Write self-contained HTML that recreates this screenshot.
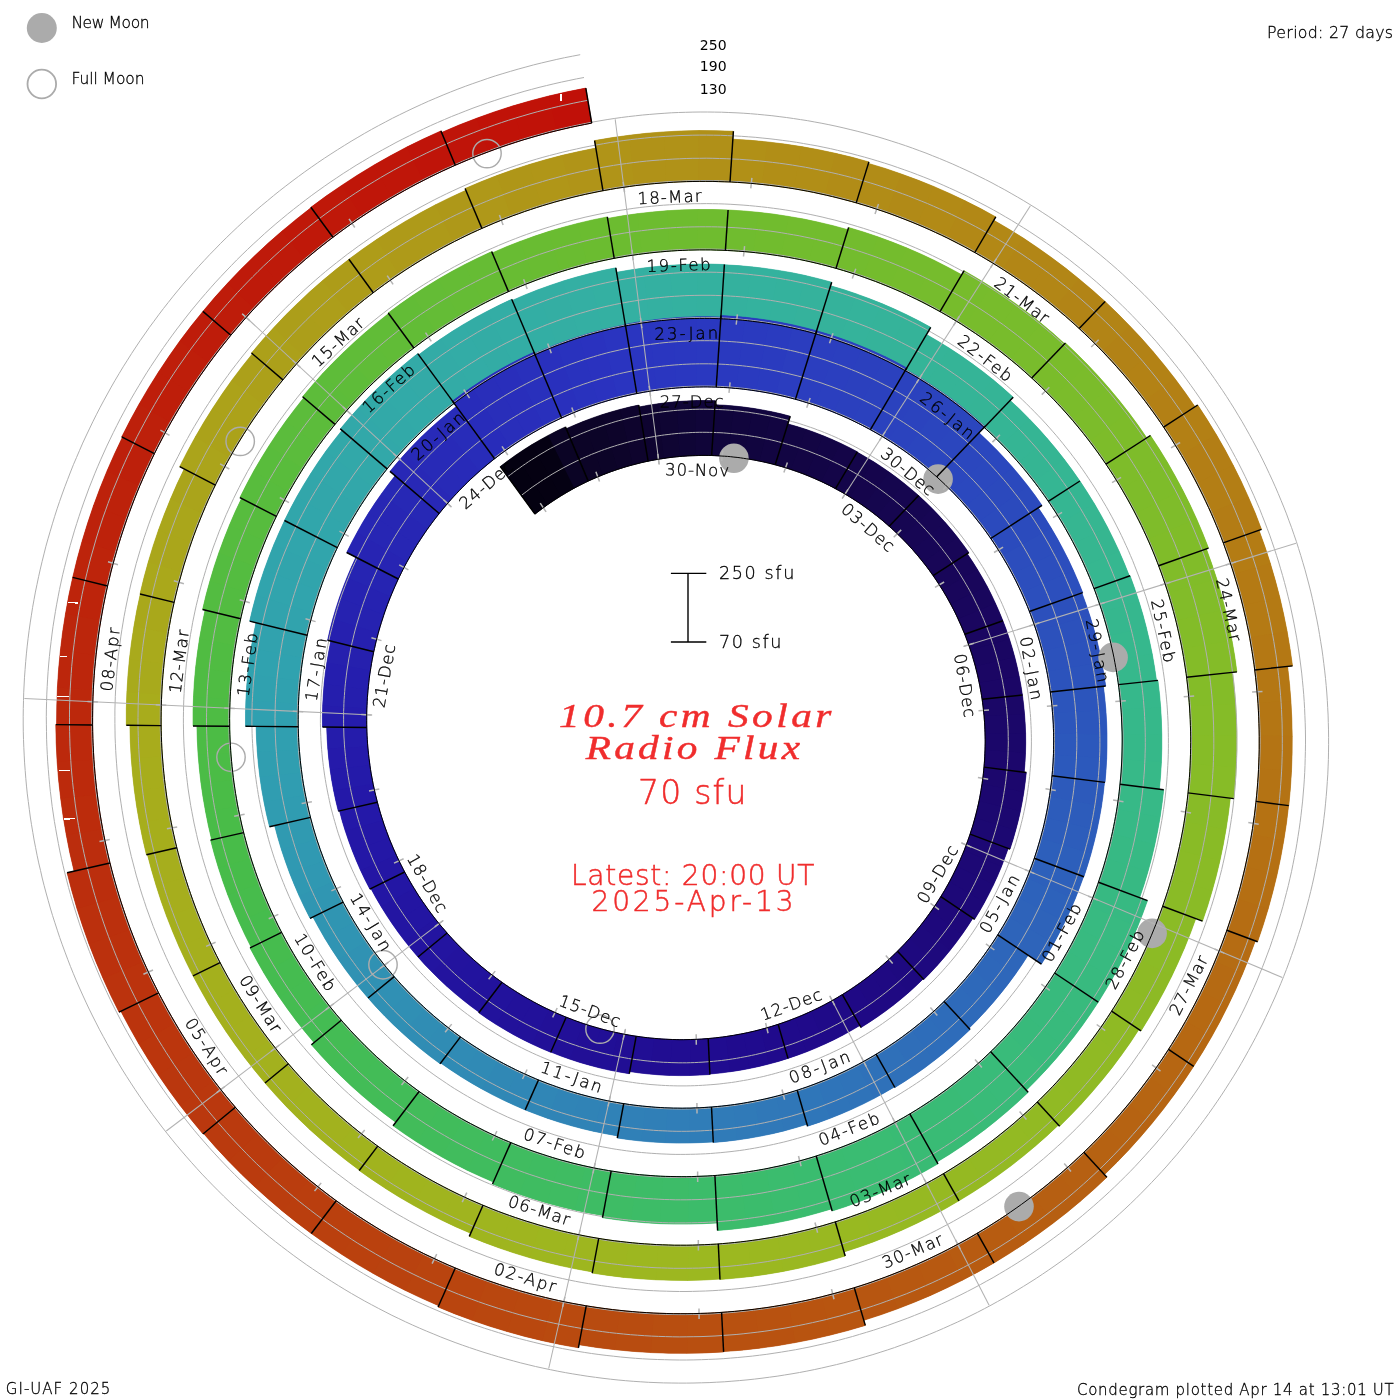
<!DOCTYPE html>
<html lang="en"><head><meta charset="utf-8"><title>10.7 cm Solar Radio Flux condegram</title>
<style>
html,body{margin:0;padding:0;background:#fff;}
body{width:1400px;height:1400px;overflow:hidden;}
svg{display:block;}
text{font-family:'DejaVu Sans Light','DejaVu Sans','Liberation Sans',sans-serif;font-weight:200;stroke:#000;stroke-width:0.3px;}
.k{font-weight:400;font-family:'DejaVu Sans','Liberation Sans',sans-serif;stroke:none;}
.r{fill:#f02d2d;stroke:#f02d2d;stroke-width:0.5px;}
.ti{font-family:'Liberation Serif','DejaVu Serif',serif;font-style:italic;font-weight:400;stroke-width:0.45px;}
</style></head><body>
<svg width="1400" height="1400" viewBox="0 0 1400 1400">
<rect width="1400" height="1400" fill="#fff"/>
<g stroke="none">
<path d="M455.3,165.2 L471.8,158.3 L488.4,151.8 L505.2,145.8 L522.2,140.2 L539.4,135.2 L556.7,130.7 L574.1,126.7 L591.7,123.1 L585.8,88.1 L567.2,91.8 L548.8,96.0 L530.5,100.8 L512.3,106.1 L494.3,111.9 L476.5,118.3 L458.9,125.1 L441.6,132.5Z" fill="#c01208" stroke="#c01208" stroke-width="0.6"/>
<path d="M455.3,165.2 L472.2,158.1 L489.2,151.5 L477.4,117.9 L459.4,124.9 L441.6,132.5Z" fill="#bf1409"/>
<path d="M488.4,151.8 L505.6,145.6 L523.0,140.0 L513.2,105.8 L494.8,111.8 L476.5,118.3Z" fill="#c01208"/>
<path d="M522.2,140.2 L539.8,135.1 L557.5,130.5 L549.7,95.8 L530.9,100.7 L512.3,106.1Z" fill="#c01208"/>
<path d="M556.7,130.7 L574.1,126.7 L591.7,123.1 L585.8,88.1 L567.2,91.8 L548.8,96.0Z" fill="#c01008"/>
<path d="M332.9,237.3 L347.2,226.8 L361.8,216.7 L376.8,207.0 L392.0,197.8 L407.4,188.9 L423.2,180.6 L439.1,172.7 L455.3,165.2 L440.9,130.9 L423.7,138.8 L406.7,147.1 L390.0,156.0 L373.6,165.3 L357.5,175.1 L341.7,185.4 L326.1,196.1 L310.9,207.3Z" fill="#bf1609" stroke="#bf1609" stroke-width="0.6"/>
<path d="M332.9,237.3 L347.6,226.6 L362.5,216.2 L342.4,184.9 L326.5,195.8 L310.9,207.3Z" fill="#bf1809"/>
<path d="M361.8,216.7 L377.1,206.8 L392.7,197.3 L374.4,164.9 L357.9,174.9 L341.7,185.4Z" fill="#bf1609"/>
<path d="M392.0,197.8 L407.8,188.7 L423.9,180.2 L407.6,146.7 L390.4,155.8 L373.6,165.3Z" fill="#bf1609"/>
<path d="M423.2,180.6 L439.1,172.7 L455.3,165.2 L440.9,130.9 L423.7,138.8 L406.7,147.1Z" fill="#bf1409"/>
<path d="M230.8,335.3 L242.3,321.8 L254.1,308.7 L266.3,295.9 L279.0,283.4 L291.9,271.3 L305.2,259.6 L318.9,248.3 L332.9,237.3 L311.2,207.6 L296.4,219.2 L281.9,231.2 L267.7,243.6 L254.0,256.4 L240.6,269.6 L227.6,283.2 L215.0,297.1 L202.9,311.4Z" fill="#be1a0a" stroke="#be1a0a" stroke-width="0.6"/>
<path d="M230.8,335.3 L242.6,321.5 L254.7,308.1 L228.2,282.5 L215.3,296.8 L202.9,311.4Z" fill="#be1c0a"/>
<path d="M254.1,308.7 L266.6,295.6 L279.6,282.8 L254.6,255.8 L240.9,269.3 L227.6,283.2Z" fill="#be1a0a"/>
<path d="M279.0,283.4 L292.2,271.0 L305.9,259.0 L282.5,230.6 L268.1,243.3 L254.0,256.4Z" fill="#be1a0a"/>
<path d="M305.2,259.6 L318.9,248.3 L332.9,237.3 L311.2,207.6 L296.4,219.2 L281.9,231.2Z" fill="#bf1809"/>
<path d="M154.4,453.7 L162.4,438.0 L170.9,422.6 L179.8,407.3 L189.1,392.4 L198.9,377.7 L209.1,363.3 L219.8,349.1 L230.8,335.3 L202.9,311.4 L191.1,326.1 L179.8,341.0 L169.0,356.3 L158.6,371.9 L148.7,387.7 L139.2,403.9 L130.2,420.3 L121.7,436.9Z" fill="#be1e0a" stroke="#be1e0a" stroke-width="0.6"/>
<path d="M154.4,453.7 L162.6,437.7 L171.3,421.8 L139.6,403.1 L130.4,419.9 L121.7,436.9Z" fill="#bd200b"/>
<path d="M170.9,422.6 L180.0,407.0 L189.6,391.7 L159.1,371.1 L148.9,387.4 L139.2,403.9Z" fill="#be1e0a"/>
<path d="M189.1,392.4 L199.2,377.3 L209.6,362.6 L180.4,340.3 L169.2,355.9 L158.6,371.9Z" fill="#be1e0a"/>
<path d="M209.1,363.3 L219.8,349.1 L230.8,335.3 L202.9,311.4 L191.1,326.1 L179.8,341.0Z" fill="#be1c0a"/>
<path d="M107.6,586.0 L111.7,569.0 L116.4,552.0 L121.5,535.2 L127.1,518.6 L133.2,502.1 L139.8,485.8 L146.9,469.7 L154.4,453.7 L122.4,437.3 L114.4,454.2 L106.9,471.2 L99.9,488.5 L93.4,506.0 L87.5,523.6 L82.0,541.4 L77.1,559.3 L72.7,577.4Z" fill="#bd220b" stroke="#bd220b" stroke-width="0.6"/>
<path d="M107.6,586.0 L111.8,568.6 L116.6,551.2 L82.3,540.5 L77.2,558.9 L72.7,577.4Z" fill="#bd240b"/>
<path d="M116.4,552.0 L121.6,534.8 L127.4,517.8 L93.7,505.1 L87.6,523.2 L82.0,541.4Z" fill="#bd220b"/>
<path d="M127.1,518.6 L133.4,501.7 L140.2,485.0 L107.3,470.4 L100.1,488.1 L93.4,506.0Z" fill="#bd220b"/>
<path d="M139.8,485.8 L146.9,469.7 L154.4,453.7 L122.4,437.3 L114.4,454.2 L106.9,471.2Z" fill="#bd200b"/>
<path d="M92.6,724.9 L92.7,707.5 L93.3,690.0 L94.4,672.5 L96.1,655.1 L98.2,637.7 L100.8,620.4 L104.0,603.2 L107.6,586.0 L72.7,577.4 L68.8,595.6 L65.5,613.8 L62.6,632.2 L60.4,650.6 L58.6,669.1 L57.4,687.6 L56.8,706.1 L56.6,724.6Z" fill="#bc260c" stroke="#bc260c" stroke-width="0.6"/>
<path d="M92.6,724.9 L92.7,707.0 L93.4,689.2 L57.5,686.7 L56.8,705.6 L56.6,724.6Z" fill="#bc280c"/>
<path d="M93.3,690.0 L94.5,672.1 L96.1,654.3 L60.5,649.7 L58.7,668.6 L57.4,687.6Z" fill="#bc260c"/>
<path d="M96.1,655.1 L98.2,637.3 L101.0,619.6 L65.6,613.0 L62.7,631.8 L60.4,650.6Z" fill="#bc260c"/>
<path d="M100.8,620.4 L104.0,603.2 L107.6,586.0 L72.7,577.4 L68.8,595.6 L65.5,613.8Z" fill="#bd240b"/>
<path d="M110.0,863.0 L106.1,846.0 L102.7,829.0 L99.7,811.8 L97.3,794.5 L95.4,777.2 L94.0,759.8 L93.0,742.4 L92.6,724.9 L55.8,724.6 L56.2,743.1 L57.1,761.6 L58.6,780.1 L60.7,798.5 L63.2,816.8 L66.3,835.0 L69.9,853.2 L74.1,871.2Z" fill="#bc2b0c" stroke="#bc2b0c" stroke-width="0.6"/>
<path d="M110.0,863.0 L106.0,845.6 L102.5,828.2 L66.2,834.2 L69.8,852.7 L74.1,871.2Z" fill="#bb2d0d"/>
<path d="M102.7,829.0 L99.7,811.4 L97.2,793.7 L60.5,797.6 L63.2,816.4 L66.3,835.0Z" fill="#bc2c0c"/>
<path d="M97.3,794.5 L95.3,776.8 L93.9,759.0 L57.1,760.8 L58.6,779.7 L60.7,798.5Z" fill="#bc2a0c"/>
<path d="M94.0,759.8 L93.0,742.4 L92.6,724.9 L55.8,724.6 L56.2,743.1 L57.1,761.6Z" fill="#bc290c"/>
<path d="M158.6,992.8 L150.9,977.2 L143.6,961.5 L136.9,945.5 L130.5,929.4 L124.7,913.0 L119.3,896.5 L114.4,879.8 L110.0,863.0 L67.1,872.8 L71.8,890.8 L77.0,908.7 L82.8,926.5 L89.0,944.0 L95.8,961.4 L103.1,978.6 L110.8,995.5 L119.1,1012.2Z" fill="#bb310d" stroke="#bb310d" stroke-width="0.6"/>
<path d="M158.6,992.8 L150.7,976.9 L143.3,960.7 L102.7,977.7 L110.6,995.1 L119.1,1012.2Z" fill="#bb330d"/>
<path d="M143.6,961.5 L136.7,945.1 L130.3,928.6 L88.7,943.2 L95.6,961.0 L103.1,978.6Z" fill="#bb310d"/>
<path d="M130.5,929.4 L124.6,912.6 L119.1,895.7 L76.8,907.9 L82.6,926.1 L89.0,944.0Z" fill="#bb300d"/>
<path d="M119.3,896.5 L114.4,879.8 L110.0,863.0 L67.1,872.8 L71.8,890.8 L77.0,908.7Z" fill="#bb2e0d"/>
<path d="M235.4,1107.3 L224.4,1094.1 L213.8,1080.5 L203.6,1066.5 L193.7,1052.3 L184.3,1037.8 L175.3,1023.1 L166.7,1008.0 L158.6,992.8 L120.9,1011.3 L129.6,1027.6 L138.7,1043.7 L148.4,1059.6 L158.4,1075.1 L168.9,1090.3 L179.9,1105.2 L191.3,1119.8 L203.0,1134.0Z" fill="#bb360d" stroke="#bb360d" stroke-width="0.6"/>
<path d="M235.4,1107.3 L224.2,1093.7 L213.3,1079.8 L179.4,1104.5 L191.0,1119.4 L203.0,1134.0Z" fill="#ba380e"/>
<path d="M213.8,1080.5 L203.3,1066.2 L193.3,1051.7 L157.9,1074.4 L168.7,1090.0 L179.9,1105.2Z" fill="#ba370e"/>
<path d="M193.7,1052.3 L184.1,1037.5 L174.9,1022.4 L138.3,1043.0 L148.1,1059.2 L158.4,1075.1Z" fill="#bb360d"/>
<path d="M175.3,1023.1 L166.7,1008.0 L158.6,992.8 L120.9,1011.3 L129.6,1027.6 L138.7,1043.7Z" fill="#bb340d"/>
<path d="M336.2,1200.7 L322.5,1190.3 L309.1,1179.6 L296.0,1168.5 L283.2,1157.0 L270.7,1145.1 L258.6,1132.9 L246.8,1120.3 L235.4,1107.3 L203.6,1133.5 L215.8,1147.4 L228.4,1160.9 L241.3,1174.0 L254.6,1186.7 L268.3,1199.0 L282.3,1210.9 L296.7,1222.4 L311.3,1233.5Z" fill="#ba3c0e" stroke="#ba3c0e" stroke-width="0.6"/>
<path d="M336.2,1200.7 L322.2,1190.1 L308.4,1179.1 L281.6,1210.4 L296.3,1222.2 L311.3,1233.5Z" fill="#ba3e0e"/>
<path d="M309.1,1179.6 L295.7,1168.2 L282.6,1156.4 L254.0,1186.1 L268.0,1198.7 L282.3,1210.9Z" fill="#ba3d0e"/>
<path d="M283.2,1157.0 L270.4,1144.8 L258.0,1132.3 L227.8,1160.2 L241.0,1173.7 L254.6,1186.7Z" fill="#ba3b0e"/>
<path d="M258.6,1132.9 L246.8,1120.3 L235.4,1107.3 L203.6,1133.5 L215.8,1147.4 L228.4,1160.9Z" fill="#ba3a0e"/>
<path d="M455.3,1268.0 L439.7,1261.1 L424.2,1253.8 L408.9,1246.0 L393.9,1237.8 L379.1,1229.2 L364.5,1220.1 L350.2,1210.6 L336.2,1200.7 L311.3,1233.5 L326.3,1244.1 L341.6,1254.3 L357.1,1264.1 L373.0,1273.3 L389.0,1282.1 L405.4,1290.5 L421.9,1298.3 L438.7,1305.7Z" fill="#b9420f" stroke="#b9420f" stroke-width="0.6"/>
<path d="M455.3,1268.0 L439.3,1260.9 L423.4,1253.4 L404.6,1290.1 L421.5,1298.1 L438.7,1305.7Z" fill="#b9440f"/>
<path d="M424.2,1253.8 L408.6,1245.8 L393.2,1237.4 L372.2,1272.9 L388.6,1281.9 L405.4,1290.5Z" fill="#b9420f"/>
<path d="M393.9,1237.8 L378.7,1229.0 L363.8,1219.6 L340.8,1253.8 L356.8,1263.8 L373.0,1273.3Z" fill="#ba410e"/>
<path d="M364.5,1220.1 L350.2,1210.6 L336.2,1200.7 L311.3,1233.5 L326.3,1244.1 L341.6,1254.3Z" fill="#ba400e"/>
<path d="M586.2,1305.8 L569.4,1302.8 L552.7,1299.2 L536.2,1295.2 L519.7,1290.7 L503.4,1285.7 L487.2,1280.3 L471.2,1274.4 L455.3,1268.0 L438.1,1307.0 L455.0,1313.9 L472.2,1320.3 L489.6,1326.2 L507.1,1331.5 L524.7,1336.4 L542.5,1340.7 L560.4,1344.5 L578.4,1347.8Z" fill="#b9470f" stroke="#b9470f" stroke-width="0.6"/>
<path d="M586.2,1305.8 L569.0,1302.7 L551.9,1299.0 L541.7,1340.5 L560.0,1344.4 L578.4,1347.8Z" fill="#b94a0f"/>
<path d="M552.7,1299.2 L535.8,1295.1 L518.9,1290.5 L506.2,1331.3 L524.3,1336.3 L542.5,1340.7Z" fill="#b9480f"/>
<path d="M519.7,1290.7 L503.0,1285.6 L486.4,1280.0 L471.4,1320.0 L489.2,1326.0 L507.1,1331.5Z" fill="#b9470f"/>
<path d="M487.2,1280.3 L471.2,1274.4 L455.3,1268.0 L438.1,1307.0 L455.0,1313.9 L472.2,1320.3Z" fill="#b9450f"/>
<path d="M721.6,1312.4 L704.7,1313.3 L687.7,1313.7 L670.7,1313.6 L653.8,1313.0 L636.8,1312.0 L619.9,1310.4 L603.0,1308.3 L586.2,1305.8 L578.9,1344.7 L596.9,1347.5 L614.9,1349.7 L633.0,1351.4 L651.1,1352.6 L669.2,1353.2 L687.4,1353.3 L705.5,1352.9 L723.6,1351.9Z" fill="#b84d10" stroke="#b84d10" stroke-width="0.6"/>
<path d="M721.6,1312.4 L704.3,1313.3 L686.9,1313.7 L686.5,1353.3 L705.0,1352.9 L723.6,1351.9Z" fill="#b84f10"/>
<path d="M687.7,1313.7 L670.3,1313.6 L653.0,1313.0 L650.2,1352.5 L668.8,1353.2 L687.4,1353.3Z" fill="#b84e10"/>
<path d="M653.8,1313.0 L636.4,1311.9 L619.1,1310.3 L614.1,1349.6 L632.6,1351.3 L651.1,1352.6Z" fill="#b84c10"/>
<path d="M619.9,1310.4 L603.0,1308.3 L586.2,1305.8 L578.9,1344.7 L596.9,1347.5 L614.9,1349.7Z" fill="#b84b10"/>
<path d="M854.3,1287.7 L838.2,1292.4 L821.8,1296.7 L805.3,1300.6 L788.8,1303.9 L772.1,1306.7 L755.3,1309.1 L738.5,1311.0 L721.6,1312.4 L723.5,1351.6 L741.6,1350.2 L759.5,1348.2 L777.4,1345.7 L795.2,1342.6 L812.9,1339.1 L830.5,1335.0 L848.0,1330.5 L865.3,1325.4Z" fill="#b85310" stroke="#b85310" stroke-width="0.6"/>
<path d="M854.3,1287.7 L837.8,1292.6 L821.0,1296.9 L829.7,1335.3 L847.6,1330.6 L865.3,1325.4Z" fill="#b85510"/>
<path d="M821.8,1296.7 L805.0,1300.6 L788.0,1304.0 L794.4,1342.8 L812.5,1339.2 L830.5,1335.0Z" fill="#b85410"/>
<path d="M788.8,1303.9 L771.7,1306.8 L754.5,1309.2 L758.7,1348.3 L777.0,1345.7 L795.2,1342.6Z" fill="#b85210"/>
<path d="M755.3,1309.1 L738.5,1311.0 L721.6,1312.4 L723.5,1351.6 L741.6,1350.2 L759.5,1348.2Z" fill="#b85110"/>
<path d="M977.3,1233.2 L962.7,1241.6 L947.8,1249.5 L932.8,1257.0 L917.5,1264.0 L902.0,1270.6 L886.3,1276.8 L870.4,1282.5 L854.3,1287.7 L863.8,1320.3 L880.8,1314.8 L897.6,1308.8 L914.2,1302.3 L930.6,1295.4 L946.8,1287.9 L962.8,1280.0 L978.5,1271.7 L994.0,1262.9Z" fill="#b75911" stroke="#b75911" stroke-width="0.6"/>
<path d="M977.3,1233.2 L962.3,1241.8 L947.1,1249.9 L962.0,1280.4 L978.2,1271.9 L994.0,1262.9Z" fill="#b75b11"/>
<path d="M947.8,1249.5 L932.4,1257.1 L916.7,1264.3 L929.9,1295.7 L946.5,1288.1 L962.8,1280.0Z" fill="#b75911"/>
<path d="M917.5,1264.0 L901.6,1270.8 L885.5,1277.0 L896.8,1309.1 L913.8,1302.5 L930.6,1295.4Z" fill="#b75811"/>
<path d="M886.3,1276.8 L870.4,1282.5 L854.3,1287.7 L863.8,1320.3 L880.8,1314.8 L897.6,1308.8Z" fill="#b75611"/>
<path d="M1083.8,1152.3 L1071.6,1163.7 L1059.1,1174.8 L1046.2,1185.5 L1033.0,1195.8 L1019.5,1205.8 L1005.7,1215.3 L991.6,1224.5 L977.3,1233.2 L994.0,1262.9 L1009.2,1253.6 L1024.1,1243.9 L1038.7,1233.8 L1053.0,1223.3 L1067.0,1212.4 L1080.7,1201.0 L1094.0,1189.3 L1106.9,1177.2Z" fill="#b75e11" stroke="#b75e11" stroke-width="0.6"/>
<path d="M1083.8,1152.3 L1071.3,1164.0 L1058.4,1175.3 L1080.0,1201.6 L1093.7,1189.6 L1106.9,1177.2Z" fill="#b66012"/>
<path d="M1059.1,1174.8 L1045.9,1185.7 L1032.3,1196.3 L1052.3,1223.8 L1066.7,1212.6 L1080.7,1201.0Z" fill="#b65f12"/>
<path d="M1033.0,1195.8 L1019.1,1206.0 L1005.0,1215.8 L1023.4,1244.4 L1038.4,1234.1 L1053.0,1223.3Z" fill="#b75e11"/>
<path d="M1005.7,1215.3 L991.6,1224.5 L977.3,1233.2 L994.0,1262.9 L1009.2,1253.6 L1024.1,1243.9Z" fill="#b75c11"/>
<path d="M1168.5,1049.4 L1159.3,1063.3 L1149.6,1076.9 L1139.6,1090.2 L1129.2,1103.2 L1118.4,1116.0 L1107.2,1128.4 L1095.7,1140.5 L1083.8,1152.3 L1104.5,1174.6 L1117.0,1162.2 L1129.2,1149.5 L1140.9,1136.4 L1152.3,1123.0 L1163.3,1109.3 L1173.8,1095.2 L1184.0,1080.9 L1193.7,1066.3Z" fill="#b66412" stroke="#b66412" stroke-width="0.6"/>
<path d="M1168.5,1049.4 L1159.0,1063.6 L1149.2,1077.5 L1173.3,1095.9 L1183.8,1081.3 L1193.7,1066.3Z" fill="#b66612"/>
<path d="M1149.6,1076.9 L1139.4,1090.5 L1128.7,1103.9 L1151.8,1123.6 L1163.0,1109.6 L1173.8,1095.2Z" fill="#b66512"/>
<path d="M1129.2,1103.2 L1118.1,1116.3 L1106.7,1129.0 L1128.6,1150.1 L1140.6,1136.7 L1152.3,1123.0Z" fill="#b66312"/>
<path d="M1107.2,1128.4 L1095.7,1140.5 L1083.8,1152.3 L1104.5,1174.6 L1117.0,1162.2 L1129.2,1149.5Z" fill="#b66212"/>
<path d="M1226.8,930.2 L1221.1,945.8 L1214.9,961.2 L1208.3,976.4 L1201.2,991.4 L1193.6,1006.3 L1185.7,1020.9 L1177.3,1035.2 L1168.5,1049.4 L1193.7,1066.3 L1203.0,1051.4 L1211.9,1036.3 L1220.3,1020.9 L1228.2,1005.3 L1235.7,989.5 L1242.7,973.5 L1249.2,957.3 L1255.3,940.9Z" fill="#b56a13" stroke="#b56a13" stroke-width="0.6"/>
<path d="M1226.8,930.2 L1221.0,946.2 L1214.6,961.9 L1242.4,974.3 L1249.1,957.7 L1255.3,940.9Z" fill="#b56c13"/>
<path d="M1214.9,961.2 L1208.1,976.8 L1200.8,992.2 L1227.8,1006.1 L1235.5,989.9 L1242.7,973.5Z" fill="#b56a13"/>
<path d="M1201.2,991.4 L1193.5,1006.6 L1185.3,1021.6 L1211.4,1037.0 L1220.1,1021.3 L1228.2,1005.3Z" fill="#b66912"/>
<path d="M1185.7,1020.9 L1177.3,1035.2 L1168.5,1049.4 L1193.7,1066.3 L1203.0,1051.4 L1211.9,1036.3Z" fill="#b66812"/>
<path d="M1256.0,801.4 L1254.0,817.8 L1251.6,834.2 L1248.6,850.4 L1245.2,866.6 L1241.3,882.7 L1237.0,898.7 L1232.1,914.5 L1226.8,930.2 L1257.6,941.7 L1263.2,925.1 L1268.3,908.4 L1272.9,891.5 L1277.1,874.5 L1280.7,857.4 L1283.8,840.2 L1286.5,822.9 L1288.6,805.5Z" fill="#b56f13" stroke="#b56f13" stroke-width="0.6"/>
<path d="M1256.0,801.4 L1254.0,818.2 L1251.4,834.9 L1283.7,841.0 L1286.4,823.3 L1288.6,805.5Z" fill="#b57213"/>
<path d="M1251.6,834.2 L1248.5,850.8 L1245.0,867.4 L1276.9,875.3 L1280.6,857.8 L1283.8,840.2Z" fill="#b57013"/>
<path d="M1245.2,866.6 L1241.2,883.1 L1236.7,899.4 L1268.1,909.2 L1272.8,891.9 L1277.1,874.5Z" fill="#b56f13"/>
<path d="M1237.0,898.7 L1232.1,914.5 L1226.8,930.2 L1257.6,941.7 L1263.2,925.1 L1268.3,908.4Z" fill="#b56d13"/>
<path d="M1254.7,670.0 L1256.5,686.3 L1257.9,702.7 L1258.8,719.1 L1259.2,735.6 L1259.1,752.1 L1258.6,768.5 L1257.5,785.0 L1256.0,801.4 L1288.8,805.6 L1290.4,788.2 L1291.5,770.8 L1292.1,753.3 L1292.2,735.9 L1291.8,718.5 L1290.9,701.1 L1289.5,683.7 L1287.6,666.4Z" fill="#b47514" stroke="#b47514" stroke-width="0.6"/>
<path d="M1254.7,670.0 L1256.6,686.7 L1258.0,703.5 L1291.0,701.9 L1289.5,684.1 L1287.6,666.4Z" fill="#b47714"/>
<path d="M1257.9,702.7 L1258.8,719.5 L1259.2,736.4 L1292.2,736.7 L1291.8,718.9 L1290.9,701.1Z" fill="#b47614"/>
<path d="M1259.2,735.6 L1259.1,752.5 L1258.5,769.3 L1291.5,771.6 L1292.1,753.7 L1292.2,735.9Z" fill="#b47414"/>
<path d="M1258.6,768.5 L1257.5,785.0 L1256.0,801.4 L1288.8,805.6 L1290.4,788.2 L1291.5,770.8Z" fill="#b47314"/>
<path d="M1223.2,542.9 L1228.8,558.3 L1233.8,573.9 L1238.5,589.6 L1242.6,605.4 L1246.4,621.4 L1249.6,637.5 L1252.4,653.7 L1254.7,670.0 L1292.5,665.9 L1290.0,648.5 L1287.1,631.3 L1283.6,614.1 L1279.7,597.0 L1275.2,580.1 L1270.3,563.3 L1264.9,546.7 L1259.0,530.2Z" fill="#b47a14" stroke="#b47a14" stroke-width="0.6"/>
<path d="M1223.2,542.9 L1228.9,558.7 L1234.1,574.6 L1270.6,564.1 L1265.1,547.1 L1259.0,530.2Z" fill="#b47c14"/>
<path d="M1233.8,573.9 L1238.6,590.0 L1242.8,606.2 L1279.9,597.8 L1275.4,580.5 L1270.3,563.3Z" fill="#b47a14"/>
<path d="M1242.6,605.4 L1246.4,621.8 L1249.8,638.3 L1287.2,632.1 L1283.7,614.5 L1279.7,597.0Z" fill="#b47a14"/>
<path d="M1249.6,637.5 L1252.4,653.7 L1254.7,670.0 L1292.5,665.9 L1290.0,648.5 L1287.1,631.3Z" fill="#b47814"/>
<path d="M1163.6,427.1 L1172.5,440.7 L1181.0,454.6 L1189.0,468.8 L1196.7,483.2 L1204.0,497.8 L1210.8,512.6 L1217.3,527.7 L1223.2,542.9 L1261.5,529.4 L1255.2,513.0 L1248.3,496.9 L1241.0,481.0 L1233.2,465.3 L1225.0,449.8 L1216.3,434.6 L1207.2,419.7 L1197.7,405.0Z" fill="#b37e15" stroke="#b37e15" stroke-width="0.6"/>
<path d="M1163.6,427.1 L1172.7,441.0 L1181.4,455.3 L1216.8,435.4 L1207.5,420.1 L1197.7,405.0Z" fill="#b38015"/>
<path d="M1181.0,454.6 L1189.2,469.1 L1197.1,483.9 L1233.6,466.0 L1225.2,450.2 L1216.3,434.6Z" fill="#b37e15"/>
<path d="M1196.7,483.2 L1204.2,498.2 L1211.2,513.4 L1248.6,497.7 L1241.2,481.3 L1233.2,465.3Z" fill="#b37e15"/>
<path d="M1210.8,512.6 L1217.3,527.7 L1223.2,542.9 L1261.5,529.4 L1255.2,513.0 L1248.3,496.9Z" fill="#b37c15"/>
<path d="M1079.2,328.6 L1090.9,339.7 L1102.3,351.3 L1113.4,363.1 L1124.2,375.3 L1134.6,387.8 L1144.6,400.6 L1154.3,413.7 L1163.6,427.1 L1195.0,406.8 L1185.1,392.5 L1174.8,378.5 L1164.1,364.9 L1153.0,351.5 L1141.6,338.5 L1129.8,325.9 L1117.6,313.5 L1105.1,301.6Z" fill="#b38215" stroke="#b38215" stroke-width="0.6"/>
<path d="M1079.2,328.6 L1091.2,340.0 L1102.9,351.8 L1130.3,326.5 L1117.9,313.8 L1105.1,301.6Z" fill="#b28416"/>
<path d="M1102.3,351.3 L1113.7,363.4 L1124.7,375.9 L1153.6,352.2 L1141.9,338.8 L1129.8,325.9Z" fill="#b28216"/>
<path d="M1124.2,375.3 L1134.8,388.1 L1145.1,401.2 L1175.3,379.2 L1164.4,365.2 L1153.0,351.5Z" fill="#b38215"/>
<path d="M1144.6,400.6 L1154.3,413.7 L1163.6,427.1 L1195.0,406.8 L1185.1,392.5 L1174.8,378.5Z" fill="#b38015"/>
<path d="M974.8,252.5 L988.7,260.7 L1002.5,269.2 L1015.9,278.1 L1029.1,287.5 L1042.1,297.2 L1054.7,307.3 L1067.1,317.7 L1079.2,328.6 L1105.1,301.6 L1092.2,290.0 L1079.0,278.9 L1065.5,268.1 L1051.7,257.7 L1037.6,247.7 L1023.3,238.1 L1008.7,229.0 L993.8,220.3Z" fill="#b28616" stroke="#b28616" stroke-width="0.6"/>
<path d="M974.8,252.5 L989.1,260.9 L1003.1,269.6 L1024.0,238.6 L1009.0,229.2 L993.8,220.3Z" fill="#b28816"/>
<path d="M1002.5,269.2 L1016.2,278.4 L1029.8,287.9 L1052.4,258.2 L1038.0,247.9 L1023.3,238.1Z" fill="#b28616"/>
<path d="M1029.1,287.5 L1042.4,297.4 L1055.3,307.8 L1079.7,279.4 L1065.9,268.3 L1051.7,257.7Z" fill="#b28616"/>
<path d="M1054.7,307.3 L1067.1,317.7 L1079.2,328.6 L1105.1,301.6 L1092.2,290.0 L1079.0,278.9Z" fill="#b28416"/>
<path d="M856.2,202.9 L871.6,207.5 L886.9,212.7 L902.0,218.2 L916.9,224.2 L931.7,230.7 L946.2,237.5 L960.6,244.8 L974.8,252.5 L995.8,216.9 L980.6,208.6 L965.1,200.8 L949.5,193.4 L933.6,186.4 L917.6,180.0 L901.3,174.0 L885.0,168.4 L868.5,163.4Z" fill="#b18a17" stroke="#b18a17" stroke-width="0.6"/>
<path d="M856.2,202.9 L872.0,207.7 L887.6,212.9 L902.1,174.2 L885.4,168.6 L868.5,163.4Z" fill="#b18c17"/>
<path d="M886.9,212.7 L902.3,218.4 L917.6,224.5 L934.4,186.7 L918.0,180.1 L901.3,174.0Z" fill="#b18a17"/>
<path d="M916.9,224.2 L932.0,230.8 L946.9,237.9 L965.9,201.1 L949.8,193.5 L933.6,186.4Z" fill="#b28a16"/>
<path d="M946.2,237.5 L960.6,244.8 L974.8,252.5 L995.8,216.9 L980.6,208.6 L965.1,200.8Z" fill="#b28816"/>
<path d="M730.0,182.0 L746.0,183.0 L761.9,184.4 L777.8,186.4 L793.7,188.7 L809.4,191.6 L825.1,194.9 L840.7,198.7 L856.2,202.9 L868.9,161.9 L852.2,157.3 L835.4,153.3 L818.5,149.7 L801.5,146.6 L784.4,144.0 L767.3,141.9 L750.1,140.3 L732.9,139.2Z" fill="#b18e17" stroke="#b18e17" stroke-width="0.6"/>
<path d="M730.0,182.0 L746.4,183.0 L762.7,184.5 L768.1,142.0 L750.5,140.3 L732.9,139.2Z" fill="#b19017"/>
<path d="M761.9,184.4 L778.2,186.4 L794.4,188.9 L802.3,146.7 L784.8,144.1 L767.3,141.9Z" fill="#b18e17"/>
<path d="M793.7,188.7 L809.8,191.7 L825.9,195.1 L836.2,153.4 L818.9,149.8 L801.5,146.6Z" fill="#b18e17"/>
<path d="M825.1,194.9 L840.7,198.7 L856.2,202.9 L868.9,161.9 L852.2,157.3 L835.4,153.3Z" fill="#b18c17"/>
<path d="M603.0,190.8 L618.6,188.0 L634.4,185.8 L650.3,184.0 L666.1,182.7 L682.1,181.8 L698.0,181.4 L714.0,181.5 L730.0,182.0 L733.4,131.3 L716.0,130.7 L698.5,130.6 L681.1,131.0 L663.7,131.9 L646.3,133.3 L629.0,135.3 L611.7,137.7 L594.6,140.6Z" fill="#b09218" stroke="#b09218" stroke-width="0.6"/>
<path d="M603.0,190.8 L619.0,188.0 L635.2,185.7 L629.8,135.2 L612.1,137.6 L594.6,140.6Z" fill="#b09418"/>
<path d="M634.4,185.8 L650.6,184.0 L666.9,182.6 L664.5,131.9 L646.7,133.3 L629.0,135.3Z" fill="#b09218"/>
<path d="M666.1,182.7 L682.5,181.8 L698.8,181.4 L699.4,130.6 L681.5,131.0 L663.7,131.9Z" fill="#b09218"/>
<path d="M698.0,181.4 L714.0,181.5 L730.0,182.0 L733.4,131.3 L716.0,130.7 L698.5,130.6Z" fill="#b09018"/>
<path d="M481.9,228.4 L496.5,222.2 L511.2,216.4 L526.2,211.0 L541.3,206.1 L556.5,201.6 L571.9,197.5 L587.4,193.9 L603.0,190.8 L595.8,148.1 L579.0,151.5 L562.3,155.3 L545.7,159.7 L529.2,164.5 L512.9,169.8 L496.8,175.6 L480.9,181.8 L465.1,188.5Z" fill="#af9618" stroke="#af9618" stroke-width="0.6"/>
<path d="M481.9,228.4 L496.8,222.0 L512.0,216.1 L497.6,175.3 L481.3,181.7 L465.1,188.5Z" fill="#af9819"/>
<path d="M511.2,216.4 L526.5,210.9 L542.0,205.9 L530.0,164.3 L513.3,169.7 L496.8,175.6Z" fill="#af9618"/>
<path d="M541.3,206.1 L556.9,201.5 L572.6,197.3 L563.1,155.1 L546.1,159.6 L529.2,164.5Z" fill="#b09618"/>
<path d="M571.9,197.5 L587.4,193.9 L603.0,190.8 L595.8,148.1 L579.0,151.5 L562.3,155.3Z" fill="#b09418"/>
<path d="M373.3,292.7 L386.0,283.3 L399.0,274.3 L412.2,265.7 L425.7,257.4 L439.4,249.6 L453.4,242.1 L467.5,235.1 L481.9,228.4 L465.9,190.3 L450.4,197.4 L435.1,205.0 L420.1,213.0 L405.3,221.4 L390.8,230.3 L376.6,239.6 L362.6,249.2 L348.9,259.3Z" fill="#ae9a19" stroke="#ae9a19" stroke-width="0.6"/>
<path d="M373.3,292.7 L386.3,283.1 L399.6,273.9 L377.3,239.1 L362.9,249.0 L348.9,259.3Z" fill="#ae9c19"/>
<path d="M399.0,274.3 L412.5,265.5 L426.3,257.0 L406.0,221.0 L391.2,230.1 L376.6,239.6Z" fill="#ae9a19"/>
<path d="M425.7,257.4 L439.7,249.4 L454.0,241.8 L435.9,204.6 L420.5,212.8 L405.3,221.4Z" fill="#ae9a19"/>
<path d="M453.4,242.1 L467.5,235.1 L481.9,228.4 L465.9,190.3 L450.4,197.4 L435.1,205.0Z" fill="#ae9819"/>
<path d="M282.9,379.9 L293.1,367.9 L303.5,356.2 L314.4,344.8 L325.5,333.7 L337.0,322.9 L348.8,312.5 L360.9,302.4 L373.3,292.7 L349.0,259.3 L335.6,269.8 L322.6,280.6 L309.8,291.8 L297.5,303.4 L285.4,315.3 L273.8,327.6 L262.5,340.1 L251.5,353.0Z" fill="#ad9e1a" stroke="#ad9e1a" stroke-width="0.6"/>
<path d="M282.9,379.9 L293.3,367.6 L304.1,355.6 L274.3,327.0 L262.7,339.8 L251.5,353.0Z" fill="#aca01a"/>
<path d="M303.5,356.2 L314.6,344.5 L326.1,333.2 L298.1,302.8 L285.7,315.0 L273.8,327.6Z" fill="#ac9e1a"/>
<path d="M325.5,333.7 L337.3,322.7 L349.4,312.0 L323.2,280.1 L310.1,291.6 L297.5,303.4Z" fill="#ad9e1a"/>
<path d="M348.8,312.5 L360.9,302.4 L373.3,292.7 L349.0,259.3 L335.6,269.8 L322.6,280.6Z" fill="#ad9c19"/>
<path d="M215.4,485.1 L222.5,471.1 L229.9,457.4 L237.8,443.9 L246.1,430.6 L254.7,417.5 L263.7,404.7 L273.1,392.1 L282.9,379.9 L252.4,353.8 L241.9,366.9 L231.7,380.4 L222.0,394.2 L212.7,408.2 L203.8,422.4 L195.3,437.0 L187.3,451.7 L179.7,466.7Z" fill="#aba21a" stroke="#aba21a" stroke-width="0.6"/>
<path d="M215.4,485.1 L222.6,470.8 L230.3,456.7 L195.7,436.3 L187.5,451.4 L179.7,466.7Z" fill="#aba41b"/>
<path d="M229.9,457.4 L238.0,443.5 L246.5,429.9 L213.1,407.5 L204.0,422.1 L195.3,437.0Z" fill="#aba21a"/>
<path d="M246.1,430.6 L254.9,417.2 L264.2,404.1 L232.2,379.8 L222.2,393.8 L212.7,408.2Z" fill="#aca21a"/>
<path d="M263.7,404.7 L273.1,392.1 L282.9,379.9 L252.4,353.8 L241.9,366.9 L231.7,380.4Z" fill="#aca01a"/>
<path d="M174.1,602.4 L177.8,587.3 L181.9,572.3 L186.4,557.4 L191.3,542.6 L196.7,528.0 L202.5,513.5 L208.7,499.2 L215.4,485.1 L184.2,469.0 L177.0,484.1 L170.4,499.3 L164.2,514.7 L158.4,530.3 L153.1,546.0 L148.3,561.9 L143.9,577.9 L140.0,594.0Z" fill="#aaa61b" stroke="#aaa61b" stroke-width="0.6"/>
<path d="M174.1,602.4 L177.9,586.9 L182.1,571.6 L148.5,561.1 L144.0,577.5 L140.0,594.0Z" fill="#aaa81b"/>
<path d="M181.9,572.3 L186.5,557.0 L191.6,541.9 L158.7,529.5 L153.3,545.7 L148.3,561.9Z" fill="#aaa61b"/>
<path d="M191.3,542.6 L196.8,527.6 L202.8,512.8 L170.7,498.6 L164.3,514.3 L158.4,530.3Z" fill="#aaa61b"/>
<path d="M202.5,513.5 L208.7,499.2 L215.4,485.1 L184.2,469.0 L177.0,484.1 L170.4,499.3Z" fill="#aaa41b"/>
<path d="M161.2,725.6 L161.2,710.1 L161.7,694.6 L162.7,679.1 L164.1,663.7 L165.9,648.3 L168.2,632.9 L171.0,617.6 L174.1,602.4 L140.3,594.1 L136.8,610.3 L133.9,626.6 L131.4,642.9 L129.4,659.3 L127.9,675.8 L126.9,692.3 L126.3,708.8 L126.3,725.2Z" fill="#a9aa1c" stroke="#a9aa1c" stroke-width="0.6"/>
<path d="M161.2,725.6 L161.2,709.7 L161.7,693.9 L126.9,691.5 L126.3,708.4 L126.3,725.2Z" fill="#a8ac1c"/>
<path d="M161.7,694.6 L162.7,678.8 L164.1,663.0 L129.5,658.5 L128.0,675.4 L126.9,692.3Z" fill="#a8aa1c"/>
<path d="M164.1,663.7 L166.0,647.9 L168.3,632.2 L134.0,625.8 L131.5,642.5 L129.4,659.3Z" fill="#a9aa1c"/>
<path d="M168.2,632.9 L171.0,617.6 L174.1,602.4 L140.3,594.1 L136.8,610.3 L133.9,626.6Z" fill="#a9a81b"/>
<path d="M176.8,847.8 L173.3,832.8 L170.3,817.7 L167.6,802.5 L165.5,787.2 L163.7,771.9 L162.4,756.5 L161.6,741.0 L161.2,725.6 L129.9,725.3 L130.3,741.7 L131.2,758.0 L132.6,774.3 L134.4,790.6 L136.7,806.7 L139.5,822.8 L142.7,838.8 L146.4,854.7Z" fill="#a7ad1c" stroke="#a7ad1c" stroke-width="0.6"/>
<path d="M176.8,847.8 L173.3,832.4 L170.1,817.0 L139.3,822.1 L142.6,838.4 L146.4,854.7Z" fill="#a6ae1c"/>
<path d="M170.3,817.7 L167.6,802.1 L165.4,786.5 L134.3,789.8 L136.6,806.3 L139.5,822.8Z" fill="#a7ad1c"/>
<path d="M165.5,787.2 L163.7,771.5 L162.4,755.7 L131.2,757.2 L132.5,773.9 L134.4,790.6Z" fill="#a7ad1c"/>
<path d="M162.4,756.5 L161.6,741.0 L161.2,725.6 L129.9,725.3 L130.3,741.7 L131.2,758.0Z" fill="#a8ac1c"/>
<path d="M220.1,962.6 L213.3,948.8 L206.8,934.9 L200.8,920.8 L195.2,906.5 L189.9,892.0 L185.2,877.4 L180.8,862.7 L176.8,847.8 L147.4,854.5 L151.6,870.2 L156.2,885.8 L161.2,901.3 L166.7,916.6 L172.7,931.7 L179.0,946.6 L185.8,961.3 L193.0,975.8Z" fill="#a5af1d" stroke="#a5af1d" stroke-width="0.6"/>
<path d="M220.1,962.6 L213.1,948.5 L206.5,934.2 L178.7,945.9 L185.7,961.0 L193.0,975.8Z" fill="#a5af1d"/>
<path d="M206.8,934.9 L200.7,920.5 L194.9,905.8 L166.5,915.8 L172.5,931.3 L179.0,946.6Z" fill="#a5af1d"/>
<path d="M195.2,906.5 L189.8,891.7 L184.9,876.7 L156.0,885.1 L161.1,900.9 L166.7,916.6Z" fill="#a6ae1d"/>
<path d="M185.2,877.4 L180.8,862.7 L176.8,847.8 L147.4,854.5 L151.6,870.2 L156.2,885.8Z" fill="#a6ae1d"/>
<path d="M288.4,1063.7 L278.6,1052.0 L269.1,1040.0 L260.1,1027.7 L251.3,1015.2 L243.0,1002.4 L235.0,989.3 L227.3,976.1 L220.1,962.6 L193.0,975.8 L200.7,990.1 L208.7,1004.2 L217.2,1018.0 L226.0,1031.5 L235.2,1044.8 L244.8,1057.8 L254.8,1070.5 L265.1,1082.9Z" fill="#a4b01d" stroke="#a4b01d" stroke-width="0.6"/>
<path d="M288.4,1063.7 L278.3,1051.7 L268.7,1039.4 L244.3,1057.2 L254.5,1070.2 L265.1,1082.9Z" fill="#a3b11e"/>
<path d="M269.1,1040.0 L259.8,1027.5 L250.9,1014.6 L225.6,1030.9 L235.0,1044.5 L244.8,1057.8Z" fill="#a4b01e"/>
<path d="M251.3,1015.2 L242.8,1002.1 L234.6,988.7 L208.3,1003.5 L216.9,1017.7 L226.0,1031.5Z" fill="#a4b01d"/>
<path d="M235.0,989.3 L227.3,976.1 L220.1,962.6 L193.0,975.8 L200.7,990.1 L208.7,1004.2Z" fill="#a4b01d"/>
<path d="M377.7,1146.1 L365.5,1137.0 L353.6,1127.5 L342.0,1117.7 L330.7,1107.6 L319.6,1097.1 L308.9,1086.3 L298.5,1075.2 L288.4,1063.7 L265.0,1083.0 L275.7,1095.1 L286.7,1106.9 L298.0,1118.3 L309.7,1129.4 L321.7,1140.1 L334.0,1150.5 L346.5,1160.5 L359.4,1170.2Z" fill="#a2b21e" stroke="#a2b21e" stroke-width="0.6"/>
<path d="M377.7,1146.1 L365.2,1136.7 L353.1,1127.0 L333.4,1150.0 L346.2,1160.3 L359.4,1170.2Z" fill="#a1b31e"/>
<path d="M353.6,1127.5 L341.7,1117.5 L330.1,1107.1 L309.1,1128.9 L321.4,1139.9 L334.0,1150.5Z" fill="#a2b21e"/>
<path d="M330.7,1107.6 L319.4,1096.8 L308.4,1085.8 L286.1,1106.3 L297.8,1118.0 L309.7,1129.4Z" fill="#a2b21e"/>
<path d="M308.9,1086.3 L298.5,1075.2 L288.4,1063.7 L265.0,1083.0 L275.7,1095.1 L286.7,1106.9Z" fill="#a3b11e"/>
<path d="M483.0,1205.3 L469.2,1199.3 L455.5,1192.8 L442.0,1186.0 L428.7,1178.8 L415.6,1171.2 L402.7,1163.2 L390.1,1154.8 L377.7,1146.1 L359.2,1170.5 L372.3,1179.7 L385.7,1188.6 L399.3,1197.1 L413.1,1205.1 L427.2,1212.8 L441.5,1220.1 L456.0,1226.9 L470.7,1233.3Z" fill="#a0b41f" stroke="#a0b41f" stroke-width="0.6"/>
<path d="M483.0,1205.3 L468.9,1199.1 L454.9,1192.5 L440.8,1219.7 L455.6,1226.7 L470.7,1233.3Z" fill="#a0b41f"/>
<path d="M455.5,1192.8 L441.7,1185.8 L428.1,1178.4 L412.5,1204.8 L426.9,1212.6 L441.5,1220.1Z" fill="#a0b41f"/>
<path d="M428.7,1178.8 L415.3,1171.0 L402.1,1162.8 L385.0,1188.2 L399.0,1196.9 L413.1,1205.1Z" fill="#a0b41e"/>
<path d="M402.7,1163.2 L390.1,1154.8 L377.7,1146.1 L359.2,1170.5 L372.3,1179.7 L385.7,1188.6Z" fill="#a1b31e"/>
<path d="M598.7,1238.4 L583.9,1235.8 L569.2,1232.7 L554.5,1229.2 L540.0,1225.2 L525.5,1220.9 L511.2,1216.1 L497.1,1210.9 L483.0,1205.3 L469.3,1236.4 L484.2,1242.4 L499.3,1248.0 L514.5,1253.1 L529.9,1257.8 L545.4,1262.0 L561.0,1265.8 L576.7,1269.1 L592.5,1271.9Z" fill="#9fb51f" stroke="#9fb51f" stroke-width="0.6"/>
<path d="M598.7,1238.4 L583.5,1235.7 L568.4,1232.5 L560.2,1265.6 L576.3,1269.0 L592.5,1271.9Z" fill="#9eb61f"/>
<path d="M569.2,1232.7 L554.2,1229.1 L539.3,1225.0 L529.2,1257.6 L545.0,1261.9 L561.0,1265.8Z" fill="#9eb61f"/>
<path d="M540.0,1225.2 L525.2,1220.8 L510.6,1215.8 L498.6,1247.7 L514.2,1253.0 L529.9,1257.8Z" fill="#9fb51f"/>
<path d="M511.2,1216.1 L497.1,1210.9 L483.0,1205.3 L469.3,1236.4 L484.2,1242.4 L499.3,1248.0Z" fill="#9fb51f"/>
<path d="M718.3,1243.9 L703.3,1244.8 L688.3,1245.2 L673.4,1245.1 L658.4,1244.7 L643.4,1243.7 L628.5,1242.4 L613.5,1240.6 L598.7,1238.4 L592.2,1273.1 L608.1,1275.4 L624.0,1277.4 L640.0,1278.8 L656.0,1279.8 L672.0,1280.3 L688.0,1280.4 L704.0,1280.0 L720.0,1279.1Z" fill="#9db720" stroke="#9db720" stroke-width="0.6"/>
<path d="M718.3,1243.9 L703.0,1244.8 L687.6,1245.2 L687.3,1280.4 L703.6,1280.0 L720.0,1279.1Z" fill="#9cb820"/>
<path d="M688.3,1245.2 L673.0,1245.1 L657.7,1244.6 L655.2,1279.8 L671.6,1280.3 L688.0,1280.4Z" fill="#9db720"/>
<path d="M658.4,1244.7 L643.0,1243.7 L627.7,1242.3 L623.3,1277.3 L639.6,1278.8 L656.0,1279.8Z" fill="#9db720"/>
<path d="M628.5,1242.4 L613.5,1240.6 L598.7,1238.4 L592.2,1273.1 L608.1,1275.4 L624.0,1277.4Z" fill="#9eb620"/>
<path d="M835.3,1221.8 L821.0,1226.1 L806.6,1229.9 L792.1,1233.3 L777.5,1236.3 L762.8,1238.8 L748.0,1241.0 L733.2,1242.7 L718.3,1243.9 L720.0,1279.5 L735.9,1278.1 L751.8,1276.4 L767.6,1274.1 L783.3,1271.4 L799.0,1268.2 L814.5,1264.6 L829.9,1260.5 L845.2,1256.0Z" fill="#9ab821" stroke="#9ab821" stroke-width="0.6"/>
<path d="M835.3,1221.8 L820.7,1226.2 L805.9,1230.1 L813.8,1264.8 L829.5,1260.6 L845.2,1256.0Z" fill="#99b821"/>
<path d="M806.6,1229.9 L791.8,1233.4 L776.8,1236.4 L782.6,1271.5 L798.6,1268.3 L814.5,1264.6Z" fill="#9ab821"/>
<path d="M777.5,1236.3 L762.4,1238.9 L747.3,1241.1 L751.0,1276.5 L767.2,1274.2 L783.3,1271.4Z" fill="#9bb820"/>
<path d="M748.0,1241.0 L733.2,1242.7 L718.3,1243.9 L720.0,1279.5 L735.9,1278.1 L751.8,1276.4Z" fill="#9cb820"/>
<path d="M943.5,1173.6 L930.7,1181.0 L917.6,1188.0 L904.4,1194.6 L890.9,1200.8 L877.2,1206.7 L863.4,1212.1 L849.4,1217.2 L835.3,1221.8 L844.0,1251.9 L859.0,1247.0 L873.9,1241.7 L888.5,1235.9 L903.0,1229.7 L917.3,1223.1 L931.4,1216.1 L945.3,1208.7 L958.9,1200.8Z" fill="#97b922" stroke="#97b922" stroke-width="0.6"/>
<path d="M943.5,1173.6 L930.4,1181.1 L917.0,1188.3 L930.7,1216.4 L945.0,1208.8 L958.9,1200.8Z" fill="#96b922"/>
<path d="M917.6,1188.0 L904.0,1194.7 L890.2,1201.1 L902.3,1230.0 L917.0,1223.3 L931.4,1216.1Z" fill="#96b922"/>
<path d="M890.9,1200.8 L876.9,1206.8 L862.7,1212.4 L873.1,1241.9 L888.2,1236.0 L903.0,1229.7Z" fill="#97b922"/>
<path d="M863.4,1212.1 L849.4,1217.2 L835.3,1221.8 L844.0,1251.9 L859.0,1247.0 L873.9,1241.7Z" fill="#98b921"/>
<path d="M1037.3,1102.0 L1026.5,1112.1 L1015.5,1121.9 L1004.1,1131.3 L992.5,1140.5 L980.7,1149.3 L968.5,1157.7 L956.2,1165.8 L943.5,1173.6 L958.9,1200.8 L972.3,1192.6 L985.5,1184.0 L998.4,1175.1 L1011.0,1165.8 L1023.3,1156.1 L1035.4,1146.0 L1047.1,1135.7 L1058.5,1125.0Z" fill="#93b923" stroke="#93b923" stroke-width="0.6"/>
<path d="M1037.3,1102.0 L1026.3,1112.3 L1014.9,1122.3 L1034.8,1146.5 L1046.8,1135.9 L1058.5,1125.0Z" fill="#92ba23"/>
<path d="M1015.5,1121.9 L1003.9,1131.6 L992.0,1140.9 L1010.4,1166.2 L1023.0,1156.3 L1035.4,1146.0Z" fill="#93ba23"/>
<path d="M992.5,1140.5 L980.4,1149.5 L967.9,1158.1 L984.9,1184.5 L998.1,1175.3 L1011.0,1165.8Z" fill="#94b923"/>
<path d="M968.5,1157.7 L956.2,1165.8 L943.5,1173.6 L958.9,1200.8 L972.3,1192.6 L985.5,1184.0Z" fill="#95b922"/>
<path d="M1111.6,1011.2 L1103.5,1023.4 L1095.0,1035.4 L1086.2,1047.2 L1077.1,1058.7 L1067.6,1070.0 L1057.8,1080.9 L1047.7,1091.6 L1037.3,1102.0 L1059.6,1126.2 L1070.8,1115.1 L1081.6,1103.7 L1092.0,1092.1 L1102.1,1080.1 L1111.9,1067.9 L1121.3,1055.3 L1130.3,1042.6 L1138.9,1029.5Z" fill="#90ba24" stroke="#90ba24" stroke-width="0.6"/>
<path d="M1111.6,1011.2 L1103.3,1023.7 L1094.6,1036.0 L1120.8,1055.9 L1130.1,1042.9 L1138.9,1029.5Z" fill="#8fba24"/>
<path d="M1095.0,1035.4 L1086.0,1047.5 L1076.7,1059.3 L1101.7,1080.7 L1111.7,1068.2 L1121.3,1055.3Z" fill="#90ba24"/>
<path d="M1077.1,1058.7 L1067.4,1070.2 L1057.3,1081.4 L1081.1,1104.3 L1091.8,1092.3 L1102.1,1080.1Z" fill="#90ba24"/>
<path d="M1057.8,1080.9 L1047.7,1091.6 L1037.3,1102.0 L1059.6,1126.2 L1070.8,1115.1 L1081.6,1103.7Z" fill="#91ba24"/>
<path d="M1162.7,906.2 L1157.6,919.9 L1152.2,933.5 L1146.4,946.9 L1140.2,960.1 L1133.6,973.2 L1126.6,986.1 L1119.3,998.7 L1111.6,1011.2 L1141.0,1030.9 L1149.2,1017.6 L1157.1,1004.0 L1164.6,990.3 L1171.7,976.3 L1178.3,962.1 L1184.6,947.8 L1190.4,933.3 L1195.8,918.6Z" fill="#8dbb25" stroke="#8dbb25" stroke-width="0.6"/>
<path d="M1162.7,906.2 L1157.5,920.2 L1152.0,934.1 L1184.3,948.5 L1190.3,933.6 L1195.8,918.6Z" fill="#8bbb26"/>
<path d="M1152.2,933.5 L1146.3,947.2 L1139.9,960.8 L1171.4,977.0 L1178.2,962.5 L1184.6,947.8Z" fill="#8cbb25"/>
<path d="M1140.2,960.1 L1133.4,973.5 L1126.3,986.7 L1156.8,1004.7 L1164.4,990.6 L1171.7,976.3Z" fill="#8dba25"/>
<path d="M1126.6,986.1 L1119.3,998.7 L1111.6,1011.2 L1141.0,1030.9 L1149.2,1017.6 L1157.1,1004.0Z" fill="#8eba25"/>
<path d="M1188.0,792.9 L1186.3,807.3 L1184.2,821.6 L1181.6,836.0 L1178.7,850.2 L1175.3,864.4 L1171.5,878.4 L1167.3,892.4 L1162.7,906.2 L1202.5,921.1 L1207.6,906.1 L1212.1,891.0 L1216.3,875.8 L1220.0,860.4 L1223.2,844.9 L1226.0,829.4 L1228.4,813.8 L1230.3,798.2Z" fill="#89bb26" stroke="#89bb26" stroke-width="0.6"/>
<path d="M1188.0,792.9 L1186.3,807.6 L1184.1,822.3 L1225.9,830.2 L1228.3,814.2 L1230.3,798.2Z" fill="#88bb27"/>
<path d="M1184.2,821.6 L1181.6,836.3 L1178.5,850.9 L1219.8,861.1 L1223.2,845.3 L1226.0,829.4Z" fill="#89bb26"/>
<path d="M1178.7,850.2 L1175.2,864.7 L1171.3,879.1 L1211.9,891.7 L1216.2,876.1 L1220.0,860.4Z" fill="#8abb26"/>
<path d="M1171.5,878.4 L1167.3,892.4 L1162.7,906.2 L1202.5,921.1 L1207.6,906.1 L1212.1,891.0Z" fill="#8abb26"/>
<path d="M1186.6,677.3 L1188.2,691.6 L1189.4,706.1 L1190.3,720.5 L1190.7,735.0 L1190.6,749.4 L1190.2,763.9 L1189.3,778.4 L1188.0,792.9 L1233.8,798.6 L1235.3,782.8 L1236.2,767.0 L1236.7,751.2 L1236.8,735.4 L1236.4,719.6 L1235.5,703.8 L1234.2,688.0 L1232.4,672.4Z" fill="#86bc27" stroke="#86bc27" stroke-width="0.6"/>
<path d="M1186.6,677.3 L1188.2,692.0 L1189.5,706.7 L1235.6,704.5 L1234.3,688.4 L1232.4,672.4Z" fill="#84bc28"/>
<path d="M1189.4,706.1 L1190.3,720.8 L1190.7,735.7 L1236.8,736.1 L1236.4,719.9 L1235.5,703.8Z" fill="#85bc28"/>
<path d="M1190.7,735.0 L1190.6,749.8 L1190.2,764.6 L1236.2,767.8 L1236.7,751.6 L1236.8,735.4Z" fill="#86bc27"/>
<path d="M1190.2,763.9 L1189.3,778.4 L1188.0,792.9 L1233.8,798.6 L1235.3,782.8 L1236.2,767.0Z" fill="#87bc27"/>
<path d="M1158.6,565.8 L1163.5,579.3 L1168.0,592.9 L1172.1,606.7 L1175.8,620.6 L1179.1,634.7 L1182.0,648.8 L1184.5,663.0 L1186.6,677.3 L1236.9,671.9 L1234.7,656.1 L1232.0,640.5 L1228.8,624.9 L1225.2,609.4 L1221.2,594.1 L1216.7,578.8 L1211.7,563.8 L1206.4,548.9Z" fill="#82bc29" stroke="#82bc29" stroke-width="0.6"/>
<path d="M1158.6,565.8 L1163.6,579.6 L1168.2,593.6 L1216.9,579.6 L1211.9,564.1 L1206.4,548.9Z" fill="#81bc29"/>
<path d="M1168.0,592.9 L1172.2,607.1 L1176.0,621.3 L1225.4,610.1 L1221.3,594.4 L1216.7,578.8Z" fill="#82bc29"/>
<path d="M1175.8,620.6 L1179.2,635.0 L1182.1,649.5 L1232.1,641.2 L1228.9,625.3 L1225.2,609.4Z" fill="#83bc28"/>
<path d="M1182.0,648.8 L1184.5,663.0 L1186.6,677.3 L1236.9,671.9 L1234.7,656.1 L1232.0,640.5Z" fill="#84bc28"/>
<path d="M1106.0,464.2 L1113.8,476.2 L1121.3,488.4 L1128.4,500.8 L1135.2,513.4 L1141.6,526.2 L1147.7,539.2 L1153.3,552.4 L1158.6,565.8 L1208.5,548.1 L1202.7,533.3 L1196.5,518.7 L1189.8,504.3 L1182.7,490.1 L1175.2,476.1 L1167.4,462.3 L1159.1,448.8 L1150.4,435.5Z" fill="#7fbc2a" stroke="#7fbc2a" stroke-width="0.6"/>
<path d="M1106.0,464.2 L1114.0,476.5 L1121.6,488.9 L1167.8,463.0 L1159.3,449.1 L1150.4,435.5Z" fill="#7ebc2a"/>
<path d="M1121.3,488.4 L1128.6,501.1 L1135.5,514.0 L1183.1,490.7 L1175.4,476.4 L1167.4,462.3Z" fill="#7ebc2a"/>
<path d="M1135.2,513.4 L1141.8,526.5 L1147.9,539.8 L1196.8,519.4 L1190.0,504.6 L1182.7,490.1Z" fill="#7fbc2a"/>
<path d="M1147.7,539.2 L1153.3,552.4 L1158.6,565.8 L1208.5,548.1 L1202.7,533.3 L1196.5,518.7Z" fill="#80bc29"/>
<path d="M1031.7,378.0 L1042.0,387.8 L1052.1,397.8 L1061.8,408.2 L1071.3,418.9 L1080.4,429.8 L1089.3,441.0 L1097.8,452.5 L1106.0,464.2 L1146.8,437.9 L1137.9,425.0 L1128.5,412.3 L1118.8,400.0 L1108.8,388.0 L1098.4,376.2 L1087.7,364.8 L1076.7,353.7 L1065.4,342.9Z" fill="#7bbc2b" stroke="#7bbc2b" stroke-width="0.6"/>
<path d="M1031.7,378.0 L1042.2,388.0 L1052.5,398.3 L1088.2,365.3 L1077.0,354.0 L1065.4,342.9Z" fill="#7abc2b"/>
<path d="M1052.1,397.8 L1062.0,408.5 L1071.7,419.4 L1109.3,388.5 L1098.7,376.5 L1087.7,364.8Z" fill="#7bbc2b"/>
<path d="M1071.3,418.9 L1080.6,430.1 L1089.7,441.6 L1129.0,412.9 L1119.1,400.3 L1108.8,388.0Z" fill="#7cbc2b"/>
<path d="M1089.3,441.0 L1097.8,452.5 L1106.0,464.2 L1146.8,437.9 L1137.9,425.0 L1128.5,412.3Z" fill="#7dbc2a"/>
<path d="M940.0,311.6 L952.2,318.7 L964.3,326.1 L976.1,333.9 L987.7,342.1 L999.1,350.6 L1010.2,359.4 L1021.1,368.5 L1031.7,378.0 L1064.6,343.7 L1053.0,333.3 L1041.1,323.3 L1028.9,313.6 L1016.4,304.2 L1003.7,295.3 L990.7,286.7 L977.5,278.5 L964.1,270.7Z" fill="#78bc2c" stroke="#78bc2c" stroke-width="0.6"/>
<path d="M940.0,311.6 L952.5,318.8 L964.8,326.5 L991.4,287.1 L977.8,278.7 L964.1,270.7Z" fill="#77bc2c"/>
<path d="M964.3,326.1 L976.4,334.1 L988.3,342.5 L1017.0,304.7 L1004.0,295.5 L990.7,286.7Z" fill="#78bc2c"/>
<path d="M987.7,342.1 L999.3,350.8 L1010.7,359.8 L1041.6,323.7 L1029.2,313.8 L1016.4,304.2Z" fill="#78bc2c"/>
<path d="M1010.2,359.4 L1021.1,368.5 L1031.7,378.0 L1064.6,343.7 L1053.0,333.3 L1041.1,323.3Z" fill="#79bc2c"/>
<path d="M836.0,268.4 L849.5,272.4 L862.8,276.8 L876.1,281.7 L889.2,286.9 L902.1,292.5 L914.9,298.5 L927.5,304.9 L940.0,311.6 L961.7,274.7 L948.2,267.4 L934.5,260.4 L920.6,253.9 L906.5,247.8 L892.2,242.1 L877.8,236.8 L863.3,231.9 L848.6,227.5Z" fill="#75bc2d" stroke="#75bc2d" stroke-width="0.6"/>
<path d="M836.0,268.4 L849.8,272.5 L863.5,277.1 L878.5,237.0 L863.6,232.0 L848.6,227.5Z" fill="#73bc2e"/>
<path d="M862.8,276.8 L876.4,281.8 L889.8,287.2 L907.2,248.1 L892.6,242.2 L877.8,236.8Z" fill="#74bc2d"/>
<path d="M889.2,286.9 L902.4,292.7 L915.5,298.8 L935.1,260.8 L920.9,254.0 L906.5,247.8Z" fill="#75bc2d"/>
<path d="M914.9,298.5 L927.5,304.9 L940.0,311.6 L961.7,274.7 L948.2,267.4 L934.5,260.4Z" fill="#76bc2d"/>
<path d="M725.4,250.4 L739.4,251.2 L753.3,252.4 L767.3,254.1 L781.1,256.1 L795.0,258.6 L808.7,261.4 L822.4,264.7 L836.0,268.4 L847.9,229.7 L833.2,225.7 L818.4,222.2 L803.5,219.0 L788.5,216.4 L773.5,214.1 L758.4,212.3 L743.3,210.9 L728.1,210.0Z" fill="#71bc2e" stroke="#71bc2e" stroke-width="0.6"/>
<path d="M725.4,250.4 L739.7,251.2 L754.0,252.5 L759.1,212.4 L743.6,211.0 L728.1,210.0Z" fill="#70bc2f"/>
<path d="M753.3,252.4 L767.6,254.1 L781.8,256.2 L789.2,216.5 L773.8,214.2 L758.4,212.3Z" fill="#71bc2e"/>
<path d="M781.1,256.1 L795.3,258.6 L809.4,261.6 L819.1,222.3 L803.9,219.1 L788.5,216.4Z" fill="#72bc2e"/>
<path d="M808.7,261.4 L822.4,264.7 L836.0,268.4 L847.9,229.7 L833.2,225.7 L818.4,222.2Z" fill="#72bc2e"/>
<path d="M614.2,258.4 L628.0,255.9 L641.7,253.9 L655.6,252.3 L669.5,251.1 L683.5,250.3 L697.4,249.9 L711.4,250.0 L725.4,250.4 L728.1,210.0 L713.0,209.5 L697.8,209.5 L682.6,209.9 L667.5,210.7 L652.4,212.0 L637.4,213.7 L622.5,215.8 L607.6,218.4Z" fill="#6ebc2f" stroke="#6ebc2f" stroke-width="0.6"/>
<path d="M614.2,258.4 L628.3,255.9 L642.4,253.9 L638.1,213.6 L622.8,215.8 L607.6,218.4Z" fill="#6cbc30"/>
<path d="M641.7,253.9 L655.9,252.3 L670.2,251.1 L668.3,210.6 L652.8,211.9 L637.4,213.7Z" fill="#6dbc30"/>
<path d="M669.5,251.1 L683.8,250.3 L698.1,249.9 L698.5,209.4 L683.0,209.8 L667.5,210.7Z" fill="#6ebc2f"/>
<path d="M697.4,249.9 L711.4,250.0 L725.4,250.4 L728.1,210.0 L713.0,209.5 L697.8,209.5Z" fill="#6fbc2f"/>
<path d="M508.5,291.6 L521.2,286.1 L534.1,281.0 L547.1,276.3 L560.3,271.9 L573.6,267.9 L587.1,264.4 L600.6,261.2 L614.2,258.4 L607.3,216.9 L592.5,219.9 L577.7,223.4 L563.1,227.3 L548.6,231.5 L534.3,236.3 L520.1,241.4 L506.0,246.9 L492.2,252.9Z" fill="#69bc32" stroke="#69bc32" stroke-width="0.6"/>
<path d="M508.5,291.6 L521.5,286.0 L534.7,280.8 L520.8,241.1 L506.4,246.8 L492.2,252.9Z" fill="#68bc33"/>
<path d="M534.1,281.0 L547.5,276.2 L561.0,271.7 L549.3,231.3 L534.6,236.1 L520.1,241.4Z" fill="#69bc32"/>
<path d="M560.3,271.9 L574.0,267.9 L587.7,264.2 L578.4,223.2 L563.5,227.2 L548.6,231.5Z" fill="#6abc31"/>
<path d="M587.1,264.4 L600.6,261.2 L614.2,258.4 L607.3,216.9 L592.5,219.9 L577.7,223.4Z" fill="#6bbc30"/>
<path d="M413.8,348.0 L424.8,339.8 L436.1,331.9 L447.6,324.3 L459.4,317.1 L471.4,310.2 L483.6,303.6 L495.9,297.4 L508.5,291.6 L491.7,251.6 L478.0,258.0 L464.4,264.7 L451.1,271.8 L438.1,279.3 L425.2,287.2 L412.6,295.5 L400.3,304.1 L388.2,313.0Z" fill="#64bc35" stroke="#64bc35" stroke-width="0.6"/>
<path d="M413.8,348.0 L425.1,339.6 L436.7,331.5 L413.2,295.0 L400.6,303.8 L388.2,313.0Z" fill="#62bc36"/>
<path d="M436.1,331.9 L447.9,324.2 L460.0,316.8 L438.7,279.0 L425.5,287.0 L412.6,295.5Z" fill="#64bc36"/>
<path d="M459.4,317.1 L471.7,310.0 L484.1,303.3 L465.1,264.4 L451.5,271.7 L438.1,279.3Z" fill="#65bc35"/>
<path d="M483.6,303.6 L495.9,297.4 L508.5,291.6 L491.7,251.6 L478.0,258.0 L464.4,264.7Z" fill="#66bc34"/>
<path d="M335.0,424.4 L343.8,413.9 L353.0,403.7 L362.4,393.7 L372.1,384.0 L382.1,374.5 L392.4,365.4 L402.9,356.6 L413.8,348.0 L388.6,313.6 L376.8,322.9 L365.3,332.5 L354.1,342.5 L343.2,352.7 L332.5,363.3 L322.2,374.1 L312.3,385.3 L302.6,396.7Z" fill="#5fbc39" stroke="#5fbc39" stroke-width="0.6"/>
<path d="M335.0,424.4 L344.1,413.7 L353.4,403.2 L322.7,373.6 L312.5,385.0 L302.6,396.7Z" fill="#5dbc3a"/>
<path d="M353.0,403.7 L362.6,393.4 L372.6,383.5 L343.7,352.2 L332.8,363.0 L322.2,374.1Z" fill="#5ebc39"/>
<path d="M372.1,384.0 L382.4,374.3 L392.9,365.0 L365.9,332.1 L354.3,342.2 L343.2,352.7Z" fill="#60bc38"/>
<path d="M392.4,365.4 L402.9,356.6 L413.8,348.0 L388.6,313.6 L376.8,322.9 L365.3,332.5Z" fill="#61bc37"/>
<path d="M276.4,516.4 L282.5,504.2 L289.0,492.2 L295.8,480.4 L303.0,468.7 L310.5,457.3 L318.3,446.1 L326.5,435.1 L335.0,424.4 L303.8,397.7 L294.6,409.4 L285.7,421.3 L277.1,433.5 L268.9,445.9 L261.1,458.5 L253.6,471.3 L246.6,484.4 L239.9,497.6Z" fill="#5abc3c" stroke="#5abc3c" stroke-width="0.6"/>
<path d="M276.4,516.4 L282.6,503.9 L289.3,491.6 L254.0,470.7 L246.7,484.1 L239.9,497.6Z" fill="#58bc3d"/>
<path d="M289.0,492.2 L296.0,480.1 L303.3,468.2 L269.3,445.3 L261.3,458.2 L253.6,471.3Z" fill="#59bc3c"/>
<path d="M303.0,468.7 L310.7,457.0 L318.7,445.6 L286.1,420.7 L277.3,433.2 L268.9,445.9Z" fill="#5bbc3c"/>
<path d="M318.3,446.1 L326.5,435.1 L335.0,424.4 L303.8,397.7 L294.6,409.4 L285.7,421.3Z" fill="#5cbc3b"/>
<path d="M240.7,618.8 L243.8,605.6 L247.3,592.5 L251.2,579.5 L255.5,566.6 L260.2,553.9 L265.2,541.2 L270.6,528.7 L276.4,516.4 L241.5,498.5 L235.2,511.8 L229.3,525.4 L223.9,539.1 L218.8,552.9 L214.1,566.9 L209.9,581.0 L206.0,595.2 L202.6,609.5Z" fill="#55bc3f" stroke="#55bc3f" stroke-width="0.6"/>
<path d="M240.7,618.8 L243.9,605.3 L247.5,591.9 L210.1,580.3 L206.1,594.8 L202.6,609.5Z" fill="#53bc41"/>
<path d="M247.3,592.5 L251.3,579.2 L255.7,566.0 L219.0,552.2 L214.2,566.5 L209.9,581.0Z" fill="#54bc40"/>
<path d="M255.5,566.6 L260.3,553.6 L265.5,540.6 L229.6,524.7 L224.0,538.7 L218.8,552.9Z" fill="#56bc3f"/>
<path d="M265.2,541.2 L270.6,528.7 L276.4,516.4 L241.5,498.5 L235.2,511.8 L229.3,525.4Z" fill="#57bc3e"/>
<path d="M229.7,726.2 L229.7,712.7 L230.1,699.2 L230.9,685.7 L232.1,672.3 L233.6,658.8 L235.6,645.4 L237.9,632.1 L240.7,618.8 L205.1,610.1 L202.1,624.4 L199.5,638.7 L197.4,653.2 L195.6,667.7 L194.3,682.2 L193.5,696.7 L193.0,711.3 L193.0,725.9Z" fill="#50bc43" stroke="#50bc43" stroke-width="0.6"/>
<path d="M229.7,726.2 L229.7,712.4 L230.1,698.6 L193.5,696.0 L193.0,711.0 L193.0,725.9Z" fill="#4ebc44"/>
<path d="M230.1,699.2 L230.9,685.4 L232.1,671.6 L195.7,667.0 L194.4,681.9 L193.5,696.7Z" fill="#4fbc43"/>
<path d="M232.1,672.3 L233.7,658.5 L235.7,644.8 L199.6,638.1 L197.4,652.8 L195.6,667.7Z" fill="#50bc42"/>
<path d="M235.6,645.4 L237.9,632.1 L240.7,618.8 L205.1,610.1 L202.1,624.4 L199.5,638.7Z" fill="#52bc42"/>
<path d="M243.7,832.6 L240.6,819.5 L237.9,806.4 L235.5,793.2 L233.6,779.9 L232.0,766.5 L230.9,753.1 L230.1,739.7 L229.7,726.2 L196.9,725.9 L197.3,740.3 L198.1,754.7 L199.4,769.1 L201.0,783.4 L203.1,797.6 L205.6,811.8 L208.4,825.9 L211.7,839.9Z" fill="#4bbc46" stroke="#4bbc46" stroke-width="0.6"/>
<path d="M243.7,832.6 L240.5,819.2 L237.8,805.8 L205.4,811.1 L208.4,825.5 L211.7,839.9Z" fill="#49bc48"/>
<path d="M237.9,806.4 L235.5,792.9 L233.5,779.2 L200.9,782.7 L203.0,797.3 L205.6,811.8Z" fill="#4abc47"/>
<path d="M233.6,779.9 L232.0,766.2 L230.8,752.5 L198.1,754.0 L199.3,768.7 L201.0,783.4Z" fill="#4bbc46"/>
<path d="M230.9,753.1 L230.1,739.7 L229.7,726.2 L196.9,725.9 L197.3,740.3 L198.1,754.7Z" fill="#4cbc45"/>
<path d="M281.6,932.4 L275.7,920.4 L270.0,908.3 L264.7,896.1 L259.8,883.7 L255.2,871.1 L251.0,858.4 L247.2,845.5 L243.7,832.6 L210.6,840.1 L214.3,854.0 L218.4,867.8 L222.9,881.4 L227.8,895.0 L233.1,908.3 L238.8,921.5 L244.8,934.5 L251.2,947.3Z" fill="#47bc4b" stroke="#47bc4b" stroke-width="0.6"/>
<path d="M281.6,932.4 L275.5,920.1 L269.7,907.8 L238.5,920.8 L244.7,934.2 L251.2,947.3Z" fill="#46bc4d"/>
<path d="M270.0,908.3 L264.6,895.8 L259.6,883.1 L227.6,894.3 L233.0,908.0 L238.8,921.5Z" fill="#47bc4c"/>
<path d="M259.8,883.7 L255.1,870.8 L250.8,857.8 L218.2,867.1 L222.8,881.1 L227.8,895.0Z" fill="#47bc4a"/>
<path d="M251.0,858.4 L247.2,845.5 L243.7,832.6 L210.6,840.1 L214.3,854.0 L218.4,867.8Z" fill="#48bc49"/>
<path d="M341.3,1020.2 L332.7,1010.0 L324.5,999.6 L316.6,988.9 L308.9,978.1 L301.6,966.9 L294.6,955.6 L288.0,944.1 L281.6,932.4 L250.0,947.9 L256.8,960.5 L263.9,973.0 L271.4,985.2 L279.3,997.2 L287.5,1008.9 L296.0,1020.4 L304.9,1031.6 L314.0,1042.6Z" fill="#45bc51" stroke="#45bc51" stroke-width="0.6"/>
<path d="M341.3,1020.2 L332.5,1009.8 L324.1,999.1 L295.6,1019.9 L304.6,1031.4 L314.0,1042.6Z" fill="#44bc53"/>
<path d="M324.5,999.6 L316.4,988.7 L308.6,977.5 L278.9,996.6 L287.3,1008.6 L296.0,1020.4Z" fill="#45bc51"/>
<path d="M308.9,978.1 L301.4,966.7 L294.3,955.1 L263.6,972.4 L271.2,984.9 L279.3,997.2Z" fill="#45bc50"/>
<path d="M294.6,955.6 L288.0,944.1 L281.6,932.4 L250.0,947.9 L256.8,960.5 L263.9,973.0Z" fill="#46bc4e"/>
<path d="M419.1,1091.5 L408.5,1083.6 L398.2,1075.4 L388.0,1066.9 L378.2,1058.1 L368.5,1049.1 L359.2,1039.7 L350.1,1030.1 L341.3,1020.2 L311.4,1044.7 L321.0,1055.5 L330.8,1066.0 L341.0,1076.1 L351.4,1086.0 L362.1,1095.5 L373.1,1104.8 L384.3,1113.7 L395.7,1122.2Z" fill="#43bc56" stroke="#43bc56" stroke-width="0.6"/>
<path d="M419.1,1091.5 L408.3,1083.4 L397.7,1075.0 L372.5,1104.3 L384.0,1113.5 L395.7,1122.2Z" fill="#42bc58"/>
<path d="M398.2,1075.4 L387.8,1066.7 L377.7,1057.7 L350.9,1085.5 L361.8,1095.3 L373.1,1104.8Z" fill="#43bc57"/>
<path d="M378.2,1058.1 L368.3,1048.8 L358.7,1039.2 L330.3,1065.5 L340.7,1075.9 L351.4,1086.0Z" fill="#43bc56"/>
<path d="M359.2,1039.7 L350.1,1030.1 L341.3,1020.2 L311.4,1044.7 L321.0,1055.5 L330.8,1066.0Z" fill="#44bc54"/>
<path d="M510.8,1142.6 L498.7,1137.4 L486.8,1131.9 L475.1,1126.0 L463.5,1119.7 L452.1,1113.2 L440.9,1106.3 L429.9,1099.0 L419.1,1091.5 L393.1,1125.8 L404.9,1134.1 L416.9,1142.0 L429.2,1149.6 L441.6,1156.8 L454.3,1163.7 L467.1,1170.2 L480.2,1176.3 L493.4,1182.0Z" fill="#41bc5c" stroke="#41bc5c" stroke-width="0.6"/>
<path d="M510.8,1142.6 L498.4,1137.3 L486.3,1131.6 L466.5,1169.9 L479.9,1176.1 L493.4,1182.0Z" fill="#40bc5e"/>
<path d="M486.8,1131.9 L474.8,1125.8 L463.0,1119.4 L441.0,1156.5 L454.0,1163.5 L467.1,1170.2Z" fill="#41bc5d"/>
<path d="M463.5,1119.7 L451.8,1113.0 L440.4,1105.9 L416.3,1141.6 L428.9,1149.4 L441.6,1156.8Z" fill="#41bc5b"/>
<path d="M440.9,1106.3 L429.9,1099.0 L419.1,1091.5 L393.1,1125.8 L404.9,1134.1 L416.9,1142.0Z" fill="#42bc5a"/>
<path d="M611.2,1171.0 L598.4,1168.8 L585.6,1166.1 L572.9,1163.1 L560.2,1159.8 L547.7,1156.0 L535.3,1151.9 L523.0,1147.4 L510.8,1142.6 L492.5,1184.0 L505.9,1189.3 L519.4,1194.3 L533.1,1198.8 L546.9,1203.0 L560.8,1206.7 L574.7,1210.0 L588.8,1213.0 L602.9,1215.5Z" fill="#3fbc62" stroke="#3fbc62" stroke-width="0.6"/>
<path d="M611.2,1171.0 L598.0,1168.7 L585.0,1166.0 L574.1,1209.9 L588.5,1212.9 L602.9,1215.5Z" fill="#3ebc64"/>
<path d="M585.6,1166.1 L572.6,1163.0 L559.6,1159.6 L546.2,1202.8 L560.4,1206.6 L574.7,1210.0Z" fill="#3fbc62"/>
<path d="M560.2,1159.8 L547.4,1155.9 L534.7,1151.7 L518.8,1194.0 L532.7,1198.7 L546.9,1203.0Z" fill="#3fbc61"/>
<path d="M535.3,1151.9 L523.0,1147.4 L510.8,1142.6 L492.5,1184.0 L505.9,1189.3 L519.4,1194.3Z" fill="#40bc60"/>
<path d="M714.9,1175.5 L701.9,1176.2 L689.0,1176.6 L676.0,1176.6 L663.0,1176.3 L650.0,1175.5 L637.0,1174.4 L624.1,1172.9 L611.2,1171.0 L602.5,1217.7 L616.8,1219.8 L631.1,1221.5 L645.4,1222.8 L659.8,1223.7 L674.2,1224.1 L688.5,1224.1 L702.9,1223.7 L717.2,1222.9Z" fill="#3dbc67" stroke="#3dbc67" stroke-width="0.6"/>
<path d="M714.9,1175.5 L701.6,1176.3 L688.3,1176.6 L687.8,1224.1 L702.5,1223.7 L717.2,1222.9Z" fill="#3cbc6a"/>
<path d="M689.0,1176.6 L675.7,1176.6 L662.4,1176.2 L659.1,1223.6 L673.8,1224.1 L688.5,1224.1Z" fill="#3dbc68"/>
<path d="M663.0,1176.3 L649.7,1175.5 L636.4,1174.3 L630.4,1221.5 L645.1,1222.8 L659.8,1223.7Z" fill="#3dbc67"/>
<path d="M637.0,1174.4 L624.1,1172.9 L611.2,1171.0 L602.5,1217.7 L616.8,1219.8 L631.1,1221.5Z" fill="#3ebc65"/>
<path d="M816.2,1156.0 L803.9,1159.7 L791.4,1163.1 L778.9,1166.1 L766.2,1168.7 L753.5,1170.9 L740.7,1172.8 L727.8,1174.3 L714.9,1175.5 L717.6,1230.5 L732.1,1229.2 L746.6,1227.6 L760.9,1225.5 L775.3,1223.0 L789.5,1220.1 L803.6,1216.8 L817.6,1213.0 L831.5,1208.9Z" fill="#3bbc6d" stroke="#3bbc6d" stroke-width="0.6"/>
<path d="M816.2,1156.0 L803.6,1159.8 L790.8,1163.2 L803.0,1216.9 L817.3,1213.1 L831.5,1208.9Z" fill="#3abc6f"/>
<path d="M791.4,1163.1 L778.6,1166.1 L765.6,1168.8 L774.6,1223.1 L789.2,1220.2 L803.6,1216.8Z" fill="#3bbc6e"/>
<path d="M766.2,1168.7 L753.2,1171.0 L740.0,1172.9 L745.9,1227.7 L760.6,1225.5 L775.3,1223.0Z" fill="#3bbc6c"/>
<path d="M740.7,1172.8 L727.8,1174.3 L714.9,1175.5 L717.6,1230.5 L732.1,1229.2 L746.6,1227.6Z" fill="#3cbc6b"/>
<path d="M909.8,1113.9 L898.7,1120.3 L887.4,1126.4 L876.0,1132.2 L864.3,1137.7 L852.5,1142.8 L840.6,1147.5 L828.5,1151.9 L816.2,1156.0 L832.2,1211.0 L846.0,1206.5 L859.6,1201.5 L873.2,1196.2 L886.5,1190.4 L899.7,1184.3 L912.7,1177.8 L925.4,1171.0 L938.0,1163.8Z" fill="#3abc72" stroke="#3abc72" stroke-width="0.6"/>
<path d="M909.8,1113.9 L898.4,1120.5 L886.9,1126.7 L912.0,1178.2 L925.1,1171.1 L938.0,1163.8Z" fill="#39bb74"/>
<path d="M887.4,1126.4 L875.7,1132.3 L863.8,1137.9 L885.9,1190.7 L899.4,1184.5 L912.7,1177.8Z" fill="#3abc73"/>
<path d="M864.3,1137.7 L852.2,1142.9 L840.0,1147.7 L859.0,1201.8 L872.8,1196.3 L886.5,1190.4Z" fill="#3abc72"/>
<path d="M840.6,1147.5 L828.5,1151.9 L816.2,1156.0 L832.2,1211.0 L846.0,1206.5 L859.6,1201.5Z" fill="#3abc71"/>
<path d="M990.7,1051.7 L981.4,1060.5 L971.9,1069.0 L962.1,1077.2 L952.1,1085.1 L941.9,1092.8 L931.4,1100.1 L920.7,1107.2 L909.8,1113.9 L937.0,1162.0 L949.3,1154.5 L961.3,1146.6 L973.1,1138.3 L984.7,1129.7 L996.0,1120.8 L1007.0,1111.6 L1017.8,1102.1 L1028.2,1092.3Z" fill="#39bb77" stroke="#39bb77" stroke-width="0.6"/>
<path d="M990.7,1051.7 L981.2,1060.7 L971.4,1069.4 L1006.5,1112.1 L1017.5,1102.3 L1028.2,1092.3Z" fill="#39bb79"/>
<path d="M971.9,1069.0 L961.9,1077.4 L951.6,1085.5 L984.2,1130.2 L995.7,1121.1 L1007.0,1111.6Z" fill="#39bb78"/>
<path d="M952.1,1085.1 L941.6,1093.0 L930.9,1100.5 L960.8,1147.0 L972.9,1138.5 L984.7,1129.7Z" fill="#39bb76"/>
<path d="M931.4,1100.1 L920.7,1107.2 L909.8,1113.9 L937.0,1162.0 L949.3,1154.5 L961.3,1146.6Z" fill="#39bb75"/>
<path d="M1054.6,973.0 L1047.7,983.6 L1040.4,994.0 L1032.9,1004.2 L1025.0,1014.2 L1016.8,1023.9 L1008.4,1033.4 L999.7,1042.7 L990.7,1051.7 L1026.3,1090.2 L1036.4,1080.1 L1046.2,1069.7 L1055.7,1059.1 L1064.8,1048.2 L1073.7,1037.1 L1082.2,1025.7 L1090.3,1014.1 L1098.2,1002.2Z" fill="#38ba7c" stroke="#38ba7c" stroke-width="0.6"/>
<path d="M1054.6,973.0 L1047.5,983.9 L1040.1,994.5 L1081.8,1026.2 L1090.2,1014.3 L1098.2,1002.2Z" fill="#38ba7d"/>
<path d="M1040.4,994.0 L1032.7,1004.4 L1024.6,1014.6 L1064.4,1048.7 L1073.5,1037.3 L1082.2,1025.7Z" fill="#38ba7c"/>
<path d="M1025.0,1014.2 L1016.6,1024.2 L1008.0,1033.9 L1045.7,1070.2 L1055.4,1059.4 L1064.8,1048.2Z" fill="#38ba7b"/>
<path d="M1008.4,1033.4 L999.7,1042.7 L990.7,1051.7 L1026.3,1090.2 L1036.4,1080.1 L1046.2,1069.7Z" fill="#39bb7a"/>
<path d="M1098.5,882.2 L1094.2,894.0 L1089.5,905.8 L1084.6,917.4 L1079.2,928.8 L1073.6,940.1 L1067.6,951.3 L1061.3,962.2 L1054.6,973.0 L1098.2,1002.2 L1105.6,990.1 L1112.7,977.9 L1119.5,965.4 L1125.8,952.8 L1131.8,939.9 L1137.5,927.0 L1142.7,913.8 L1147.5,900.6Z" fill="#38ba80" stroke="#38ba80" stroke-width="0.6"/>
<path d="M1098.5,882.2 L1094.1,894.3 L1089.3,906.3 L1137.2,927.6 L1142.6,914.1 L1147.5,900.6Z" fill="#37b982"/>
<path d="M1089.5,905.8 L1084.4,917.6 L1079.0,929.4 L1125.5,953.4 L1131.7,940.2 L1137.5,927.0Z" fill="#38ba81"/>
<path d="M1079.2,928.8 L1073.4,940.4 L1067.3,951.8 L1112.4,978.5 L1119.3,965.7 L1125.8,952.8Z" fill="#38ba80"/>
<path d="M1067.6,951.3 L1061.3,962.2 L1054.6,973.0 L1098.2,1002.2 L1105.6,990.1 L1112.7,977.9Z" fill="#38ba7f"/>
<path d="M1120.0,784.3 L1118.6,796.7 L1116.8,809.1 L1114.6,821.5 L1112.1,833.8 L1109.2,846.0 L1106.0,858.2 L1102.4,870.2 L1098.5,882.2 L1139.7,897.6 L1144.1,884.5 L1148.1,871.2 L1151.7,857.8 L1154.9,844.3 L1157.7,830.8 L1160.1,817.2 L1162.1,803.5 L1163.7,789.8Z" fill="#37b985" stroke="#37b985" stroke-width="0.6"/>
<path d="M1120.0,784.3 L1118.5,797.0 L1116.7,809.7 L1160.0,817.8 L1162.0,803.8 L1163.7,789.8Z" fill="#37b987"/>
<path d="M1116.8,809.1 L1114.6,821.8 L1112.0,834.4 L1154.7,845.0 L1157.6,831.1 L1160.1,817.2Z" fill="#37b986"/>
<path d="M1112.1,833.8 L1109.2,846.3 L1105.8,858.8 L1147.9,871.8 L1151.6,858.1 L1154.9,844.3Z" fill="#37b984"/>
<path d="M1106.0,858.2 L1102.4,870.2 L1098.5,882.2 L1139.7,897.6 L1144.1,884.5 L1148.1,871.2Z" fill="#37b983"/>
<path d="M1118.4,684.6 L1119.9,697.0 L1121.0,709.4 L1121.7,721.9 L1122.1,734.3 L1122.1,746.8 L1121.8,759.3 L1121.1,771.8 L1120.0,784.3 L1159.4,789.3 L1160.6,775.6 L1161.4,762.0 L1161.8,748.3 L1161.8,734.7 L1161.4,721.1 L1160.7,707.5 L1159.5,693.9 L1157.9,680.4Z" fill="#36b88a" stroke="#36b88a" stroke-width="0.6"/>
<path d="M1118.4,684.6 L1119.9,697.3 L1121.0,710.0 L1160.7,708.1 L1159.5,694.2 L1157.9,680.4Z" fill="#36b88b"/>
<path d="M1121.0,709.4 L1121.7,722.2 L1122.1,734.9 L1161.8,735.4 L1161.5,721.4 L1160.7,707.5Z" fill="#36b88a"/>
<path d="M1122.1,734.3 L1122.1,747.1 L1121.8,759.9 L1161.4,762.6 L1161.8,748.7 L1161.8,734.7Z" fill="#36b889"/>
<path d="M1121.8,759.3 L1121.1,771.8 L1120.0,784.3 L1159.4,789.3 L1160.6,775.6 L1161.4,762.0Z" fill="#37b988"/>
<path d="M1094.0,588.6 L1098.2,600.2 L1102.2,612.0 L1105.7,623.9 L1109.0,635.8 L1111.9,647.9 L1114.4,660.1 L1116.6,672.3 L1118.4,684.6 L1156.5,680.5 L1154.5,667.1 L1152.2,653.8 L1149.4,640.5 L1146.3,627.4 L1142.8,614.3 L1138.9,601.3 L1134.7,588.5 L1130.1,575.8Z" fill="#36b78e" stroke="#36b78e" stroke-width="0.6"/>
<path d="M1094.0,588.6 L1098.3,600.5 L1102.3,612.6 L1139.1,602.0 L1134.8,588.8 L1130.1,575.8Z" fill="#36b78f"/>
<path d="M1102.2,612.0 L1105.8,624.1 L1109.1,636.4 L1146.5,628.0 L1142.9,614.6 L1138.9,601.3Z" fill="#36b78e"/>
<path d="M1109.0,635.8 L1111.9,648.2 L1114.5,660.7 L1152.3,654.4 L1149.5,640.8 L1146.3,627.4Z" fill="#36b88d"/>
<path d="M1114.4,660.1 L1116.6,672.3 L1118.4,684.6 L1156.5,680.5 L1154.5,667.1 L1152.2,653.8Z" fill="#36b88c"/>
<path d="M1048.3,501.3 L1055.1,511.6 L1061.6,522.1 L1067.8,532.7 L1073.7,543.6 L1079.2,554.6 L1084.5,565.8 L1089.4,577.1 L1094.0,588.6 L1129.4,576.1 L1124.4,563.6 L1119.1,551.2 L1113.4,539.1 L1107.4,527.1 L1101.0,515.2 L1094.3,503.6 L1087.2,492.2 L1079.9,481.0Z" fill="#36b691" stroke="#36b691" stroke-width="0.6"/>
<path d="M1048.3,501.3 L1055.3,511.9 L1061.9,522.6 L1094.6,504.2 L1087.4,492.5 L1079.9,481.0Z" fill="#35b692"/>
<path d="M1061.6,522.1 L1067.9,533.0 L1074.0,544.1 L1107.7,527.6 L1101.1,515.5 L1094.3,503.6Z" fill="#36b691"/>
<path d="M1073.7,543.6 L1079.4,554.9 L1084.7,566.3 L1119.3,551.8 L1113.5,539.4 L1107.4,527.1Z" fill="#36b690"/>
<path d="M1084.5,565.8 L1089.4,577.1 L1094.0,588.6 L1129.4,576.1 L1124.4,563.6 L1119.1,551.2Z" fill="#36b790"/>
<path d="M984.2,427.4 L993.1,435.8 L1001.8,444.4 L1010.2,453.3 L1018.4,462.5 L1026.3,471.8 L1033.9,481.5 L1041.3,491.3 L1048.3,501.3 L1079.9,481.0 L1072.2,470.1 L1064.2,459.3 L1055.9,448.8 L1047.3,438.6 L1038.5,428.6 L1029.3,418.9 L1019.9,409.5 L1010.2,400.4Z" fill="#35b594" stroke="#35b594" stroke-width="0.6"/>
<path d="M984.2,427.4 L993.3,436.0 L1002.2,444.8 L1029.7,419.4 L1020.1,409.7 L1010.2,400.4Z" fill="#35b595"/>
<path d="M1001.8,444.4 L1010.4,453.5 L1018.8,462.9 L1047.7,439.1 L1038.7,428.9 L1029.3,418.9Z" fill="#35b594"/>
<path d="M1018.4,462.5 L1026.5,472.1 L1034.3,481.9 L1064.6,459.8 L1056.1,449.1 L1047.3,438.6Z" fill="#35b593"/>
<path d="M1033.9,481.5 L1041.3,491.3 L1048.3,501.3 L1079.9,481.0 L1072.2,470.1 L1064.2,459.3Z" fill="#35b693"/>
<path d="M905.2,370.6 L915.7,376.7 L926.1,383.0 L936.3,389.7 L946.3,396.7 L956.1,403.9 L965.7,411.5 L975.0,419.3 L984.2,427.4 L1013.2,397.2 L1003.2,388.3 L992.9,379.6 L982.4,371.3 L971.6,363.3 L960.6,355.6 L949.4,348.2 L938.0,341.2 L926.5,334.5Z" fill="#35b497" stroke="#35b497" stroke-width="0.6"/>
<path d="M905.2,370.6 L916.0,376.8 L926.6,383.4 L950.0,348.6 L938.3,341.4 L926.5,334.5Z" fill="#35b498"/>
<path d="M926.1,383.0 L936.5,389.9 L946.7,397.0 L972.1,363.7 L960.9,355.8 L949.4,348.2Z" fill="#35b497"/>
<path d="M946.3,396.7 L956.3,404.1 L966.1,411.8 L993.4,380.0 L982.6,371.5 L971.6,363.3Z" fill="#35b497"/>
<path d="M965.7,411.5 L975.0,419.3 L984.2,427.4 L1013.2,397.2 L1003.2,388.3 L992.9,379.6Z" fill="#35b496"/>
<path d="M815.7,333.8 L827.3,337.3 L838.8,341.0 L850.2,345.1 L861.5,349.6 L872.6,354.4 L883.6,359.5 L894.5,364.9 L905.2,370.6 L930.7,327.3 L918.7,320.8 L906.6,314.7 L894.3,309.0 L881.8,303.6 L869.2,298.6 L856.4,293.9 L843.6,289.6 L830.6,285.8Z" fill="#35b39a" stroke="#35b39a" stroke-width="0.6"/>
<path d="M815.7,333.8 L827.6,337.4 L839.3,341.2 L857.1,294.1 L843.9,289.7 L830.6,285.8Z" fill="#35b29b"/>
<path d="M838.8,341.0 L850.5,345.3 L862.0,349.8 L882.4,303.8 L869.5,298.7 L856.4,293.9Z" fill="#35b39b"/>
<path d="M861.5,349.6 L872.9,354.5 L884.1,359.7 L907.2,315.0 L894.6,309.1 L881.8,303.6Z" fill="#35b39a"/>
<path d="M883.6,359.5 L894.5,364.9 L905.2,370.6 L930.7,327.3 L918.7,320.8 L906.6,314.7Z" fill="#35b399"/>
<path d="M720.8,318.8 L732.8,319.4 L744.8,320.4 L756.7,321.8 L768.6,323.5 L780.5,325.6 L792.3,328.0 L804.1,330.7 L815.7,333.8 L831.7,282.2 L818.5,278.7 L805.3,275.5 L791.9,272.7 L778.5,270.4 L765.0,268.4 L751.5,266.8 L738.0,265.6 L724.4,264.8Z" fill="#34b29d" stroke="#34b29d" stroke-width="0.6"/>
<path d="M720.8,318.8 L733.1,319.4 L745.3,320.5 L752.2,266.9 L738.3,265.6 L724.4,264.8Z" fill="#34b19e"/>
<path d="M744.8,320.4 L757.0,321.8 L769.2,323.6 L779.1,270.5 L765.4,268.4 L751.5,266.8Z" fill="#34b29e"/>
<path d="M768.6,323.5 L780.8,325.6 L792.9,328.1 L805.9,275.6 L792.2,272.8 L778.5,270.4Z" fill="#34b29d"/>
<path d="M792.3,328.0 L804.1,330.7 L815.7,333.8 L831.7,282.2 L818.5,278.7 L805.3,275.5Z" fill="#35b29c"/>
<path d="M625.5,326.0 L637.3,323.9 L649.1,322.1 L661.0,320.7 L672.9,319.6 L684.8,318.9 L696.8,318.5 L708.8,318.4 L720.8,318.8 L724.4,264.5 L710.9,264.1 L697.3,264.1 L683.7,264.5 L670.2,265.3 L656.7,266.5 L643.3,268.0 L629.9,270.0 L616.6,272.3Z" fill="#34b1a0" stroke="#34b1a0" stroke-width="0.6"/>
<path d="M625.5,326.0 L637.6,323.8 L649.7,322.0 L643.9,268.0 L630.2,269.9 L616.6,272.3Z" fill="#34b0a2"/>
<path d="M649.1,322.1 L661.2,320.6 L673.4,319.5 L670.9,265.2 L657.0,266.4 L643.3,268.0Z" fill="#34b0a1"/>
<path d="M672.9,319.6 L685.1,318.8 L697.4,318.5 L697.9,264.1 L684.1,264.5 L670.2,265.3Z" fill="#34b1a0"/>
<path d="M696.8,318.5 L708.8,318.4 L720.8,318.8 L724.4,264.5 L710.9,264.1 L697.3,264.1Z" fill="#34b19f"/>
<path d="M535.1,354.8 L545.9,350.0 L556.9,345.6 L568.1,341.5 L579.4,337.8 L590.8,334.3 L602.3,331.2 L613.8,328.4 L625.5,326.0 L615.8,267.8 L602.4,270.5 L589.2,273.7 L576.0,277.2 L563.0,281.1 L550.1,285.4 L537.3,290.0 L524.7,295.0 L512.2,300.4Z" fill="#34afa3" stroke="#34afa3" stroke-width="0.6"/>
<path d="M535.1,354.8 L546.2,349.9 L557.5,345.4 L537.9,289.8 L525.0,294.9 L512.2,300.4Z" fill="#33aea4"/>
<path d="M556.9,345.6 L568.4,341.4 L579.9,337.6 L563.6,280.9 L550.4,285.3 L537.3,290.0Z" fill="#34aea3"/>
<path d="M579.4,337.8 L591.0,334.2 L602.8,331.0 L589.8,273.5 L576.3,277.1 L563.0,281.1Z" fill="#34afa3"/>
<path d="M602.3,331.2 L613.8,328.4 L625.5,326.0 L615.8,267.8 L602.4,270.5 L589.2,273.7Z" fill="#34b0a2"/>
<path d="M454.2,403.4 L463.6,396.3 L473.3,389.5 L483.1,383.0 L493.1,376.8 L503.4,370.8 L513.8,365.2 L524.3,359.8 L535.1,354.8 L511.7,299.3 L499.4,305.1 L487.3,311.2 L475.3,317.6 L463.5,324.4 L452.0,331.5 L440.7,339.0 L429.6,346.7 L418.7,354.8Z" fill="#33aca6" stroke="#33aca6" stroke-width="0.6"/>
<path d="M454.2,403.4 L463.8,396.1 L473.7,389.2 L441.2,338.6 L429.8,346.5 L418.7,354.8Z" fill="#33aba6"/>
<path d="M473.3,389.5 L483.3,382.8 L493.6,376.5 L464.1,324.1 L452.3,331.3 L440.7,339.0Z" fill="#33aca6"/>
<path d="M493.1,376.8 L503.6,370.7 L514.3,364.9 L487.8,310.9 L475.6,317.5 L463.5,324.4Z" fill="#33aca5"/>
<path d="M513.8,365.2 L524.3,359.8 L535.1,354.8 L511.7,299.3 L499.4,305.1 L487.3,311.2Z" fill="#33ada5"/>
<path d="M387.1,468.9 L394.6,459.9 L402.4,451.1 L410.4,442.6 L418.7,434.3 L427.2,426.2 L436.0,418.3 L445.0,410.7 L454.2,403.4 L417.8,353.6 L407.2,362.0 L396.8,370.8 L386.7,379.8 L376.8,389.1 L367.2,398.6 L358.0,408.5 L349.0,418.6 L340.3,428.9Z" fill="#32a9a8" stroke="#32a9a8" stroke-width="0.6"/>
<path d="M387.1,468.9 L394.8,459.7 L402.8,450.7 L358.4,408.0 L349.2,418.3 L340.3,428.9Z" fill="#32a8a9"/>
<path d="M402.4,451.1 L410.6,442.4 L419.1,433.9 L377.3,388.6 L367.5,398.4 L358.0,408.5Z" fill="#32a9a8"/>
<path d="M418.7,434.3 L427.4,426.0 L436.4,417.9 L397.3,370.3 L386.9,379.5 L376.8,389.1Z" fill="#32aaa8"/>
<path d="M436.0,418.3 L445.0,410.7 L454.2,403.4 L417.8,353.6 L407.2,362.0 L396.8,370.8Z" fill="#33aaa7"/>
<path d="M337.3,547.7 L342.5,537.3 L348.0,527.0 L353.8,516.9 L359.9,506.9 L366.3,497.1 L372.9,487.5 L379.9,478.1 L387.1,468.9 L342.0,430.3 L333.6,440.9 L325.6,451.6 L317.9,462.6 L310.6,473.8 L303.5,485.2 L296.8,496.8 L290.5,508.6 L284.5,520.5Z" fill="#32a7aa" stroke="#32a7aa" stroke-width="0.6"/>
<path d="M337.3,547.7 L342.6,537.0 L348.3,526.5 L297.1,496.3 L290.6,508.3 L284.5,520.5Z" fill="#31a6ab"/>
<path d="M348.0,527.0 L353.9,516.6 L360.2,506.4 L310.9,473.3 L303.7,484.9 L296.8,496.8Z" fill="#32a6aa"/>
<path d="M359.9,506.9 L366.4,496.9 L373.3,487.1 L326.0,451.1 L318.1,462.4 L310.6,473.8Z" fill="#32a7aa"/>
<path d="M372.9,487.5 L379.9,478.1 L387.1,468.9 L342.0,430.3 L333.6,440.9 L325.6,451.6Z" fill="#32a8a9"/>
<path d="M307.2,635.3 L309.9,624.0 L312.8,612.8 L316.1,601.7 L319.7,590.7 L323.6,579.7 L327.9,568.9 L332.4,558.3 L337.3,547.7 L284.6,520.6 L279.0,532.7 L273.7,545.0 L268.8,557.4 L264.2,569.9 L260.0,582.5 L256.2,595.3 L252.8,608.1 L249.7,621.1Z" fill="#31a4ac" stroke="#31a4ac" stroke-width="0.6"/>
<path d="M307.2,635.3 L309.9,623.7 L313.0,612.3 L256.4,594.7 L252.8,607.8 L249.7,621.1Z" fill="#31a3ad"/>
<path d="M312.8,612.8 L316.2,601.4 L319.9,590.1 L264.4,569.3 L260.1,582.2 L256.2,595.3Z" fill="#31a4ad"/>
<path d="M319.7,590.7 L323.7,579.5 L328.1,568.4 L273.9,544.4 L268.9,557.1 L264.2,569.9Z" fill="#31a4ac"/>
<path d="M327.9,568.9 L332.4,558.3 L337.3,547.7 L284.6,520.6 L279.0,532.7 L273.7,545.0Z" fill="#31a5ac"/>
<path d="M298.2,726.8 L298.2,715.3 L298.5,703.8 L299.1,692.3 L300.1,680.8 L301.4,669.4 L303.0,658.0 L304.9,646.6 L307.2,635.3 L256.0,622.6 L253.4,635.4 L251.1,648.3 L249.2,661.3 L247.7,674.2 L246.6,687.3 L245.9,700.3 L245.5,713.3 L245.5,726.3Z" fill="#30a1af" stroke="#30a1af" stroke-width="0.6"/>
<path d="M298.2,726.8 L298.2,715.0 L298.5,703.3 L245.9,699.7 L245.5,713.0 L245.5,726.3Z" fill="#30a0b0"/>
<path d="M298.5,703.8 L299.1,692.1 L300.1,680.3 L247.8,673.6 L246.6,686.9 L245.9,700.3Z" fill="#30a1af"/>
<path d="M300.1,680.8 L301.4,669.1 L303.1,657.4 L251.2,647.7 L249.3,661.0 L247.7,674.2Z" fill="#30a2af"/>
<path d="M303.0,658.0 L304.9,646.6 L307.2,635.3 L256.0,622.6 L253.4,635.4 L251.1,648.3Z" fill="#31a2ae"/>
<path d="M310.5,817.4 L307.8,806.3 L305.5,795.1 L303.4,783.9 L301.7,772.5 L300.4,761.2 L299.3,749.7 L298.6,738.3 L298.2,726.8 L256.1,726.4 L256.5,739.1 L257.3,751.8 L258.4,764.5 L259.9,777.0 L261.7,789.6 L264.0,802.0 L266.5,814.4 L269.5,826.7Z" fill="#309db1" stroke="#309db1" stroke-width="0.6"/>
<path d="M310.5,817.4 L307.8,806.0 L305.4,794.6 L263.8,801.5 L266.5,814.1 L269.5,826.7Z" fill="#309cb1"/>
<path d="M305.5,795.1 L303.4,783.6 L301.7,772.0 L259.8,776.4 L261.7,789.3 L264.0,802.0Z" fill="#309db1"/>
<path d="M301.7,772.5 L300.3,760.9 L299.3,749.2 L257.2,751.2 L258.4,764.2 L259.9,777.0Z" fill="#309eb0"/>
<path d="M299.3,749.7 L298.6,738.3 L298.2,726.8 L256.1,726.4 L256.5,739.1 L257.3,751.8Z" fill="#309fb0"/>
<path d="M343.2,902.2 L338.0,892.0 L333.2,881.8 L328.6,871.4 L324.4,860.8 L320.5,850.1 L316.8,839.3 L313.5,828.4 L310.5,817.4 L274.6,825.6 L277.8,837.6 L281.4,849.6 L285.4,861.4 L289.6,873.1 L294.3,884.6 L299.2,896.1 L304.5,907.3 L310.1,918.4Z" fill="#3098b2" stroke="#3098b2" stroke-width="0.6"/>
<path d="M343.2,902.2 L337.9,891.8 L333.0,881.3 L299.0,895.5 L304.4,907.0 L310.1,918.4Z" fill="#3096b2"/>
<path d="M333.2,881.8 L328.5,871.1 L324.2,860.3 L289.4,872.5 L294.1,884.4 L299.2,896.1Z" fill="#3098b2"/>
<path d="M324.4,860.8 L320.4,849.9 L316.7,838.8 L281.2,849.0 L285.3,861.1 L289.6,873.1Z" fill="#3099b2"/>
<path d="M316.8,839.3 L313.5,828.4 L310.5,817.4 L274.6,825.6 L277.8,837.6 L281.4,849.6Z" fill="#309ab1"/>
<path d="M394.2,976.6 L386.9,968.0 L379.8,959.2 L373.1,950.2 L366.5,940.9 L360.3,931.5 L354.3,921.9 L348.6,912.1 L343.2,902.2 L312.9,917.0 L318.8,927.8 L324.9,938.5 L331.4,948.9 L338.2,959.2 L345.2,969.2 L352.6,979.1 L360.2,988.7 L368.1,998.0Z" fill="#3093b3" stroke="#3093b3" stroke-width="0.6"/>
<path d="M394.2,976.6 L386.7,967.8 L379.5,958.7 L352.2,978.6 L360.0,988.4 L368.1,998.0Z" fill="#3091b3"/>
<path d="M379.8,959.2 L372.9,949.9 L366.2,940.5 L337.8,958.7 L345.1,969.0 L352.6,979.1Z" fill="#3092b3"/>
<path d="M366.5,940.9 L360.1,931.3 L354.0,921.4 L324.6,938.0 L331.2,948.7 L338.2,959.2Z" fill="#3094b3"/>
<path d="M354.3,921.9 L348.6,912.1 L343.2,902.2 L312.9,917.0 L318.8,927.8 L324.9,938.5Z" fill="#3095b2"/>
<path d="M460.5,1036.9 L451.5,1030.2 L442.7,1023.3 L434.1,1016.1 L425.6,1008.7 L417.4,1001.0 L409.4,993.1 L401.7,985.0 L394.2,976.6 L368.1,998.0 L376.3,1007.2 L384.7,1016.1 L393.4,1024.7 L402.3,1033.0 L411.4,1041.1 L420.8,1049.0 L430.3,1056.5 L440.1,1063.7Z" fill="#308eb4" stroke="#308eb4" stroke-width="0.6"/>
<path d="M460.5,1036.9 L451.3,1030.1 L442.3,1023.0 L420.3,1048.6 L430.1,1056.3 L440.1,1063.7Z" fill="#308cb4"/>
<path d="M442.7,1023.3 L433.9,1016.0 L425.2,1008.4 L401.8,1032.6 L411.2,1040.9 L420.8,1049.0Z" fill="#308db4"/>
<path d="M425.6,1008.7 L417.2,1000.9 L409.1,992.7 L384.3,1015.6 L393.2,1024.5 L402.3,1033.0Z" fill="#308fb4"/>
<path d="M409.4,993.1 L401.7,985.0 L394.2,976.6 L368.1,998.0 L376.3,1007.2 L384.7,1016.1Z" fill="#3090b4"/>
<path d="M538.5,1079.9 L528.3,1075.5 L518.1,1070.9 L508.2,1065.9 L498.3,1060.7 L488.6,1055.2 L479.1,1049.3 L469.7,1043.2 L460.5,1036.9 L440.7,1063.0 L450.7,1069.9 L460.8,1076.6 L471.2,1082.9 L481.7,1088.9 L492.3,1094.6 L503.2,1100.0 L514.1,1105.1 L525.2,1109.9Z" fill="#3089b5" stroke="#3089b5" stroke-width="0.6"/>
<path d="M538.5,1079.9 L528.0,1075.4 L517.7,1070.7 L502.6,1099.8 L513.9,1105.0 L525.2,1109.9Z" fill="#3087b6"/>
<path d="M518.1,1070.9 L507.9,1065.8 L497.8,1060.4 L481.2,1088.6 L492.1,1094.5 L503.2,1100.0Z" fill="#3088b5"/>
<path d="M498.3,1060.7 L488.4,1055.0 L478.6,1049.1 L460.3,1076.2 L470.9,1082.7 L481.7,1088.9Z" fill="#308ab5"/>
<path d="M479.1,1049.3 L469.7,1043.2 L460.5,1036.9 L440.7,1063.0 L450.7,1069.9 L460.8,1076.6Z" fill="#308bb5"/>
<path d="M623.7,1103.6 L612.8,1101.8 L602.0,1099.6 L591.2,1097.1 L580.5,1094.3 L569.8,1091.1 L559.3,1087.7 L548.8,1084.0 L538.5,1079.9 L525.2,1109.9 L536.5,1114.3 L547.8,1118.4 L559.3,1122.2 L570.8,1125.6 L582.4,1128.7 L594.1,1131.4 L605.9,1133.8 L617.7,1135.9Z" fill="#3084b6" stroke="#3084b6" stroke-width="0.6"/>
<path d="M623.7,1103.6 L612.6,1101.7 L601.5,1099.5 L593.6,1131.3 L605.6,1133.7 L617.7,1135.9Z" fill="#3082b7"/>
<path d="M602.0,1099.6 L590.9,1097.0 L580.0,1094.1 L570.2,1125.4 L582.1,1128.6 L594.1,1131.4Z" fill="#3083b6"/>
<path d="M580.5,1094.3 L569.6,1091.1 L558.8,1087.5 L547.3,1118.2 L559.0,1122.1 L570.8,1125.6Z" fill="#3084b6"/>
<path d="M559.3,1087.7 L548.8,1084.0 L538.5,1079.9 L525.2,1109.9 L536.5,1114.3 L547.8,1118.4Z" fill="#3086b6"/>
<path d="M711.5,1107.0 L700.6,1107.7 L689.6,1108.1 L678.6,1108.2 L667.6,1107.9 L656.6,1107.3 L645.6,1106.4 L634.6,1105.2 L623.7,1103.6 L617.3,1138.0 L629.3,1139.7 L641.2,1141.1 L653.2,1142.1 L665.2,1142.7 L677.3,1143.1 L689.3,1143.0 L701.3,1142.6 L713.2,1141.9Z" fill="#307fb7" stroke="#307fb7" stroke-width="0.6"/>
<path d="M711.5,1107.0 L700.3,1107.7 L689.1,1108.1 L688.7,1143.0 L701.0,1142.7 L713.2,1141.9Z" fill="#307db8"/>
<path d="M689.6,1108.1 L678.3,1108.1 L667.1,1107.9 L664.7,1142.7 L677.0,1143.1 L689.3,1143.0Z" fill="#307eb8"/>
<path d="M667.6,1107.9 L656.3,1107.3 L645.1,1106.3 L640.7,1141.0 L652.9,1142.1 L665.2,1142.7Z" fill="#307fb7"/>
<path d="M645.6,1106.4 L634.6,1105.2 L623.7,1103.6 L617.3,1138.0 L629.3,1139.7 L641.2,1141.1Z" fill="#3080b7"/>
<path d="M797.2,1090.2 L786.7,1093.4 L776.2,1096.2 L765.6,1098.8 L754.9,1101.1 L744.2,1103.0 L733.3,1104.7 L722.4,1106.0 L711.5,1107.0 L713.3,1142.5 L725.2,1141.4 L737.1,1140.0 L749.0,1138.2 L760.8,1136.1 L772.5,1133.7 L784.1,1130.9 L795.6,1127.7 L807.0,1124.3Z" fill="#3079b8" stroke="#3079b8" stroke-width="0.6"/>
<path d="M797.2,1090.2 L786.5,1093.4 L775.7,1096.4 L783.5,1131.0 L795.3,1127.8 L807.0,1124.3Z" fill="#3077b8"/>
<path d="M776.2,1096.2 L765.4,1098.9 L754.4,1101.2 L760.2,1136.2 L772.2,1133.7 L784.1,1130.9Z" fill="#3078b8"/>
<path d="M754.9,1101.1 L743.9,1103.1 L732.8,1104.8 L736.6,1140.1 L748.7,1138.3 L760.8,1136.1Z" fill="#307ab8"/>
<path d="M733.3,1104.7 L722.4,1106.0 L711.5,1107.0 L713.3,1142.5 L725.2,1141.4 L737.1,1140.0Z" fill="#307bb8"/>
<path d="M876.1,1054.2 L866.7,1059.7 L857.2,1064.9 L847.6,1069.8 L837.7,1074.5 L827.8,1078.8 L817.7,1082.9 L807.5,1086.7 L797.2,1090.2 L807.6,1126.2 L819.0,1122.4 L830.2,1118.3 L841.3,1113.8 L852.3,1109.1 L863.1,1104.0 L873.8,1098.6 L884.2,1092.9 L894.5,1086.9Z" fill="#2f73b9" stroke="#2f73b9" stroke-width="0.6"/>
<path d="M876.1,1054.2 L866.5,1059.8 L856.8,1065.2 L873.2,1098.9 L884.0,1093.0 L894.5,1086.9Z" fill="#2f71b9"/>
<path d="M857.2,1064.9 L847.3,1069.9 L837.3,1074.7 L851.8,1109.3 L862.8,1104.1 L873.8,1098.6Z" fill="#2f73b9"/>
<path d="M837.7,1074.5 L827.5,1078.9 L817.2,1083.1 L829.7,1118.5 L841.1,1113.9 L852.3,1109.1Z" fill="#2f74b9"/>
<path d="M817.7,1082.9 L807.5,1086.7 L797.2,1090.2 L807.6,1126.2 L819.0,1122.4 L830.2,1118.3Z" fill="#2f76b9"/>
<path d="M944.1,1001.4 L936.3,1008.9 L928.3,1016.1 L920.1,1023.0 L911.7,1029.8 L903.1,1036.3 L894.3,1042.5 L885.3,1048.5 L876.1,1054.2 L894.9,1087.5 L905.0,1081.2 L915.0,1074.6 L924.7,1067.8 L934.2,1060.6 L943.5,1053.2 L952.6,1045.6 L961.5,1037.6 L970.1,1029.5Z" fill="#2f6eb9" stroke="#2f6eb9" stroke-width="0.6"/>
<path d="M944.1,1001.4 L936.1,1009.0 L927.9,1016.4 L952.2,1045.9 L961.3,1037.8 L970.1,1029.5Z" fill="#2e6cba"/>
<path d="M928.3,1016.1 L919.9,1023.2 L911.3,1030.1 L933.8,1061.0 L943.3,1053.4 L952.6,1045.6Z" fill="#2e6dba"/>
<path d="M911.7,1029.8 L902.9,1036.4 L893.8,1042.8 L914.5,1075.0 L924.5,1067.9 L934.2,1060.6Z" fill="#2f6eb9"/>
<path d="M894.3,1042.5 L885.3,1048.5 L876.1,1054.2 L894.9,1087.5 L905.0,1081.2 L915.0,1074.6Z" fill="#2f70b9"/>
<path d="M997.7,934.8 L991.9,943.8 L985.8,952.6 L979.5,961.2 L972.9,969.6 L966.1,977.9 L959.0,985.9 L951.7,993.8 L944.1,1001.4 L969.0,1028.3 L977.3,1019.9 L985.4,1011.3 L993.2,1002.5 L1000.7,993.4 L1008.0,984.2 L1015.0,974.7 L1021.7,965.1 L1028.1,955.2Z" fill="#2e68ba" stroke="#2e68ba" stroke-width="0.6"/>
<path d="M997.7,934.8 L991.8,944.0 L985.5,953.0 L1014.7,975.2 L1021.6,965.3 L1028.1,955.2Z" fill="#2e66ba"/>
<path d="M985.8,952.6 L979.3,961.4 L972.6,970.0 L1000.4,993.9 L1007.8,984.4 L1015.0,974.7Z" fill="#2e67ba"/>
<path d="M972.9,969.6 L965.9,978.1 L958.6,986.3 L985.0,1011.7 L993.0,1002.7 L1000.7,993.4Z" fill="#2e69ba"/>
<path d="M959.0,985.9 L951.7,993.8 L944.1,1001.4 L969.0,1028.3 L977.3,1019.9 L985.4,1011.3Z" fill="#2e6aba"/>
<path d="M1034.3,858.2 L1030.7,868.1 L1026.9,878.0 L1022.7,887.8 L1018.3,897.5 L1013.6,907.0 L1008.6,916.4 L1003.3,925.7 L997.7,934.8 L1041.4,964.1 L1047.8,953.7 L1053.9,943.2 L1059.6,932.4 L1065.1,921.5 L1070.2,910.5 L1075.0,899.3 L1079.4,888.0 L1083.6,876.6Z" fill="#2d62bb" stroke="#2d62bb" stroke-width="0.6"/>
<path d="M1034.3,858.2 L1030.6,868.4 L1026.7,878.5 L1074.8,899.9 L1079.3,888.3 L1083.6,876.6Z" fill="#2d60bb"/>
<path d="M1026.9,878.0 L1022.6,888.1 L1018.1,898.0 L1064.8,922.1 L1070.1,910.8 L1075.0,899.3Z" fill="#2d62bb"/>
<path d="M1018.3,897.5 L1013.4,907.3 L1008.3,916.9 L1053.6,943.7 L1059.5,932.7 L1065.1,921.5Z" fill="#2e63ba"/>
<path d="M1008.6,916.4 L1003.3,925.7 L997.7,934.8 L1041.4,964.1 L1047.8,953.7 L1053.9,943.2Z" fill="#2e64ba"/>
<path d="M1052.0,775.7 L1050.9,786.2 L1049.4,796.6 L1047.6,807.0 L1045.6,817.4 L1043.2,827.7 L1040.5,837.9 L1037.5,848.1 L1034.3,858.2 L1083.9,876.7 L1087.6,865.2 L1091.1,853.6 L1094.2,841.8 L1097.0,830.1 L1099.4,818.2 L1101.5,806.3 L1103.2,794.3 L1104.5,782.3Z" fill="#2d5dbb" stroke="#2d5dbb" stroke-width="0.6"/>
<path d="M1052.0,775.7 L1050.8,786.4 L1049.3,797.1 L1101.4,806.9 L1103.1,794.6 L1104.5,782.3Z" fill="#2d5abb"/>
<path d="M1049.4,796.6 L1047.6,807.3 L1045.5,817.9 L1096.8,830.6 L1099.3,818.5 L1101.5,806.3Z" fill="#2d5cbb"/>
<path d="M1045.6,817.4 L1043.1,827.9 L1040.4,838.4 L1090.9,854.1 L1094.1,842.1 L1097.0,830.1Z" fill="#2d5dbb"/>
<path d="M1040.5,837.9 L1037.5,848.1 L1034.3,858.2 L1083.9,876.7 L1087.6,865.2 L1091.1,853.6Z" fill="#2d5fbb"/>
<path d="M1050.3,692.0 L1051.5,702.3 L1052.5,712.8 L1053.2,723.2 L1053.6,733.7 L1053.6,744.2 L1053.4,754.7 L1052.9,765.2 L1052.0,775.7 L1105.0,782.4 L1106.0,770.4 L1106.7,758.3 L1107.0,746.2 L1107.0,734.2 L1106.6,722.2 L1105.9,710.2 L1104.8,698.2 L1103.4,686.3Z" fill="#2c57bc" stroke="#2c57bc" stroke-width="0.6"/>
<path d="M1050.3,692.0 L1051.6,702.6 L1052.6,713.3 L1105.9,710.7 L1104.8,698.5 L1103.4,686.3Z" fill="#2c55bc"/>
<path d="M1052.5,712.8 L1053.2,723.5 L1053.6,734.2 L1107.0,734.8 L1106.6,722.5 L1105.9,710.2Z" fill="#2c56bc"/>
<path d="M1053.6,733.7 L1053.6,744.5 L1053.4,755.2 L1106.7,758.9 L1107.0,746.5 L1107.0,734.2Z" fill="#2c58bc"/>
<path d="M1053.4,754.7 L1052.9,765.2 L1052.0,775.7 L1105.0,782.4 L1106.0,770.4 L1106.7,758.3Z" fill="#2c59bc"/>
<path d="M1029.4,611.5 L1033.0,621.2 L1036.3,631.0 L1039.4,641.0 L1042.1,651.0 L1044.6,661.2 L1046.8,671.4 L1048.7,681.6 L1050.3,692.0 L1105.7,686.0 L1103.9,674.1 L1101.7,662.2 L1099.3,650.4 L1096.5,638.7 L1093.3,627.1 L1089.8,615.6 L1086.0,604.2 L1081.9,592.9Z" fill="#2c52bc" stroke="#2c52bc" stroke-width="0.6"/>
<path d="M1029.4,611.5 L1033.1,621.4 L1036.5,631.5 L1090.0,616.1 L1086.1,604.4 L1081.9,592.9Z" fill="#2c50bc"/>
<path d="M1036.3,631.0 L1039.5,641.2 L1042.3,651.5 L1096.6,639.2 L1093.4,627.3 L1089.8,615.6Z" fill="#2c51bc"/>
<path d="M1042.1,651.0 L1044.7,661.4 L1046.9,671.9 L1101.9,662.8 L1099.3,650.7 L1096.5,638.7Z" fill="#2c52bc"/>
<path d="M1046.8,671.4 L1048.7,681.6 L1050.3,692.0 L1105.7,686.0 L1103.9,674.1 L1101.7,662.2Z" fill="#2c53bc"/>
<path d="M990.7,538.5 L996.5,547.1 L1002.0,555.8 L1007.2,564.7 L1012.1,573.8 L1016.9,583.0 L1021.3,592.4 L1025.5,601.9 L1029.4,611.5 L1082.7,592.6 L1078.2,581.4 L1073.4,570.4 L1068.3,559.6 L1062.9,548.9 L1057.2,538.3 L1051.2,528.0 L1044.9,517.8 L1038.3,507.8Z" fill="#2c4dbd" stroke="#2c4dbd" stroke-width="0.6"/>
<path d="M990.7,538.5 L996.6,547.3 L1002.2,556.2 L1051.5,528.5 L1045.0,518.1 L1038.3,507.8Z" fill="#2b4bbd"/>
<path d="M1002.0,555.8 L1007.3,564.9 L1012.4,574.2 L1063.2,549.4 L1057.3,538.6 L1051.2,528.0Z" fill="#2c4dbd"/>
<path d="M1012.1,573.8 L1017.0,583.2 L1021.5,592.8 L1073.7,571.0 L1068.5,559.8 L1062.9,548.9Z" fill="#2c4ebd"/>
<path d="M1021.3,592.4 L1025.5,601.9 L1029.4,611.5 L1082.7,592.6 L1078.2,581.4 L1073.4,570.4Z" fill="#2c4fbd"/>
<path d="M936.7,476.8 L944.2,483.8 L951.5,491.0 L958.6,498.4 L965.5,506.0 L972.1,513.9 L978.6,521.9 L984.8,530.1 L990.7,538.5 L1042.0,505.4 L1035.1,495.5 L1027.9,485.9 L1020.3,476.4 L1012.6,467.2 L1004.5,458.3 L996.3,449.5 L987.7,441.0 L979.0,432.8Z" fill="#2b49bd" stroke="#2b49bd" stroke-width="0.6"/>
<path d="M936.7,476.8 L944.4,484.0 L951.8,491.4 L996.7,449.9 L988.0,441.2 L979.0,432.8Z" fill="#2b47be"/>
<path d="M951.5,491.0 L958.8,498.6 L965.8,506.4 L1013.0,467.7 L1004.7,458.5 L996.3,449.5Z" fill="#2b48be"/>
<path d="M965.5,506.0 L972.3,514.0 L978.9,522.3 L1028.2,486.3 L1020.5,476.7 L1012.6,467.2Z" fill="#2b49bd"/>
<path d="M978.6,521.9 L984.8,530.1 L990.7,538.5 L1042.0,505.4 L1035.1,495.5 L1027.9,485.9Z" fill="#2b4abd"/>
<path d="M870.4,429.7 L879.2,434.7 L887.9,440.0 L896.4,445.5 L904.8,451.3 L913.1,457.3 L921.1,463.6 L929.0,470.1 L936.7,476.8 L985.0,426.5 L975.9,418.4 L966.5,410.5 L956.9,403.0 L947.0,395.7 L937.0,388.7 L926.8,382.0 L916.4,375.6 L905.8,369.6Z" fill="#2b44be" stroke="#2b44be" stroke-width="0.6"/>
<path d="M870.4,429.7 L879.4,434.8 L888.3,440.2 L927.3,382.3 L916.6,375.8 L905.8,369.6Z" fill="#2b42be"/>
<path d="M887.9,440.0 L896.7,445.6 L905.2,451.6 L947.5,396.0 L937.2,388.9 L926.8,382.0Z" fill="#2b43be"/>
<path d="M904.8,451.3 L913.3,457.5 L921.5,463.9 L966.9,410.9 L957.1,403.1 L947.0,395.7Z" fill="#2b45be"/>
<path d="M921.1,463.6 L929.0,470.1 L936.7,476.8 L985.0,426.5 L975.9,418.4 L966.5,410.5Z" fill="#2b46be"/>
<path d="M795.5,399.3 L805.2,402.1 L814.8,405.2 L824.3,408.6 L833.7,412.3 L843.1,416.2 L852.3,420.4 L861.4,424.9 L870.4,429.7 L906.8,367.9 L896.0,362.1 L885.0,356.6 L874.0,351.5 L862.7,346.7 L851.4,342.2 L839.9,338.1 L828.3,334.3 L816.7,330.8Z" fill="#2b3fbf" stroke="#2b3fbf" stroke-width="0.6"/>
<path d="M795.5,399.3 L805.4,402.2 L815.2,405.4 L840.5,338.3 L828.6,334.3 L816.7,330.8Z" fill="#2b3ebf"/>
<path d="M814.8,405.2 L824.5,408.7 L834.2,412.5 L863.3,346.9 L851.7,342.3 L839.9,338.1Z" fill="#2b3fbf"/>
<path d="M833.7,412.3 L843.3,416.3 L852.7,420.6 L885.6,356.9 L874.2,351.6 L862.7,346.7Z" fill="#2b40be"/>
<path d="M852.3,420.4 L861.4,424.9 L870.4,429.7 L906.8,367.9 L896.0,362.1 L885.0,356.6Z" fill="#2b41be"/>
<path d="M716.2,387.1 L726.2,387.6 L736.2,388.4 L746.2,389.5 L756.1,390.9 L766.0,392.6 L775.9,394.5 L785.7,396.8 L795.5,399.3 L816.7,330.8 L804.9,327.7 L793.1,324.9 L781.2,322.5 L769.2,320.4 L757.2,318.7 L745.2,317.3 L733.1,316.3 L721.0,315.6Z" fill="#2a3bbf" stroke="#2a3bbf" stroke-width="0.6"/>
<path d="M716.2,387.1 L726.4,387.7 L736.7,388.5 L745.7,317.3 L733.4,316.3 L721.0,315.6Z" fill="#2a39bf"/>
<path d="M736.2,388.4 L746.4,389.6 L756.6,391.0 L769.8,320.5 L757.5,318.7 L745.2,317.3Z" fill="#2a3abf"/>
<path d="M756.1,390.9 L766.3,392.6 L776.4,394.6 L793.6,325.0 L781.4,322.5 L769.2,320.4Z" fill="#2a3bbf"/>
<path d="M775.9,394.5 L785.7,396.8 L795.5,399.3 L816.7,330.8 L804.9,327.7 L793.1,324.9Z" fill="#2b3dbf"/>
<path d="M636.8,393.6 L646.6,391.8 L656.4,390.2 L666.3,389.0 L676.2,388.0 L686.2,387.4 L696.2,387.0 L706.2,386.9 L716.2,387.1 L720.9,317.1 L708.9,316.8 L696.8,316.8 L684.8,317.2 L672.8,318.0 L660.8,319.0 L648.9,320.5 L637.0,322.2 L625.3,324.4Z" fill="#2a36c0" stroke="#2a36c0" stroke-width="0.6"/>
<path d="M636.8,393.6 L646.8,391.7 L656.9,390.2 L649.5,320.4 L637.3,322.2 L625.3,324.4Z" fill="#2a35c0"/>
<path d="M656.4,390.2 L666.5,389.0 L676.7,388.0 L673.4,317.9 L661.1,319.0 L648.9,320.5Z" fill="#2a36c0"/>
<path d="M676.2,388.0 L686.4,387.4 L696.7,387.0 L697.4,316.8 L685.1,317.2 L672.8,318.0Z" fill="#2a37c0"/>
<path d="M696.2,387.0 L706.2,386.9 L716.2,387.1 L720.9,317.1 L708.9,316.8 L696.8,316.8Z" fill="#2a38c0"/>
<path d="M561.6,418.0 L570.7,414.0 L579.8,410.2 L589.1,406.8 L598.4,403.6 L607.9,400.7 L617.5,398.0 L627.1,395.7 L636.8,393.6 L625.3,324.7 L613.6,327.2 L602.0,330.0 L590.5,333.1 L579.0,336.6 L567.7,340.3 L556.5,344.4 L545.5,348.9 L534.6,353.6Z" fill="#2a32be" stroke="#2a32be" stroke-width="0.6"/>
<path d="M561.6,418.0 L570.9,413.9 L580.2,410.1 L557.1,344.2 L545.7,348.8 L534.6,353.6Z" fill="#2930bd"/>
<path d="M579.8,410.2 L589.3,406.7 L598.9,403.4 L579.6,336.4 L568.0,340.2 L556.5,344.4Z" fill="#2932be"/>
<path d="M598.4,403.6 L608.1,400.6 L617.9,397.9 L602.5,329.8 L590.7,333.0 L579.0,336.6Z" fill="#2a32bf"/>
<path d="M617.5,398.0 L627.1,395.7 L636.8,393.6 L625.3,324.7 L613.6,327.2 L602.0,330.0Z" fill="#2a34c0"/>
<path d="M494.6,458.7 L502.4,452.8 L510.4,447.1 L518.5,441.7 L526.9,436.4 L535.3,431.4 L544.0,426.7 L552.7,422.2 L561.6,418.0 L534.0,352.2 L523.2,357.3 L512.5,362.7 L502.1,368.3 L491.8,374.3 L481.7,380.6 L471.7,387.2 L462.0,394.0 L452.5,401.1Z" fill="#292ebb" stroke="#292ebb" stroke-width="0.6"/>
<path d="M494.6,458.7 L502.6,452.7 L510.8,446.9 L472.2,386.8 L462.3,393.8 L452.5,401.1Z" fill="#282cba"/>
<path d="M510.4,447.1 L518.7,441.5 L527.3,436.2 L492.3,374.0 L481.9,380.5 L471.7,387.2Z" fill="#292eba"/>
<path d="M526.9,436.4 L535.5,431.3 L544.4,426.5 L513.0,362.4 L502.3,368.2 L491.8,374.3Z" fill="#292ebb"/>
<path d="M544.0,426.7 L552.7,422.2 L561.6,418.0 L534.0,352.2 L523.2,357.3 L512.5,362.7Z" fill="#2930bc"/>
<path d="M439.2,513.5 L445.4,506.0 L451.8,498.6 L458.4,491.5 L465.3,484.5 L472.3,477.8 L479.5,471.2 L487.0,464.9 L494.6,458.7 L456.4,406.4 L447.3,413.7 L438.4,421.2 L429.7,429.0 L421.2,437.0 L413.1,445.3 L405.1,453.8 L397.4,462.5 L390.0,471.4Z" fill="#282ab7" stroke="#282ab7" stroke-width="0.6"/>
<path d="M439.2,513.5 L445.6,505.8 L452.1,498.3 L405.5,453.3 L397.6,462.3 L390.0,471.4Z" fill="#2828b6"/>
<path d="M451.8,498.6 L458.6,491.3 L465.6,484.2 L421.6,436.6 L413.2,445.1 L405.1,453.8Z" fill="#282ab7"/>
<path d="M465.3,484.5 L472.5,477.6 L479.9,470.9 L438.8,420.9 L429.9,428.8 L421.2,437.0Z" fill="#282ab8"/>
<path d="M479.5,471.2 L487.0,464.9 L494.6,458.7 L456.4,406.4 L447.3,413.7 L438.4,421.2Z" fill="#282cb9"/>
<path d="M398.3,579.0 L402.5,570.3 L407.0,561.8 L411.8,553.4 L416.8,545.1 L422.1,537.0 L427.5,529.0 L433.3,521.1 L439.2,513.5 L395.1,475.8 L388.1,484.8 L381.4,493.9 L374.9,503.3 L368.7,512.8 L362.7,522.5 L357.1,532.4 L351.8,542.4 L346.7,552.5Z" fill="#2726b4" stroke="#2726b4" stroke-width="0.6"/>
<path d="M398.3,579.0 L402.6,570.1 L407.3,561.4 L357.4,531.9 L351.9,542.1 L346.7,552.5Z" fill="#2724b3"/>
<path d="M407.0,561.8 L411.9,553.2 L417.1,544.7 L368.9,512.3 L362.9,522.3 L357.1,532.4Z" fill="#2726b4"/>
<path d="M416.8,545.1 L422.2,536.8 L427.8,528.6 L381.7,493.5 L375.0,503.0 L368.7,512.8Z" fill="#2726b4"/>
<path d="M427.5,529.0 L433.3,521.1 L439.2,513.5 L395.1,475.8 L388.1,484.8 L381.4,493.9Z" fill="#2728b5"/>
<path d="M373.8,651.7 L375.9,642.3 L378.3,633.1 L381.0,623.8 L383.9,614.7 L387.1,605.6 L390.6,596.7 L394.3,587.8 L398.3,579.0 L355.9,557.3 L351.3,567.3 L347.0,577.4 L343.0,587.7 L339.3,598.0 L335.9,608.4 L332.8,619.0 L330.0,629.6 L327.6,640.3Z" fill="#2622b1" stroke="#2622b1" stroke-width="0.6"/>
<path d="M373.8,651.7 L376.0,642.1 L378.4,632.6 L332.9,618.5 L330.1,629.3 L327.6,640.3Z" fill="#2620af"/>
<path d="M378.3,633.1 L381.0,623.6 L384.0,614.3 L339.5,597.5 L336.0,608.2 L332.8,619.0Z" fill="#2622b0"/>
<path d="M383.9,614.7 L387.2,605.4 L390.7,596.2 L347.2,576.9 L343.1,587.4 L339.3,598.0Z" fill="#2622b1"/>
<path d="M390.6,596.7 L394.3,587.8 L398.3,579.0 L355.9,557.3 L351.3,567.3 L347.0,577.4Z" fill="#2624b2"/>
<path d="M366.8,727.4 L366.7,717.9 L366.9,708.4 L367.3,698.9 L368.1,689.4 L369.1,679.9 L370.4,670.5 L371.9,661.1 L373.8,651.7 L330.8,641.1 L328.7,651.7 L326.9,662.4 L325.3,673.1 L324.1,683.9 L323.3,694.7 L322.7,705.5 L322.4,716.3 L322.5,727.0Z" fill="#251ead" stroke="#251ead" stroke-width="0.6"/>
<path d="M366.8,727.4 L366.7,717.7 L366.9,708.0 L322.7,704.9 L322.4,716.0 L322.5,727.0Z" fill="#251cac"/>
<path d="M366.9,708.4 L367.3,698.7 L368.1,689.0 L324.2,683.4 L323.3,694.4 L322.7,705.5Z" fill="#251ead"/>
<path d="M368.1,689.4 L369.1,679.7 L370.4,670.0 L326.9,661.9 L325.4,672.9 L324.1,683.9Z" fill="#251eae"/>
<path d="M370.4,670.5 L371.9,661.1 L373.8,651.7 L330.8,641.1 L328.7,651.7 L326.9,662.4Z" fill="#2620ae"/>
<path d="M377.4,802.2 L375.1,793.1 L373.1,783.8 L371.4,774.5 L369.9,765.2 L368.7,755.8 L367.8,746.4 L367.1,736.9 L366.8,727.4 L326.7,727.1 L327.1,737.7 L327.8,748.4 L328.8,758.9 L330.1,769.5 L331.7,780.0 L333.6,790.4 L335.8,800.8 L338.3,811.1Z" fill="#241aaa" stroke="#241aaa" stroke-width="0.6"/>
<path d="M377.4,802.2 L375.0,792.8 L373.0,783.4 L333.5,789.9 L335.7,800.5 L338.3,811.1Z" fill="#2418a8"/>
<path d="M373.1,783.8 L371.3,774.3 L369.8,764.8 L330.0,769.0 L331.6,779.7 L333.6,790.4Z" fill="#241aa9"/>
<path d="M369.9,765.2 L368.7,755.6 L367.7,745.9 L327.7,747.8 L328.7,758.7 L330.1,769.5Z" fill="#251aaa"/>
<path d="M367.8,746.4 L367.1,736.9 L366.8,727.4 L326.7,727.1 L327.1,737.7 L327.8,748.4Z" fill="#251cab"/>
<path d="M404.7,872.0 L400.4,863.6 L396.4,855.2 L392.6,846.6 L389.0,837.9 L385.7,829.2 L382.7,820.3 L379.9,811.3 L377.4,802.2 L339.5,810.8 L342.2,821.0 L345.3,831.1 L348.7,841.0 L352.4,850.9 L356.3,860.6 L360.5,870.3 L365.0,879.7 L369.8,889.1Z" fill="#2417a6" stroke="#2417a6" stroke-width="0.6"/>
<path d="M404.7,872.0 L400.3,863.4 L396.2,854.8 L360.3,869.8 L364.9,879.5 L369.8,889.1Z" fill="#2416a4"/>
<path d="M396.4,855.2 L392.5,846.4 L388.9,837.5 L352.2,850.4 L356.2,860.4 L360.5,870.3Z" fill="#2417a6"/>
<path d="M389.0,837.9 L385.6,828.9 L382.5,819.8 L345.2,830.6 L348.6,840.8 L352.4,850.9Z" fill="#2417a6"/>
<path d="M382.7,820.3 L379.9,811.3 L377.4,802.2 L339.5,810.8 L342.2,821.0 L345.3,831.1Z" fill="#2418a8"/>
<path d="M447.1,933.0 L441.0,926.0 L435.2,918.8 L429.6,911.4 L424.1,903.8 L418.9,896.1 L414.0,888.2 L409.2,880.1 L404.7,872.0 L370.9,888.6 L375.9,897.7 L381.2,906.7 L386.7,915.5 L392.5,924.2 L398.5,932.7 L404.8,941.0 L411.3,949.1 L418.0,957.0Z" fill="#2315a2" stroke="#2315a2" stroke-width="0.6"/>
<path d="M447.1,933.0 L440.9,925.8 L434.9,918.4 L404.5,940.6 L411.1,948.9 L418.0,957.0Z" fill="#2314a0"/>
<path d="M435.2,918.8 L429.4,911.2 L423.9,903.4 L392.2,923.8 L398.4,932.5 L404.8,941.0Z" fill="#2315a2"/>
<path d="M424.1,903.8 L418.8,895.9 L413.7,887.8 L380.9,906.3 L386.6,915.3 L392.5,924.2Z" fill="#2315a2"/>
<path d="M414.0,888.2 L409.2,880.1 L404.7,872.0 L370.9,888.6 L375.9,897.7 L381.2,906.7Z" fill="#2316a4"/>
<path d="M502.0,982.3 L494.5,976.8 L487.2,971.2 L480.1,965.4 L473.1,959.3 L466.3,953.0 L459.7,946.5 L453.3,939.9 L447.1,933.0 L418.0,957.0 L424.9,964.7 L432.1,972.1 L439.5,979.4 L447.0,986.5 L454.8,993.3 L462.7,999.8 L470.9,1006.2 L479.2,1012.3Z" fill="#23139e" stroke="#23139e" stroke-width="0.6"/>
<path d="M502.0,982.3 L494.3,976.7 L486.9,970.9 L462.4,999.5 L470.7,1006.0 L479.2,1012.3Z" fill="#22129c"/>
<path d="M487.2,971.2 L479.9,965.2 L472.8,959.0 L446.7,986.1 L454.6,993.1 L462.7,999.8Z" fill="#22139e"/>
<path d="M473.1,959.3 L466.2,952.9 L459.4,946.2 L431.7,971.8 L439.3,979.2 L447.0,986.5Z" fill="#23139e"/>
<path d="M459.7,946.5 L453.3,939.9 L447.1,933.0 L418.0,957.0 L424.9,964.7 L432.1,972.1Z" fill="#2314a0"/>
<path d="M566.2,1017.2 L557.8,1013.7 L549.5,1009.9 L541.2,1005.9 L533.1,1001.7 L525.1,997.2 L517.3,992.4 L509.5,987.5 L502.0,982.3 L478.8,1012.8 L487.3,1018.7 L495.9,1024.3 L504.7,1029.6 L513.6,1034.7 L522.7,1039.5 L531.9,1044.0 L541.3,1048.3 L550.7,1052.3Z" fill="#22119a" stroke="#22119a" stroke-width="0.6"/>
<path d="M566.2,1017.2 L557.6,1013.6 L549.1,1009.7 L531.5,1043.8 L541.0,1048.2 L550.7,1052.3Z" fill="#221098"/>
<path d="M549.5,1009.9 L541.0,1005.8 L532.7,1001.4 L513.2,1034.5 L522.5,1039.4 L531.9,1044.0Z" fill="#22119a"/>
<path d="M533.1,1001.7 L524.9,997.0 L516.9,992.2 L495.5,1024.0 L504.5,1029.5 L513.6,1034.7Z" fill="#22119a"/>
<path d="M517.3,992.4 L509.5,987.5 L502.0,982.3 L478.8,1012.8 L487.3,1018.7 L495.9,1024.3Z" fill="#22129c"/>
<path d="M636.2,1036.2 L627.3,1034.8 L618.4,1033.0 L609.5,1031.0 L600.7,1028.8 L592.0,1026.3 L583.3,1023.5 L574.7,1020.5 L566.2,1017.2 L550.8,1052.1 L560.3,1055.8 L570.0,1059.2 L579.7,1062.4 L589.5,1065.2 L599.3,1067.8 L609.3,1070.1 L619.2,1072.0 L629.3,1073.7Z" fill="#210f96" stroke="#210f96" stroke-width="0.6"/>
<path d="M636.2,1036.2 L627.1,1034.7 L618.0,1032.9 L608.8,1070.0 L619.0,1072.0 L629.3,1073.7Z" fill="#210e94"/>
<path d="M618.4,1033.0 L609.3,1031.0 L600.3,1028.7 L589.0,1065.1 L599.1,1067.7 L609.3,1070.1Z" fill="#210f96"/>
<path d="M600.7,1028.8 L591.8,1026.2 L582.9,1023.4 L569.5,1059.1 L579.4,1062.3 L589.5,1065.2Z" fill="#220f96"/>
<path d="M583.3,1023.5 L574.7,1020.5 L566.2,1017.2 L550.8,1052.1 L560.3,1055.8 L570.0,1059.2Z" fill="#221098"/>
<path d="M708.2,1038.6 L699.2,1039.2 L690.2,1039.6 L681.2,1039.7 L672.2,1039.5 L663.2,1039.1 L654.2,1038.4 L645.2,1037.5 L636.2,1036.2 L629.7,1071.6 L639.7,1073.0 L649.7,1074.1 L659.7,1074.9 L669.8,1075.4 L679.8,1075.6 L689.9,1075.5 L699.9,1075.1 L709.9,1074.5Z" fill="#210d92" stroke="#210d92" stroke-width="0.6"/>
<path d="M708.2,1038.6 L699.0,1039.2 L689.8,1039.6 L689.4,1075.5 L699.7,1075.1 L709.9,1074.5Z" fill="#210c90"/>
<path d="M690.2,1039.6 L681.0,1039.7 L671.8,1039.5 L669.3,1075.3 L679.6,1075.6 L689.9,1075.5Z" fill="#210d92"/>
<path d="M672.2,1039.5 L663.0,1039.1 L653.8,1038.4 L649.2,1074.0 L659.5,1074.8 L669.8,1075.4Z" fill="#210d92"/>
<path d="M654.2,1038.4 L645.2,1037.5 L636.2,1036.2 L629.7,1071.6 L639.7,1073.0 L649.7,1074.1Z" fill="#210e94"/>
<path d="M778.1,1024.3 L769.6,1027.0 L761.0,1029.4 L752.4,1031.6 L743.6,1033.5 L734.8,1035.1 L726.0,1036.5 L717.1,1037.7 L708.2,1038.6 L709.9,1074.0 L719.9,1073.1 L729.8,1071.8 L739.7,1070.3 L749.5,1068.5 L759.2,1066.4 L768.9,1064.0 L778.5,1061.4 L788.0,1058.4Z" fill="#200b8e" stroke="#200b8e" stroke-width="0.6"/>
<path d="M778.1,1024.3 L769.4,1027.0 L760.6,1029.5 L768.4,1064.1 L778.3,1061.4 L788.0,1058.4Z" fill="#200a8c"/>
<path d="M761.0,1029.4 L752.2,1031.6 L743.2,1033.6 L749.0,1068.6 L759.0,1066.5 L768.9,1064.0Z" fill="#200b8e"/>
<path d="M743.6,1033.5 L734.6,1035.2 L725.6,1036.6 L729.3,1071.9 L739.4,1070.4 L749.5,1068.5Z" fill="#200b8e"/>
<path d="M726.0,1036.5 L717.1,1037.7 L708.2,1038.6 L709.9,1074.0 L719.9,1073.1 L729.8,1071.8Z" fill="#200c90"/>
<path d="M842.4,994.6 L834.8,999.1 L827.0,1003.4 L819.2,1007.5 L811.2,1011.3 L803.1,1014.9 L794.9,1018.3 L786.5,1021.4 L778.1,1024.3 L788.0,1058.4 L797.4,1055.2 L806.7,1051.8 L815.9,1048.0 L824.9,1044.0 L833.9,1039.8 L842.7,1035.3 L851.3,1030.5 L859.8,1025.5Z" fill="#200a89" stroke="#200a89" stroke-width="0.6"/>
<path d="M842.4,994.6 L834.6,999.2 L826.6,1003.6 L842.3,1035.5 L851.1,1030.6 L859.8,1025.5Z" fill="#1f0a86"/>
<path d="M827.0,1003.4 L819.0,1007.5 L810.8,1011.5 L824.5,1044.2 L833.7,1039.9 L842.7,1035.3Z" fill="#1f0a88"/>
<path d="M811.2,1011.3 L802.9,1015.0 L794.5,1018.4 L806.2,1051.9 L815.7,1048.1 L824.9,1044.0Z" fill="#200a8a"/>
<path d="M794.9,1018.3 L786.5,1021.4 L778.1,1024.3 L788.0,1058.4 L797.4,1055.2 L806.7,1051.8Z" fill="#200a8b"/>
<path d="M897.5,951.2 L891.2,957.3 L884.7,963.2 L878.1,968.9 L871.3,974.4 L864.3,979.8 L857.1,984.9 L849.8,989.9 L842.4,994.6 L861.0,1027.5 L869.4,1022.2 L877.6,1016.7 L885.7,1011.0 L893.6,1005.0 L901.3,998.8 L908.8,992.4 L916.1,985.7 L923.2,978.9Z" fill="#1f0983" stroke="#1f0983" stroke-width="0.6"/>
<path d="M897.5,951.2 L891.1,957.4 L884.4,963.4 L908.4,992.7 L915.9,985.9 L923.2,978.9Z" fill="#1e0980"/>
<path d="M884.7,963.2 L877.9,969.0 L870.9,974.7 L893.2,1005.3 L901.1,998.9 L908.8,992.4Z" fill="#1f0982"/>
<path d="M871.3,974.4 L864.1,979.9 L856.8,985.2 L877.2,1017.0 L885.5,1011.1 L893.6,1005.0Z" fill="#1f0983"/>
<path d="M857.1,984.9 L849.8,989.9 L842.4,994.6 L861.0,1027.5 L869.4,1022.2 L877.6,1016.7Z" fill="#1f0985"/>
<path d="M940.8,896.6 L936.1,904.0 L931.2,911.1 L926.1,918.2 L920.8,925.1 L915.3,931.9 L909.6,938.5 L903.6,944.9 L897.5,951.2 L923.8,979.5 L930.7,972.5 L937.4,965.3 L943.9,957.8 L950.2,950.2 L956.2,942.5 L962.0,934.5 L967.6,926.4 L972.9,918.2Z" fill="#1e097c" stroke="#1e097c" stroke-width="0.6"/>
<path d="M940.8,896.6 L936.0,904.1 L931.0,911.5 L961.8,934.9 L967.5,926.6 L972.9,918.2Z" fill="#1e087a"/>
<path d="M931.2,911.1 L926.0,918.4 L920.5,925.4 L949.9,950.6 L956.1,942.6 L962.0,934.5Z" fill="#1e087c"/>
<path d="M920.8,925.1 L915.1,932.0 L909.3,938.8 L937.1,965.6 L943.8,958.0 L950.2,950.2Z" fill="#1e097d"/>
<path d="M909.6,938.5 L903.6,944.9 L897.5,951.2 L923.8,979.5 L930.7,972.5 L937.4,965.3Z" fill="#1e097f"/>
<path d="M970.1,834.1 L967.2,842.3 L964.2,850.3 L960.9,858.3 L957.3,866.2 L953.5,874.0 L949.5,881.6 L945.3,889.2 L940.8,896.6 L974.6,919.3 L979.7,910.9 L984.6,902.3 L989.1,893.6 L993.5,884.8 L997.6,875.8 L1001.4,866.8 L1004.9,857.6 L1008.2,848.4Z" fill="#1d0876" stroke="#1d0876" stroke-width="0.6"/>
<path d="M970.1,834.1 L967.2,842.5 L964.0,850.7 L1001.2,867.2 L1004.8,857.8 L1008.2,848.4Z" fill="#1d0874"/>
<path d="M964.2,850.3 L960.8,858.5 L957.1,866.5 L993.3,885.2 L997.5,876.0 L1001.4,866.8Z" fill="#1d0875"/>
<path d="M957.3,866.2 L953.4,874.1 L949.3,882.0 L984.3,902.7 L989.0,893.8 L993.5,884.8Z" fill="#1d0877"/>
<path d="M949.5,881.6 L945.3,889.2 L940.8,896.6 L974.6,919.3 L979.7,910.9 L984.6,902.3Z" fill="#1d0878"/>
<path d="M984.0,767.1 L983.1,775.6 L982.0,784.1 L980.6,792.5 L979.0,801.0 L977.2,809.3 L975.0,817.7 L972.7,825.9 L970.1,834.1 L1010.0,849.1 L1013.0,839.7 L1015.7,830.2 L1018.2,820.7 L1020.4,811.2 L1022.3,801.5 L1023.9,791.9 L1025.2,782.2 L1026.3,772.5Z" fill="#1c0770" stroke="#1c0770" stroke-width="0.6"/>
<path d="M984.0,767.1 L983.1,775.8 L982.0,784.5 L1023.8,792.3 L1025.2,782.4 L1026.3,772.5Z" fill="#1c076d"/>
<path d="M982.0,784.1 L980.6,792.7 L978.9,801.4 L1020.3,811.6 L1022.2,801.8 L1023.9,791.9Z" fill="#1c076f"/>
<path d="M979.0,801.0 L977.1,809.5 L974.9,818.1 L1015.6,830.7 L1018.2,821.0 L1020.4,811.2Z" fill="#1c0870"/>
<path d="M975.0,817.7 L972.7,825.9 L970.1,834.1 L1010.0,849.1 L1013.0,839.7 L1015.7,830.2Z" fill="#1c0872"/>
<path d="M982.1,699.3 L983.2,707.7 L984.1,716.1 L984.7,724.6 L985.0,733.1 L985.2,741.6 L985.0,750.1 L984.6,758.6 L984.0,767.1 L1024.2,772.2 L1025.0,762.5 L1025.5,752.8 L1025.7,743.1 L1025.6,733.5 L1025.2,723.8 L1024.5,714.1 L1023.6,704.5 L1022.4,695.0Z" fill="#1b0769" stroke="#1b0769" stroke-width="0.6"/>
<path d="M982.1,699.3 L983.2,707.9 L984.1,716.5 L1024.6,714.6 L1023.6,704.8 L1022.4,695.0Z" fill="#1b0767"/>
<path d="M984.1,716.1 L984.7,724.8 L985.1,733.5 L1025.6,733.9 L1025.2,724.0 L1024.5,714.1Z" fill="#1b0769"/>
<path d="M985.0,733.1 L985.2,741.8 L985.0,750.5 L1025.4,753.3 L1025.7,743.4 L1025.6,733.5Z" fill="#1b076a"/>
<path d="M985.0,750.1 L984.6,758.6 L984.0,767.1 L1024.2,772.2 L1025.0,762.5 L1025.5,752.8Z" fill="#1c076c"/>
<path d="M964.8,634.3 L967.7,642.2 L970.5,650.1 L973.0,658.1 L975.3,666.2 L977.4,674.4 L979.2,682.7 L980.8,691.0 L982.1,699.3 L1022.4,695.0 L1020.9,685.4 L1019.1,676.0 L1017.1,666.6 L1014.8,657.3 L1012.2,648.0 L1009.4,638.9 L1006.3,629.8 L1002.9,620.8Z" fill="#1a0663" stroke="#1a0663" stroke-width="0.6"/>
<path d="M964.8,634.3 L967.8,642.4 L970.6,650.5 L1009.5,639.3 L1006.4,630.0 L1002.9,620.8Z" fill="#1a0661"/>
<path d="M970.5,650.1 L973.1,658.3 L975.4,666.6 L1014.9,657.7 L1012.3,648.2 L1009.4,638.9Z" fill="#1a0662"/>
<path d="M975.3,666.2 L977.4,674.6 L979.3,683.0 L1019.2,676.4 L1017.1,666.8 L1014.8,657.3Z" fill="#1b0664"/>
<path d="M979.2,682.7 L980.8,691.0 L982.1,699.3 L1022.4,695.0 L1020.9,685.4 L1019.1,676.0Z" fill="#1b0666"/>
<path d="M933.1,575.6 L937.8,582.5 L942.3,589.5 L946.6,596.7 L950.6,604.0 L954.5,611.4 L958.1,618.9 L961.5,626.6 L964.8,634.3 L1002.9,620.8 L999.3,612.0 L995.4,603.2 L991.3,594.6 L987.0,586.1 L982.4,577.8 L977.5,569.6 L972.5,561.6 L967.2,553.7Z" fill="#19065c" stroke="#19065c" stroke-width="0.6"/>
<path d="M933.1,575.6 L937.9,582.7 L942.5,589.9 L977.8,570.0 L972.6,561.8 L967.2,553.7Z" fill="#180659"/>
<path d="M942.3,589.5 L946.7,596.9 L950.8,604.3 L987.2,586.6 L982.5,578.0 L977.5,569.6Z" fill="#19065b"/>
<path d="M950.6,604.0 L954.6,611.6 L958.3,619.3 L995.6,603.7 L991.4,594.8 L987.0,586.1Z" fill="#19065d"/>
<path d="M958.1,618.9 L961.5,626.6 L964.8,634.3 L1002.9,620.8 L999.3,612.0 L995.4,603.2Z" fill="#1a065f"/>
<path d="M889.2,526.3 L895.3,531.8 L901.2,537.6 L907.0,543.5 L912.6,549.6 L918.0,555.9 L923.2,562.3 L928.3,568.9 L933.1,575.6 L968.8,552.6 L963.3,544.9 L957.5,537.3 L951.5,529.8 L945.3,522.6 L938.9,515.6 L932.4,508.7 L925.6,502.1 L918.6,495.6Z" fill="#170655" stroke="#170655" stroke-width="0.6"/>
<path d="M889.2,526.3 L895.4,532.0 L901.5,537.9 L932.7,509.1 L925.7,502.2 L918.6,495.6Z" fill="#160652"/>
<path d="M901.2,537.6 L907.1,543.7 L912.8,549.9 L945.6,523.0 L939.1,515.7 L932.4,508.7Z" fill="#170654"/>
<path d="M912.6,549.6 L918.1,556.0 L923.5,562.6 L957.8,537.6 L951.7,530.0 L945.3,522.6Z" fill="#170656"/>
<path d="M923.2,562.3 L928.3,568.9 L933.1,575.6 L968.8,552.6 L963.3,544.9 L957.5,537.3Z" fill="#180657"/>
<path d="M835.5,488.7 L842.7,492.7 L849.7,496.9 L856.6,501.3 L863.4,505.9 L870.1,510.7 L876.6,515.7 L883.0,520.9 L889.2,526.3 L918.6,495.6 L911.5,489.4 L904.2,483.4 L896.7,477.6 L889.1,472.1 L881.3,466.7 L873.4,461.6 L865.3,456.8 L857.1,452.1Z" fill="#15064d" stroke="#15064d" stroke-width="0.6"/>
<path d="M835.5,488.7 L842.9,492.8 L850.0,497.1 L873.7,461.9 L865.5,456.9 L857.1,452.1Z" fill="#14054a"/>
<path d="M849.7,496.9 L856.8,501.4 L863.7,506.1 L889.4,472.3 L881.5,466.9 L873.4,461.6Z" fill="#15054c"/>
<path d="M863.4,505.9 L870.2,510.8 L876.9,515.9 L904.5,483.7 L896.9,477.8 L889.1,472.1Z" fill="#15064e"/>
<path d="M876.6,515.7 L883.0,520.9 L889.2,526.3 L918.6,495.6 L911.5,489.4 L904.2,483.4Z" fill="#160650"/>
<path d="M775.2,464.8 L783.0,467.0 L790.7,469.4 L798.4,472.1 L806.0,475.0 L813.5,478.1 L821.0,481.4 L828.3,484.9 L835.5,488.7 L857.3,451.8 L849.0,447.4 L840.5,443.3 L832.0,439.4 L823.3,435.8 L814.6,432.4 L805.8,429.3 L796.9,426.5 L787.9,423.9Z" fill="#130545" stroke="#130545" stroke-width="0.6"/>
<path d="M775.2,464.8 L783.2,467.0 L791.1,469.5 L806.2,429.4 L797.1,426.5 L787.9,423.9Z" fill="#120543"/>
<path d="M790.7,469.4 L798.6,472.1 L806.4,475.1 L823.8,436.0 L814.8,432.5 L805.8,429.3Z" fill="#130544"/>
<path d="M806.0,475.0 L813.7,478.1 L821.3,481.6 L840.9,443.5 L832.2,439.5 L823.3,435.8Z" fill="#130546"/>
<path d="M821.0,481.4 L828.3,484.9 L835.5,488.7 L857.3,451.8 L849.0,447.4 L840.5,443.3Z" fill="#140548"/>
<path d="M711.6,455.5 L719.6,455.9 L727.6,456.4 L735.6,457.2 L743.6,458.3 L751.5,459.6 L759.5,461.1 L767.4,462.8 L775.2,464.8 L790.2,416.2 L781.0,413.8 L771.7,411.7 L762.3,409.9 L752.9,408.3 L743.4,407.0 L734.0,406.0 L724.5,405.2 L715.0,404.8Z" fill="#11053e" stroke="#11053e" stroke-width="0.6"/>
<path d="M711.6,455.5 L719.8,455.9 L728.0,456.5 L734.4,406.0 L724.7,405.3 L715.0,404.8Z" fill="#10053b"/>
<path d="M727.6,456.4 L735.8,457.3 L744.0,458.3 L753.3,408.4 L743.7,407.0 L734.0,406.0Z" fill="#11053d"/>
<path d="M743.6,458.3 L751.7,459.6 L759.9,461.2 L772.1,411.8 L762.5,409.9 L752.9,408.3Z" fill="#11053f"/>
<path d="M759.5,461.1 L767.4,462.8 L775.2,464.8 L790.2,416.2 L781.0,413.8 L771.7,411.7Z" fill="#120541"/>
<path d="M648.1,461.2 L655.9,459.7 L663.8,458.4 L671.7,457.3 L679.6,456.5 L687.6,455.9 L695.5,455.6 L703.6,455.4 L711.6,455.5 L715.3,400.7 L705.7,400.5 L696.0,400.6 L686.5,401.0 L676.9,401.6 L667.4,402.6 L657.9,403.8 L648.4,405.2 L639.0,407.0Z" fill="#0f0534" stroke="#0f0534" stroke-width="0.6"/>
<path d="M648.1,461.2 L656.1,459.6 L664.1,458.3 L658.3,403.7 L648.7,405.2 L639.0,407.0Z" fill="#0e0430"/>
<path d="M663.8,458.4 L671.8,457.3 L680.0,456.5 L677.4,401.6 L667.6,402.5 L657.9,403.8Z" fill="#0f0533"/>
<path d="M679.6,456.5 L687.8,455.9 L695.9,455.5 L696.5,400.6 L686.7,401.0 L676.9,401.6Z" fill="#0f0536"/>
<path d="M695.5,455.6 L703.6,455.4 L711.6,455.5 L715.3,400.7 L705.7,400.5 L696.0,400.6Z" fill="#100539"/>
<path d="M588.2,481.1 L595.4,477.9 L602.7,474.9 L610.0,472.0 L617.5,469.4 L625.0,467.0 L632.7,464.9 L640.3,462.9 L648.1,461.2 L638.7,405.1 L629.4,407.1 L620.1,409.4 L610.8,412.0 L601.7,414.8 L592.6,417.9 L583.7,421.3 L574.9,424.9 L566.2,428.7Z" fill="#0d0429" stroke="#0d0429" stroke-width="0.6"/>
<path d="M588.2,481.1 L595.5,477.8 L603.0,474.7 L584.1,421.1 L575.1,424.8 L566.2,428.7Z" fill="#0c0427"/>
<path d="M602.7,474.9 L610.2,472.0 L617.9,469.3 L602.1,414.7 L592.9,417.9 L583.7,421.3Z" fill="#0c0428"/>
<path d="M617.5,469.4 L625.2,467.0 L633.0,464.8 L620.5,409.3 L611.0,411.9 L601.7,414.8Z" fill="#0d042a"/>
<path d="M632.7,464.9 L640.3,462.9 L648.1,461.2 L638.7,405.1 L629.4,407.1 L620.1,409.4Z" fill="#0e042d"/>
<path d="M535.0,514.1 L541.2,509.3 L547.5,504.7 L554.0,500.3 L560.6,496.1 L567.3,492.1 L574.2,488.2 L581.1,484.6 L588.2,481.1 L565.4,426.9 L556.7,431.0 L548.2,435.4 L539.8,440.0 L531.6,444.8 L523.5,449.9 L515.6,455.2 L507.9,460.8 L500.3,466.5Z" fill="#050112" stroke="#050112" stroke-width="0.6"/>
<path d="M535.0,514.1 L541.4,509.2 L547.8,504.5 L516.0,455.0 L508.1,460.6 L500.3,466.5Z" fill="#040111"/>
<path d="M547.5,504.7 L554.1,500.2 L560.9,495.9 L532.0,444.6 L523.7,449.8 L515.6,455.2Z" fill="#050112"/>
<path d="M560.6,496.1 L567.5,492.0 L574.5,488.0 L548.6,435.2 L540.0,439.9 L531.6,444.8Z" fill="#050113"/>
<path d="M574.2,488.2 L581.1,484.6 L588.2,481.1 L565.4,426.9 L556.7,431.0 L548.2,435.4Z" fill="#0b0425"/>
</g>
<circle cx="733.9" cy="458.2" r="14.8" fill="#ababab"/>
<circle cx="938.1" cy="479.1" r="14.8" fill="#ababab"/>
<circle cx="1113.1" cy="657.4" r="14.8" fill="#ababab"/>
<circle cx="1152.1" cy="933.4" r="14.8" fill="#ababab"/>
<circle cx="1019.0" cy="1206.6" r="14.8" fill="#ababab"/>
<circle cx="600.0" cy="1029.1" r="14.2" fill="none" stroke="#ababab" stroke-width="1.45"/>
<circle cx="383.0" cy="964.7" r="14.2" fill="none" stroke="#ababab" stroke-width="1.45"/>
<circle cx="231.0" cy="757.3" r="14.2" fill="none" stroke="#ababab" stroke-width="1.45"/>
<circle cx="240.2" cy="441.4" r="14.2" fill="none" stroke="#ababab" stroke-width="1.45"/>
<circle cx="487.0" cy="153.6" r="14.2" fill="none" stroke="#ababab" stroke-width="1.45"/>
<g fill="none" stroke="#b0b0b0" stroke-width="1">
<path d="M521.4,495.4 L524.1,493.3 L526.8,491.3 L529.5,489.2 L532.2,487.2 L535.0,485.3 L537.8,483.4 L540.6,481.5 L543.4,479.6 L546.3,477.8 L549.2,476.0 L552.1,474.2 L555.0,472.5 L558.0,470.8 L561.0,469.1 L563.9,467.5 L567.0,465.9 L570.0,464.3 L573.0,462.8 L576.1,461.3 L579.2,459.8 L582.3,458.4 L585.4,457.0 L588.6,455.7 L591.7,454.3 L594.9,453.1 L598.1,451.8 L601.3,450.6 L604.5,449.4 L607.8,448.3 L611.0,447.2 L614.3,446.2 L617.6,445.1 L620.9,444.2 L624.2,443.2 L627.5,442.3 L630.8,441.4 L634.2,440.6 L637.5,439.8 L640.9,439.1 L644.2,438.4 L647.6,437.7 L651.0,437.1 L654.4,436.5 L657.8,435.9 L661.2,435.4 L664.6,434.9 L668.1,434.5 L671.5,434.1 L674.9,433.7 L678.4,433.4 L681.8,433.1 L685.3,432.9 L688.8,432.7 L692.2,432.5 L695.7,432.4 L699.2,432.3 L702.6,432.3 L706.1,432.3 L709.6,432.4 L713.0,432.4 L716.5,432.6 L720.0,432.7 L723.5,432.9 L726.9,433.2 L730.4,433.5 L733.9,433.8 L737.3,434.2 L740.8,434.6 L744.3,435.0 L747.7,435.5 L751.2,436.1 L754.6,436.6 L758.1,437.2 L761.5,437.9 L764.9,438.6 L768.3,439.3 L771.8,440.1 L775.2,440.9 L778.6,441.8 L782.0,442.7 L785.3,443.6 L788.7,444.6 L792.1,445.6 L795.4,446.6 L798.7,447.7 L802.1,448.8 L805.4,450.0 L808.7,451.2 L812.0,452.5 L815.3,453.8 L818.5,455.1 L821.8,456.4 L825.0,457.9 L828.2,459.3 L831.4,460.8 L834.6,462.3 L837.8,463.8 L840.9,465.4 L844.1,467.1 L847.2,468.7 L850.3,470.4 L853.4,472.2 L856.4,473.9 L859.5,475.7 L862.5,477.6 L865.5,479.5 L868.5,481.4 L871.4,483.4 L874.4,485.3 L877.3,487.4 L880.2,489.4 L883.0,491.5 L885.9,493.6 L888.7,495.8 L891.5,498.0 L894.3,500.2 L897.0,502.5 L899.8,504.8 L902.4,507.1 L905.1,509.5 L907.8,511.9 L910.4,514.3 L913.0,516.7 L915.5,519.2 L918.1,521.7 L920.6,524.3 L923.1,526.9 L925.5,529.5 L927.9,532.1 L930.3,534.8 L932.7,537.5 L935.0,540.2 L937.3,542.9 L939.6,545.7 L941.8,548.5 L944.0,551.4 L946.2,554.2 L948.3,557.1 L950.4,560.0 L952.5,562.9 L954.5,565.9 L956.5,568.9 L958.5,571.9 L960.4,574.9 L962.3,578.0 L964.2,581.1 L966.0,584.2 L967.8,587.3 L969.6,590.4 L971.3,593.6 L973.0,596.8 L974.6,600.0 L976.2,603.3 L977.8,606.5 L979.4,609.8 L980.9,613.1 L982.3,616.4 L983.8,619.7 L985.1,623.0 L986.5,626.4 L987.8,629.8 L989.1,633.2 L990.3,636.6 L991.5,640.0 L992.6,643.5 L993.8,646.9 L994.8,650.4 L995.9,653.9 L996.9,657.4 L997.8,660.9 L998.7,664.4 L999.6,667.9 L1000.4,671.5 L1001.2,675.0 L1002.0,678.6 L1002.7,682.2 L1003.3,685.8 L1004.0,689.4 L1004.5,693.0 L1005.1,696.6 L1005.6,700.2 L1006.0,703.8 L1006.5,707.5 L1006.8,711.1 L1007.2,714.8 L1007.4,718.4 L1007.7,722.1 L1007.9,725.7 L1008.1,729.4 L1008.2,733.0 L1008.2,736.7 L1008.3,740.4 L1008.3,744.0 L1008.2,747.7 L1008.1,751.4 L1008.0,755.1 L1007.8,758.7 L1007.6,762.4 L1007.3,766.1 L1007.0,769.8 L1006.6,773.4 L1006.2,777.1 L1005.8,780.7 L1005.3,784.4 L1004.8,788.0 L1004.2,791.7 L1003.6,795.3 L1003.0,799.0 L1002.3,802.6 L1001.5,806.2 L1000.8,809.8 L999.9,813.4 L999.1,817.0 L998.2,820.6 L997.2,824.2 L996.2,827.8 L995.2,831.3 L994.1,834.9 L993.0,838.4 L991.8,842.0 L990.6,845.5 L989.4,849.0 L988.1,852.5 L986.8,855.9 L985.4,859.4 L984.0,862.8 L982.6,866.3 L981.1,869.7 L979.6,873.1 L978.0,876.5 L976.4,879.8 L974.8,883.2 L973.1,886.5 L971.4,889.8 L969.6,893.1 L967.8,896.4 L965.9,899.6 L964.1,902.9 L962.2,906.1 L960.2,909.2 L958.2,912.4 L956.2,915.6 L954.1,918.7 L952.0,921.8 L949.9,924.9 L947.7,927.9 L945.5,930.9 L943.2,933.9 L940.9,936.9 L938.6,939.9 L936.2,942.8 L933.9,945.7 L931.4,948.6 L929.0,951.4 L926.5,954.2 L923.9,957.0 L921.4,959.8 L918.8,962.5 L916.2,965.2 L913.5,967.9 L910.8,970.5 L908.1,973.1 L905.3,975.7 L902.5,978.3 L899.7,980.8 L896.9,983.3 L894.0,985.7 L891.1,988.1 L888.2,990.5 L885.2,992.9 L882.2,995.2 L879.2,997.5 L876.1,999.7 L873.1,1002.0 L870.0,1004.1 L866.8,1006.3 L863.7,1008.4 L860.5,1010.5 L857.3,1012.5 L854.1,1014.5 L850.8,1016.5 L847.5,1018.4 L844.2,1020.3 L840.9,1022.2 L837.6,1024.0 L834.2,1025.7 L830.8,1027.5 L827.4,1029.2 L824.0,1030.8 L820.5,1032.5 L817.0,1034.0 L813.5,1035.6 L810.0,1037.1 L806.5,1038.5 L802.9,1039.9 L799.4,1041.3 L795.8,1042.7 L792.2,1044.0 L788.6,1045.2 L784.9,1046.4 L781.3,1047.6 L777.6,1048.7 L774.0,1049.8 L770.3,1050.8 L766.6,1051.8 L762.9,1052.8 L759.1,1053.7 L755.4,1054.6 L751.6,1055.4 L747.9,1056.2 L744.1,1056.9 L740.3,1057.6 L736.5,1058.3 L732.7,1058.9 L728.9,1059.5 L725.1,1060.0 L721.3,1060.5 L717.4,1060.9 L713.6,1061.3 L709.8,1061.6 L705.9,1061.9 L702.0,1062.2 L698.2,1062.4 L694.3,1062.6 L690.5,1062.7 L686.6,1062.8 L682.7,1062.8 L678.9,1062.8 L675.0,1062.7 L671.1,1062.6 L667.2,1062.4 L663.4,1062.3 L659.5,1062.0 L655.6,1061.7 L651.8,1061.4 L647.9,1061.0 L644.0,1060.6 L640.2,1060.1 L636.3,1059.6 L632.5,1059.1 L628.6,1058.5 L624.8,1057.8 L621.0,1057.1 L617.2,1056.4 L613.3,1055.6 L609.5,1054.8 L605.7,1053.9 L601.9,1053.0 L598.2,1052.0 L594.4,1051.0 L590.6,1050.0 L586.9,1048.9 L583.1,1047.7 L579.4,1046.6 L575.7,1045.3 L572.0,1044.1 L568.3,1042.8 L564.6,1041.4 L561.0,1040.0 L557.3,1038.6 L553.7,1037.1 L550.1,1035.6 L546.5,1034.0 L542.9,1032.4 L539.4,1030.7 L535.8,1029.0 L532.3,1027.3 L528.8,1025.5 L525.3,1023.7 L521.8,1021.8 L518.4,1019.9 L515.0,1018.0 L511.6,1016.0 L508.2,1014.0 L504.8,1011.9 L501.5,1009.8 L498.2,1007.7 L494.9,1005.5 L491.7,1003.3 L488.4,1001.0 L485.2,998.7 L482.0,996.4 L478.9,994.0 L475.7,991.6 L472.6,989.1 L469.5,986.7 L466.5,984.1 L463.5,981.6 L460.5,979.0 L457.5,976.4 L454.6,973.7 L451.7,971.0 L448.8,968.2 L446.0,965.5 L443.2,962.7 L440.4,959.8 L437.6,957.0 L434.9,954.1 L432.2,951.1 L429.6,948.2 L427.0,945.2 L424.4,942.1 L421.9,939.1 L419.3,936.0 L416.9,932.9 L414.4,929.7 L412.0,926.5 L409.7,923.3 L407.3,920.1 L405.0,916.8 L402.8,913.5 L400.6,910.2 L398.4,906.8 L396.2,903.5 L394.1,900.1 L392.1,896.6 L390.1,893.2 L388.1,889.7 L386.1,886.2 L384.2,882.7 L382.4,879.1 L380.5,875.6 L378.7,872.0 L377.0,868.4 L375.3,864.7 L373.6,861.1 L372.0,857.4 L370.5,853.7 L368.9,850.0 L367.4,846.2 L366.0,842.5 L364.6,838.7 L363.2,834.9 L361.9,831.1 L360.6,827.3 L359.4,823.5 L358.2,819.6 L357.1,815.7 L356.0,811.9 L355.0,808.0 L354.0,804.0 L353.0,800.1 L352.1,796.2 L351.2,792.2 L350.4,788.3 L349.6,784.3 L348.9,780.3 L348.2,776.3 L347.6,772.3 L347.0,768.3 L346.4,764.3 L345.9,760.3 L345.5,756.3 L345.1,752.2 L344.7,748.2 L344.4,744.1 L344.2,740.1 L343.9,736.0 L343.8,732.0 L343.7,727.9 L343.6,723.8 L343.6,719.8 L343.6,715.7 L343.6,711.6 L343.8,707.6 L343.9,703.5 L344.1,699.4 L344.4,695.4 L344.7,691.3 L345.0,687.2 L345.4,683.2 L345.9,679.1 L346.4,675.1 L346.9,671.0 L347.5,667.0 L348.2,662.9 L348.8,658.9 L349.6,654.9 L350.3,650.8 L351.2,646.8 L352.0,642.8 L353.0,638.8 L353.9,634.9 L354.9,630.9 L356.0,626.9 L357.1,623.0 L358.3,619.0 L359.5,615.1 L360.7,611.2 L362.0,607.3 L363.3,603.4 L364.7,599.5 L366.1,595.7 L367.6,591.8 L369.1,588.0 L370.7,584.2 L372.3,580.4 L374.0,576.6 L375.7,572.9 L377.4,569.1 L379.2,565.4 L381.0,561.7 L382.9,558.0 L384.8,554.4 L386.8,550.7 L388.8,547.1 L390.8,543.5 L392.9,539.9 L395.0,536.4 L397.2,532.9 L399.4,529.4 L401.7,525.9 L404.0,522.4 L406.3,519.0 L408.7,515.6 L411.1,512.3 L413.5,508.9 L416.0,505.6 L418.6,502.3 L421.1,499.1 L423.8,495.8 L426.4,492.6 L429.1,489.5 L431.8,486.3 L434.6,483.2 L437.4,480.1 L440.2,477.1 L443.1,474.1 L446.0,471.1 L449.0,468.1 L452.0,465.2 L455.0,462.3 L458.0,459.5 L461.1,456.7 L464.2,453.9 L467.4,451.2 L470.6,448.5 L473.8,445.8 L477.0,443.2 L480.3,440.6 L483.6,438.0 L487.0,435.5 L490.3,433.0 L493.7,430.6 L497.2,428.2 L500.6,425.8 L504.1,423.5 L507.6,421.2 L511.2,418.9 L514.8,416.7 L518.4,414.6 L522.0,412.4 L525.6,410.4 L529.3,408.3 L533.0,406.3 L536.7,404.4 L540.5,402.5 L544.3,400.6 L548.1,398.8 L551.9,397.0 L555.7,395.3 L559.6,393.6 L563.5,391.9 L567.4,390.3 L571.3,388.7 L575.2,387.2 L579.2,385.8 L583.2,384.3 L587.2,383.0 L591.2,381.6 L595.2,380.4 L599.2,379.1 L603.3,377.9 L607.4,376.8 L611.5,375.7 L615.6,374.6 L619.7,373.6 L623.8,372.7 L628.0,371.8 L632.1,370.9 L636.3,370.1 L640.5,369.4 L644.6,368.6 L648.8,368.0 L653.0,367.4 L657.3,366.8 L661.5,366.3 L665.7,365.8 L669.9,365.4 L674.2,365.0 L678.4,364.7 L682.7,364.4 L686.9,364.2 L691.2,364.0 L695.5,363.9 L699.7,363.8 L704.0,363.8 L708.3,363.8 L712.5,363.9 L716.8,364.0 L721.1,364.2 L725.3,364.4 L729.6,364.7 L733.9,365.0 L738.1,365.4 L742.4,365.8 L746.6,366.3 L750.9,366.8 L755.1,367.4 L759.4,368.0 L763.6,368.7 L767.9,369.4 L772.1,370.2 L776.3,371.0 L780.5,371.9 L784.7,372.8 L788.9,373.8 L793.0,374.8 L797.2,375.8 L801.4,376.9 L805.5,378.1 L809.6,379.3 L813.8,380.6 L817.9,381.9 L822.0,383.2 L826.0,384.7 L830.1,386.1 L834.1,387.6 L838.2,389.2 L842.2,390.7 L846.2,392.4 L850.1,394.1 L854.1,395.8 L858.0,397.6 L861.9,399.4 L865.8,401.3 L869.7,403.2 L873.6,405.2 L877.4,407.2 L881.2,409.3 L885.0,411.4 L888.8,413.5 L892.5,415.7 L896.2,417.9 L899.9,420.2 L903.6,422.5 L907.2,424.9 L910.8,427.3 L914.4,429.8 L918.0,432.2 L921.5,434.8 L925.0,437.4 L928.5,440.0 L931.9,442.6 L935.3,445.3 L938.7,448.1 L942.1,450.9 L945.4,453.7 L948.7,456.6 L951.9,459.5 L955.2,462.4 L958.4,465.4 L961.5,468.4 L964.6,471.4 L967.7,474.5 L970.8,477.7 L973.8,480.8 L976.8,484.0 L979.7,487.2 L982.6,490.5 L985.5,493.8 L988.3,497.2 L991.1,500.5 L993.9,503.9 L996.6,507.4 L999.3,510.9 L1001.9,514.4 L1004.5,517.9 L1007.1,521.5 L1009.6,525.1 L1012.0,528.7 L1014.5,532.3 L1016.9,536.0 L1019.2,539.7 L1021.5,543.5 L1023.8,547.3 L1026.0,551.1 L1028.2,554.9 L1030.3,558.7 L1032.4,562.6 L1034.4,566.5 L1036.4,570.4 L1038.4,574.4 L1040.3,578.4 L1042.2,582.4 L1044.0,586.4 L1045.7,590.4 L1047.5,594.5 L1049.1,598.6 L1050.8,602.7 L1052.4,606.8 L1053.9,611.0 L1055.4,615.1 L1056.8,619.3 L1058.2,623.5 L1059.5,627.8 L1060.8,632.0 L1062.1,636.2 L1063.3,640.5 L1064.4,644.8 L1065.5,649.1 L1066.6,653.4 L1067.5,657.7 L1068.5,662.1 L1069.4,666.4 L1070.2,670.8 L1071.0,675.2 L1071.8,679.5 L1072.5,683.9 L1073.1,688.3 L1073.7,692.7 L1074.2,697.2 L1074.7,701.6 L1075.2,706.0 L1075.5,710.5 L1075.9,714.9 L1076.2,719.4 L1076.4,723.8 L1076.6,728.3 L1076.7,732.7 L1076.8,737.2 L1076.8,741.7 L1076.8,746.1 L1076.7,750.6 L1076.5,755.1 L1076.4,759.5 L1076.1,764.0 L1075.8,768.5 L1075.5,772.9 L1075.1,777.4 L1074.6,781.9 L1074.1,786.3 L1073.6,790.8 L1073.0,795.2 L1072.3,799.6 L1071.6,804.1 L1070.9,808.5 L1070.1,812.9 L1069.2,817.3 L1068.3,821.7 L1067.3,826.1 L1066.3,830.5 L1065.2,834.9 L1064.1,839.2 L1063.0,843.6 L1061.7,847.9 L1060.5,852.2 L1059.1,856.5 L1057.8,860.8 L1056.3,865.1 L1054.9,869.3 L1053.4,873.6 L1051.8,877.8 L1050.2,882.0 L1048.5,886.2 L1046.8,890.4 L1045.0,894.6 L1043.2,898.7 L1041.3,902.8 L1039.4,906.9 L1037.4,911.0 L1035.4,915.0 L1033.4,919.1 L1031.3,923.1 L1029.1,927.1 L1026.9,931.0 L1024.6,935.0 L1022.4,938.9 L1020.0,942.8 L1017.6,946.6 L1015.2,950.5 L1012.7,954.3 L1010.2,958.0 L1007.6,961.8 L1005.0,965.5 L1002.4,969.2 L999.7,972.9 L996.9,976.5 L994.1,980.1 L991.3,983.6 L988.4,987.2 L985.5,990.7 L982.6,994.2 L979.6,997.6 L976.5,1001.0 L973.5,1004.4 L970.4,1007.7 L967.2,1011.0 L964.0,1014.3 L960.8,1017.5 L957.5,1020.7 L954.2,1023.8 L950.8,1026.9 L947.5,1030.0 L944.0,1033.0 L940.6,1036.0 L937.1,1039.0 L933.6,1041.9 L930.0,1044.8 L926.4,1047.6 L922.8,1050.4 L919.1,1053.2 L915.4,1055.9 L911.7,1058.6 L907.9,1061.2 L904.1,1063.8 L900.3,1066.3 L896.4,1068.8 L892.6,1071.3 L888.6,1073.7 L884.7,1076.0 L880.7,1078.4 L876.7,1080.6 L872.7,1082.9 L868.6,1085.0 L864.6,1087.2 L860.5,1089.2 L856.3,1091.3 L852.2,1093.3 L848.0,1095.2 L843.8,1097.1 L839.5,1099.0 L835.3,1100.8 L831.0,1102.5 L826.7,1104.2 L822.4,1105.9 L818.1,1107.5 L813.7,1109.0 L809.4,1110.5 L805.0,1112.0 L800.5,1113.4 L796.1,1114.7 L791.7,1116.0 L787.2,1117.2 L782.7,1118.4 L778.2,1119.6 L773.7,1120.7 L769.2,1121.7 L764.7,1122.7 L760.1,1123.6 L755.6,1124.5 L751.0,1125.3 L746.4,1126.1 L741.8,1126.8 L737.2,1127.5 L732.6,1128.1 L728.0,1128.7 L723.4,1129.2 L718.8,1129.6 L714.1,1130.0 L709.5,1130.4 L704.8,1130.6 L700.2,1130.9 L695.5,1131.1 L690.9,1131.2 L686.2,1131.3 L681.5,1131.3 L676.9,1131.3 L672.2,1131.2 L667.5,1131.0 L662.9,1130.8 L658.2,1130.6 L653.5,1130.3 L648.9,1129.9 L644.2,1129.5 L639.5,1129.0 L634.9,1128.5 L630.3,1127.9 L625.6,1127.3 L621.0,1126.6 L616.4,1125.9 L611.7,1125.1 L607.1,1124.2 L602.5,1123.3 L597.9,1122.4 L593.3,1121.4 L588.8,1120.3 L584.2,1119.2 L579.7,1118.0 L575.1,1116.8 L570.6,1115.5 L566.1,1114.2 L561.6,1112.8 L557.1,1111.4 L552.6,1109.9 L548.2,1108.3 L543.8,1106.7 L539.3,1105.1 L534.9,1103.4 L530.6,1101.6 L526.2,1099.8 L521.9,1098.0 L517.6,1096.1 L513.3,1094.1 L509.0,1092.1 L504.7,1090.1 L500.5,1088.0 L496.3,1085.8 L492.1,1083.6 L487.9,1081.4 L483.8,1079.1 L479.7,1076.7 L475.6,1074.3 L471.6,1071.9 L467.5,1069.4 L463.5,1066.9 L459.6,1064.3 L455.6,1061.6 L451.7,1058.9 L447.8,1056.2 L444.0,1053.4 L440.2,1050.6 L436.4,1047.8 L432.6,1044.9 L428.9,1041.9 L425.2,1038.9 L421.6,1035.9 L417.9,1032.8 L414.4,1029.7 L410.8,1026.5 L407.3,1023.3 L403.8,1020.0 L400.4,1016.7 L397.0,1013.4 L393.6,1010.0 L390.3,1006.6 L387.0,1003.1 L383.8,999.6 L380.5,996.1 L377.4,992.5 L374.3,988.9 L371.2,985.3 L368.1,981.6 L365.1,977.9 L362.2,974.1 L359.3,970.3 L356.4,966.5 L353.6,962.6 L350.8,958.8 L348.0,954.8 L345.3,950.9 L342.7,946.9 L340.1,942.9 L337.5,938.8 L335.0,934.7 L332.6,930.6 L330.1,926.4 L327.8,922.3 L325.5,918.1 L323.2,913.8 L321.0,909.6 L318.8,905.3 L316.7,901.0 L314.6,896.6 L312.6,892.3 L310.6,887.9 L308.7,883.5 L306.8,879.0 L305.0,874.6 L303.2,870.1 L301.5,865.6 L299.8,861.1 L298.2,856.5 L296.6,852.0 L295.1,847.4 L293.7,842.8 L292.3,838.2 L290.9,833.5 L289.6,828.9 L288.4,824.2 L287.2,819.5 L286.1,814.8 L285.0,810.1 L284.0,805.4 L283.0,800.6 L282.1,795.9 L281.2,791.1 L280.4,786.3 L279.7,781.5 L279.0,776.8 L278.3,771.9 L277.8,767.1 L277.2,762.3 L276.8,757.5 L276.4,752.6 L276.0,747.8 L275.7,743.0 L275.5,738.1 L275.3,733.2 L275.1,728.4 L275.1,723.5 L275.0,718.7 L275.1,713.8 L275.2,708.9 L275.3,704.1 L275.5,699.2 L275.8,694.3 L276.1,689.5 L276.5,684.6 L276.9,679.7 L277.4,674.9 L278.0,670.0 L278.6,665.2 L279.2,660.4 L280.0,655.5 L280.7,650.7 L281.6,645.9 L282.4,641.1 L283.4,636.3 L284.4,631.5 L285.4,626.7 L286.6,622.0 L287.7,617.2 L288.9,612.5 L290.2,607.7 L291.6,603.0 L292.9,598.3 L294.4,593.6 L295.9,589.0 L297.4,584.3 L299.1,579.7 L300.7,575.0 L302.4,570.4 L304.2,565.9 L306.0,561.3 L307.9,556.8 L309.8,552.2 L311.8,547.7 L313.9,543.3 L315.9,538.8 L318.1,534.4 L320.3,530.0 L322.5,525.6 L324.8,521.2 L327.2,516.9 L329.6,512.6 L332.0,508.3 L334.5,504.1 L337.1,499.8 L339.7,495.6 L342.3,491.5 L345.0,487.3 L347.8,483.2 L350.6,479.2 L353.4,475.1 L356.3,471.1 L359.2,467.1 L362.2,463.2 L365.3,459.3 L368.3,455.4 L371.5,451.6 L374.6,447.7 L377.8,444.0 L381.1,440.2 L384.4,436.5 L387.8,432.9 L391.2,429.3 L394.6,425.7 L398.1,422.1 L401.6,418.6 L405.1,415.2 L408.7,411.8 L412.4,408.4 L416.1,405.0 L419.8,401.7 L423.6,398.5 L427.4,395.3 L431.2,392.1 L435.1,389.0 L439.0,385.9 L442.9,382.9 L446.9,379.9 L450.9,376.9 L455.0,374.0 L459.1,371.2 L463.2,368.4 L467.4,365.6 L471.6,362.9 L475.8,360.3 L480.0,357.6 L484.3,355.1 L488.7,352.6 L493.0,350.1 L497.4,347.7 L501.8,345.3 L506.2,343.0 L510.7,340.8 L515.2,338.5 L519.7,336.4 L524.3,334.3 L528.8,332.2 L533.4,330.2 L538.0,328.3 L542.7,326.4 L547.3,324.5 L552.0,322.8 L556.7,321.0 L561.5,319.3 L566.2,317.7 L571.0,316.2 L575.8,314.6 L580.6,313.2 L585.4,311.8 L590.3,310.4 L595.1,309.1 L600.0,307.9 L604.9,306.7 L609.8,305.6 L614.8,304.5 L619.7,303.5 L624.6,302.6 L629.6,301.7 L634.6,300.9 L639.6,300.1 L644.6,299.4 L649.6,298.7 L654.6,298.1 L659.6,297.6 L664.6,297.1 L669.7,296.6 L674.7,296.3 L679.7,296.0 L684.8,295.7 L689.9,295.5 L694.9,295.4 L700.0,295.3 L705.0,295.3 L710.1,295.3 L715.2,295.4 L720.2,295.6 L725.3,295.8 L730.4,296.1 L735.4,296.4 L740.5,296.8 L745.5,297.3 L750.6,297.8 L755.6,298.4 L760.7,299.0 L765.7,299.7 L770.7,300.4 L775.8,301.2 L780.8,302.1 L785.8,303.0 L790.8,304.0 L795.7,305.1 L800.7,306.2 L805.7,307.3 L810.6,308.5 L815.6,309.8 L820.5,311.1 L825.4,312.5 L830.3,314.0 L835.2,315.5 L840.0,317.1 L844.9,318.7 L849.7,320.3 L854.5,322.1 L859.3,323.9 L864.0,325.7 L868.8,327.6 L873.5,329.6 L878.2,331.6 L882.9,333.6 L887.6,335.8 L892.2,337.9 L896.8,340.2 L901.4,342.5 L905.9,344.8 L910.5,347.2 L915.0,349.6 L919.5,352.1 L923.9,354.7 L928.3,357.3 L932.7,359.9 L937.1,362.6 L941.4,365.4 L945.7,368.2 L950.0,371.1 L954.2,374.0 L958.4,376.9 L962.6,380.0 L966.7,383.0 L970.8,386.1 L974.9,389.3 L978.9,392.5 L982.9,395.7 L986.9,399.0 L990.8,402.4 L994.7,405.8 L998.5,409.2 L1002.3,412.7 L1006.1,416.2 L1009.8,419.8 L1013.5,423.4 L1017.2,427.1 L1020.8,430.8 L1024.3,434.5 L1027.8,438.3 L1031.3,442.2 L1034.7,446.0 L1038.1,449.9 L1041.4,453.9 L1044.7,457.9 L1048.0,461.9 L1051.2,466.0 L1054.3,470.1 L1057.5,474.2 L1060.5,478.4 L1063.5,482.6 L1066.5,486.9 L1069.4,491.2 L1072.3,495.5 L1075.1,499.9 L1077.8,504.3 L1080.6,508.7 L1083.2,513.2 L1085.8,517.7 L1088.4,522.2 L1090.9,526.7 L1093.4,531.3 L1095.8,535.9 L1098.1,540.6 L1100.4,545.3 L1102.6,550.0 L1104.8,554.7 L1107.0,559.4 L1109.0,564.2 L1111.1,569.0 L1113.0,573.8 L1115.0,578.7 L1116.8,583.6 L1118.6,588.5 L1120.4,593.4 L1122.0,598.3 L1123.7,603.3 L1125.2,608.3 L1126.8,613.3 L1128.2,618.3 L1129.6,623.3 L1130.9,628.4 L1132.2,633.5 L1133.4,638.6 L1134.6,643.7 L1135.7,648.8 L1136.8,653.9 L1137.7,659.1 L1138.7,664.2 L1139.5,669.4 L1140.3,674.6 L1141.1,679.8 L1141.8,685.0 L1142.4,690.2 L1143.0,695.4 L1143.5,700.6 L1143.9,705.9 L1144.3,711.1 L1144.6,716.3 L1144.9,721.6 L1145.1,726.8 L1145.2,732.1 L1145.3,737.4 L1145.3,742.6 L1145.3,747.9 L1145.1,753.2 L1145.0,758.4 L1144.7,763.7 L1144.5,769.0 L1144.1,774.2 L1143.7,779.5 L1143.2,784.7 L1142.7,790.0 L1142.1,795.2 L1141.4,800.5 L1140.7,805.7 L1139.9,810.9 L1139.1,816.1 L1138.2,821.3 L1137.2,826.5 L1136.2,831.7 L1135.1,836.9 L1134.0,842.1 L1132.8,847.2 L1131.5,852.4 L1130.2,857.5 L1128.8,862.6 L1127.3,867.7 L1125.8,872.8 L1124.3,877.8 L1122.6,882.9 L1121.0,887.9 L1119.2,892.9 L1117.4,897.9 L1115.6,902.9 L1113.6,907.8 L1111.7,912.8 L1109.6,917.7 L1107.5,922.6 L1105.4,927.4 L1103.2,932.3 L1100.9,937.1 L1098.6,941.9 L1096.2,946.6 L1093.8,951.4 L1091.3,956.1 L1088.8,960.8 L1086.2,965.4 L1083.5,970.0 L1080.8,974.6 L1078.0,979.2 L1075.2,983.7 L1072.4,988.2 L1069.4,992.7 L1066.5,997.1 L1063.4,1001.5 L1060.4,1005.9 L1057.2,1010.2 L1054.1,1014.5 L1050.8,1018.8 L1047.6,1023.0 L1044.2,1027.2 L1040.8,1031.3 L1037.4,1035.4 L1033.9,1039.5 L1030.4,1043.5 L1026.8,1047.5 L1023.2,1051.5 L1019.6,1055.4 L1015.8,1059.3 L1012.1,1063.1 L1008.3,1066.9 L1004.4,1070.6 L1000.5,1074.3 L996.6,1077.9 L992.6,1081.5 L988.6,1085.1 L984.5,1088.6 L980.4,1092.1 L976.3,1095.5 L972.1,1098.9 L967.9,1102.2 L963.6,1105.5 L959.3,1108.7 L954.9,1111.9 L950.6,1115.0 L946.1,1118.1 L941.7,1121.1 L937.2,1124.1 L932.7,1127.0 L928.1,1129.9 L923.5,1132.7 L918.9,1135.4 L914.2,1138.1 L909.5,1140.8 L904.8,1143.4 L900.0,1146.0 L895.2,1148.5 L890.4,1150.9 L885.5,1153.3 L880.7,1155.6 L875.7,1157.9 L870.8,1160.1 L865.8,1162.2 L860.9,1164.3 L855.8,1166.4 L850.8,1168.4 L845.7,1170.3 L840.7,1172.2 L835.6,1174.0 L830.4,1175.7 L825.3,1177.4 L820.1,1179.0 L814.9,1180.6 L809.7,1182.1 L804.5,1183.6 L799.2,1184.9 L793.9,1186.3 L788.7,1187.5 L783.4,1188.7 L778.0,1189.9 L772.7,1191.0 L767.4,1192.0 L762.0,1193.0 L756.7,1193.9 L751.3,1194.7 L745.9,1195.5 L740.5,1196.2 L735.1,1196.8 L729.7,1197.4 L724.2,1197.9 L718.8,1198.4 L713.4,1198.8 L707.9,1199.1 L702.5,1199.4 L697.0,1199.6 L691.6,1199.7 L686.1,1199.8 L680.6,1199.8 L675.2,1199.8 L669.7,1199.6 L664.2,1199.5 L658.8,1199.2 L653.3,1198.9 L647.9,1198.6 L642.4,1198.1 L637.0,1197.6 L631.5,1197.1 L626.1,1196.5 L620.6,1195.8 L615.2,1195.0 L609.8,1194.2 L604.4,1193.3 L599.0,1192.4 L593.6,1191.4 L588.2,1190.3 L582.8,1189.2 L577.5,1188.0 L572.1,1186.8 L566.8,1185.4 L561.5,1184.1 L556.2,1182.6 L550.9,1181.1 L545.6,1179.6 L540.3,1177.9 L535.1,1176.2 L529.9,1174.5 L524.7,1172.7 L519.5,1170.8 L514.3,1168.9 L509.2,1166.9 L504.1,1164.8 L499.0,1162.7 L493.9,1160.6 L488.9,1158.3 L483.9,1156.0 L478.9,1153.7 L473.9,1151.3 L469.0,1148.8 L464.1,1146.3 L459.2,1143.7 L454.3,1141.1 L449.5,1138.4 L444.7,1135.6 L439.9,1132.8 L435.2,1130.0 L430.5,1127.0 L425.8,1124.1 L421.2,1121.0 L416.6,1118.0 L412.0,1114.8 L407.5,1111.6 L403.0,1108.4 L398.6,1105.1 L394.1,1101.7 L389.8,1098.3 L385.4,1094.9 L381.1,1091.4 L376.9,1087.8 L372.6,1084.2 L368.5,1080.5 L364.3,1076.8 L360.2,1073.1 L356.2,1069.3 L352.2,1065.4 L348.2,1061.5 L344.3,1057.6 L340.4,1053.6 L336.6,1049.5 L332.8,1045.5 L329.1,1041.3 L325.4,1037.2 L321.7,1032.9 L318.1,1028.7 L314.6,1024.4 L311.1,1020.0 L307.7,1015.6 L304.3,1011.2 L300.9,1006.7 L297.6,1002.2 L294.4,997.7 L291.2,993.1 L288.1,988.5 L285.0,983.8 L282.0,979.1 L279.0,974.4 L276.1,969.6 L273.2,964.8 L270.4,960.0 L267.6,955.1 L264.9,950.2 L262.3,945.3 L259.7,940.3 L257.2,935.3 L254.7,930.3 L252.3,925.2 L250.0,920.1 L247.7,915.0 L245.4,909.9 L243.2,904.7 L241.1,899.5 L239.1,894.3 L237.1,889.0 L235.1,883.7 L233.3,878.4 L231.5,873.1 L229.7,867.8 L228.0,862.4 L226.4,857.0 L224.8,851.6 L223.3,846.2 L221.9,840.8 L220.5,835.3 L219.2,829.8 L218.0,824.3 L216.8,818.8 L215.7,813.3 L214.6,807.8 L213.6,802.2 L212.7,796.6 L211.8,791.1 L211.0,785.5 L210.3,779.9 L209.6,774.3 L209.0,768.7 L208.5,763.0 L208.0,757.4 L207.6,751.8 L207.2,746.1 L207.0,740.5 L206.8,734.8 L206.6,729.2 L206.5,723.5 L206.5,717.8 L206.6,712.2 L206.7,706.5 L206.9,700.9 L207.1,695.2 L207.4,689.5 L207.8,683.9 L208.3,678.2 L208.8,672.6 L209.4,666.9 L210.0,661.3 L210.7,655.7 L211.5,650.0 L212.3,644.4 L213.3,638.8 L214.2,633.2 L215.3,627.6 L216.4,622.0 L217.5,616.5 L218.8,610.9 L220.1,605.4 L221.4,599.8 L222.9,594.3 L224.4,588.8 L225.9,583.4 L227.5,577.9 L229.2,572.5 L231.0,567.0 L232.8,561.6 L234.7,556.2 L236.6,550.9 L238.6,545.5 L240.7,540.2 L242.8,534.9 L245.0,529.6 L247.2,524.4 L249.5,519.1 L251.9,513.9 L254.4,508.8 L256.8,503.6 L259.4,498.5 L262.0,493.4 L264.7,488.4 L267.4,483.3 L270.2,478.3 L273.1,473.4 L276.0,468.4 L279.0,463.5 L282.0,458.7 L285.1,453.8 L288.2,449.0 L291.4,444.3 L294.7,439.5 L298.0,434.8 L301.3,430.2 L304.7,425.6 L308.2,421.0 L311.7,416.5 L315.3,412.0 L319.0,407.5 L322.6,403.1 L326.4,398.7 L330.2,394.4 L334.0,390.1 L337.9,385.9 L341.8,381.7 L345.8,377.5 L349.9,373.4 L354.0,369.4 L358.1,365.4 L362.3,361.4 L366.5,357.5 L370.8,353.6 L375.1,349.8 L379.5,346.0 L383.9,342.3 L388.4,338.6 L392.9,335.0 L397.4,331.4 L402.0,327.9 L406.6,324.5 L411.3,321.1 L416.0,317.7 L420.7,314.4 L425.5,311.2 L430.4,308.0 L435.2,304.8 L440.1,301.7 L445.1,298.7 L450.0,295.8 L455.1,292.8 L460.1,290.0 L465.2,287.2 L470.3,284.5 L475.4,281.8 L480.6,279.2 L485.8,276.6 L491.1,274.1 L496.3,271.7 L501.6,269.3 L507.0,267.0 L512.3,264.8 L517.7,262.6 L523.1,260.4 L528.6,258.4 L534.0,256.4 L539.5,254.4 L545.0,252.6 L550.5,250.8 L556.1,249.0 L561.7,247.3 L567.3,245.7 L572.9,244.2 L578.5,242.7 L584.2,241.2 L589.8,239.9 L595.5,238.6 L601.2,237.4 L607.0,236.2 L612.7,235.1 L618.4,234.1 L624.2,233.1 L630.0,232.2 L635.8,231.4 L641.5,230.7 L647.4,230.0 L653.2,229.3 L659.0,228.8 L664.8,228.3 L670.7,227.9 L676.5,227.5 L682.3,227.2 L688.2,227.0 L694.1,226.9 L699.9,226.8 L705.8,226.8 L711.6,226.8 L717.5,226.9 L723.4,227.1 L729.2,227.4 L735.1,227.7 L740.9,228.1 L746.8,228.6 L752.6,229.1 L758.5,229.7 L764.3,230.4 L770.1,231.1 L776.0,231.9 L781.8,232.8 L787.6,233.8 L793.4,234.8 L799.2,235.8 L804.9,237.0 L810.7,238.2 L816.5,239.5 L822.2,240.8 L827.9,242.2 L833.6,243.7 L839.3,245.3 L845.0,246.9 L850.6,248.5 L856.3,250.3 L861.9,252.1 L867.5,254.0 L873.0,255.9 L878.6,257.9 L884.1,260.0 L889.6,262.1 L895.1,264.3 L900.6,266.6 L906.0,268.9 L911.4,271.3 L916.8,273.8 L922.2,276.3 L927.5,278.9 L932.8,281.5 L938.0,284.2 L943.3,287.0 L948.5,289.8 L953.6,292.7 L958.8,295.7 L963.9,298.7 L969.0,301.8 L974.0,304.9 L979.0,308.1 L984.0,311.4 L988.9,314.7 L993.8,318.0 L998.6,321.5 L1003.5,324.9 L1008.2,328.5 L1013.0,332.1 L1017.7,335.7 L1022.3,339.4 L1026.9,343.2 L1031.5,347.0 L1036.0,350.9 L1040.5,354.8 L1044.9,358.8 L1049.3,362.8 L1053.6,366.9 L1057.9,371.0 L1062.2,375.2 L1066.4,379.4 L1070.5,383.7 L1074.6,388.0 L1078.7,392.4 L1082.7,396.8 L1086.6,401.3 L1090.5,405.8 L1094.4,410.4 L1098.2,415.0 L1101.9,419.6 L1105.6,424.3 L1109.2,429.1 L1112.8,433.9 L1116.3,438.7 L1119.8,443.6 L1123.2,448.5 L1126.6,453.4 L1129.9,458.4 L1133.1,463.5 L1136.3,468.6 L1139.4,473.7 L1142.5,478.8 L1145.5,484.0 L1148.5,489.2 L1151.4,494.5 L1154.2,499.8 L1156.9,505.1 L1159.6,510.4 L1162.3,515.8 L1164.9,521.2 L1167.4,526.7 L1169.8,532.2 L1172.2,537.7 L1174.6,543.2 L1176.8,548.8 L1179.0,554.4 L1181.2,560.0 L1183.2,565.7 L1185.2,571.3 L1187.2,577.0 L1189.0,582.8 L1190.8,588.5 L1192.6,594.3 L1194.3,600.1 L1195.9,605.9 L1197.4,611.7 L1198.9,617.5 L1200.3,623.4 L1201.6,629.3 L1202.9,635.2 L1204.1,641.1 L1205.2,647.0 L1206.3,653.0 L1207.3,658.9 L1208.2,664.9 L1209.0,670.9 L1209.8,676.9 L1210.5,682.9 L1211.2,688.9 L1211.8,694.9 L1212.3,700.9 L1212.7,707.0 L1213.1,713.0 L1213.3,719.1 L1213.6,725.1 L1213.7,731.2 L1213.8,737.2 L1213.8,743.3 L1213.8,749.3 L1213.6,755.4 L1213.4,761.5 L1213.2,767.5 L1212.8,773.6 L1212.4,779.6 L1211.9,785.7 L1211.4,791.7 L1210.8,797.8 L1210.1,803.8 L1209.3,809.8 L1208.5,815.9 L1207.6,821.9 L1206.6,827.9 L1205.5,833.9 L1204.4,839.8 L1203.2,845.8 L1202.0,851.8 L1200.7,857.7 L1199.3,863.6 L1197.8,869.6 L1196.3,875.5 L1194.7,881.3 L1193.0,887.2 L1191.3,893.0 L1189.5,898.9 L1187.6,904.7 L1185.7,910.5 L1183.7,916.2 L1181.6,922.0 L1179.4,927.7 L1177.2,933.4 L1175.0,939.0 L1172.6,944.7 L1170.2,950.3 L1167.7,955.9 L1165.2,961.4 L1162.6,967.0 L1159.9,972.5 L1157.2,978.0 L1154.4,983.4 L1151.5,988.8 L1148.6,994.2 L1145.6,999.5 L1142.5,1004.8 L1139.4,1010.1 L1136.2,1015.4 L1133.0,1020.6 L1129.7,1025.7 L1126.4,1030.9 L1122.9,1036.0 L1119.5,1041.0 L1115.9,1046.0 L1112.3,1051.0 L1108.7,1055.9 L1104.9,1060.8 L1101.2,1065.7 L1097.3,1070.5 L1093.5,1075.2 L1089.5,1080.0 L1085.5,1084.6 L1081.5,1089.3 L1077.3,1093.8 L1073.2,1098.4 L1069.0,1102.9 L1064.7,1107.3 L1060.4,1111.7 L1056.0,1116.0 L1051.6,1120.3 L1047.1,1124.6 L1042.6,1128.7 L1038.0,1132.9 L1033.4,1137.0 L1028.7,1141.0 L1024.0,1145.0 L1019.2,1148.9 L1014.4,1152.8 L1009.6,1156.6 L1004.7,1160.3 L999.7,1164.0 L994.7,1167.7 L989.7,1171.2 L984.6,1174.8 L979.5,1178.2 L974.3,1181.6 L969.1,1185.0 L963.9,1188.3 L958.6,1191.5 L953.3,1194.7 L947.9,1197.8 L942.5,1200.8 L937.1,1203.8 L931.6,1206.7 L926.1,1209.6 L920.6,1212.4 L915.0,1215.1 L909.4,1217.8 L903.8,1220.4 L898.1,1222.9 L892.4,1225.4 L886.7,1227.8 L881.0,1230.1 L875.2,1232.4 L869.4,1234.6 L863.5,1236.7 L857.7,1238.8 L851.8,1240.8 L845.9,1242.8 L839.9,1244.6 L834.0,1246.4 L828.0,1248.1 L822.0,1249.8 L816.0,1251.4 L809.9,1252.9 L803.9,1254.4 L797.8,1255.7 L791.7,1257.0 L785.6,1258.3 L779.5,1259.4 L773.3,1260.5 L767.2,1261.6 L761.0,1262.5 L754.8,1263.4 L748.7,1264.2 L742.5,1264.9 L736.2,1265.6 L730.0,1266.2 L723.8,1266.7 L717.6,1267.2 L711.3,1267.5 L705.1,1267.8 L698.8,1268.1 L692.6,1268.2 L686.3,1268.3 L680.1,1268.3 L673.8,1268.3 L667.5,1268.1 L661.3,1267.9 L655.0,1267.7 L648.8,1267.3 L642.5,1266.9 L636.3,1266.4 L630.0,1265.8 L623.8,1265.2 L617.5,1264.4 L611.3,1263.7 L605.1,1262.8 L598.9,1261.9 L592.7,1260.9 L586.5,1259.8 L580.3,1258.6 L574.2,1257.4 L568.0,1256.1 L561.9,1254.7 L555.8,1253.3 L549.7,1251.8 L543.6,1250.2 L537.5,1248.6 L531.4,1246.8 L525.4,1245.0 L519.4,1243.2 L513.4,1241.2 L507.4,1239.2 L501.5,1237.2 L495.5,1235.0 L489.6,1232.8 L483.8,1230.5 L477.9,1228.2 L472.1,1225.8 L466.3,1223.3 L460.5,1220.7 L454.8,1218.1 L449.1,1215.4 L443.4,1212.6 L437.7,1209.8 L432.1,1206.9 L426.5,1204.0 L421.0,1200.9 L415.4,1197.9 L410.0,1194.7 L404.5,1191.5 L399.1,1188.2 L393.7,1184.9 L388.4,1181.5 L383.1,1178.0 L377.8,1174.5 L372.6,1170.9 L367.4,1167.2 L362.3,1163.5 L357.2,1159.7 L352.2,1155.9 L347.2,1152.0 L342.2,1148.0 L337.3,1144.0 L332.4,1139.9 L327.6,1135.8 L322.8,1131.6 L318.1,1127.4 L313.4,1123.1 L308.8,1118.7 L304.2,1114.3 L299.7,1109.9 L295.2,1105.4 L290.7,1100.8 L286.4,1096.2 L282.0,1091.5 L277.8,1086.8 L273.6,1082.0 L269.4,1077.2 L265.3,1072.3 L261.3,1067.4 L257.3,1062.4 L253.3,1057.4 L249.5,1052.3 L245.6,1047.2 L241.9,1042.1 L238.2,1036.9 L234.5,1031.6 L231.0,1026.4 L227.4,1021.0 L224.0,1015.7 L220.6,1010.3 L217.3,1004.8 L214.0,999.3 L210.8,993.8 L207.6,988.2 L204.6,982.6 L201.5,977.0 L198.6,971.3 L195.7,965.6 L192.9,959.8 L190.1,954.1 L187.5,948.2 L184.8,942.4 L182.3,936.5 L179.8,930.6 L177.4,924.7 L175.1,918.7 L172.8,912.7 L170.6,906.7 L168.4,900.6 L166.4,894.6 L164.4,888.5 L162.5,882.3 L160.6,876.2 L158.8,870.0 L157.1,863.8 L155.5,857.6 L153.9,851.4 L152.4,845.1 L151.0,838.9 L149.6,832.6 L148.4,826.3 L147.2,819.9 L146.0,813.6 L145.0,807.3 L144.0,800.9 L143.1,794.5 L142.3,788.1 L141.5,781.7 L140.8,775.3 L140.2,768.9 L139.7,762.5 L139.2,756.0 L138.8,749.6 L138.5,743.2 L138.3,736.7 L138.1,730.3 L138.0,723.8 L138.0,717.3 L138.1,710.9 L138.2,704.4 L138.4,698.0 L138.7,691.5 L139.1,685.1 L139.5,678.6 L140.0,672.2 L140.6,665.7 L141.3,659.3 L142.0,652.8 L142.8,646.4 L143.7,640.0 L144.7,633.6 L145.7,627.2 L146.8,620.8 L148.0,614.4 L149.3,608.1 L150.6,601.7 L152.0,595.4 L153.5,589.1 L155.1,582.8 L156.7,576.5 L158.4,570.3 L160.2,564.0 L162.0,557.8 L164.0,551.6 L166.0,545.4 L168.0,539.2 L170.2,533.1 L172.4,527.0 L174.7,520.9 L177.0,514.8 L179.4,508.8 L181.9,502.8 L184.5,496.8 L187.1,490.8 L189.8,484.9 L192.6,479.0 L195.5,473.2 L198.4,467.3 L201.4,461.5 L204.4,455.8 L207.5,450.0 L210.7,444.4 L214.0,438.7 L217.3,433.1 L220.7,427.5 L224.1,421.9 L227.6,416.4 L231.2,411.0 L234.9,405.6 L238.6,400.2 L242.3,394.8 L246.2,389.5 L250.1,384.3 L254.0,379.1 L258.0,373.9 L262.1,368.8 L266.3,363.7 L270.4,358.7 L274.7,353.7 L279.0,348.8 L283.4,343.9 L287.8,339.1 L292.3,334.3 L296.9,329.6 L301.5,324.9 L306.1,320.3 L310.8,315.7 L315.6,311.2 L320.4,306.8 L325.3,302.4 L330.2,298.0 L335.2,293.7 L340.2,289.5 L345.3,285.3 L350.4,281.2 L355.6,277.2 L360.8,273.2 L366.1,269.2 L371.4,265.4 L376.7,261.5 L382.1,257.8 L387.6,254.1 L393.1,250.5 L398.6,246.9 L404.2,243.4 L409.8,240.0 L415.5,236.6 L421.2,233.3 L426.9,230.0 L432.7,226.9 L438.5,223.8 L444.4,220.7 L450.3,217.7 L456.2,214.8 L462.2,212.0 L468.1,209.2 L474.2,206.5 L480.2,203.9 L486.3,201.4 L492.4,198.9 L498.6,196.5 L504.8,194.1 L511.0,191.8 L517.2,189.6 L523.5,187.5 L529.8,185.4 L536.1,183.5 L542.4,181.6 L548.8,179.7 L555.2,178.0 L561.6,176.3 L568.0,174.6 L574.5,173.1 L580.9,171.6 L587.4,170.3 L593.9,168.9 L600.4,167.7 L607.0,166.5 L613.5,165.4 L620.1,164.4 L626.6,163.5 L633.2,162.6 L639.8,161.8 L646.4,161.1 L653.0,160.5 L659.7,160.0 L666.3,159.5 L672.9,159.1 L679.6,158.8 L686.2,158.5 L692.9,158.3 L699.5,158.3 L706.2,158.2 L712.9,158.3 L719.5,158.5 L726.2,158.7 L732.8,159.0 L739.5,159.3 L746.1,159.8 L752.8,160.3 L759.4,160.9 L766.1,161.6 L772.7,162.4 L779.3,163.2 L785.9,164.1 L792.5,165.1 L799.1,166.2 L805.7,167.3 L812.3,168.6 L818.8,169.9 L825.4,171.3 L831.9,172.7 L838.4,174.2 L844.9,175.8 L851.4,177.5 L857.8,179.3 L864.2,181.1 L870.7,183.0 L877.1,185.0 L883.4,187.1 L889.8,189.2 L896.1,191.4 L902.4,193.7 L908.7,196.0 L914.9,198.5 L921.2,201.0 L927.4,203.5 L933.5,206.2 L939.7,208.9 L945.8,211.7 L951.8,214.5 L957.9,217.5 L963.9,220.5 L969.9,223.6 L975.8,226.7 L981.7,229.9 L987.6,233.2 L993.4,236.5 L999.2,240.0 L1004.9,243.5 L1010.6,247.0 L1016.3,250.6 L1022.0,254.3 L1027.5,258.1 L1033.1,261.9 L1038.6,265.8 L1044.0,269.7 L1049.5,273.7 L1054.8,277.8 L1060.1,282.0 L1065.4,286.2 L1070.6,290.4 L1075.8,294.7 L1080.9,299.1 L1086.0,303.6 L1091.0,308.1 L1096.0,312.7 L1100.9,317.3 L1105.8,322.0 L1110.6,326.7 L1115.4,331.5 L1120.1,336.4 L1124.7,341.3 L1129.3,346.2 L1133.9,351.2 L1138.3,356.3 L1142.8,361.4 L1147.1,366.6 L1151.4,371.8 L1155.7,377.1 L1159.8,382.5 L1164.0,387.8 L1168.0,393.3 L1172.0,398.7 L1175.9,404.3 L1179.8,409.8 L1183.6,415.4 L1187.3,421.1 L1191.0,426.8 L1194.6,432.6 L1198.2,438.3 L1201.6,444.2 L1205.0,450.0 L1208.4,456.0 L1211.7,461.9 L1214.9,467.9 L1218.0,473.9 L1221.0,480.0 L1224.0,486.1 L1227.0,492.3 L1229.8,498.4 L1232.6,504.6 L1235.3,510.9 L1237.9,517.2 L1240.5,523.5 L1243.0,529.8 L1245.4,536.2 L1247.7,542.6 L1250.0,549.0 L1252.2,555.4 L1254.3,561.9 L1256.4,568.4 L1258.3,575.0 L1260.2,581.5 L1262.0,588.1 L1263.8,594.7 L1265.4,601.3 L1267.0,607.9 L1268.5,614.6 L1270.0,621.3 L1271.3,628.0 L1272.6,634.7 L1273.8,641.4 L1274.9,648.2 L1276.0,654.9 L1276.9,661.7 L1277.8,668.5 L1278.6,675.3 L1279.4,682.1 L1280.0,688.9 L1280.6,695.7 L1281.1,702.5 L1281.5,709.4 L1281.8,716.2 L1282.1,723.1 L1282.2,729.9 L1282.3,736.8 L1282.3,743.6 L1282.3,750.5 L1282.1,757.3 L1281.9,764.2 L1281.6,771.1 L1281.2,777.9 L1280.7,784.8 L1280.2,791.6 L1279.6,798.4 L1278.9,805.3 L1278.1,812.1 L1277.2,818.9 L1276.3,825.7 L1275.3,832.5 L1274.2,839.3 L1273.0,846.1 L1271.7,852.9 L1270.4,859.6 L1269.0,866.3 L1267.5,873.1 L1265.9,879.8 L1264.2,886.5 L1262.5,893.1 L1260.7,899.8 L1258.8,906.4 L1256.8,913.0 L1254.8,919.6 L1252.7,926.2 L1250.5,932.7 L1248.2,939.2 L1245.9,945.7 L1243.4,952.2 L1240.9,958.6 L1238.4,965.0 L1235.7,971.4 L1233.0,977.7 L1230.2,984.0 L1227.3,990.3 L1224.4,996.6 L1221.4,1002.8 L1218.3,1009.0 L1215.1,1015.1 L1211.9,1021.3 L1208.6,1027.3 L1205.2,1033.4 L1201.7,1039.4 L1198.2,1045.3 L1194.6,1051.3 L1191.0,1057.1 L1187.2,1063.0 L1183.4,1068.8 L1179.6,1074.5 L1175.6,1080.2 L1171.6,1085.9 L1167.6,1091.5 L1163.4,1097.1 L1159.2,1102.6 L1155.0,1108.1 L1150.6,1113.5 L1146.3,1118.9 L1141.8,1124.2 L1137.3,1129.5 L1132.7,1134.7 L1128.1,1139.9 L1123.4,1145.0 L1118.6,1150.1 L1113.8,1155.1 L1108.9,1160.1 L1104.0,1165.0 L1099.0,1169.8 L1093.9,1174.6 L1088.8,1179.3 L1083.6,1184.0 L1078.4,1188.6 L1073.1,1193.2 L1067.8,1197.7 L1062.4,1202.1 L1057.0,1206.4 L1051.5,1210.7 L1046.0,1215.0 L1040.4,1219.2 L1034.8,1223.3 L1029.1,1227.3 L1023.3,1231.3 L1017.6,1235.2 L1011.7,1239.1 L1005.9,1242.8 L1000.0,1246.6 L994.0,1250.2 L988.0,1253.8 L981.9,1257.3 L975.9,1260.7 L969.7,1264.1 L963.6,1267.4 L957.3,1270.6 L951.1,1273.8 L944.8,1276.8 L938.5,1279.8 L932.1,1282.8 L925.7,1285.6 L919.3,1288.4 L912.9,1291.1 L906.4,1293.8 L899.8,1296.3 L893.3,1298.8 L886.7,1301.2 L880.1,1303.6 L873.5,1305.8 L866.8,1308.0 L860.1,1310.1 L853.4,1312.1 L846.6,1314.1 L839.9,1316.0 L833.1,1317.7 L826.3,1319.5 L819.4,1321.1 L812.6,1322.6 L805.7,1324.1 L798.8,1325.5 L791.9,1326.8 L785.0,1328.1 L778.0,1329.2 L771.1,1330.3 L764.1,1331.3 L757.1,1332.2 L750.1,1333.0 L743.1,1333.8 L736.1,1334.5 L729.1,1335.0 L722.1,1335.5 L715.0,1336.0 L708.0,1336.3 L701.0,1336.6 L693.9,1336.7 L686.9,1336.8 L679.8,1336.9 L672.7,1336.8 L665.7,1336.6 L658.6,1336.4 L651.6,1336.1 L644.5,1335.7 L637.5,1335.2 L630.4,1334.7 L623.4,1334.0 L616.4,1333.3 L609.3,1332.5 L602.3,1331.6 L595.3,1330.6 L588.3,1329.6 L581.3,1328.4 L574.4,1327.2 L567.4,1325.9 L560.5,1324.5 L553.5,1323.1 L546.6,1321.5 L539.7,1319.9 L532.8,1318.2 L526.0,1316.4 L519.1,1314.6 L512.3,1312.6 L505.5,1310.6 L498.7,1308.5 L492.0,1306.3 L485.3,1304.1 L478.5,1301.7 L471.9,1299.3 L465.2,1296.8 L458.6,1294.3 L452.0,1291.6 L445.4,1288.9 L438.9,1286.1 L432.4,1283.2 L425.9,1280.3 L419.5,1277.2 L413.1,1274.1 L406.7,1270.9 L400.4,1267.7 L394.1,1264.4 L387.9,1261.0 L381.7,1257.5 L375.5,1253.9 L369.4,1250.3 L363.3,1246.6 L357.2,1242.9 L351.2,1239.0 L345.2,1235.1 L339.3,1231.1 L333.4,1227.1 L327.6,1223.0 L321.8,1218.8 L316.1,1214.5 L310.4,1210.2 L304.8,1205.8 L299.2,1201.4 L293.7,1196.9 L288.2,1192.3 L282.8,1187.6 L277.4,1182.9 L272.1,1178.2 L266.8,1173.3 L261.6,1168.4 L256.4,1163.5 L251.3,1158.5 L246.3,1153.4 L241.3,1148.2 L236.4,1143.0 L231.5,1137.8 L226.7,1132.5 L222.0,1127.1 L217.3,1121.7 L212.7,1116.2 L208.1,1110.7 L203.6,1105.1 L199.2,1099.4 L194.8,1093.7 L190.5,1088.0 L186.3,1082.2 L182.1,1076.3 L178.1,1070.4 L174.0,1064.5 L170.1,1058.5 L166.2,1052.5 L162.4,1046.4 L158.6,1040.3 L154.9,1034.1 L151.3,1027.9 L147.8,1021.6 L144.3,1015.3 L140.9,1009.0 L137.6,1002.6 L134.4,996.2 L131.2,989.7 L128.1,983.2 L125.1,976.7 L122.2,970.1 L119.3,963.5 L116.5,956.8 L113.8,950.2 L111.2,943.4 L108.6,936.7 L106.1,929.9 L103.7,923.1 L101.4,916.3 L99.2,909.4 L97.0,902.6 L94.9,895.6 L92.9,888.7 L91.0,881.8 L89.1,874.8 L87.4,867.8 L85.7,860.7 L84.1,853.7 L82.6,846.6 L81.1,839.5 L79.8,832.4 L78.5,825.3 L77.3,818.2 L76.2,811.0 L75.2,803.9 L74.3,796.7 L73.4,789.5 L72.6,782.3 L71.9,775.1 L71.3,767.9 L70.8,760.6 L70.4,753.4 L70.0,746.2 L69.8,738.9 L69.6,731.7 L69.5,724.4 L69.5,717.2 L69.5,709.9 L69.7,702.6 L69.9,695.4 L70.3,688.1 L70.7,680.9 L71.2,673.6 L71.7,666.4 L72.4,659.2 L73.1,651.9 L74.0,644.7 L74.9,637.5 L75.9,630.3 L77.0,623.1 L78.1,615.9 L79.4,608.7 L80.7,601.6 L82.1,594.4 L83.6,587.3 L85.2,580.2 L86.9,573.1 L88.6,566.1 L90.4,559.0 L92.4,552.0 L94.4,545.0 L96.4,538.0 L98.6,531.0 L100.8,524.1 L103.1,517.1 L105.6,510.2 L108.0,503.4 L110.6,496.5 L113.2,489.7 L116.0,483.0 L118.8,476.2 L121.6,469.5 L124.6,462.8 L127.6,456.2 L130.8,449.6 L133.9,443.0 L137.2,436.4 L140.6,429.9 L144.0,423.5 L147.5,417.0 L151.1,410.6 L154.7,404.3 L158.4,398.0 L162.2,391.7 L166.1,385.5 L170.0,379.3 L174.0,373.2 L178.1,367.1 L182.3,361.1 L186.5,355.1 L190.8,349.1 L195.2,343.2 L199.6,337.4 L204.1,331.6 L208.7,325.9 L213.3,320.2 L218.0,314.5 L222.8,309.0 L227.7,303.4 L232.6,298.0 L237.5,292.5 L242.6,287.2 L247.7,281.9 L252.8,276.7 L258.0,271.5 L263.3,266.3 L268.7,261.3 L274.1,256.3 L279.5,251.4 L285.1,246.5 L290.6,241.7 L296.3,236.9 L301.9,232.2 L307.7,227.6 L313.5,223.1 L319.3,218.6 L325.2,214.2 L331.2,209.8 L337.2,205.6 L343.3,201.3 L349.4,197.2 L355.5,193.1 L361.7,189.1 L368.0,185.2 L374.3,181.4 L380.6,177.6 L387.0,173.9 L393.5,170.2 L399.9,166.7 L406.5,163.2 L413.0,159.8 L419.6,156.5 L426.3,153.2 L432.9,150.0 L439.7,146.9 L446.4,143.9 L453.2,140.9 L460.0,138.1 L466.9,135.3 L473.8,132.6 L480.7,129.9 L487.7,127.4 L494.7,124.9 L501.7,122.5 L508.7,120.2 L515.8,118.0 L522.9,115.9 L530.0,113.8 L537.2,111.8 L544.4,109.9 L551.6,108.1 L558.8,106.4 L566.0,104.8 L573.3,103.2 L580.6,101.7 L587.9,100.3"/>
<path d="M507.7,476.7 L510.6,474.5 L513.5,472.3 L516.5,470.1 L519.5,468.0 L522.5,465.8 L525.5,463.8 L528.5,461.7 L531.6,459.7 L534.7,457.8 L537.8,455.8 L541.0,453.9 L544.1,452.1 L547.3,450.2 L550.5,448.4 L553.8,446.7 L557.0,445.0 L560.3,443.3 L563.6,441.7 L566.9,440.1 L570.2,438.5 L573.6,437.0 L577.0,435.5 L580.4,434.0 L583.8,432.6 L587.2,431.3 L590.6,429.9 L594.1,428.6 L597.6,427.4 L601.1,426.2 L604.6,425.0 L608.1,423.9 L611.7,422.8 L615.2,421.7 L618.8,420.7 L622.3,419.8 L625.9,418.8 L629.5,417.9 L633.2,417.1 L636.8,416.3 L640.4,415.5 L644.1,414.8 L647.7,414.2 L651.4,413.5 L655.1,412.9 L658.7,412.4 L662.4,411.9 L666.1,411.4 L669.8,411.0 L673.5,410.6 L677.3,410.3 L681.0,410.0 L684.7,409.8 L688.4,409.6 L692.2,409.4 L695.9,409.3 L699.6,409.2 L703.4,409.2 L707.1,409.2 L710.9,409.3 L714.6,409.4 L718.3,409.5 L722.1,409.7 L725.8,409.9 L729.6,410.2 L733.3,410.5 L737.0,410.9 L740.8,411.3 L744.5,411.8 L748.2,412.2 L751.9,412.8 L755.7,413.4 L759.4,414.0 L763.1,414.7 L766.8,415.4 L770.5,416.1 L774.1,416.9 L777.8,417.8 L781.5,418.7 L785.1,419.6 L788.8,420.6 L792.4,421.6 L796.0,422.6 L799.7,423.7 L803.3,424.9 L806.9,426.1 L810.4,427.3 L814.0,428.5 L817.5,429.9 L821.1,431.2 L824.6,432.6 L828.1,434.0 L831.6,435.5 L835.1,437.0 L838.5,438.6 L842.0,440.2 L845.4,441.8 L848.8,443.5 L852.2,445.2 L855.6,447.0 L858.9,448.8 L862.3,450.6 L865.6,452.5 L868.9,454.4 L872.1,456.4 L875.4,458.4 L878.6,460.4 L881.8,462.5 L885.0,464.6 L888.1,466.7 L891.3,468.9 L894.4,471.2 L897.4,473.4 L900.5,475.7 L903.5,478.0 L906.5,480.4 L909.5,482.8 L912.5,485.3 L915.4,487.7 L918.3,490.2 L921.1,492.8 L924.0,495.4 L926.8,498.0 L929.6,500.6 L932.3,503.3 L935.0,506.0 L937.7,508.8 L940.4,511.5 L943.0,514.3 L945.6,517.2 L948.2,520.1 L950.7,523.0 L953.2,525.9 L955.6,528.9 L958.1,531.8 L960.5,534.9 L962.8,537.9 L965.1,541.0 L967.4,544.1 L969.7,547.2 L971.9,550.4 L974.1,553.6 L976.2,556.8 L978.3,560.0 L980.4,563.3 L982.5,566.6 L984.5,569.9 L986.4,573.3 L988.3,576.6 L990.2,580.0 L992.1,583.4 L993.9,586.8 L995.6,590.3 L997.3,593.8 L999.0,597.3 L1000.7,600.8 L1002.3,604.3 L1003.8,607.9 L1005.4,611.5 L1006.9,615.1 L1008.3,618.7 L1009.7,622.3 L1011.0,626.0 L1012.4,629.6 L1013.6,633.3 L1014.9,637.0 L1016.0,640.7 L1017.2,644.5 L1018.3,648.2 L1019.4,652.0 L1020.4,655.7 L1021.3,659.5 L1022.3,663.3 L1023.1,667.1 L1024.0,671.0 L1024.8,674.8 L1025.5,678.6 L1026.2,682.5 L1026.9,686.3 L1027.5,690.2 L1028.1,694.1 L1028.6,698.0 L1029.1,701.9 L1029.5,705.8 L1029.9,709.7 L1030.3,713.6 L1030.6,717.5 L1030.8,721.4 L1031.0,725.4 L1031.2,729.3 L1031.3,733.2 L1031.4,737.2 L1031.4,741.1 L1031.4,745.0 L1031.3,749.0 L1031.2,752.9 L1031.0,756.9 L1030.8,760.8 L1030.6,764.8 L1030.3,768.7 L1029.9,772.6 L1029.6,776.6 L1029.1,780.5 L1028.6,784.4 L1028.1,788.3 L1027.5,792.3 L1026.9,796.2 L1026.3,800.1 L1025.6,804.0 L1024.8,807.9 L1024.0,811.7 L1023.2,815.6 L1022.3,819.5 L1021.3,823.3 L1020.4,827.2 L1019.3,831.0 L1018.3,834.9 L1017.1,838.7 L1016.0,842.5 L1014.8,846.3 L1013.5,850.0 L1012.2,853.8 L1010.9,857.6 L1009.5,861.3 L1008.1,865.0 L1006.6,868.7 L1005.1,872.4 L1003.5,876.1 L1001.9,879.7 L1000.3,883.4 L998.6,887.0 L996.9,890.6 L995.1,894.2 L993.3,897.8 L991.4,901.3 L989.5,904.8 L987.6,908.3 L985.6,911.8 L983.6,915.3 L981.5,918.7 L979.4,922.1 L977.3,925.5 L975.1,928.9 L972.9,932.2 L970.6,935.5 L968.3,938.8 L966.0,942.1 L963.6,945.3 L961.2,948.5 L958.7,951.7 L956.2,954.9 L953.7,958.0 L951.1,961.1 L948.5,964.2 L945.8,967.2 L943.2,970.2 L940.5,973.2 L937.7,976.2 L934.9,979.1 L932.1,982.0 L929.2,984.8 L926.3,987.7 L923.4,990.4 L920.5,993.2 L917.5,995.9 L914.5,998.6 L911.4,1001.3 L908.3,1003.9 L905.2,1006.5 L902.0,1009.0 L898.9,1011.6 L895.7,1014.0 L892.4,1016.5 L889.1,1018.9 L885.9,1021.2 L882.5,1023.6 L879.2,1025.9 L875.8,1028.1 L872.4,1030.3 L868.9,1032.5 L865.5,1034.6 L862.0,1036.7 L858.5,1038.8 L854.9,1040.8 L851.4,1042.8 L847.8,1044.7 L844.2,1046.6 L840.5,1048.5 L836.9,1050.3 L833.2,1052.0 L829.5,1053.8 L825.8,1055.4 L822.0,1057.1 L818.3,1058.7 L814.5,1060.2 L810.7,1061.7 L806.9,1063.2 L803.0,1064.6 L799.2,1066.0 L795.3,1067.3 L791.4,1068.6 L787.5,1069.9 L783.6,1071.1 L779.6,1072.2 L775.7,1073.3 L771.7,1074.4 L767.7,1075.4 L763.8,1076.4 L759.7,1077.3 L755.7,1078.2 L751.7,1079.0 L747.7,1079.8 L743.6,1080.5 L739.6,1081.2 L735.5,1081.9 L731.4,1082.5 L727.3,1083.0 L723.2,1083.5 L719.1,1084.0 L715.0,1084.4 L710.9,1084.7 L706.8,1085.0 L702.7,1085.3 L698.6,1085.5 L694.4,1085.7 L690.3,1085.8 L686.2,1085.9 L682.0,1085.9 L677.9,1085.9 L673.7,1085.8 L669.6,1085.7 L665.5,1085.5 L661.3,1085.3 L657.2,1085.0 L653.0,1084.7 L648.9,1084.4 L644.8,1083.9 L640.6,1083.5 L636.5,1083.0 L632.4,1082.4 L628.3,1081.8 L624.2,1081.2 L620.1,1080.5 L616.0,1079.7 L611.9,1078.9 L607.8,1078.1 L603.8,1077.2 L599.7,1076.2 L595.6,1075.3 L591.6,1074.2 L587.6,1073.1 L583.6,1072.0 L579.6,1070.8 L575.6,1069.6 L571.6,1068.3 L567.6,1067.0 L563.7,1065.7 L559.7,1064.2 L555.8,1062.8 L551.9,1061.3 L548.0,1059.7 L544.1,1058.1 L540.3,1056.5 L536.4,1054.8 L532.6,1053.1 L528.8,1051.3 L525.0,1049.5 L521.3,1047.6 L517.5,1045.7 L513.8,1043.8 L510.1,1041.8 L506.5,1039.7 L502.8,1037.7 L499.2,1035.5 L495.6,1033.4 L492.0,1031.1 L488.4,1028.9 L484.9,1026.6 L481.4,1024.3 L477.9,1021.9 L474.5,1019.5 L471.0,1017.0 L467.6,1014.5 L464.3,1012.0 L460.9,1009.4 L457.6,1006.8 L454.3,1004.1 L451.1,1001.4 L447.9,998.7 L444.7,995.9 L441.5,993.1 L438.4,990.2 L435.3,987.3 L432.2,984.4 L429.2,981.4 L426.2,978.4 L423.3,975.4 L420.3,972.3 L417.4,969.2 L414.6,966.1 L411.8,962.9 L409.0,959.7 L406.2,956.5 L403.5,953.2 L400.8,949.9 L398.2,946.5 L395.6,943.2 L393.1,939.8 L390.5,936.3 L388.1,932.9 L385.6,929.4 L383.2,925.9 L380.9,922.3 L378.5,918.7 L376.3,915.1 L374.0,911.5 L371.8,907.8 L369.7,904.1 L367.6,900.4 L365.5,896.7 L363.5,892.9 L361.5,889.1 L359.5,885.3 L357.7,881.5 L355.8,877.6 L354.0,873.7 L352.2,869.8 L350.5,865.9 L348.8,862.0 L347.2,858.0 L345.6,854.0 L344.1,850.0 L342.6,846.0 L341.2,841.9 L339.8,837.9 L338.4,833.8 L337.1,829.7 L335.9,825.6 L334.7,821.4 L333.5,817.3 L332.4,813.1 L331.3,809.0 L330.3,804.8 L329.4,800.6 L328.5,796.4 L327.6,792.1 L326.8,787.9 L326.0,783.7 L325.3,779.4 L324.6,775.1 L324.0,770.9 L323.4,766.6 L322.9,762.3 L322.4,758.0 L322.0,753.7 L321.6,749.4 L321.3,745.1 L321.0,740.7 L320.8,736.4 L320.6,732.1 L320.5,727.7 L320.4,723.4 L320.4,719.1 L320.5,714.7 L320.5,710.4 L320.7,706.1 L320.9,701.7 L321.1,697.4 L321.4,693.0 L321.7,688.7 L322.1,684.4 L322.5,680.1 L323.0,675.7 L323.5,671.4 L324.1,667.1 L324.8,662.8 L325.5,658.5 L326.2,654.2 L327.0,649.9 L327.8,645.6 L328.7,641.3 L329.6,637.1 L330.6,632.8 L331.7,628.6 L332.8,624.3 L333.9,620.1 L335.1,615.9 L336.3,611.7 L337.6,607.5 L338.9,603.4 L340.3,599.2 L341.7,595.1 L343.2,591.0 L344.8,586.8 L346.3,582.8 L348.0,578.7 L349.6,574.6 L351.3,570.6 L353.1,566.6 L354.9,562.6 L356.8,558.6 L358.7,554.6 L360.7,550.7 L362.7,546.8 L364.7,542.9 L366.8,539.0 L368.9,535.2 L371.1,531.3 L373.4,527.5 L375.6,523.8 L378.0,520.0 L380.3,516.3 L382.7,512.6 L385.2,508.9 L387.7,505.3 L390.2,501.7 L392.8,498.1 L395.4,494.5 L398.1,491.0 L400.8,487.5 L403.5,484.1 L406.3,480.6 L409.1,477.2 L412.0,473.9 L414.9,470.5 L417.9,467.2 L420.9,463.9 L423.9,460.7 L427.0,457.5 L430.1,454.3 L433.2,451.2 L436.4,448.1 L439.6,445.0 L442.9,442.0 L446.2,439.0 L449.5,436.1 L452.8,433.2 L456.2,430.3 L459.7,427.5 L463.1,424.7 L466.6,421.9 L470.2,419.2 L473.7,416.5 L477.3,413.9 L480.9,411.3 L484.6,408.7 L488.3,406.2 L492.0,403.8 L495.7,401.3 L499.5,399.0 L503.3,396.6 L507.2,394.3 L511.0,392.1 L514.9,389.9 L518.8,387.7 L522.8,385.6 L526.7,383.5 L530.7,381.5 L534.7,379.5 L538.8,377.6 L542.9,375.7 L546.9,373.8 L551.1,372.1 L555.2,370.3 L559.3,368.6 L563.5,367.0 L567.7,365.4 L571.9,363.8 L576.2,362.3 L580.4,360.8 L584.7,359.4 L589.0,358.1 L593.3,356.8 L597.6,355.5 L601.9,354.3 L606.3,353.1 L610.6,352.0 L615.0,351.0 L619.4,350.0 L623.8,349.0 L628.3,348.1 L632.7,347.3 L637.1,346.5 L641.6,345.7 L646.0,345.0 L650.5,344.4 L655.0,343.8 L659.5,343.2 L664.0,342.7 L668.5,342.3 L673.0,341.9 L677.5,341.6 L682.0,341.3 L686.6,341.1 L691.1,340.9 L695.6,340.8 L700.1,340.7 L704.7,340.7 L709.2,340.7 L713.8,340.8 L718.3,340.9 L722.8,341.1 L727.4,341.4 L731.9,341.7 L736.4,342.0 L741.0,342.4 L745.5,342.9 L750.0,343.4 L754.5,344.0 L759.0,344.6 L763.6,345.3 L768.1,346.0 L772.5,346.8 L777.0,347.6 L781.5,348.5 L786.0,349.4 L790.4,350.4 L794.9,351.4 L799.3,352.5 L803.7,353.6 L808.1,354.8 L812.5,356.1 L816.9,357.4 L821.3,358.7 L825.7,360.1 L830.0,361.6 L834.3,363.1 L838.6,364.6 L842.9,366.2 L847.2,367.9 L851.5,369.6 L855.7,371.3 L859.9,373.1 L864.1,375.0 L868.3,376.9 L872.5,378.8 L876.6,380.8 L880.7,382.9 L884.8,385.0 L888.9,387.1 L892.9,389.3 L896.9,391.5 L900.9,393.8 L904.9,396.2 L908.8,398.5 L912.8,401.0 L916.6,403.4 L920.5,406.0 L924.3,408.5 L928.1,411.1 L931.9,413.8 L935.7,416.5 L939.4,419.2 L943.1,422.0 L946.7,424.8 L950.3,427.7 L953.9,430.6 L957.5,433.6 L961.0,436.6 L964.5,439.6 L967.9,442.7 L971.3,445.9 L974.7,449.0 L978.1,452.2 L981.4,455.5 L984.6,458.8 L987.9,462.1 L991.1,465.4 L994.2,468.8 L997.4,472.3 L1000.4,475.8 L1003.5,479.3 L1006.5,482.8 L1009.4,486.4 L1012.3,490.0 L1015.2,493.7 L1018.1,497.4 L1020.9,501.1 L1023.6,504.9 L1026.3,508.6 L1029.0,512.5 L1031.6,516.3 L1034.2,520.2 L1036.7,524.1 L1039.2,528.1 L1041.6,532.0 L1044.0,536.0 L1046.4,540.1 L1048.7,544.1 L1050.9,548.2 L1053.1,552.4 L1055.3,556.5 L1057.4,560.7 L1059.5,564.9 L1061.5,569.1 L1063.5,573.3 L1065.4,577.6 L1067.2,581.9 L1069.1,586.2 L1070.8,590.6 L1072.6,594.9 L1074.2,599.3 L1075.9,603.7 L1077.4,608.1 L1078.9,612.6 L1080.4,617.0 L1081.8,621.5 L1083.2,626.0 L1084.5,630.5 L1085.8,635.1 L1087.0,639.6 L1088.1,644.2 L1089.2,648.7 L1090.3,653.3 L1091.3,657.9 L1092.2,662.5 L1093.1,667.2 L1093.9,671.8 L1094.7,676.5 L1095.4,681.1 L1096.1,685.8 L1096.7,690.5 L1097.3,695.2 L1097.8,699.8 L1098.2,704.5 L1098.6,709.3 L1099.0,714.0 L1099.3,718.7 L1099.5,723.4 L1099.7,728.1 L1099.8,732.9 L1099.9,737.6 L1099.9,742.3 L1099.9,747.1 L1099.8,751.8 L1099.6,756.6 L1099.4,761.3 L1099.2,766.0 L1098.8,770.8 L1098.5,775.5 L1098.0,780.2 L1097.6,784.9 L1097.0,789.7 L1096.4,794.4 L1095.8,799.1 L1095.1,803.8 L1094.3,808.5 L1093.5,813.2 L1092.7,817.8 L1091.7,822.5 L1090.8,827.2 L1089.7,831.8 L1088.7,836.5 L1087.5,841.1 L1086.3,845.7 L1085.1,850.3 L1083.8,854.9 L1082.4,859.5 L1081.0,864.0 L1079.6,868.6 L1078.0,873.1 L1076.5,877.6 L1074.9,882.1 L1073.2,886.6 L1071.5,891.1 L1069.7,895.5 L1067.8,899.9 L1066.0,904.3 L1064.0,908.7 L1062.0,913.1 L1060.0,917.4 L1057.9,921.7 L1055.8,926.0 L1053.6,930.3 L1051.4,934.5 L1049.1,938.7 L1046.7,942.9 L1044.3,947.1 L1041.9,951.2 L1039.4,955.4 L1036.9,959.4 L1034.3,963.5 L1031.7,967.5 L1029.0,971.5 L1026.3,975.5 L1023.5,979.4 L1020.7,983.3 L1017.8,987.2 L1014.9,991.0 L1011.9,994.8 L1008.9,998.6 L1005.9,1002.4 L1002.8,1006.1 L999.7,1009.7 L996.5,1013.4 L993.3,1017.0 L990.0,1020.5 L986.7,1024.1 L983.4,1027.5 L980.0,1031.0 L976.6,1034.4 L973.1,1037.8 L969.6,1041.1 L966.0,1044.4 L962.4,1047.6 L958.8,1050.8 L955.1,1054.0 L951.4,1057.1 L947.7,1060.2 L943.9,1063.3 L940.1,1066.3 L936.3,1069.2 L932.4,1072.1 L928.5,1075.0 L924.5,1077.8 L920.5,1080.6 L916.5,1083.3 L912.4,1086.0 L908.4,1088.6 L904.2,1091.2 L900.1,1093.8 L895.9,1096.3 L891.7,1098.7 L887.5,1101.1 L883.2,1103.5 L878.9,1105.8 L874.6,1108.0 L870.2,1110.2 L865.9,1112.4 L861.5,1114.5 L857.0,1116.5 L852.6,1118.5 L848.1,1120.5 L843.6,1122.4 L839.1,1124.2 L834.5,1126.0 L830.0,1127.7 L825.4,1129.4 L820.8,1131.0 L816.1,1132.6 L811.5,1134.2 L806.8,1135.6 L802.1,1137.0 L797.4,1138.4 L792.7,1139.7 L787.9,1141.0 L783.2,1142.2 L778.4,1143.3 L773.6,1144.4 L768.8,1145.4 L764.0,1146.4 L759.2,1147.3 L754.4,1148.2 L749.5,1149.0 L744.7,1149.8 L739.8,1150.5 L734.9,1151.1 L730.0,1151.7 L725.1,1152.2 L720.2,1152.7 L715.3,1153.1 L710.4,1153.5 L705.5,1153.8 L700.6,1154.0 L695.7,1154.2 L690.7,1154.3 L685.8,1154.4 L680.9,1154.4 L675.9,1154.4 L671.0,1154.3 L666.1,1154.1 L661.1,1153.9 L656.2,1153.6 L651.3,1153.3 L646.3,1152.9 L641.4,1152.5 L636.5,1152.0 L631.6,1151.4 L626.6,1150.8 L621.7,1150.1 L616.8,1149.4 L611.9,1148.6 L607.1,1147.7 L602.2,1146.8 L597.3,1145.9 L592.5,1144.8 L587.6,1143.8 L582.8,1142.6 L578.0,1141.5 L573.2,1140.2 L568.4,1138.9 L563.6,1137.5 L558.8,1136.1 L554.1,1134.7 L549.3,1133.1 L544.6,1131.6 L539.9,1129.9 L535.2,1128.2 L530.6,1126.5 L525.9,1124.7 L521.3,1122.8 L516.7,1120.9 L512.1,1119.0 L507.5,1117.0 L503.0,1114.9 L498.5,1112.8 L494.0,1110.6 L489.5,1108.4 L485.1,1106.1 L480.7,1103.7 L476.3,1101.4 L471.9,1098.9 L467.6,1096.4 L463.3,1093.9 L459.0,1091.3 L454.7,1088.7 L450.5,1086.0 L446.3,1083.2 L442.2,1080.4 L438.0,1077.6 L433.9,1074.7 L429.9,1071.8 L425.8,1068.8 L421.8,1065.8 L417.9,1062.7 L413.9,1059.5 L410.1,1056.4 L406.2,1053.2 L402.4,1049.9 L398.6,1046.6 L394.8,1043.2 L391.1,1039.8 L387.5,1036.4 L383.8,1032.9 L380.3,1029.4 L376.7,1025.8 L373.2,1022.2 L369.7,1018.5 L366.3,1014.8 L362.9,1011.1 L359.6,1007.3 L356.3,1003.5 L353.0,999.6 L349.8,995.7 L346.7,991.8 L343.5,987.8 L340.5,983.8 L337.4,979.8 L334.5,975.7 L331.5,971.6 L328.6,967.4 L325.8,963.3 L323.0,959.0 L320.3,954.8 L317.6,950.5 L314.9,946.2 L312.3,941.8 L309.8,937.4 L307.3,933.0 L304.9,928.6 L302.5,924.1 L300.1,919.6 L297.8,915.1 L295.6,910.5 L293.4,905.9 L291.3,901.3 L289.2,896.7 L287.2,892.0 L285.2,887.3 L283.3,882.6 L281.4,877.9 L279.6,873.1 L277.9,868.4 L276.2,863.6 L274.5,858.8 L272.9,853.9 L271.4,849.1 L269.9,844.2 L268.5,839.3 L267.2,834.4 L265.9,829.4 L264.6,824.5 L263.4,819.5 L262.3,814.5 L261.2,809.5 L260.2,804.5 L259.2,799.5 L258.3,794.5 L257.5,789.4 L256.7,784.4 L256.0,779.3 L255.3,774.3 L254.7,769.2 L254.2,764.1 L253.7,759.0 L253.3,753.9 L252.9,748.8 L252.6,743.6 L252.3,738.5 L252.1,733.4 L252.0,728.3 L251.9,723.1 L251.9,718.0 L252.0,712.9 L252.1,707.7 L252.2,702.6 L252.5,697.5 L252.8,692.3 L253.1,687.2 L253.5,682.1 L254.0,676.9 L254.5,671.8 L255.1,666.7 L255.7,661.6 L256.4,656.5 L257.2,651.4 L258.0,646.3 L258.9,641.2 L259.8,636.2 L260.8,631.1 L261.9,626.1 L263.0,621.0 L264.2,616.0 L265.4,611.0 L266.7,606.0 L268.1,601.0 L269.5,596.0 L271.0,591.1 L272.5,586.1 L274.1,581.2 L275.7,576.3 L277.4,571.4 L279.2,566.5 L281.0,561.7 L282.9,556.8 L284.8,552.0 L286.8,547.3 L288.9,542.5 L291.0,537.7 L293.1,533.0 L295.3,528.3 L297.6,523.7 L299.9,519.0 L302.3,514.4 L304.7,509.8 L307.2,505.2 L309.7,500.7 L312.3,496.2 L315.0,491.7 L317.7,487.3 L320.4,482.8 L323.2,478.4 L326.1,474.1 L329.0,469.8 L331.9,465.5 L334.9,461.2 L338.0,457.0 L341.1,452.8 L344.2,448.6 L347.4,444.5 L350.7,440.4 L354.0,436.4 L357.3,432.4 L360.7,428.4 L364.2,424.5 L367.7,420.6 L371.2,416.7 L374.8,412.9 L378.4,409.2 L382.1,405.4 L385.8,401.7 L389.5,398.1 L393.3,394.5 L397.2,390.9 L401.1,387.4 L405.0,384.0 L409.0,380.5 L413.0,377.1 L417.0,373.8 L421.1,370.5 L425.2,367.3 L429.4,364.1 L433.6,360.9 L437.9,357.9 L442.1,354.8 L446.5,351.8 L450.8,348.9 L455.2,346.0 L459.6,343.1 L464.1,340.3 L468.6,337.6 L473.1,334.9 L477.6,332.2 L482.2,329.6 L486.9,327.1 L491.5,324.6 L496.2,322.2 L500.9,319.8 L505.6,317.5 L510.4,315.2 L515.2,313.0 L520.0,310.8 L524.8,308.7 L529.7,306.7 L534.6,304.7 L539.5,302.8 L544.5,300.9 L549.4,299.1 L554.4,297.3 L559.4,295.6 L564.5,294.0 L569.5,292.4 L574.6,290.8 L579.7,289.4 L584.8,288.0 L589.9,286.6 L595.1,285.3 L600.2,284.1 L605.4,282.9 L610.6,281.8 L615.8,280.7 L621.0,279.7 L626.2,278.8 L631.5,277.9 L636.7,277.1 L642.0,276.4 L647.2,275.7 L652.5,275.1 L657.8,274.5 L663.1,274.0 L668.4,273.5 L673.7,273.2 L679.0,272.8 L684.4,272.6 L689.7,272.4 L695.0,272.2 L700.3,272.2 L705.7,272.2 L711.0,272.2 L716.3,272.3 L721.7,272.5 L727.0,272.7 L732.3,273.0 L737.7,273.4 L743.0,273.8 L748.3,274.3 L753.6,274.9 L759.0,275.5 L764.3,276.1 L769.6,276.9 L774.9,277.7 L780.1,278.5 L785.4,279.5 L790.7,280.4 L795.9,281.5 L801.2,282.6 L806.4,283.7 L811.6,285.0 L816.8,286.3 L822.0,287.6 L827.2,289.0 L832.4,290.5 L837.5,292.0 L842.7,293.6 L847.8,295.3 L852.9,297.0 L857.9,298.7 L863.0,300.6 L868.0,302.5 L873.0,304.4 L878.0,306.4 L883.0,308.5 L888.0,310.6 L892.9,312.8 L897.8,315.0 L902.7,317.3 L907.5,319.7 L912.3,322.1 L917.1,324.5 L921.9,327.1 L926.6,329.6 L931.3,332.3 L936.0,335.0 L940.7,337.7 L945.3,340.5 L949.9,343.4 L954.4,346.3 L959.0,349.2 L963.5,352.3 L967.9,355.3 L972.3,358.4 L976.7,361.6 L981.1,364.8 L985.4,368.1 L989.6,371.4 L993.9,374.8 L998.1,378.2 L1002.2,381.7 L1006.4,385.3 L1010.4,388.8 L1014.5,392.4 L1018.5,396.1 L1022.4,399.8 L1026.3,403.6 L1030.2,407.4 L1034.0,411.3 L1037.8,415.2 L1041.6,419.1 L1045.3,423.1 L1048.9,427.1 L1052.5,431.2 L1056.1,435.3 L1059.6,439.5 L1063.0,443.7 L1066.4,448.0 L1069.8,452.2 L1073.1,456.6 L1076.4,460.9 L1079.6,465.3 L1082.8,469.8 L1085.9,474.3 L1088.9,478.8 L1091.9,483.3 L1094.9,487.9 L1097.8,492.6 L1100.6,497.2 L1103.4,501.9 L1106.2,506.6 L1108.9,511.4 L1111.5,516.2 L1114.1,521.0 L1116.6,525.9 L1119.1,530.8 L1121.5,535.7 L1123.8,540.6 L1126.1,545.6 L1128.4,550.6 L1130.5,555.6 L1132.7,560.7 L1134.7,565.8 L1136.7,570.9 L1138.7,576.0 L1140.6,581.2 L1142.4,586.3 L1144.1,591.5 L1145.9,596.7 L1147.5,602.0 L1149.1,607.3 L1150.6,612.5 L1152.1,617.8 L1153.5,623.1 L1154.8,628.5 L1156.1,633.8 L1157.3,639.2 L1158.5,644.6 L1159.6,650.0 L1160.6,655.4 L1161.6,660.8 L1162.5,666.3 L1163.3,671.7 L1164.1,677.2 L1164.8,682.6 L1165.4,688.1 L1166.0,693.6 L1166.5,699.1 L1167.0,704.6 L1167.4,710.1 L1167.7,715.6 L1168.0,721.1 L1168.2,726.7 L1168.3,732.2 L1168.4,737.7 L1168.4,743.3 L1168.4,748.8 L1168.3,754.3 L1168.1,759.9 L1167.8,765.4 L1167.5,770.9 L1167.1,776.4 L1166.7,782.0 L1166.2,787.5 L1165.6,793.0 L1165.0,798.5 L1164.3,804.0 L1163.5,809.5 L1162.7,815.0 L1161.8,820.5 L1160.8,826.0 L1159.8,831.4 L1158.7,836.9 L1157.6,842.3 L1156.4,847.7 L1155.1,853.2 L1153.8,858.6 L1152.4,863.9 L1150.9,869.3 L1149.4,874.7 L1147.8,880.0 L1146.1,885.3 L1144.4,890.6 L1142.7,895.9 L1140.8,901.2 L1138.9,906.4 L1137.0,911.6 L1134.9,916.8 L1132.9,922.0 L1130.7,927.2 L1128.5,932.3 L1126.3,937.4 L1123.9,942.5 L1121.6,947.5 L1119.1,952.6 L1116.6,957.6 L1114.0,962.5 L1111.4,967.5 L1108.8,972.4 L1106.0,977.3 L1103.2,982.1 L1100.4,987.0 L1097.5,991.7 L1094.5,996.5 L1091.5,1001.2 L1088.4,1005.9 L1085.3,1010.6 L1082.1,1015.2 L1078.9,1019.8 L1075.6,1024.3 L1072.2,1028.8 L1068.8,1033.3 L1065.4,1037.7 L1061.9,1042.1 L1058.3,1046.5 L1054.7,1050.8 L1051.1,1055.1 L1047.4,1059.3 L1043.6,1063.5 L1039.8,1067.6 L1036.0,1071.7 L1032.0,1075.8 L1028.1,1079.8 L1024.1,1083.7 L1020.0,1087.7 L1016.0,1091.5 L1011.8,1095.4 L1007.6,1099.1 L1003.4,1102.9 L999.1,1106.6 L994.8,1110.2 L990.5,1113.8 L986.1,1117.3 L981.6,1120.8 L977.1,1124.2 L972.6,1127.6 L968.0,1130.9 L963.4,1134.2 L958.8,1137.4 L954.1,1140.6 L949.4,1143.7 L944.6,1146.8 L939.8,1149.8 L935.0,1152.7 L930.1,1155.6 L925.2,1158.5 L920.3,1161.3 L915.3,1164.0 L910.3,1166.7 L905.3,1169.3 L900.2,1171.8 L895.1,1174.3 L890.0,1176.8 L884.8,1179.1 L879.7,1181.5 L874.4,1183.7 L869.2,1185.9 L863.9,1188.0 L858.6,1190.1 L853.3,1192.1 L848.0,1194.1 L842.6,1196.0 L837.2,1197.8 L831.8,1199.6 L826.4,1201.3 L820.9,1202.9 L815.5,1204.5 L810.0,1206.0 L804.5,1207.5 L798.9,1208.9 L793.4,1210.2 L787.8,1211.4 L782.3,1212.6 L776.7,1213.8 L771.1,1214.8 L765.4,1215.8 L759.8,1216.8 L754.2,1217.6 L748.5,1218.4 L742.8,1219.2 L737.2,1219.9 L731.5,1220.5 L725.8,1221.0 L720.1,1221.5 L714.4,1221.9 L708.7,1222.2 L702.9,1222.5 L697.2,1222.7 L691.5,1222.8 L685.8,1222.9 L680.0,1222.9 L674.3,1222.9 L668.6,1222.8 L662.8,1222.6 L657.1,1222.3 L651.4,1222.0 L645.6,1221.6 L639.9,1221.1 L634.2,1220.6 L628.5,1220.0 L622.8,1219.4 L617.1,1218.6 L611.4,1217.8 L605.7,1217.0 L600.0,1216.1 L594.3,1215.1 L588.7,1214.0 L583.0,1212.9 L577.4,1211.7 L571.8,1210.4 L566.2,1209.1 L560.6,1207.7 L555.0,1206.3 L549.4,1204.8 L543.9,1203.2 L538.4,1201.5 L532.9,1199.8 L527.4,1198.1 L521.9,1196.2 L516.5,1194.3 L511.0,1192.3 L505.6,1190.3 L500.2,1188.2 L494.9,1186.1 L489.5,1183.8 L484.2,1181.6 L478.9,1179.2 L473.7,1176.8 L468.4,1174.3 L463.2,1171.8 L458.0,1169.2 L452.9,1166.6 L447.8,1163.9 L442.7,1161.1 L437.6,1158.3 L432.6,1155.4 L427.6,1152.4 L422.7,1149.4 L417.7,1146.3 L412.8,1143.2 L408.0,1140.0 L403.2,1136.8 L398.4,1133.5 L393.6,1130.1 L388.9,1126.7 L384.3,1123.3 L379.6,1119.7 L375.1,1116.2 L370.5,1112.5 L366.0,1108.9 L361.5,1105.1 L357.1,1101.3 L352.7,1097.5 L348.4,1093.6 L344.1,1089.7 L339.9,1085.7 L335.7,1081.6 L331.5,1077.5 L327.4,1073.4 L323.4,1069.2 L319.3,1065.0 L315.4,1060.7 L311.5,1056.4 L307.6,1052.0 L303.8,1047.5 L300.0,1043.1 L296.3,1038.6 L292.7,1034.0 L289.1,1029.4 L285.5,1024.8 L282.0,1020.1 L278.6,1015.3 L275.2,1010.6 L271.8,1005.8 L268.6,1000.9 L265.3,996.0 L262.2,991.1 L259.0,986.1 L256.0,981.1 L253.0,976.1 L250.1,971.0 L247.2,965.9 L244.4,960.8 L241.6,955.6 L238.9,950.4 L236.2,945.1 L233.7,939.9 L231.1,934.6 L228.7,929.2 L226.3,923.9 L224.0,918.5 L221.7,913.0 L219.5,907.6 L217.3,902.1 L215.2,896.6 L213.2,891.1 L211.3,885.5 L209.4,879.9 L207.5,874.3 L205.8,868.7 L204.1,863.1 L202.4,857.4 L200.9,851.7 L199.4,846.0 L197.9,840.3 L196.6,834.6 L195.3,828.8 L194.0,823.0 L192.9,817.2 L191.8,811.4 L190.7,805.6 L189.8,799.8 L188.9,794.0 L188.0,788.1 L187.3,782.2 L186.6,776.4 L185.9,770.5 L185.4,764.6 L184.9,758.7 L184.5,752.8 L184.1,746.9 L183.8,740.9 L183.6,735.0 L183.5,729.1 L183.4,723.2 L183.4,717.2 L183.5,711.3 L183.6,705.4 L183.8,699.4 L184.1,693.5 L184.4,687.6 L184.8,681.7 L185.3,675.7 L185.8,669.8 L186.4,663.9 L187.1,658.0 L187.9,652.1 L188.7,646.2 L189.6,640.3 L190.5,634.5 L191.6,628.6 L192.6,622.7 L193.8,616.9 L195.0,611.1 L196.3,605.3 L197.7,599.5 L199.1,593.7 L200.6,587.9 L202.2,582.1 L203.9,576.4 L205.6,570.7 L207.3,565.0 L209.2,559.3 L211.1,553.7 L213.0,548.0 L215.1,542.4 L217.2,536.8 L219.3,531.2 L221.6,525.7 L223.9,520.2 L226.2,514.7 L228.7,509.2 L231.1,503.8 L233.7,498.3 L236.3,493.0 L239.0,487.6 L241.7,482.3 L244.6,477.0 L247.4,471.7 L250.4,466.5 L253.3,461.3 L256.4,456.1 L259.5,451.0 L262.7,445.9 L265.9,440.8 L269.2,435.8 L272.6,430.8 L276.0,425.9 L279.4,421.0 L283.0,416.1 L286.5,411.3 L290.2,406.5 L293.9,401.8 L297.6,397.1 L301.4,392.4 L305.3,387.8 L309.2,383.2 L313.2,378.7 L317.2,374.2 L321.3,369.8 L325.4,365.4 L329.6,361.0 L333.8,356.7 L338.1,352.5 L342.5,348.3 L346.8,344.2 L351.3,340.1 L355.8,336.0 L360.3,332.0 L364.9,328.1 L369.5,324.2 L374.2,320.4 L378.9,316.6 L383.6,312.9 L388.4,309.2 L393.3,305.6 L398.2,302.0 L403.1,298.5 L408.1,295.0 L413.1,291.6 L418.1,288.3 L423.2,285.0 L428.4,281.8 L433.5,278.7 L438.8,275.6 L444.0,272.5 L449.3,269.6 L454.6,266.6 L460.0,263.8 L465.3,261.0 L470.8,258.3 L476.2,255.6 L481.7,253.0 L487.2,250.4 L492.8,248.0 L498.4,245.5 L504.0,243.2 L509.6,240.9 L515.3,238.7 L520.9,236.5 L526.7,234.4 L532.4,232.4 L538.2,230.5 L544.0,228.6 L549.8,226.8 L555.6,225.0 L561.5,223.3 L567.3,221.7 L573.2,220.1 L579.1,218.7 L585.1,217.2 L591.0,215.9 L597.0,214.6 L603.0,213.4 L609.0,212.3 L615.0,211.2 L621.0,210.2 L627.1,209.3 L633.1,208.4 L639.2,207.6 L645.3,206.9 L651.3,206.3 L657.4,205.7 L663.5,205.2 L669.6,204.8 L675.7,204.4 L681.9,204.1 L688.0,203.9 L694.1,203.7 L700.2,203.7 L706.4,203.6 L712.5,203.7 L718.6,203.8 L724.8,204.0 L730.9,204.3 L737.0,204.7 L743.1,205.1 L749.3,205.6 L755.4,206.2 L761.5,206.8 L767.6,207.5 L773.7,208.3 L779.8,209.1 L785.8,210.0 L791.9,211.0 L798.0,212.1 L804.0,213.2 L810.1,214.4 L816.1,215.7 L822.1,217.0 L828.1,218.5 L834.1,219.9 L840.0,221.5 L846.0,223.1 L851.9,224.8 L857.8,226.6 L863.7,228.4 L869.6,230.3 L875.4,232.3 L881.2,234.3 L887.1,236.4 L892.8,238.6 L898.6,240.8 L904.3,243.1 L910.0,245.5 L915.7,247.9 L921.4,250.4 L927.0,253.0 L932.6,255.7 L938.1,258.4 L943.7,261.1 L949.2,264.0 L954.6,266.9 L960.1,269.8 L965.5,272.9 L970.9,276.0 L976.2,279.1 L981.5,282.3 L986.7,285.6 L992.0,288.9 L997.2,292.3 L1002.3,295.8 L1007.4,299.3 L1012.5,302.9 L1017.5,306.6 L1022.5,310.3 L1027.4,314.0 L1032.3,317.8 L1037.2,321.7 L1042.0,325.7 L1046.8,329.7 L1051.5,333.7 L1056.2,337.8 L1060.8,342.0 L1065.4,346.2 L1069.9,350.4 L1074.4,354.8 L1078.8,359.1 L1083.2,363.6 L1087.6,368.0 L1091.8,372.6 L1096.1,377.1 L1100.3,381.8 L1104.4,386.5 L1108.5,391.2 L1112.5,396.0 L1116.4,400.8 L1120.3,405.6 L1124.2,410.6 L1128.0,415.5 L1131.7,420.5 L1135.4,425.6 L1139.0,430.7 L1142.6,435.8 L1146.1,441.0 L1149.5,446.2 L1152.9,451.5 L1156.2,456.8 L1159.5,462.1 L1162.7,467.5 L1165.8,472.9 L1168.9,478.4 L1171.9,483.9 L1174.9,489.4 L1177.8,495.0 L1180.6,500.6 L1183.3,506.2 L1186.0,511.9 L1188.6,517.6 L1191.2,523.3 L1193.7,529.1 L1196.1,534.9 L1198.5,540.7 L1200.8,546.5 L1203.0,552.4 L1205.2,558.3 L1207.2,564.2 L1209.3,570.2 L1211.2,576.2 L1213.1,582.2 L1214.9,588.2 L1216.6,594.2 L1218.3,600.3 L1219.9,606.4 L1221.5,612.5 L1222.9,618.6 L1224.3,624.8 L1225.6,630.9 L1226.9,637.1 L1228.0,643.3 L1229.1,649.5 L1230.2,655.7 L1231.1,662.0 L1232.0,668.2 L1232.8,674.5 L1233.6,680.8 L1234.2,687.0 L1234.8,693.3 L1235.4,699.6 L1235.8,705.9 L1236.2,712.2 L1236.5,718.6 L1236.7,724.9 L1236.9,731.2 L1236.9,737.5 L1236.9,743.9 L1236.9,750.2 L1236.7,756.5 L1236.5,762.8 L1236.2,769.2 L1235.9,775.5 L1235.4,781.8 L1234.9,788.1 L1234.4,794.5 L1233.7,800.8 L1233.0,807.1 L1232.2,813.4 L1231.3,819.6 L1230.3,825.9 L1229.3,832.2 L1228.2,838.4 L1227.1,844.7 L1225.8,850.9 L1224.5,857.1 L1223.1,863.3 L1221.7,869.5 L1220.1,875.7 L1218.5,881.9 L1216.8,888.0 L1215.1,894.1 L1213.3,900.2 L1211.4,906.3 L1209.4,912.4 L1207.4,918.4 L1205.3,924.4 L1203.1,930.4 L1200.9,936.4 L1198.6,942.3 L1196.2,948.2 L1193.7,954.1 L1191.2,960.0 L1188.6,965.8 L1186.0,971.6 L1183.2,977.4 L1180.4,983.1 L1177.6,988.8 L1174.7,994.5 L1171.7,1000.2 L1168.6,1005.8 L1165.5,1011.4 L1162.3,1016.9 L1159.0,1022.4 L1155.7,1027.9 L1152.3,1033.3 L1148.9,1038.7 L1145.4,1044.0 L1141.8,1049.4 L1138.1,1054.6 L1134.4,1059.9 L1130.7,1065.1 L1126.9,1070.2 L1123.0,1075.3 L1119.0,1080.4 L1115.0,1085.4 L1111.0,1090.3 L1106.9,1095.3 L1102.7,1100.1 L1098.4,1105.0 L1094.2,1109.7 L1089.8,1114.5 L1085.4,1119.1 L1080.9,1123.8 L1076.4,1128.3 L1071.9,1132.9 L1067.2,1137.3 L1062.6,1141.8 L1057.8,1146.1 L1053.1,1150.4 L1048.2,1154.7 L1043.4,1158.9 L1038.4,1163.0 L1033.5,1167.1 L1028.4,1171.2 L1023.4,1175.1 L1018.2,1179.0 L1013.1,1182.9 L1007.9,1186.7 L1002.6,1190.4 L997.3,1194.1 L992.0,1197.7 L986.6,1201.3 L981.1,1204.8 L975.7,1208.2 L970.1,1211.6 L964.6,1214.9 L959.0,1218.1 L953.4,1221.3 L947.7,1224.4 L942.0,1227.4 L936.3,1230.4 L930.5,1233.3 L924.7,1236.2 L918.8,1238.9 L912.9,1241.6 L907.0,1244.3 L901.1,1246.8 L895.1,1249.4 L889.1,1251.8 L883.1,1254.2 L877.0,1256.4 L870.9,1258.7 L864.8,1260.8 L858.7,1262.9 L852.5,1264.9 L846.3,1266.9 L840.1,1268.7 L833.8,1270.5 L827.6,1272.2 L821.3,1273.9 L815.0,1275.5 L808.7,1277.0 L802.3,1278.4 L796.0,1279.8 L789.6,1281.1 L783.2,1282.3 L776.8,1283.4 L770.4,1284.5 L764.0,1285.5 L757.5,1286.4 L751.1,1287.2 L744.6,1288.0 L738.1,1288.7 L731.6,1289.3 L725.1,1289.8 L718.6,1290.3 L712.1,1290.7 L705.6,1291.0 L699.1,1291.2 L692.6,1291.4 L686.0,1291.5 L679.5,1291.5 L673.0,1291.4 L666.4,1291.2 L659.9,1291.0 L653.4,1290.7 L646.9,1290.4 L640.3,1289.9 L633.8,1289.4 L627.3,1288.8 L620.8,1288.1 L614.3,1287.4 L607.8,1286.5 L601.3,1285.6 L594.9,1284.6 L588.4,1283.6 L581.9,1282.5 L575.5,1281.3 L569.1,1280.0 L562.7,1278.6 L556.3,1277.2 L549.9,1275.7 L543.5,1274.1 L537.2,1272.4 L530.8,1270.7 L524.5,1268.9 L518.2,1267.0 L512.0,1265.1 L505.7,1263.1 L499.5,1261.0 L493.3,1258.8 L487.1,1256.6 L481.0,1254.2 L474.8,1251.9 L468.7,1249.4 L462.7,1246.9 L456.6,1244.3 L450.6,1241.6 L444.6,1238.9 L438.7,1236.1 L432.7,1233.2 L426.8,1230.2 L421.0,1227.2 L415.2,1224.1 L409.4,1221.0 L403.6,1217.7 L397.9,1214.5 L392.2,1211.1 L386.6,1207.7 L381.0,1204.2 L375.4,1200.6 L369.9,1197.0 L364.4,1193.3 L359.0,1189.6 L353.6,1185.8 L348.3,1181.9 L343.0,1177.9 L337.7,1173.9 L332.5,1169.9 L327.3,1165.7 L322.2,1161.6 L317.1,1157.3 L312.1,1153.0 L307.1,1148.6 L302.2,1144.2 L297.3,1139.7 L292.5,1135.2 L287.7,1130.6 L283.0,1125.9 L278.3,1121.2 L273.7,1116.5 L269.2,1111.6 L264.7,1106.8 L260.2,1101.8 L255.8,1096.9 L251.5,1091.8 L247.2,1086.8 L243.0,1081.6 L238.9,1076.4 L234.8,1071.2 L230.7,1065.9 L226.8,1060.6 L222.8,1055.2 L219.0,1049.8 L215.2,1044.3 L211.5,1038.8 L207.8,1033.3 L204.2,1027.7 L200.7,1022.0 L197.2,1016.4 L193.8,1010.6 L190.5,1004.9 L187.2,999.1 L184.0,993.2 L180.9,987.3 L177.8,981.4 L174.8,975.5 L171.9,969.5 L169.0,963.5 L166.2,957.4 L163.5,951.3 L160.8,945.2 L158.3,939.0 L155.8,932.8 L153.3,926.6 L151.0,920.4 L148.7,914.1 L146.4,907.8 L144.3,901.4 L142.2,895.1 L140.2,888.7 L138.3,882.3 L136.4,875.9 L134.7,869.4 L133.0,862.9 L131.3,856.4 L129.8,849.9 L128.3,843.4 L126.9,836.8 L125.6,830.3 L124.3,823.7 L123.2,817.1 L122.1,810.5 L121.1,803.8 L120.1,797.2 L119.2,790.5 L118.5,783.9 L117.8,777.2 L117.1,770.5 L116.6,763.8 L116.1,757.1 L115.7,750.4 L115.4,743.7 L115.1,737.0 L115.0,730.2 L114.9,723.5 L114.9,716.8 L114.9,710.1 L115.1,703.3 L115.3,696.6 L115.6,689.9 L116.0,683.2 L116.5,676.4 L117.0,669.7 L117.6,663.0 L118.3,656.3 L119.1,649.6 L120.0,642.9 L120.9,636.2 L121.9,629.6 L123.0,622.9 L124.1,616.3 L125.4,609.6 L126.7,603.0 L128.1,596.4 L129.6,589.8 L131.1,583.2 L132.8,576.7 L134.5,570.1 L136.2,563.6 L138.1,557.1 L140.0,550.6 L142.0,544.2 L144.1,537.7 L146.3,531.3 L148.5,524.9 L150.8,518.6 L153.2,512.2 L155.7,505.9 L158.2,499.6 L160.8,493.4 L163.5,487.1 L166.2,480.9 L169.1,474.8 L171.9,468.6 L174.9,462.5 L178.0,456.5 L181.1,450.4 L184.2,444.4 L187.5,438.5 L190.8,432.5 L194.2,426.7 L197.7,420.8 L201.2,415.0 L204.8,409.2 L208.5,403.5 L212.2,397.8 L216.0,392.2 L219.8,386.6 L223.8,381.0 L227.8,375.5 L231.8,370.0 L236.0,364.6 L240.1,359.3 L244.4,353.9 L248.7,348.7 L253.1,343.4 L257.5,338.3 L262.0,333.1 L266.6,328.1 L271.2,323.0 L275.9,318.1 L280.6,313.1 L285.4,308.3 L290.2,303.5 L295.2,298.7 L300.1,294.0 L305.1,289.4 L310.2,284.8 L315.3,280.3 L320.5,275.8 L325.7,271.4 L331.0,267.1 L336.4,262.8 L341.8,258.6 L347.2,254.4 L352.7,250.4 L358.2,246.3 L363.8,242.4 L369.4,238.5 L375.1,234.6 L380.8,230.8 L386.6,227.1 L392.4,223.5 L398.2,219.9 L404.1,216.4 L410.1,213.0 L416.1,209.6 L422.1,206.3 L428.1,203.1 L434.2,199.9 L440.4,196.8 L446.5,193.8 L452.7,190.9 L459.0,188.0 L465.3,185.2 L471.6,182.5 L477.9,179.8 L484.3,177.2 L490.7,174.7 L497.1,172.3 L503.6,169.9 L510.1,167.6 L516.6,165.4 L523.1,163.3 L529.7,161.2 L536.3,159.2 L542.9,157.3 L549.6,155.5 L556.2,153.8 L562.9,152.1 L569.6,150.5 L576.4,149.0 L583.1,147.5 L589.9,146.2 L596.7,144.9 L603.5,143.7 L610.3,142.5 L617.1,141.5 L623.9,140.5 L630.8,139.6 L637.7,138.8 L644.5,138.1 L651.4,137.4 L658.3,136.9 L665.2,136.4 L672.1,136.0 L679.0,135.6 L686.0,135.4 L692.9,135.2 L699.8,135.1 L706.7,135.1 L713.7,135.2 L720.6,135.3 L727.5,135.6 L734.4,135.9 L741.4,136.3 L748.3,136.8 L755.2,137.3 L762.1,138.0 L769.0,138.7 L775.9,139.5 L782.8,140.4 L789.7,141.3 L796.5,142.3 L803.4,143.5 L810.2,144.7 L817.1,145.9 L823.9,147.3 L830.7,148.7 L837.5,150.3 L844.2,151.9 L851.0,153.5 L857.7,155.3 L864.4,157.1 L871.1,159.0 L877.8,161.0 L884.5,163.1 L891.1,165.2 L897.7,167.5 L904.3,169.8 L910.8,172.1 L917.3,174.6 L923.8,177.1 L930.3,179.7 L936.8,182.4 L943.2,185.2 L949.5,188.0 L955.9,190.9 L962.2,193.9 L968.5,196.9 L974.7,200.1 L980.9,203.3 L987.1,206.5 L993.3,209.9 L999.4,213.3 L1005.4,216.8 L1011.4,220.3 L1017.4,224.0 L1023.3,227.7 L1029.2,231.4 L1035.1,235.3 L1040.9,239.2 L1046.7,243.2 L1052.4,247.2 L1058.1,251.3 L1063.7,255.5 L1069.3,259.7 L1074.8,264.1 L1080.3,268.4 L1085.7,272.9 L1091.1,277.4 L1096.4,281.9 L1101.7,286.6 L1106.9,291.3 L1112.1,296.0 L1117.2,300.8 L1122.3,305.7 L1127.3,310.6 L1132.2,315.6 L1137.1,320.7 L1141.9,325.8 L1146.7,330.9 L1151.4,336.2 L1156.1,341.4 L1160.6,346.8 L1165.2,352.2 L1169.6,357.6 L1174.0,363.1 L1178.4,368.6 L1182.7,374.2 L1186.9,379.9 L1191.0,385.6 L1195.1,391.3 L1199.1,397.1 L1203.1,402.9 L1207.0,408.8 L1210.8,414.8 L1214.5,420.7 L1218.2,426.8 L1221.8,432.8 L1225.3,438.9 L1228.8,445.1 L1232.2,451.3 L1235.5,457.5 L1238.8,463.8 L1242.0,470.1 L1245.1,476.4 L1248.1,482.8 L1251.0,489.3 L1253.9,495.7 L1256.7,502.2 L1259.5,508.7 L1262.1,515.3 L1264.7,521.9 L1267.2,528.5 L1269.7,535.1 L1272.0,541.8 L1274.3,548.5 L1276.5,555.3 L1278.6,562.0 L1280.6,568.8 L1282.6,575.6 L1284.5,582.5 L1286.3,589.3 L1288.0,596.2 L1289.7,603.1 L1291.2,610.0 L1292.7,617.0 L1294.1,623.9 L1295.4,630.9 L1296.7,637.9 L1297.8,644.9 L1298.9,652.0 L1299.9,659.0 L1300.8,666.0 L1301.7,673.1 L1302.4,680.2 L1303.1,687.3 L1303.7,694.3 L1304.2,701.4 L1304.6,708.6 L1304.9,715.7 L1305.2,722.8 L1305.4,729.9 L1305.5,737.0 L1305.5,744.1 L1305.4,751.3 L1305.2,758.4 L1305.0,765.5 L1304.7,772.7 L1304.3,779.8 L1303.8,786.9 L1303.2,794.0 L1302.6,801.1 L1301.8,808.2 L1301.0,815.3 L1300.1,822.4 L1299.1,829.5 L1298.0,836.5 L1296.9,843.6 L1295.7,850.6 L1294.3,857.6 L1292.9,864.7 L1291.5,871.7 L1289.9,878.6 L1288.3,885.6 L1286.5,892.6 L1284.7,899.5 L1282.9,906.4 L1280.9,913.3 L1278.8,920.1 L1276.7,927.0 L1274.5,933.8 L1272.2,940.6 L1269.9,947.4 L1267.4,954.1 L1264.9,960.8 L1262.3,967.5 L1259.6,974.1 L1256.9,980.8 L1254.0,987.4 L1251.1,993.9 L1248.1,1000.5 L1245.1,1006.9 L1241.9,1013.4 L1238.7,1019.8 L1235.4,1026.2 L1232.0,1032.6 L1228.6,1038.9 L1225.1,1045.2 L1221.5,1051.4 L1217.8,1057.6 L1214.1,1063.7 L1210.3,1069.8 L1206.4,1075.9 L1202.5,1081.9 L1198.5,1087.9 L1194.4,1093.8 L1190.2,1099.7 L1186.0,1105.5 L1181.7,1111.3 L1177.3,1117.1 L1172.9,1122.8 L1168.4,1128.4 L1163.8,1134.0 L1159.2,1139.5 L1154.5,1145.0 L1149.7,1150.4 L1144.9,1155.8 L1140.0,1161.1 L1135.1,1166.4 L1130.1,1171.6 L1125.0,1176.7 L1119.9,1181.8 L1114.7,1186.8 L1109.4,1191.8 L1104.1,1196.7 L1098.7,1201.5 L1093.3,1206.3 L1087.8,1211.0 L1082.3,1215.7 L1076.7,1220.3 L1071.1,1224.8 L1065.4,1229.3 L1059.6,1233.7 L1053.8,1238.0 L1047.9,1242.3 L1042.0,1246.5 L1036.1,1250.6 L1030.1,1254.7 L1024.0,1258.7 L1017.9,1262.6 L1011.8,1266.4 L1005.6,1270.2 L999.3,1273.9 L993.1,1277.6 L986.7,1281.1 L980.4,1284.6 L974.0,1288.0 L967.5,1291.4 L961.0,1294.7 L954.5,1297.8 L947.9,1301.0 L941.3,1304.0 L934.7,1307.0 L928.0,1309.9 L921.3,1312.7 L914.6,1315.4 L907.8,1318.1 L901.0,1320.6 L894.1,1323.1 L887.3,1325.6 L880.4,1327.9 L873.5,1330.2 L866.5,1332.3 L859.5,1334.4 L852.5,1336.5 L845.5,1338.4 L838.4,1340.3 L831.4,1342.0 L824.3,1343.7 L817.1,1345.3 L810.0,1346.9 L802.9,1348.3 L795.7,1349.7 L788.5,1350.9 L781.3,1352.1 L774.1,1353.2 L766.8,1354.3 L759.6,1355.2 L752.3,1356.1 L745.1,1356.8 L737.8,1357.5 L730.5,1358.1 L723.2,1358.7 L715.9,1359.1 L708.6,1359.4 L701.3,1359.7 L693.9,1359.9 L686.6,1360.0 L679.3,1360.0 L672.0,1359.9 L664.6,1359.7 L657.3,1359.5 L650.0,1359.2 L642.7,1358.8 L635.4,1358.3 L628.0,1357.7 L620.7,1357.0 L613.4,1356.2 L606.1,1355.4 L598.9,1354.5 L591.6,1353.5 L584.3,1352.4 L577.1,1351.2 L569.8,1349.9 L562.6,1348.6 L555.4,1347.1 L548.2,1345.6 L541.0,1344.0 L533.9,1342.3 L526.7,1340.5 L519.6,1338.7 L512.5,1336.8 L505.4,1334.7 L498.4,1332.6 L491.4,1330.4 L484.4,1328.2 L477.4,1325.8 L470.4,1323.4 L463.5,1320.9 L456.6,1318.3 L449.7,1315.6 L442.9,1312.9 L436.1,1310.0 L429.3,1307.1 L422.5,1304.1 L415.8,1301.1 L409.2,1297.9 L402.5,1294.7 L395.9,1291.4 L389.4,1288.0 L382.8,1284.5 L376.3,1281.0 L369.9,1277.4 L363.5,1273.7 L357.1,1269.9 L350.8,1266.1 L344.5,1262.2 L338.3,1258.2 L332.1,1254.2 L326.0,1250.0 L319.9,1245.8 L313.8,1241.6 L307.8,1237.2 L301.9,1232.8 L296.0,1228.3 L290.1,1223.8 L284.4,1219.1 L278.6,1214.4 L272.9,1209.7 L267.3,1204.9 L261.7,1200.0 L256.2,1195.0 L250.7,1190.0 L245.3,1184.9 L240.0,1179.8 L234.7,1174.6 L229.5,1169.3 L224.3,1163.9 L219.2,1158.5 L214.2,1153.1 L209.2,1147.6 L204.3,1142.0 L199.4,1136.4 L194.6,1130.7 L189.9,1124.9 L185.3,1119.1 L180.7,1113.3 L176.1,1107.4 L171.7,1101.4 L167.3,1095.4 L163.0,1089.3 L158.8,1083.2 L154.6,1077.0 L150.5,1070.8 L146.4,1064.5 L142.5,1058.2 L138.6,1051.9 L134.8,1045.5 L131.1,1039.0 L127.4,1032.5 L123.8,1026.0 L120.3,1019.4 L116.9,1012.8 L113.5,1006.1 L110.2,999.4 L107.0,992.6 L103.9,985.9 L100.8,979.0 L97.9,972.2 L95.0,965.3 L92.2,958.4 L89.4,951.4 L86.8,944.4 L84.2,937.4 L81.7,930.3 L79.3,923.2 L77.0,916.1 L74.8,909.0 L72.6,901.8 L70.5,894.6 L68.5,887.4 L66.6,880.1 L64.8,872.9 L63.1,865.6 L61.4,858.3 L59.8,850.9 L58.4,843.6 L57.0,836.2 L55.7,828.8 L54.4,821.4 L53.3,814.0 L52.2,806.6 L51.3,799.1 L50.4,791.7 L49.6,784.2 L48.9,776.7 L48.3,769.3 L47.7,761.8 L47.3,754.3 L46.9,746.7 L46.6,739.2 L46.5,731.7 L46.4,724.2 L46.3,716.7 L46.4,709.1 L46.6,701.6 L46.8,694.1 L47.2,686.6 L47.6,679.1 L48.1,671.5 L48.7,664.0 L49.4,656.5 L50.2,649.0 L51.1,641.5 L52.0,634.1 L53.0,626.6 L54.2,619.1 L55.4,611.7 L56.7,604.2 L58.1,596.8 L59.5,589.4 L61.1,582.0 L62.7,574.7 L64.5,567.3 L66.3,560.0 L68.2,552.7 L70.2,545.4 L72.3,538.1 L74.4,530.9 L76.7,523.6 L79.0,516.4 L81.4,509.3 L83.9,502.1 L86.5,495.0 L89.1,487.9 L91.9,480.9 L94.7,473.8 L97.6,466.8 L100.6,459.9 L103.7,453.0 L106.8,446.1 L110.1,439.2 L113.4,432.4 L116.8,425.6 L120.2,418.9 L123.8,412.2 L127.4,405.5 L131.1,398.9 L134.9,392.3 L138.8,385.8 L142.7,379.3 L146.7,372.8 L150.8,366.4 L155.0,360.1 L159.2,353.8 L163.5,347.5 L167.9,341.3 L172.4,335.1 L176.9,329.0 L181.5,323.0 L186.2,317.0 L190.9,311.0 L195.8,305.1 L200.6,299.3 L205.6,293.5 L210.6,287.8 L215.7,282.1 L220.9,276.5 L226.1,271.0 L231.4,265.5 L236.7,260.0 L242.1,254.7 L247.6,249.4 L253.2,244.1 L258.8,239.0 L264.4,233.8 L270.1,228.8 L275.9,223.8 L281.8,218.9 L287.7,214.0 L293.6,209.3 L299.6,204.6 L305.7,199.9 L311.8,195.3 L318.0,190.8 L324.2,186.4 L330.5,182.0 L336.8,177.8 L343.2,173.5 L349.7,169.4 L356.1,165.3 L362.7,161.4 L369.3,157.4 L375.9,153.6 L382.6,149.8 L389.3,146.2 L396.0,142.5 L402.8,139.0 L409.7,135.6 L416.6,132.2 L423.5,128.9 L430.4,125.7 L437.4,122.6 L444.5,119.5 L451.6,116.5 L458.7,113.7 L465.8,110.9 L473.0,108.1 L480.2,105.5 L487.5,102.9 L494.7,100.5 L502.0,98.1 L509.4,95.8 L516.7,93.6 L524.1,91.4 L531.5,89.4 L539.0,87.4 L546.4,85.6 L553.9,83.8 L561.4,82.1 L568.9,80.5 L576.5,78.9 L584.0,77.5"/>
<path d="M494.1,458.0 L497.2,455.6 L500.3,453.3 L503.5,450.9 L506.7,448.7 L509.9,446.4 L513.2,444.2 L516.4,442.0 L519.7,439.9 L523.1,437.8 L526.4,435.7 L529.8,433.7 L533.2,431.7 L536.6,429.7 L540.1,427.8 L543.6,425.9 L547.1,424.1 L550.6,422.3 L554.1,420.6 L557.7,418.8 L561.3,417.2 L564.9,415.5 L568.5,414.0 L572.1,412.4 L575.8,410.9 L579.5,409.4 L583.2,408.0 L586.9,406.6 L590.6,405.3 L594.4,404.0 L598.2,402.8 L601.9,401.6 L605.7,400.4 L609.5,399.3 L613.4,398.2 L617.2,397.2 L621.1,396.2 L624.9,395.3 L628.8,394.4 L632.7,393.5 L636.6,392.7 L640.5,392.0 L644.4,391.3 L648.4,390.6 L652.3,390.0 L656.3,389.4 L660.2,388.9 L664.2,388.4 L668.2,387.9 L672.1,387.5 L676.1,387.2 L680.1,386.9 L684.1,386.6 L688.1,386.4 L692.1,386.3 L696.1,386.2 L700.1,386.1 L704.1,386.1 L708.1,386.1 L712.1,386.2 L716.1,386.3 L720.2,386.4 L724.2,386.7 L728.2,386.9 L732.2,387.2 L736.2,387.6 L740.2,388.0 L744.2,388.4 L748.2,388.9 L752.2,389.5 L756.2,390.0 L760.1,390.7 L764.1,391.4 L768.1,392.1 L772.0,392.9 L776.0,393.7 L779.9,394.5 L783.9,395.4 L787.8,396.4 L791.7,397.4 L795.6,398.5 L799.5,399.5 L803.4,400.7 L807.3,401.9 L811.1,403.1 L815.0,404.4 L818.8,405.7 L822.6,407.1 L826.4,408.5 L830.2,409.9 L834.0,411.4 L837.7,413.0 L841.4,414.6 L845.2,416.2 L848.9,417.9 L852.5,419.6 L856.2,421.4 L859.9,423.2 L863.5,425.0 L867.1,426.9 L870.7,428.9 L874.2,430.8 L877.8,432.9 L881.3,434.9 L884.8,437.0 L888.2,439.2 L891.7,441.3 L895.1,443.6 L898.5,445.8 L901.9,448.1 L905.2,450.5 L908.5,452.9 L911.8,455.3 L915.1,457.8 L918.3,460.3 L921.6,462.8 L924.7,465.4 L927.9,468.0 L931.0,470.7 L934.1,473.4 L937.2,476.1 L940.2,478.9 L943.2,481.7 L946.2,484.5 L949.1,487.4 L952.0,490.3 L954.9,493.2 L957.7,496.2 L960.5,499.2 L963.3,502.3 L966.0,505.3 L968.7,508.4 L971.4,511.6 L974.0,514.8 L976.6,518.0 L979.1,521.2 L981.7,524.5 L984.1,527.8 L986.6,531.1 L989.0,534.5 L991.3,537.8 L993.7,541.3 L996.0,544.7 L998.2,548.2 L1000.4,551.7 L1002.6,555.2 L1004.7,558.7 L1006.8,562.3 L1008.8,565.9 L1010.9,569.6 L1012.8,573.2 L1014.7,576.9 L1016.6,580.6 L1018.5,584.3 L1020.2,588.0 L1022.0,591.8 L1023.7,595.6 L1025.4,599.4 L1027.0,603.2 L1028.6,607.1 L1030.1,611.0 L1031.6,614.8 L1033.0,618.7 L1034.4,622.7 L1035.8,626.6 L1037.1,630.6 L1038.3,634.5 L1039.6,638.5 L1040.7,642.5 L1041.8,646.6 L1042.9,650.6 L1043.9,654.6 L1044.9,658.7 L1045.9,662.8 L1046.8,666.9 L1047.6,671.0 L1048.4,675.1 L1049.1,679.2 L1049.8,683.3 L1050.5,687.5 L1051.1,691.6 L1051.6,695.8 L1052.1,699.9 L1052.6,704.1 L1053.0,708.3 L1053.4,712.4 L1053.7,716.6 L1053.9,720.8 L1054.2,725.0 L1054.3,729.2 L1054.4,733.4 L1054.5,737.6 L1054.5,741.8 L1054.5,746.0 L1054.4,750.3 L1054.3,754.5 L1054.1,758.7 L1053.9,762.9 L1053.6,767.1 L1053.3,771.3 L1052.9,775.5 L1052.5,779.7 L1052.0,783.9 L1051.5,788.1 L1050.9,792.3 L1050.3,796.5 L1049.6,800.6 L1048.9,804.8 L1048.1,809.0 L1047.3,813.1 L1046.5,817.3 L1045.6,821.4 L1044.6,825.5 L1043.6,829.6 L1042.5,833.8 L1041.4,837.8 L1040.3,841.9 L1039.1,846.0 L1037.8,850.1 L1036.5,854.1 L1035.2,858.1 L1033.8,862.2 L1032.4,866.2 L1030.9,870.1 L1029.4,874.1 L1027.8,878.1 L1026.1,882.0 L1024.5,885.9 L1022.8,889.8 L1021.0,893.7 L1019.2,897.6 L1017.3,901.4 L1015.4,905.2 L1013.5,909.0 L1011.5,912.8 L1009.5,916.6 L1007.4,920.3 L1005.3,924.0 L1003.1,927.7 L1000.9,931.3 L998.6,935.0 L996.3,938.6 L994.0,942.2 L991.6,945.7 L989.2,949.3 L986.7,952.8 L984.2,956.3 L981.7,959.7 L979.1,963.1 L976.5,966.5 L973.8,969.9 L971.1,973.2 L968.3,976.5 L965.6,979.8 L962.7,983.0 L959.9,986.2 L957.0,989.4 L954.0,992.6 L951.0,995.7 L948.0,998.7 L945.0,1001.8 L941.9,1004.8 L938.8,1007.8 L935.6,1010.7 L932.4,1013.6 L929.2,1016.5 L925.9,1019.3 L922.6,1022.1 L919.3,1024.8 L915.9,1027.5 L912.5,1030.2 L909.1,1032.9 L905.6,1035.4 L902.2,1038.0 L898.6,1040.5 L895.1,1043.0 L891.5,1045.4 L887.9,1047.8 L884.2,1050.2 L880.6,1052.5 L876.9,1054.8 L873.2,1057.0 L869.4,1059.2 L865.6,1061.3 L861.8,1063.4 L858.0,1065.5 L854.1,1067.5 L850.3,1069.4 L846.4,1071.4 L842.4,1073.2 L838.5,1075.1 L834.5,1076.9 L830.5,1078.6 L826.5,1080.3 L822.5,1081.9 L818.4,1083.5 L814.4,1085.1 L810.3,1086.6 L806.1,1088.1 L802.0,1089.5 L797.9,1090.8 L793.7,1092.2 L789.5,1093.4 L785.3,1094.7 L781.1,1095.8 L776.9,1097.0 L772.6,1098.0 L768.4,1099.1 L764.1,1100.0 L759.8,1101.0 L755.5,1101.8 L751.2,1102.7 L746.9,1103.4 L742.6,1104.2 L738.3,1104.8 L733.9,1105.5 L729.6,1106.0 L725.2,1106.6 L720.8,1107.0 L716.5,1107.5 L712.1,1107.8 L707.7,1108.2 L703.3,1108.4 L698.9,1108.7 L694.5,1108.8 L690.1,1108.9 L685.7,1109.0 L681.3,1109.0 L676.9,1109.0 L672.5,1108.9 L668.1,1108.8 L663.7,1108.6 L659.3,1108.3 L654.8,1108.0 L650.4,1107.7 L646.0,1107.3 L641.6,1106.9 L637.3,1106.4 L632.9,1105.8 L628.5,1105.2 L624.1,1104.6 L619.7,1103.9 L615.4,1103.1 L611.0,1102.3 L606.7,1101.4 L602.3,1100.5 L598.0,1099.6 L593.7,1098.6 L589.4,1097.5 L585.1,1096.4 L580.8,1095.2 L576.5,1094.0 L572.2,1092.8 L568.0,1091.5 L563.8,1090.1 L559.5,1088.7 L555.3,1087.2 L551.1,1085.7 L547.0,1084.2 L542.8,1082.6 L538.7,1080.9 L534.6,1079.2 L530.5,1077.5 L526.4,1075.7 L522.3,1073.8 L518.3,1071.9 L514.3,1070.0 L510.3,1068.0 L506.3,1065.9 L502.3,1063.9 L498.4,1061.7 L494.5,1059.5 L490.6,1057.3 L486.8,1055.1 L482.9,1052.7 L479.1,1050.4 L475.4,1048.0 L471.6,1045.5 L467.9,1043.0 L464.2,1040.5 L460.5,1037.9 L456.9,1035.3 L453.3,1032.6 L449.7,1029.9 L446.1,1027.2 L442.6,1024.4 L439.1,1021.5 L435.7,1018.6 L432.3,1015.7 L428.9,1012.8 L425.5,1009.8 L422.2,1006.7 L418.9,1003.6 L415.7,1000.5 L412.4,997.4 L409.3,994.2 L406.1,990.9 L403.0,987.7 L400.0,984.4 L396.9,981.0 L393.9,977.6 L391.0,974.2 L388.1,970.8 L385.2,967.3 L382.4,963.8 L379.6,960.2 L376.8,956.6 L374.1,953.0 L371.4,949.4 L368.8,945.7 L366.2,941.9 L363.7,938.2 L361.1,934.4 L358.7,930.6 L356.3,926.8 L353.9,922.9 L351.6,919.0 L349.3,915.1 L347.1,911.1 L344.9,907.2 L342.7,903.1 L340.6,899.1 L338.6,895.1 L336.6,891.0 L334.6,886.9 L332.7,882.7 L330.8,878.6 L329.0,874.4 L327.2,870.2 L325.5,866.0 L323.8,861.8 L322.2,857.5 L320.6,853.2 L319.1,848.9 L317.7,844.6 L316.2,840.2 L314.9,835.9 L313.5,831.5 L312.3,827.1 L311.0,822.7 L309.9,818.3 L308.7,813.9 L307.7,809.4 L306.7,805.0 L305.7,800.5 L304.8,796.0 L303.9,791.5 L303.1,787.0 L302.3,782.5 L301.6,777.9 L301.0,773.4 L300.4,768.8 L299.8,764.3 L299.4,759.7 L298.9,755.1 L298.5,750.6 L298.2,746.0 L297.9,741.4 L297.7,736.8 L297.5,732.2 L297.4,727.6 L297.3,723.0 L297.3,718.4 L297.3,713.8 L297.4,709.2 L297.6,704.5 L297.8,699.9 L298.0,695.3 L298.4,690.7 L298.7,686.1 L299.1,681.5 L299.6,676.9 L300.1,672.3 L300.7,667.8 L301.3,663.2 L302.0,658.6 L302.8,654.0 L303.5,649.5 L304.4,644.9 L305.3,640.4 L306.2,635.8 L307.2,631.3 L308.3,626.8 L309.4,622.3 L310.6,617.8 L311.8,613.3 L313.0,608.9 L314.4,604.4 L315.7,600.0 L317.2,595.6 L318.6,591.2 L320.2,586.8 L321.7,582.4 L323.4,578.0 L325.0,573.7 L326.8,569.4 L328.6,565.1 L330.4,560.8 L332.3,556.5 L334.2,552.3 L336.2,548.1 L338.2,543.9 L340.3,539.7 L342.4,535.5 L344.6,531.4 L346.8,527.3 L349.1,523.2 L351.5,519.2 L353.8,515.2 L356.2,511.2 L358.7,507.2 L361.2,503.2 L363.8,499.3 L366.4,495.4 L369.0,491.6 L371.7,487.7 L374.5,483.9 L377.3,480.2 L380.1,476.4 L383.0,472.7 L385.9,469.1 L388.9,465.4 L391.9,461.8 L394.9,458.3 L398.0,454.7 L401.2,451.2 L404.3,447.8 L407.6,444.3 L410.8,440.9 L414.1,437.6 L417.5,434.3 L420.8,431.0 L424.2,427.7 L427.7,424.5 L431.2,421.4 L434.7,418.3 L438.3,415.2 L441.9,412.1 L445.5,409.1 L449.2,406.2 L452.9,403.3 L456.7,400.4 L460.5,397.6 L464.3,394.8 L468.1,392.0 L472.0,389.3 L475.9,386.7 L479.9,384.1 L483.8,381.5 L487.9,379.0 L491.9,376.5 L496.0,374.1 L500.1,371.7 L504.2,369.4 L508.3,367.1 L512.5,364.8 L516.7,362.7 L521.0,360.5 L525.2,358.4 L529.5,356.4 L533.8,354.4 L538.2,352.4 L542.5,350.5 L546.9,348.7 L551.3,346.9 L555.7,345.2 L560.2,343.5 L564.7,341.8 L569.2,340.2 L573.7,338.7 L578.2,337.2 L582.7,335.8 L587.3,334.4 L591.9,333.1 L596.5,331.8 L601.1,330.6 L605.7,329.4 L610.4,328.3 L615.0,327.3 L619.7,326.3 L624.4,325.3 L629.1,324.4 L633.8,323.6 L638.5,322.8 L643.2,322.0 L648.0,321.4 L652.7,320.7 L657.5,320.2 L662.2,319.7 L667.0,319.2 L671.8,318.8 L676.6,318.5 L681.4,318.2 L686.2,317.9 L691.0,317.8 L695.8,317.6 L700.6,317.6 L705.4,317.6 L710.2,317.6 L715.0,317.7 L719.8,317.9 L724.6,318.1 L729.4,318.3 L734.2,318.7 L739.0,319.0 L743.8,319.5 L748.6,320.0 L753.4,320.5 L758.2,321.1 L762.9,321.8 L767.7,322.5 L772.5,323.3 L777.2,324.1 L782.0,325.0 L786.7,325.9 L791.5,326.9 L796.2,328.0 L800.9,329.1 L805.6,330.2 L810.3,331.4 L814.9,332.7 L819.6,334.0 L824.2,335.4 L828.8,336.8 L833.5,338.3 L838.1,339.9 L842.6,341.5 L847.2,343.1 L851.7,344.8 L856.3,346.6 L860.8,348.4 L865.3,350.2 L869.7,352.2 L874.2,354.1 L878.6,356.1 L883.0,358.2 L887.4,360.3 L891.7,362.5 L896.0,364.7 L900.3,367.0 L904.6,369.3 L908.9,371.7 L913.1,374.1 L917.3,376.6 L921.5,379.1 L925.6,381.7 L929.7,384.3 L933.8,387.0 L937.8,389.7 L941.9,392.5 L945.8,395.3 L949.8,398.2 L953.7,401.1 L957.6,404.0 L961.5,407.0 L965.3,410.1 L969.1,413.2 L972.9,416.3 L976.6,419.5 L980.3,422.7 L983.9,426.0 L987.5,429.3 L991.1,432.7 L994.6,436.1 L998.1,439.5 L1001.6,443.0 L1005.0,446.5 L1008.4,450.1 L1011.7,453.7 L1015.0,457.3 L1018.2,461.0 L1021.5,464.7 L1024.6,468.5 L1027.7,472.3 L1030.8,476.1 L1033.9,480.0 L1036.9,483.9 L1039.8,487.8 L1042.7,491.8 L1045.6,495.8 L1048.4,499.9 L1051.1,504.0 L1053.9,508.1 L1056.5,512.2 L1059.2,516.4 L1061.7,520.6 L1064.3,524.8 L1066.7,529.1 L1069.2,533.4 L1071.5,537.7 L1073.9,542.1 L1076.1,546.5 L1078.4,550.9 L1080.6,555.3 L1082.7,559.8 L1084.8,564.3 L1086.8,568.8 L1088.8,573.4 L1090.7,577.9 L1092.5,582.5 L1094.3,587.1 L1096.1,591.8 L1097.8,596.4 L1099.5,601.1 L1101.1,605.8 L1102.6,610.5 L1104.1,615.3 L1105.5,620.0 L1106.9,624.8 L1108.2,629.6 L1109.5,634.4 L1110.7,639.2 L1111.9,644.1 L1113.0,648.9 L1114.0,653.8 L1115.0,658.7 L1115.9,663.6 L1116.8,668.5 L1117.6,673.4 L1118.4,678.3 L1119.1,683.2 L1119.7,688.2 L1120.3,693.1 L1120.9,698.1 L1121.3,703.1 L1121.7,708.1 L1122.1,713.0 L1122.4,718.0 L1122.6,723.0 L1122.8,728.0 L1123.0,733.0 L1123.0,738.0 L1123.0,743.0 L1123.0,748.0 L1122.9,753.0 L1122.7,758.0 L1122.5,763.0 L1122.2,768.0 L1121.9,773.0 L1121.5,778.0 L1121.0,783.0 L1120.5,788.0 L1119.9,793.0 L1119.3,798.0 L1118.6,803.0 L1117.9,807.9 L1117.0,812.9 L1116.2,817.9 L1115.3,822.8 L1114.3,827.7 L1113.2,832.7 L1112.1,837.6 L1111.0,842.5 L1109.8,847.4 L1108.5,852.2 L1107.2,857.1 L1105.8,861.9 L1104.4,866.8 L1102.9,871.6 L1101.3,876.4 L1099.7,881.2 L1098.1,885.9 L1096.3,890.7 L1094.6,895.4 L1092.7,900.1 L1090.9,904.8 L1088.9,909.5 L1086.9,914.1 L1084.9,918.7 L1082.8,923.3 L1080.6,927.9 L1078.4,932.5 L1076.1,937.0 L1073.8,941.5 L1071.5,946.0 L1069.0,950.4 L1066.6,954.9 L1064.0,959.3 L1061.4,963.6 L1058.8,968.0 L1056.1,972.3 L1053.4,976.5 L1050.6,980.8 L1047.8,985.0 L1044.9,989.2 L1042.0,993.3 L1039.0,997.5 L1036.0,1001.5 L1032.9,1005.6 L1029.8,1009.6 L1026.6,1013.6 L1023.4,1017.5 L1020.1,1021.4 L1016.8,1025.3 L1013.4,1029.1 L1010.0,1032.9 L1006.6,1036.7 L1003.1,1040.4 L999.5,1044.1 L996.0,1047.7 L992.3,1051.3 L988.7,1054.9 L985.0,1058.4 L981.2,1061.8 L977.4,1065.3 L973.6,1068.7 L969.7,1072.0 L965.8,1075.3 L961.8,1078.5 L957.9,1081.7 L953.8,1084.9 L949.8,1088.0 L945.7,1091.1 L941.5,1094.1 L937.3,1097.1 L933.1,1100.0 L928.9,1102.9 L924.6,1105.7 L920.3,1108.5 L915.9,1111.2 L911.6,1113.9 L907.1,1116.5 L902.7,1119.1 L898.2,1121.6 L893.7,1124.1 L889.2,1126.5 L884.6,1128.9 L880.0,1131.2 L875.4,1133.4 L870.7,1135.7 L866.1,1137.8 L861.4,1139.9 L856.6,1142.0 L851.9,1144.0 L847.1,1145.9 L842.3,1147.8 L837.5,1149.6 L832.6,1151.4 L827.8,1153.1 L822.9,1154.7 L818.0,1156.4 L813.1,1157.9 L808.1,1159.4 L803.1,1160.8 L798.2,1162.2 L793.2,1163.5 L788.1,1164.8 L783.1,1166.0 L778.1,1167.1 L773.0,1168.2 L767.9,1169.2 L762.8,1170.2 L757.7,1171.1 L752.6,1171.9 L747.5,1172.7 L742.4,1173.5 L737.2,1174.1 L732.1,1174.7 L726.9,1175.3 L721.7,1175.8 L716.6,1176.2 L711.4,1176.6 L706.2,1176.9 L701.0,1177.1 L695.8,1177.3 L690.6,1177.5 L685.4,1177.5 L680.2,1177.5 L675.0,1177.5 L669.8,1177.4 L664.6,1177.2 L659.4,1177.0 L654.2,1176.7 L649.0,1176.3 L643.8,1175.9 L638.6,1175.4 L633.4,1174.9 L628.2,1174.3 L623.0,1173.6 L617.9,1172.9 L612.7,1172.1 L607.5,1171.3 L602.4,1170.4 L597.3,1169.4 L592.1,1168.4 L587.0,1167.3 L581.9,1166.2 L576.8,1165.0 L571.7,1163.7 L566.7,1162.4 L561.6,1161.0 L556.6,1159.6 L551.6,1158.1 L546.5,1156.5 L541.6,1154.9 L536.6,1153.3 L531.6,1151.5 L526.7,1149.7 L521.8,1147.9 L516.9,1146.0 L512.0,1144.0 L507.2,1142.0 L502.3,1139.9 L497.5,1137.8 L492.8,1135.6 L488.0,1133.4 L483.3,1131.1 L478.6,1128.7 L473.9,1126.3 L469.2,1123.8 L464.6,1121.3 L460.0,1118.8 L455.4,1116.1 L450.9,1113.4 L446.4,1110.7 L441.9,1107.9 L437.5,1105.1 L433.1,1102.2 L428.7,1099.2 L424.3,1096.2 L420.0,1093.2 L415.7,1090.1 L411.5,1086.9 L407.3,1083.7 L403.1,1080.5 L399.0,1077.2 L394.9,1073.8 L390.8,1070.4 L386.8,1067.0 L382.8,1063.5 L378.9,1060.0 L375.0,1056.4 L371.1,1052.8 L367.3,1049.1 L363.5,1045.4 L359.8,1041.6 L356.1,1037.8 L352.5,1033.9 L348.9,1030.0 L345.3,1026.1 L341.8,1022.1 L338.3,1018.1 L334.9,1014.0 L331.5,1009.9 L328.2,1005.7 L324.9,1001.6 L321.7,997.3 L318.5,993.1 L315.4,988.8 L312.3,984.4 L309.2,980.1 L306.3,975.6 L303.3,971.2 L300.4,966.7 L297.6,962.2 L294.8,957.6 L292.1,953.1 L289.4,948.4 L286.8,943.8 L284.2,939.1 L281.7,934.4 L279.3,929.6 L276.9,924.9 L274.5,920.1 L272.2,915.2 L270.0,910.4 L267.8,905.5 L265.7,900.6 L263.6,895.7 L261.6,890.7 L259.6,885.7 L257.8,880.7 L255.9,875.7 L254.1,870.6 L252.4,865.5 L250.7,860.4 L249.1,855.3 L247.6,850.2 L246.1,845.0 L244.7,839.8 L243.3,834.7 L242.0,829.4 L240.8,824.2 L239.6,819.0 L238.5,813.7 L237.4,808.4 L236.4,803.2 L235.5,797.9 L234.6,792.5 L233.8,787.2 L233.0,781.9 L232.3,776.6 L231.7,771.2 L231.1,765.8 L230.6,760.5 L230.2,755.1 L229.8,749.7 L229.5,744.3 L229.2,738.9 L229.0,733.6 L228.9,728.2 L228.8,722.8 L228.8,717.4 L228.8,711.9 L229.0,706.5 L229.1,701.1 L229.4,695.7 L229.7,690.3 L230.1,684.9 L230.5,679.5 L231.0,674.1 L231.6,668.8 L232.2,663.4 L232.9,658.0 L233.6,652.6 L234.4,647.3 L235.3,641.9 L236.2,636.6 L237.2,631.2 L238.3,625.9 L239.4,620.6 L240.6,615.3 L241.9,610.0 L243.2,604.8 L244.5,599.5 L246.0,594.2 L247.5,589.0 L249.0,583.8 L250.6,578.6 L252.3,573.4 L254.0,568.3 L255.8,563.1 L257.7,558.0 L259.6,552.9 L261.6,547.8 L263.6,542.8 L265.7,537.7 L267.9,532.7 L270.1,527.7 L272.4,522.8 L274.7,517.8 L277.1,512.9 L279.5,508.1 L282.0,503.2 L284.6,498.4 L287.2,493.6 L289.9,488.8 L292.6,484.1 L295.4,479.4 L298.2,474.7 L301.1,470.0 L304.1,465.4 L307.1,460.8 L310.1,456.3 L313.3,451.8 L316.4,447.3 L319.6,442.9 L322.9,438.5 L326.2,434.1 L329.6,429.8 L333.0,425.5 L336.5,421.2 L340.0,417.0 L343.6,412.9 L347.2,408.7 L350.9,404.6 L354.6,400.6 L358.4,396.6 L362.2,392.6 L366.1,388.7 L370.0,384.8 L373.9,381.0 L377.9,377.2 L382.0,373.5 L386.1,369.8 L390.2,366.2 L394.4,362.6 L398.6,359.0 L402.9,355.5 L407.2,352.1 L411.5,348.7 L415.9,345.3 L420.3,342.0 L424.8,338.8 L429.3,335.6 L433.8,332.4 L438.4,329.3 L443.0,326.3 L447.7,323.3 L452.4,320.4 L457.1,317.5 L461.9,314.6 L466.6,311.9 L471.5,309.2 L476.3,306.5 L481.2,303.9 L486.1,301.3 L491.1,298.8 L496.1,296.4 L501.1,294.0 L506.1,291.7 L511.2,289.5 L516.3,287.3 L521.4,285.1 L526.5,283.0 L531.7,281.0 L536.9,279.0 L542.1,277.1 L547.4,275.3 L552.6,273.5 L557.9,271.8 L563.2,270.1 L568.6,268.5 L573.9,267.0 L579.3,265.5 L584.7,264.1 L590.1,262.7 L595.5,261.4 L600.9,260.2 L606.4,259.0 L611.9,257.9 L617.3,256.9 L622.8,255.9 L628.3,255.0 L633.9,254.2 L639.4,253.4 L644.9,252.7 L650.5,252.0 L656.0,251.4 L661.6,250.9 L667.2,250.4 L672.7,250.0 L678.3,249.7 L683.9,249.5 L689.5,249.3 L695.1,249.1 L700.7,249.0 L706.3,249.0 L711.9,249.1 L717.5,249.2 L723.1,249.4 L728.7,249.7 L734.3,250.0 L739.9,250.4 L745.5,250.8 L751.1,251.3 L756.7,251.9 L762.3,252.6 L767.8,253.3 L773.4,254.1 L779.0,254.9 L784.5,255.8 L790.1,256.8 L795.6,257.8 L801.1,258.9 L806.6,260.1 L812.1,261.3 L817.6,262.6 L823.1,264.0 L828.5,265.4 L833.9,266.9 L839.4,268.4 L844.8,270.0 L850.1,271.7 L855.5,273.5 L860.9,275.3 L866.2,277.1 L871.5,279.0 L876.8,281.0 L882.0,283.1 L887.3,285.2 L892.5,287.4 L897.7,289.6 L902.9,291.9 L908.0,294.3 L913.1,296.7 L918.2,299.2 L923.3,301.7 L928.3,304.3 L933.3,306.9 L938.3,309.7 L943.2,312.4 L948.1,315.3 L953.0,318.1 L957.9,321.1 L962.7,324.1 L967.5,327.2 L972.2,330.3 L976.9,333.4 L981.6,336.7 L986.2,339.9 L990.8,343.3 L995.4,346.7 L999.9,350.1 L1004.4,353.6 L1008.8,357.2 L1013.2,360.8 L1017.6,364.4 L1021.9,368.1 L1026.2,371.9 L1030.4,375.7 L1034.6,379.5 L1038.8,383.5 L1042.9,387.4 L1046.9,391.4 L1050.9,395.5 L1054.9,399.6 L1058.8,403.7 L1062.7,407.9 L1066.5,412.1 L1070.3,416.4 L1074.0,420.8 L1077.7,425.1 L1081.3,429.5 L1084.9,434.0 L1088.4,438.5 L1091.9,443.1 L1095.3,447.6 L1098.7,452.3 L1102.0,456.9 L1105.2,461.6 L1108.4,466.4 L1111.6,471.2 L1114.7,476.0 L1117.7,480.8 L1120.7,485.7 L1123.6,490.7 L1126.5,495.6 L1129.3,500.6 L1132.1,505.7 L1134.8,510.7 L1137.4,515.8 L1140.0,520.9 L1142.5,526.1 L1145.0,531.3 L1147.4,536.5 L1149.7,541.8 L1152.0,547.0 L1154.2,552.4 L1156.4,557.7 L1158.5,563.0 L1160.5,568.4 L1162.5,573.8 L1164.4,579.3 L1166.3,584.7 L1168.0,590.2 L1169.8,595.7 L1171.4,601.2 L1173.0,606.8 L1174.5,612.3 L1176.0,617.9 L1177.4,623.5 L1178.7,629.1 L1180.0,634.7 L1181.2,640.4 L1182.4,646.1 L1183.4,651.7 L1184.4,657.4 L1185.4,663.1 L1186.3,668.8 L1187.1,674.6 L1187.8,680.3 L1188.5,686.1 L1189.1,691.8 L1189.6,697.6 L1190.1,703.3 L1190.5,709.1 L1190.9,714.9 L1191.1,720.7 L1191.3,726.5 L1191.5,732.3 L1191.5,738.1 L1191.5,743.9 L1191.5,749.7 L1191.4,755.5 L1191.2,761.3 L1190.9,767.1 L1190.6,772.9 L1190.2,778.7 L1189.7,784.5 L1189.1,790.3 L1188.5,796.0 L1187.9,801.8 L1187.1,807.6 L1186.3,813.4 L1185.5,819.1 L1184.5,824.9 L1183.5,830.6 L1182.4,836.3 L1181.3,842.0 L1180.1,847.7 L1178.8,853.4 L1177.5,859.1 L1176.1,864.8 L1174.6,870.4 L1173.1,876.0 L1171.4,881.6 L1169.8,887.2 L1168.0,892.8 L1166.2,898.4 L1164.4,903.9 L1162.4,909.4 L1160.4,914.9 L1158.4,920.4 L1156.3,925.8 L1154.1,931.3 L1151.8,936.7 L1149.5,942.0 L1147.1,947.4 L1144.7,952.7 L1142.2,958.0 L1139.6,963.3 L1137.0,968.5 L1134.3,973.7 L1131.6,978.9 L1128.7,984.0 L1125.9,989.2 L1122.9,994.2 L1120.0,999.3 L1116.9,1004.3 L1113.8,1009.3 L1110.6,1014.2 L1107.4,1019.1 L1104.1,1024.0 L1100.8,1028.9 L1097.4,1033.7 L1093.9,1038.4 L1090.4,1043.1 L1086.9,1047.8 L1083.2,1052.5 L1079.6,1057.0 L1075.8,1061.6 L1072.1,1066.1 L1068.2,1070.6 L1064.3,1075.0 L1060.4,1079.4 L1056.4,1083.7 L1052.3,1088.0 L1048.3,1092.3 L1044.1,1096.5 L1039.9,1100.6 L1035.7,1104.7 L1031.4,1108.8 L1027.0,1112.8 L1022.6,1116.7 L1018.2,1120.6 L1013.7,1124.5 L1009.2,1128.3 L1004.6,1132.1 L1000.0,1135.8 L995.4,1139.4 L990.7,1143.0 L985.9,1146.5 L981.1,1150.0 L976.3,1153.4 L971.4,1156.8 L966.5,1160.1 L961.6,1163.4 L956.6,1166.6 L951.6,1169.7 L946.5,1172.8 L941.4,1175.8 L936.2,1178.8 L931.1,1181.7 L925.9,1184.6 L920.6,1187.4 L915.4,1190.1 L910.0,1192.8 L904.7,1195.4 L899.3,1197.9 L893.9,1200.4 L888.5,1202.8 L883.0,1205.2 L877.6,1207.5 L872.0,1209.7 L866.5,1211.9 L860.9,1214.0 L855.3,1216.0 L849.7,1218.0 L844.1,1219.9 L838.4,1221.8 L832.7,1223.5 L827.0,1225.3 L821.3,1226.9 L815.5,1228.5 L809.7,1230.0 L803.9,1231.4 L798.1,1232.8 L792.3,1234.1 L786.5,1235.4 L780.6,1236.6 L774.7,1237.7 L768.8,1238.7 L762.9,1239.7 L757.0,1240.6 L751.1,1241.4 L745.2,1242.2 L739.2,1242.9 L733.3,1243.5 L727.3,1244.1 L721.3,1244.6 L715.4,1245.0 L709.4,1245.3 L703.4,1245.6 L697.4,1245.8 L691.4,1246.0 L685.4,1246.1 L679.4,1246.1 L673.4,1246.0 L667.4,1245.9 L661.4,1245.7 L655.4,1245.4 L649.4,1245.0 L643.4,1244.6 L637.4,1244.1 L631.4,1243.6 L625.5,1242.9 L619.5,1242.2 L613.5,1241.5 L607.6,1240.7 L601.6,1239.7 L595.7,1238.8 L589.7,1237.7 L583.8,1236.6 L577.9,1235.4 L572.0,1234.2 L566.1,1232.9 L560.3,1231.5 L554.4,1230.0 L548.6,1228.5 L542.7,1226.9 L536.9,1225.2 L531.2,1223.5 L525.4,1221.7 L519.6,1219.9 L513.9,1217.9 L508.2,1215.9 L502.5,1213.9 L496.9,1211.7 L491.2,1209.5 L485.6,1207.3 L480.1,1204.9 L474.5,1202.6 L469.0,1200.1 L463.5,1197.6 L458.0,1195.0 L452.5,1192.3 L447.1,1189.6 L441.7,1186.8 L436.4,1184.0 L431.1,1181.1 L425.8,1178.1 L420.5,1175.1 L415.3,1172.0 L410.1,1168.8 L405.0,1165.6 L399.8,1162.3 L394.8,1159.0 L389.7,1155.6 L384.7,1152.2 L379.8,1148.6 L374.9,1145.1 L370.0,1141.4 L365.1,1137.8 L360.3,1134.0 L355.6,1130.2 L350.9,1126.4 L346.2,1122.5 L341.6,1118.5 L337.0,1114.5 L332.5,1110.4 L328.0,1106.3 L323.6,1102.1 L319.2,1097.8 L314.8,1093.6 L310.5,1089.2 L306.3,1084.8 L302.1,1080.4 L298.0,1075.9 L293.9,1071.4 L289.8,1066.8 L285.9,1062.2 L281.9,1057.5 L278.1,1052.8 L274.2,1048.0 L270.5,1043.2 L266.8,1038.3 L263.1,1033.4 L259.5,1028.4 L256.0,1023.5 L252.5,1018.4 L249.0,1013.3 L245.7,1008.2 L242.4,1003.1 L239.1,997.9 L235.9,992.6 L232.8,987.4 L229.7,982.1 L226.7,976.7 L223.8,971.3 L220.9,965.9 L218.1,960.5 L215.3,955.0 L212.6,949.5 L210.0,943.9 L207.4,938.3 L204.9,932.7 L202.5,927.1 L200.1,921.4 L197.8,915.7 L195.6,910.0 L193.4,904.2 L191.3,898.4 L189.2,892.6 L187.3,886.8 L185.4,880.9 L183.5,875.0 L181.7,869.1 L180.0,863.2 L178.4,857.3 L176.8,851.3 L175.4,845.3 L173.9,839.3 L172.6,833.3 L171.3,827.3 L170.1,821.2 L168.9,815.1 L167.8,809.1 L166.8,803.0 L165.9,796.8 L165.0,790.7 L164.3,784.6 L163.5,778.5 L162.9,772.3 L162.3,766.1 L161.8,760.0 L161.4,753.8 L161.0,747.6 L160.7,741.4 L160.5,735.2 L160.3,729.0 L160.3,722.8 L160.3,716.6 L160.3,710.4 L160.5,704.2 L160.7,698.0 L161.0,691.8 L161.3,685.6 L161.8,679.5 L162.3,673.3 L162.8,667.1 L163.5,660.9 L164.2,654.7 L165.0,648.6 L165.9,642.4 L166.8,636.3 L167.8,630.1 L168.9,624.0 L170.0,617.9 L171.3,611.8 L172.5,605.7 L173.9,599.6 L175.3,593.5 L176.8,587.5 L178.4,581.5 L180.1,575.5 L181.8,569.5 L183.6,563.5 L185.4,557.5 L187.4,551.6 L189.3,545.7 L191.4,539.8 L193.5,533.9 L195.7,528.1 L198.0,522.3 L200.4,516.5 L202.8,510.7 L205.2,505.0 L207.8,499.2 L210.4,493.6 L213.1,487.9 L215.8,482.3 L218.6,476.7 L221.5,471.1 L224.4,465.6 L227.4,460.1 L230.5,454.6 L233.6,449.2 L236.8,443.8 L240.1,438.5 L243.4,433.1 L246.8,427.9 L250.2,422.6 L253.7,417.4 L257.3,412.3 L260.9,407.1 L264.6,402.1 L268.4,397.0 L272.2,392.0 L276.0,387.1 L280.0,382.2 L283.9,377.3 L288.0,372.5 L292.1,367.7 L296.2,363.0 L300.4,358.3 L304.7,353.7 L309.0,349.1 L313.4,344.6 L317.8,340.1 L322.3,335.6 L326.8,331.3 L331.4,326.9 L336.0,322.7 L340.7,318.4 L345.5,314.3 L350.2,310.2 L355.1,306.1 L360.0,302.1 L364.9,298.2 L369.9,294.3 L374.9,290.4 L379.9,286.7 L385.1,282.9 L390.2,279.3 L395.4,275.7 L400.6,272.1 L405.9,268.7 L411.3,265.3 L416.6,261.9 L422.0,258.6 L427.5,255.4 L432.9,252.2 L438.5,249.1 L444.0,246.1 L449.6,243.1 L455.3,240.2 L460.9,237.3 L466.6,234.5 L472.3,231.8 L478.1,229.2 L483.9,226.6 L489.7,224.1 L495.6,221.6 L501.5,219.2 L507.4,216.9 L513.3,214.7 L519.3,212.5 L525.3,210.4 L531.3,208.4 L537.4,206.4 L543.4,204.5 L549.5,202.7 L555.6,200.9 L561.8,199.2 L567.9,197.6 L574.1,196.1 L580.3,194.6 L586.5,193.2 L592.8,191.9 L599.0,190.6 L605.3,189.4 L611.6,188.3 L617.9,187.3 L624.2,186.3 L630.5,185.4 L636.8,184.6 L643.1,183.9 L649.5,183.2 L655.9,182.6 L662.2,182.1 L668.6,181.6 L675.0,181.3 L681.4,181.0 L687.8,180.7 L694.1,180.6 L700.5,180.5 L706.9,180.5 L713.3,180.6 L719.7,180.7 L726.1,181.0 L732.5,181.3 L738.9,181.6 L745.3,182.1 L751.7,182.6 L758.1,183.2 L764.5,183.8 L770.8,184.6 L777.2,185.4 L783.6,186.3 L789.9,187.3 L796.2,188.3 L802.6,189.4 L808.9,190.6 L815.2,191.9 L821.5,193.2 L827.7,194.6 L834.0,196.1 L840.2,197.6 L846.4,199.3 L852.7,201.0 L858.8,202.7 L865.0,204.6 L871.1,206.5 L877.3,208.5 L883.4,210.5 L889.5,212.7 L895.5,214.9 L901.5,217.1 L907.5,219.5 L913.5,221.9 L919.5,224.4 L925.4,226.9 L931.3,229.6 L937.2,232.2 L943.0,235.0 L948.8,237.8 L954.6,240.7 L960.3,243.7 L966.0,246.7 L971.7,249.8 L977.3,253.0 L982.9,256.2 L988.5,259.5 L994.0,262.9 L999.5,266.3 L1004.9,269.8 L1010.4,273.3 L1015.7,277.0 L1021.0,280.6 L1026.3,284.4 L1031.6,288.2 L1036.8,292.1 L1041.9,296.0 L1047.0,300.0 L1052.1,304.0 L1057.1,308.1 L1062.1,312.3 L1067.0,316.5 L1071.9,320.8 L1076.7,325.2 L1081.5,329.6 L1086.2,334.0 L1090.9,338.5 L1095.5,343.1 L1100.1,347.7 L1104.6,352.4 L1109.1,357.1 L1113.5,361.9 L1117.8,366.7 L1122.1,371.6 L1126.4,376.5 L1130.6,381.5 L1134.7,386.6 L1138.8,391.6 L1142.8,396.8 L1146.7,402.0 L1150.6,407.2 L1154.4,412.5 L1158.2,417.8 L1161.9,423.1 L1165.6,428.5 L1169.2,434.0 L1172.7,439.5 L1176.2,445.0 L1179.5,450.6 L1182.9,456.2 L1186.1,461.9 L1189.3,467.6 L1192.5,473.3 L1195.6,479.1 L1198.6,484.9 L1201.5,490.7 L1204.4,496.6 L1207.2,502.5 L1209.9,508.4 L1212.6,514.4 L1215.2,520.4 L1217.7,526.5 L1220.1,532.5 L1222.5,538.6 L1224.8,544.8 L1227.1,550.9 L1229.3,557.1 L1231.4,563.3 L1233.4,569.6 L1235.3,575.8 L1237.2,582.1 L1239.0,588.4 L1240.8,594.7 L1242.4,601.1 L1244.0,607.5 L1245.5,613.9 L1247.0,620.3 L1248.4,626.7 L1249.7,633.1 L1250.9,639.6 L1252.0,646.1 L1253.1,652.6 L1254.1,659.1 L1255.0,665.6 L1255.8,672.1 L1256.6,678.6 L1257.3,685.2 L1257.9,691.8 L1258.4,698.3 L1258.9,704.9 L1259.3,711.5 L1259.6,718.1 L1259.8,724.6 L1260.0,731.2 L1260.1,737.8 L1260.1,744.4 L1260.0,751.0 L1259.8,757.6 L1259.6,764.2 L1259.3,770.8 L1258.9,777.4 L1258.5,784.0 L1257.9,790.6 L1257.3,797.2 L1256.6,803.8 L1255.9,810.3 L1255.0,816.9 L1254.1,823.4 L1253.1,830.0 L1252.0,836.5 L1250.9,843.0 L1249.7,849.5 L1248.4,856.0 L1247.0,862.5 L1245.5,869.0 L1244.0,875.4 L1242.4,881.9 L1240.7,888.3 L1239.0,894.7 L1237.2,901.0 L1235.3,907.4 L1233.3,913.7 L1231.2,920.0 L1229.1,926.3 L1226.9,932.6 L1224.7,938.8 L1222.3,945.1 L1219.9,951.3 L1217.4,957.4 L1214.8,963.6 L1212.2,969.7 L1209.5,975.7 L1206.7,981.8 L1203.9,987.8 L1201.0,993.8 L1198.0,999.7 L1194.9,1005.6 L1191.8,1011.5 L1188.6,1017.4 L1185.4,1023.2 L1182.0,1029.0 L1178.6,1034.7 L1175.2,1040.4 L1171.6,1046.0 L1168.0,1051.7 L1164.4,1057.2 L1160.6,1062.8 L1156.8,1068.3 L1153.0,1073.7 L1149.1,1079.1 L1145.1,1084.5 L1141.0,1089.8 L1136.9,1095.0 L1132.7,1100.3 L1128.5,1105.4 L1124.2,1110.6 L1119.9,1115.6 L1115.4,1120.7 L1111.0,1125.6 L1106.4,1130.6 L1101.8,1135.4 L1097.2,1140.2 L1092.5,1145.0 L1087.7,1149.7 L1082.9,1154.4 L1078.0,1159.0 L1073.1,1163.5 L1068.1,1168.0 L1063.1,1172.4 L1058.0,1176.8 L1052.9,1181.1 L1047.7,1185.4 L1042.4,1189.6 L1037.2,1193.7 L1031.8,1197.8 L1026.4,1201.8 L1021.0,1205.7 L1015.5,1209.6 L1010.0,1213.5 L1004.4,1217.2 L998.8,1220.9 L993.1,1224.5 L987.4,1228.1 L981.7,1231.6 L975.9,1235.0 L970.1,1238.4 L964.2,1241.7 L958.3,1244.9 L952.4,1248.1 L946.4,1251.2 L940.4,1254.2 L934.3,1257.2 L928.2,1260.1 L922.1,1262.9 L915.9,1265.6 L909.7,1268.3 L903.5,1270.9 L897.2,1273.4 L891.0,1275.9 L884.6,1278.3 L878.3,1280.6 L871.9,1282.8 L865.5,1285.0 L859.1,1287.1 L852.7,1289.1 L846.2,1291.0 L839.7,1292.9 L833.2,1294.7 L826.6,1296.4 L820.0,1298.1 L813.5,1299.6 L806.9,1301.1 L800.2,1302.5 L793.6,1303.8 L786.9,1305.1 L780.3,1306.3 L773.6,1307.4 L766.9,1308.4 L760.2,1309.4 L753.4,1310.2 L746.7,1311.0 L740.0,1311.7 L733.2,1312.4 L726.4,1312.9 L719.7,1313.4 L712.9,1313.8 L706.1,1314.1 L699.3,1314.3 L692.5,1314.5 L685.7,1314.6 L678.9,1314.6 L672.1,1314.5 L665.3,1314.4 L658.5,1314.1 L651.8,1313.8 L645.0,1313.4 L638.2,1312.9 L631.4,1312.4 L624.6,1311.8 L617.8,1311.0 L611.1,1310.3 L604.3,1309.4 L597.6,1308.4 L590.8,1307.4 L584.1,1306.3 L577.4,1305.1 L570.7,1303.9 L564.0,1302.5 L557.3,1301.1 L550.7,1299.6 L544.0,1298.1 L537.4,1296.4 L530.8,1294.7 L524.2,1292.9 L517.6,1291.0 L511.1,1289.0 L504.5,1287.0 L498.0,1284.9 L491.6,1282.7 L485.1,1280.4 L478.7,1278.1 L472.3,1275.7 L465.9,1273.2 L459.5,1270.6 L453.2,1268.0 L446.9,1265.3 L440.7,1262.5 L434.5,1259.7 L428.3,1256.7 L422.1,1253.7 L416.0,1250.6 L409.9,1247.5 L403.8,1244.3 L397.8,1241.0 L391.8,1237.6 L385.9,1234.2 L380.0,1230.7 L374.1,1227.1 L368.3,1223.5 L362.5,1219.8 L356.7,1216.0 L351.0,1212.2 L345.4,1208.3 L339.8,1204.3 L334.2,1200.3 L328.7,1196.2 L323.2,1192.0 L317.8,1187.7 L312.4,1183.5 L307.1,1179.1 L301.8,1174.7 L296.6,1170.2 L291.4,1165.6 L286.3,1161.0 L281.2,1156.4 L276.2,1151.6 L271.3,1146.8 L266.4,1142.0 L261.5,1137.1 L256.7,1132.1 L252.0,1127.1 L247.3,1122.0 L242.7,1116.9 L238.1,1111.7 L233.6,1106.5 L229.2,1101.2 L224.8,1095.9 L220.5,1090.5 L216.2,1085.0 L212.0,1079.5 L207.9,1074.0 L203.8,1068.4 L199.8,1062.7 L195.9,1057.1 L192.0,1051.3 L188.2,1045.5 L184.5,1039.7 L180.8,1033.8 L177.2,1027.9 L173.6,1022.0 L170.2,1016.0 L166.8,1009.9 L163.4,1003.8 L160.2,997.7 L157.0,991.6 L153.9,985.4 L150.8,979.1 L147.9,972.9 L145.0,966.5 L142.1,960.2 L139.4,953.8 L136.7,947.4 L134.1,941.0 L131.6,934.5 L129.1,928.0 L126.7,921.5 L124.4,914.9 L122.2,908.3 L120.1,901.7 L118.0,895.1 L116.0,888.4 L114.1,881.7 L112.2,875.0 L110.5,868.3 L108.8,861.5 L107.2,854.7 L105.6,847.9 L104.2,841.1 L102.8,834.3 L101.5,827.4 L100.3,820.6 L99.2,813.7 L98.1,806.8 L97.1,799.9 L96.2,792.9 L95.4,786.0 L94.7,779.1 L94.0,772.1 L93.5,765.2 L93.0,758.2 L92.6,751.2 L92.2,744.2 L92.0,737.2 L91.8,730.2 L91.7,723.2 L91.7,716.3 L91.8,709.3 L92.0,702.3 L92.2,695.3 L92.5,688.3 L93.0,681.3 L93.4,674.3 L94.0,667.3 L94.7,660.3 L95.4,653.4 L96.2,646.4 L97.1,639.4 L98.1,632.5 L99.1,625.6 L100.2,618.6 L101.5,611.7 L102.8,604.8 L104.1,597.9 L105.6,591.1 L107.1,584.2 L108.8,577.4 L110.4,570.6 L112.2,563.8 L114.1,557.0 L116.0,550.2 L118.0,543.5 L120.1,536.8 L122.3,530.1 L124.5,523.4 L126.9,516.8 L129.3,510.1 L131.8,503.5 L134.3,497.0 L137.0,490.5 L139.7,483.9 L142.5,477.5 L145.3,471.0 L148.3,464.6 L151.3,458.3 L154.4,451.9 L157.5,445.6 L160.8,439.3 L164.1,433.1 L167.5,426.9 L170.9,420.7 L174.4,414.6 L178.0,408.6 L181.7,402.5 L185.5,396.5 L189.3,390.6 L193.2,384.7 L197.1,378.8 L201.1,373.0 L205.2,367.2 L209.4,361.5 L213.6,355.8 L217.9,350.2 L222.2,344.6 L226.7,339.1 L231.2,333.6 L235.7,328.1 L240.3,322.8 L245.0,317.4 L249.7,312.2 L254.5,307.0 L259.4,301.8 L264.3,296.7 L269.3,291.6 L274.4,286.7 L279.5,281.7 L284.6,276.8 L289.9,272.0 L295.1,267.3 L300.5,262.6 L305.8,258.0 L311.3,253.4 L316.8,248.9 L322.3,244.4 L327.9,240.1 L333.6,235.7 L339.3,231.5 L345.1,227.3 L350.9,223.2 L356.7,219.1 L362.6,215.1 L368.6,211.2 L374.6,207.4 L380.6,203.6 L386.7,199.9 L392.8,196.3 L399.0,192.7 L405.2,189.2 L411.5,185.8 L417.7,182.4 L424.1,179.1 L430.5,175.9 L436.9,172.8 L443.3,169.7 L449.8,166.8 L456.3,163.9 L462.9,161.0 L469.5,158.3 L476.1,155.6 L482.8,153.0 L489.5,150.5 L496.2,148.0 L502.9,145.6 L509.7,143.3 L516.5,141.1 L523.3,139.0 L530.2,136.9 L537.1,135.0 L544.0,133.1 L550.9,131.2 L557.9,129.5 L564.8,127.9 L571.8,126.3 L578.8,124.8 L585.9,123.4 L592.9,122.0 L600.0,120.8 L607.1,119.6 L614.2,118.5 L621.3,117.5 L628.4,116.6 L635.5,115.8 L642.7,115.0 L649.8,114.4 L657.0,113.8 L664.1,113.3 L671.3,112.8 L678.5,112.5 L685.7,112.3 L692.9,112.1 L700.1,112.0 L707.3,112.0 L714.5,112.1 L721.6,112.2 L728.8,112.5 L736.0,112.8 L743.2,113.2 L750.4,113.7 L757.6,114.3 L764.8,115.0 L771.9,115.7 L779.1,116.6 L786.3,117.5 L793.4,118.5 L800.5,119.6 L807.7,120.7 L814.8,122.0 L821.9,123.3 L828.9,124.7 L836.0,126.2 L843.1,127.8 L850.1,129.5 L857.1,131.2 L864.1,133.0 L871.1,135.0 L878.0,136.9 L884.9,139.0 L891.8,141.2 L898.7,143.4 L905.6,145.7 L912.4,148.1 L919.2,150.6 L926.0,153.1 L932.7,155.8 L939.5,158.5 L946.2,161.3 L952.8,164.1 L959.4,167.1 L966.0,170.1 L972.6,173.2 L979.1,176.4 L985.6,179.6 L992.0,182.9 L998.4,186.4 L1004.8,189.8 L1011.1,193.4 L1017.4,197.0 L1023.7,200.7 L1029.9,204.5 L1036.1,208.3 L1042.2,212.3 L1048.2,216.2 L1054.3,220.3 L1060.3,224.4 L1066.2,228.6 L1072.1,232.9 L1077.9,237.3 L1083.7,241.7 L1089.5,246.2 L1095.1,250.7 L1100.8,255.3 L1106.4,260.0 L1111.9,264.7 L1117.4,269.5 L1122.8,274.4 L1128.1,279.4 L1133.4,284.4 L1138.7,289.4 L1143.9,294.5 L1149.0,299.7 L1154.1,305.0 L1159.1,310.3 L1164.0,315.7 L1168.9,321.1 L1173.8,326.6 L1178.5,332.1 L1183.2,337.7 L1187.9,343.3 L1192.4,349.0 L1196.9,354.8 L1201.4,360.6 L1205.7,366.5 L1210.0,372.4 L1214.3,378.4 L1218.4,384.4 L1222.5,390.4 L1226.6,396.6 L1230.5,402.7 L1234.4,408.9 L1238.2,415.2 L1242.0,421.5 L1245.6,427.8 L1249.2,434.2 L1252.7,440.6 L1256.2,447.1 L1259.6,453.6 L1262.9,460.2 L1266.1,466.8 L1269.2,473.4 L1272.3,480.1 L1275.3,486.8 L1278.2,493.5 L1281.0,500.3 L1283.8,507.1 L1286.5,513.9 L1289.0,520.8 L1291.6,527.7 L1294.0,534.7 L1296.4,541.6 L1298.6,548.6 L1300.8,555.6 L1302.9,562.7 L1305.0,569.8 L1306.9,576.9 L1308.8,584.0 L1310.6,591.1 L1312.3,598.3 L1313.9,605.5 L1315.4,612.7 L1316.9,619.9 L1318.3,627.2 L1319.5,634.4 L1320.7,641.7 L1321.9,649.0 L1322.9,656.3 L1323.8,663.6 L1324.7,670.9 L1325.5,678.3 L1326.2,685.6 L1326.8,693.0 L1327.3,700.3 L1327.7,707.7 L1328.1,715.1 L1328.3,722.5 L1328.5,729.9 L1328.6,737.3 L1328.6,744.7 L1328.5,752.1 L1328.4,759.5 L1328.1,766.9 L1327.8,774.2 L1327.3,781.6 L1326.8,789.0 L1326.2,796.4 L1325.5,803.8 L1324.8,811.1 L1323.9,818.5 L1323.0,825.9 L1321.9,833.2 L1320.8,840.5 L1319.6,847.8 L1318.3,855.1 L1317.0,862.4 L1315.5,869.7 L1314.0,877.0 L1312.4,884.2 L1310.7,891.4 L1308.9,898.6 L1307.0,905.8 L1305.0,913.0 L1303.0,920.1 L1300.9,927.3 L1298.6,934.4 L1296.4,941.4 L1294.0,948.5 L1291.5,955.5 L1289.0,962.5 L1286.4,969.5 L1283.7,976.4 L1280.9,983.3 L1278.0,990.2 L1275.1,997.0 L1272.0,1003.8 L1268.9,1010.6 L1265.7,1017.3 L1262.5,1024.0 L1259.1,1030.7 L1255.7,1037.3 L1252.2,1043.9 L1248.6,1050.4 L1245.0,1056.9 L1241.3,1063.4 L1237.5,1069.8 L1233.6,1076.2 L1229.6,1082.5 L1225.6,1088.8 L1221.5,1095.1 L1217.3,1101.3 L1213.1,1107.4 L1208.8,1113.5 L1204.4,1119.6 L1199.9,1125.6 L1195.4,1131.5 L1190.8,1137.4 L1186.1,1143.2 L1181.4,1149.0 L1176.6,1154.8 L1171.7,1160.4 L1166.8,1166.1 L1161.8,1171.6 L1156.7,1177.1 L1151.5,1182.6 L1146.3,1188.0 L1141.1,1193.3 L1135.8,1198.6 L1130.4,1203.8 L1124.9,1209.0 L1119.4,1214.0 L1113.8,1219.1 L1108.2,1224.0 L1102.5,1228.9 L1096.8,1233.7 L1091.0,1238.5 L1085.1,1243.2 L1079.2,1247.8 L1073.2,1252.4 L1067.2,1256.9 L1061.1,1261.3 L1055.0,1265.6 L1048.8,1269.9 L1042.6,1274.1 L1036.3,1278.3 L1030.0,1282.3 L1023.6,1286.3 L1017.2,1290.2 L1010.7,1294.1 L1004.2,1297.9 L997.6,1301.5 L991.0,1305.2 L984.4,1308.7 L977.7,1312.2 L971.0,1315.5 L964.2,1318.9 L957.4,1322.1 L950.5,1325.2 L943.6,1328.3 L936.7,1331.3 L929.8,1334.2 L922.8,1337.0 L915.7,1339.8 L908.7,1342.5 L901.6,1345.0 L894.5,1347.6 L887.3,1350.0 L880.1,1352.3 L872.9,1354.6 L865.7,1356.7 L858.4,1358.8 L851.1,1360.8 L843.8,1362.8 L836.5,1364.6 L829.1,1366.3 L821.7,1368.0 L814.3,1369.6 L806.9,1371.1 L799.5,1372.5 L792.0,1373.8 L784.5,1375.0 L777.1,1376.2 L769.5,1377.2 L762.0,1378.2 L754.5,1379.1 L747.0,1379.9 L739.4,1380.6 L731.9,1381.2 L724.3,1381.8 L716.7,1382.2 L709.1,1382.6 L701.6,1382.8 L694.0,1383.0 L686.4,1383.1 L678.8,1383.1 L671.2,1383.0 L663.6,1382.9 L656.0,1382.6 L648.4,1382.3 L640.8,1381.8 L633.2,1381.3 L625.7,1380.7 L618.1,1380.0 L610.5,1379.2 L603.0,1378.3 L595.4,1377.3 L587.9,1376.3 L580.3,1375.1 L572.8,1373.9 L565.3,1372.6 L557.8,1371.2 L550.4,1369.7 L542.9,1368.1 L535.5,1366.5 L528.1,1364.7 L520.7,1362.9 L513.3,1360.9 L505.9,1358.9 L498.6,1356.8 L491.3,1354.6 L484.0,1352.4 L476.7,1350.0 L469.5,1347.6 L462.3,1345.1 L455.1,1342.5 L448.0,1339.8 L440.8,1337.0 L433.8,1334.1 L426.7,1331.2 L419.7,1328.2 L412.7,1325.1 L405.7,1321.9 L398.8,1318.6 L391.9,1315.3 L385.1,1311.8 L378.3,1308.3 L371.5,1304.7 L364.8,1301.1 L358.1,1297.3 L351.5,1293.5 L344.9,1289.6 L338.4,1285.6 L331.8,1281.5 L325.4,1277.4 L319.0,1273.2 L312.6,1268.9 L306.3,1264.6 L300.0,1260.1 L293.8,1255.6 L287.7,1251.0 L281.6,1246.4 L275.5,1241.7 L269.5,1236.9 L263.6,1232.0 L257.7,1227.1 L251.9,1222.1 L246.1,1217.0 L240.4,1211.9 L234.7,1206.7 L229.1,1201.4 L223.6,1196.1 L218.1,1190.6 L212.7,1185.2 L207.3,1179.6 L202.0,1174.1 L196.8,1168.4 L191.7,1162.7 L186.6,1156.9 L181.6,1151.1 L176.6,1145.2 L171.7,1139.2 L166.9,1133.2 L162.1,1127.1 L157.5,1121.0 L152.8,1114.8 L148.3,1108.6 L143.8,1102.3 L139.4,1095.9 L135.1,1089.5 L130.9,1083.1 L126.7,1076.6 L122.6,1070.1 L118.6,1063.5 L114.6,1056.8 L110.8,1050.1 L107.0,1043.4 L103.3,1036.6 L99.6,1029.8 L96.1,1022.9 L92.6,1016.0 L89.2,1009.1 L85.9,1002.1 L82.7,995.1 L79.5,988.0 L76.4,980.9 L73.4,973.7 L70.5,966.6 L67.7,959.3 L65.0,952.1 L62.3,944.8 L59.7,937.5 L57.3,930.2 L54.9,922.8 L52.5,915.4 L50.3,908.0 L48.2,900.5 L46.1,893.0 L44.1,885.5 L42.2,878.0 L40.5,870.4 L38.7,862.9 L37.1,855.3 L35.6,847.7 L34.1,840.0 L32.8,832.4 L31.5,824.7 L30.3,817.0 L29.3,809.3 L28.3,801.6 L27.3,793.9 L26.5,786.1 L25.8,778.4 L25.2,770.6 L24.6,762.9 L24.2,755.1 L23.8,747.3 L23.5,739.5 L23.3,731.8 L23.2,724.0 L23.2,716.2 L23.3,708.4 L23.5,700.6 L23.7,692.8 L24.1,685.0 L24.5,677.2 L25.1,669.4 L25.7,661.7 L26.4,653.9 L27.2,646.1 L28.1,638.4 L29.1,630.6 L30.2,622.9 L31.4,615.2 L32.6,607.4 L34.0,599.7 L35.4,592.1 L37.0,584.4 L38.6,576.7 L40.3,569.1 L42.1,561.5 L44.0,553.9 L45.9,546.3 L48.0,538.8 L50.2,531.3 L52.4,523.8 L54.7,516.3 L57.1,508.8 L59.6,501.4 L62.2,494.0 L64.9,486.6 L67.7,479.3 L70.5,472.0 L73.4,464.7 L76.5,457.5 L79.6,450.3 L82.7,443.1 L86.0,436.0 L89.4,428.9 L92.8,421.8 L96.3,414.8 L99.9,407.8 L103.6,400.9 L107.4,394.0 L111.2,387.1 L115.1,380.3 L119.1,373.6 L123.2,366.8 L127.4,360.2 L131.6,353.5 L135.9,347.0 L140.3,340.4 L144.8,334.0 L149.3,327.5 L154.0,321.2 L158.7,314.8 L163.4,308.6 L168.3,302.4 L173.2,296.2 L178.2,290.1 L183.2,284.1 L188.4,278.1 L193.6,272.2 L198.8,266.3 L204.2,260.5 L209.6,254.7 L215.1,249.1 L220.6,243.4 L226.2,237.9 L231.9,232.4 L237.6,227.0 L243.4,221.6 L249.3,216.3 L255.2,211.1 L261.2,205.9 L267.3,200.9 L273.4,195.8 L279.5,190.9 L285.8,186.0 L292.1,181.2 L298.4,176.5 L304.8,171.8 L311.2,167.3 L317.8,162.7 L324.3,158.3 L330.9,154.0 L337.6,149.7 L344.3,145.5 L351.1,141.3 L357.9,137.3 L364.7,133.3 L371.6,129.4 L378.6,125.6 L385.6,121.9 L392.6,118.2 L399.7,114.7 L406.9,111.2 L414.0,107.8 L421.2,104.5 L428.5,101.2 L435.8,98.1 L443.1,95.0 L450.5,92.0 L457.9,89.1 L465.3,86.3 L472.8,83.6 L480.3,81.0 L487.8,78.4 L495.3,75.9 L502.9,73.6 L510.6,71.3 L518.2,69.1 L525.9,67.0 L533.6,64.9 L541.3,63.0 L549.0,61.2 L556.8,59.4 L564.6,57.7 L572.4,56.2 L580.2,54.7"/>
<path d="M659.2,464.7 L615.2,119.3" stroke="#b2b2b2" stroke-width="1.05"/>
<path d="M842.1,498.7 L1030.4,205.8" stroke="#b2b2b2" stroke-width="1.05"/>
<path d="M963.4,646.4 L1296.0,543.2" stroke="#b2b2b2" stroke-width="1.05"/>
<path d="M961.2,842.8 L1282.3,977.5" stroke="#b2b2b2" stroke-width="1.05"/>
<path d="M829.7,995.7 L989.1,1305.2" stroke="#b2b2b2" stroke-width="1.05"/>
<path d="M625.5,1028.9 L548.7,1368.5" stroke="#b2b2b2" stroke-width="1.05"/>
<path d="M443.4,920.3 L166.3,1131.0" stroke="#b2b2b2" stroke-width="1.05"/>
<path d="M372.2,715.0 L24.4,698.4" stroke="#b2b2b2" stroke-width="1.05"/>
<path d="M451.6,507.2 L242.5,314.0" stroke="#b2b2b2" stroke-width="1.05"/>
<path d="M546.1,511.9 L540.2,503.2" stroke="#b4b4b4" stroke-width="1.5"/>
<path d="M599.5,481.5 L595.9,471.7" stroke="#b4b4b4" stroke-width="1.5"/>
<path d="M659.1,464.2 L657.8,453.8" stroke="#b4b4b4" stroke-width="1.5"/>
<path d="M721.7,461.0 L722.8,450.6" stroke="#b4b4b4" stroke-width="1.5"/>
<path d="M783.9,472.5 L787.4,462.6" stroke="#b4b4b4" stroke-width="1.5"/>
<path d="M842.3,498.3 L848.0,489.4" stroke="#b4b4b4" stroke-width="1.5"/>
<path d="M893.7,537.2 L901.2,529.9" stroke="#b4b4b4" stroke-width="1.5"/>
<path d="M935.0,587.4 L944.1,582.0" stroke="#b4b4b4" stroke-width="1.5"/>
<path d="M963.9,646.3 L973.9,643.2" stroke="#b4b4b4" stroke-width="1.5"/>
<path d="M978.5,710.8 L989.0,710.1" stroke="#b4b4b4" stroke-width="1.5"/>
<path d="M977.9,777.6 L988.2,779.3" stroke="#b4b4b4" stroke-width="1.5"/>
<path d="M961.6,843.0 L971.3,847.1" stroke="#b4b4b4" stroke-width="1.5"/>
<path d="M930.5,903.4 L939.0,909.6" stroke="#b4b4b4" stroke-width="1.5"/>
<path d="M885.8,955.4 L892.7,963.4" stroke="#b4b4b4" stroke-width="1.5"/>
<path d="M829.9,996.1 L834.7,1005.4" stroke="#b4b4b4" stroke-width="1.5"/>
<path d="M765.6,1023.0 L768.1,1033.2" stroke="#b4b4b4" stroke-width="1.5"/>
<path d="M696.2,1034.3 L696.3,1044.8" stroke="#b4b4b4" stroke-width="1.5"/>
<path d="M625.4,1029.3 L623.1,1039.6" stroke="#b4b4b4" stroke-width="1.5"/>
<path d="M557.2,1008.0 L552.6,1017.4" stroke="#b4b4b4" stroke-width="1.5"/>
<path d="M495.2,971.1 L488.6,979.2" stroke="#b4b4b4" stroke-width="1.5"/>
<path d="M443.0,920.6 L434.7,926.9" stroke="#b4b4b4" stroke-width="1.5"/>
<path d="M403.6,858.8 L394.0,863.1" stroke="#b4b4b4" stroke-width="1.5"/>
<path d="M379.3,789.1 L369.0,791.0" stroke="#b4b4b4" stroke-width="1.5"/>
<path d="M371.7,715.0 L361.2,714.5" stroke="#b4b4b4" stroke-width="1.5"/>
<path d="M381.5,640.6 L371.4,637.7" stroke="#b4b4b4" stroke-width="1.5"/>
<path d="M408.4,569.9 L399.2,564.8" stroke="#b4b4b4" stroke-width="1.5"/>
<path d="M451.2,506.9 L443.5,499.8" stroke="#b4b4b4" stroke-width="1.5"/>
<path d="M507.8,455.0 L502.0,446.3" stroke="#b4b4b4" stroke-width="1.5"/>
<path d="M575.4,417.4 L571.8,407.5" stroke="#b4b4b4" stroke-width="1.5"/>
<path d="M650.5,396.2 L649.2,385.8" stroke="#b4b4b4" stroke-width="1.5"/>
<path d="M729.0,392.9 L730.1,382.4" stroke="#b4b4b4" stroke-width="1.5"/>
<path d="M806.7,407.8 L810.2,397.9" stroke="#b4b4b4" stroke-width="1.5"/>
<path d="M879.4,440.6 L885.1,431.8" stroke="#b4b4b4" stroke-width="1.5"/>
<path d="M943.0,489.6 L950.6,482.4" stroke="#b4b4b4" stroke-width="1.5"/>
<path d="M994.0,552.5 L1003.1,547.2" stroke="#b4b4b4" stroke-width="1.5"/>
<path d="M1029.4,626.0 L1039.4,622.8" stroke="#b4b4b4" stroke-width="1.5"/>
<path d="M1046.9,706.2 L1057.4,705.4" stroke="#b4b4b4" stroke-width="1.5"/>
<path d="M1045.5,788.8 L1055.8,790.6" stroke="#b4b4b4" stroke-width="1.5"/>
<path d="M1024.8,869.5 L1034.5,873.6" stroke="#b4b4b4" stroke-width="1.5"/>
<path d="M985.9,943.8 L994.4,950.0" stroke="#b4b4b4" stroke-width="1.5"/>
<path d="M930.4,1007.5 L937.3,1015.5" stroke="#b4b4b4" stroke-width="1.5"/>
<path d="M861.3,1057.0 L866.1,1066.4" stroke="#b4b4b4" stroke-width="1.5"/>
<path d="M782.0,1089.5 L784.6,1099.7" stroke="#b4b4b4" stroke-width="1.5"/>
<path d="M696.9,1102.9 L697.0,1113.4" stroke="#b4b4b4" stroke-width="1.5"/>
<path d="M610.3,1096.2 L608.0,1106.4" stroke="#b4b4b4" stroke-width="1.5"/>
<path d="M527.1,1069.5 L522.5,1079.0" stroke="#b4b4b4" stroke-width="1.5"/>
<path d="M451.7,1024.1 L445.1,1032.2" stroke="#b4b4b4" stroke-width="1.5"/>
<path d="M388.5,962.1 L380.1,968.4" stroke="#b4b4b4" stroke-width="1.5"/>
<path d="M341.0,886.6 L331.4,890.9" stroke="#b4b4b4" stroke-width="1.5"/>
<path d="M311.9,801.7 L301.6,803.6" stroke="#b4b4b4" stroke-width="1.5"/>
<path d="M303.2,711.7 L292.8,711.2" stroke="#b4b4b4" stroke-width="1.5"/>
<path d="M315.6,621.6 L305.5,618.7" stroke="#b4b4b4" stroke-width="1.5"/>
<path d="M348.7,536.3 L339.5,531.1" stroke="#b4b4b4" stroke-width="1.5"/>
<path d="M400.9,460.4 L393.1,453.2" stroke="#b4b4b4" stroke-width="1.5"/>
<path d="M469.6,398.2 L463.7,389.5" stroke="#b4b4b4" stroke-width="1.5"/>
<path d="M551.3,353.2 L547.7,343.4" stroke="#b4b4b4" stroke-width="1.5"/>
<path d="M641.8,328.2 L640.5,317.8" stroke="#b4b4b4" stroke-width="1.5"/>
<path d="M736.2,324.7 L737.4,314.3" stroke="#b4b4b4" stroke-width="1.5"/>
<path d="M829.5,343.2 L833.0,333.3" stroke="#b4b4b4" stroke-width="1.5"/>
<path d="M916.5,383.0 L922.2,374.1" stroke="#b4b4b4" stroke-width="1.5"/>
<path d="M992.4,442.1 L1000.0,434.8" stroke="#b4b4b4" stroke-width="1.5"/>
<path d="M1053.0,517.6 L1062.1,512.3" stroke="#b4b4b4" stroke-width="1.5"/>
<path d="M1094.8,605.6 L1104.8,602.5" stroke="#b4b4b4" stroke-width="1.5"/>
<path d="M1115.3,701.5 L1125.8,700.8" stroke="#b4b4b4" stroke-width="1.5"/>
<path d="M1113.1,800.0 L1123.5,801.8" stroke="#b4b4b4" stroke-width="1.5"/>
<path d="M1088.1,896.0 L1097.7,900.1" stroke="#b4b4b4" stroke-width="1.5"/>
<path d="M1041.3,984.2 L1049.8,990.3" stroke="#b4b4b4" stroke-width="1.5"/>
<path d="M975.0,1059.5 L981.9,1067.5" stroke="#b4b4b4" stroke-width="1.5"/>
<path d="M892.7,1118.0 L897.5,1127.3" stroke="#b4b4b4" stroke-width="1.5"/>
<path d="M798.5,1156.0 L801.1,1166.2" stroke="#b4b4b4" stroke-width="1.5"/>
<path d="M697.6,1171.4 L697.7,1181.9" stroke="#b4b4b4" stroke-width="1.5"/>
<path d="M595.2,1163.0 L592.9,1173.3" stroke="#b4b4b4" stroke-width="1.5"/>
<path d="M496.9,1131.1 L492.3,1140.5" stroke="#b4b4b4" stroke-width="1.5"/>
<path d="M408.2,1077.0 L401.5,1085.1" stroke="#b4b4b4" stroke-width="1.5"/>
<path d="M333.9,1003.5 L325.6,1009.9" stroke="#b4b4b4" stroke-width="1.5"/>
<path d="M278.3,914.4 L268.7,918.7" stroke="#b4b4b4" stroke-width="1.5"/>
<path d="M244.6,814.3 L234.2,816.2" stroke="#b4b4b4" stroke-width="1.5"/>
<path d="M234.8,708.4 L224.3,707.9" stroke="#b4b4b4" stroke-width="1.5"/>
<path d="M249.8,602.7 L239.7,599.7" stroke="#b4b4b4" stroke-width="1.5"/>
<path d="M289.0,502.6 L279.8,497.5" stroke="#b4b4b4" stroke-width="1.5"/>
<path d="M350.5,413.9 L342.8,406.7" stroke="#b4b4b4" stroke-width="1.5"/>
<path d="M431.3,341.3 L425.5,332.6" stroke="#b4b4b4" stroke-width="1.5"/>
<path d="M527.2,289.1 L523.6,279.2" stroke="#b4b4b4" stroke-width="1.5"/>
<path d="M633.2,260.2 L631.9,249.8" stroke="#b4b4b4" stroke-width="1.5"/>
<path d="M743.5,256.5 L744.6,246.1" stroke="#b4b4b4" stroke-width="1.5"/>
<path d="M852.3,278.6 L855.8,268.7" stroke="#b4b4b4" stroke-width="1.5"/>
<path d="M953.6,325.3 L959.2,316.5" stroke="#b4b4b4" stroke-width="1.5"/>
<path d="M1041.8,394.6 L1049.3,387.3" stroke="#b4b4b4" stroke-width="1.5"/>
<path d="M1112.0,482.7 L1121.1,477.4" stroke="#b4b4b4" stroke-width="1.5"/>
<path d="M1160.3,585.3 L1170.3,582.2" stroke="#b4b4b4" stroke-width="1.5"/>
<path d="M1183.7,696.8 L1194.2,696.1" stroke="#b4b4b4" stroke-width="1.5"/>
<path d="M1180.7,811.3 L1191.1,813.0" stroke="#b4b4b4" stroke-width="1.5"/>
<path d="M1151.3,922.5 L1161.0,926.6" stroke="#b4b4b4" stroke-width="1.5"/>
<path d="M1096.7,1024.5 L1105.2,1030.7" stroke="#b4b4b4" stroke-width="1.5"/>
<path d="M1019.6,1111.6 L1026.4,1119.6" stroke="#b4b4b4" stroke-width="1.5"/>
<path d="M924.1,1178.9 L928.9,1188.2" stroke="#b4b4b4" stroke-width="1.5"/>
<path d="M815.0,1222.5 L817.6,1232.7" stroke="#b4b4b4" stroke-width="1.5"/>
<path d="M698.3,1240.0 L698.4,1250.5" stroke="#b4b4b4" stroke-width="1.5"/>
<path d="M580.1,1229.9 L577.7,1240.1" stroke="#b4b4b4" stroke-width="1.5"/>
<path d="M466.8,1192.7 L462.2,1202.1" stroke="#b4b4b4" stroke-width="1.5"/>
<path d="M364.7,1130.0 L358.0,1138.1" stroke="#b4b4b4" stroke-width="1.5"/>
<path d="M279.4,1045.0 L271.0,1051.4" stroke="#b4b4b4" stroke-width="1.5"/>
<path d="M215.6,942.2 L206.1,946.4" stroke="#b4b4b4" stroke-width="1.5"/>
<path d="M177.2,826.9 L166.9,828.8" stroke="#b4b4b4" stroke-width="1.5"/>
<path d="M166.3,705.2 L155.8,704.7" stroke="#b4b4b4" stroke-width="1.5"/>
<path d="M183.9,583.7 L173.8,580.8" stroke="#b4b4b4" stroke-width="1.5"/>
<path d="M229.3,469.0 L220.1,463.8" stroke="#b4b4b4" stroke-width="1.5"/>
<path d="M300.2,367.3 L292.5,360.2" stroke="#b4b4b4" stroke-width="1.5"/>
<path d="M393.1,284.4 L387.2,275.7" stroke="#b4b4b4" stroke-width="1.5"/>
<path d="M503.1,224.9 L499.4,215.1" stroke="#b4b4b4" stroke-width="1.5"/>
<path d="M624.5,192.2 L623.2,181.8" stroke="#b4b4b4" stroke-width="1.5"/>
<path d="M750.8,188.4 L751.9,177.9" stroke="#b4b4b4" stroke-width="1.5"/>
<path d="M875.0,213.9 L878.5,204.0" stroke="#b4b4b4" stroke-width="1.5"/>
<path d="M990.6,267.7 L996.3,258.8" stroke="#b4b4b4" stroke-width="1.5"/>
<path d="M1091.2,347.0 L1098.7,339.7" stroke="#b4b4b4" stroke-width="1.5"/>
<path d="M1171.0,447.9 L1180.1,442.5" stroke="#b4b4b4" stroke-width="1.5"/>
<path d="M1225.7,565.0 L1235.8,561.9" stroke="#b4b4b4" stroke-width="1.5"/>
<path d="M1252.1,692.1 L1262.5,691.4" stroke="#b4b4b4" stroke-width="1.5"/>
<path d="M1248.3,822.5 L1258.7,824.2" stroke="#b4b4b4" stroke-width="1.5"/>
<path d="M1214.5,949.0 L1224.2,953.1" stroke="#b4b4b4" stroke-width="1.5"/>
<path d="M1152.1,1064.9 L1160.5,1071.1" stroke="#b4b4b4" stroke-width="1.5"/>
<path d="M1064.2,1163.6 L1071.0,1171.6" stroke="#b4b4b4" stroke-width="1.5"/>
<path d="M955.5,1239.8 L960.3,1249.2" stroke="#b4b4b4" stroke-width="1.5"/>
<path d="M831.5,1289.1 L834.0,1299.3" stroke="#b4b4b4" stroke-width="1.5"/>
<path d="M699.0,1308.5 L699.1,1319.0" stroke="#b4b4b4" stroke-width="1.5"/>
<path d="M564.9,1296.8 L562.6,1307.0" stroke="#b4b4b4" stroke-width="1.5"/>
<path d="M436.7,1254.2 L432.1,1263.7" stroke="#b4b4b4" stroke-width="1.5"/>
<path d="M321.2,1182.9 L314.5,1191.1" stroke="#b4b4b4" stroke-width="1.5"/>
<path d="M224.8,1086.5 L216.5,1092.9" stroke="#b4b4b4" stroke-width="1.5"/>
<path d="M153.0,970.0 L143.4,974.2" stroke="#b4b4b4" stroke-width="1.5"/>
<path d="M109.8,839.4 L99.5,841.4" stroke="#b4b4b4" stroke-width="1.5"/>
<path d="M97.9,701.9 L87.4,701.4" stroke="#b4b4b4" stroke-width="1.5"/>
<path d="M118.0,564.7 L108.0,561.8" stroke="#b4b4b4" stroke-width="1.5"/>
<path d="M169.5,435.3 L160.4,430.2" stroke="#b4b4b4" stroke-width="1.5"/>
<path d="M249.9,320.8 L242.1,313.7" stroke="#b4b4b4" stroke-width="1.5"/>
<path d="M354.8,227.5 L349.0,218.8" stroke="#b4b4b4" stroke-width="1.5"/>
</g>
<g fill="none" stroke="#000" stroke-width="1.0" stroke-linecap="butt">
<path d="M535.0,514.1 L537.5,512.2 L540.0,510.3 L542.5,508.4 L545.0,506.5 L547.5,504.7 L550.1,502.9 L552.7,501.2 L555.3,499.5 L557.9,497.8 L560.6,496.1 L563.3,494.5 L565.9,492.9 L568.7,491.3 L571.4,489.7 L574.1,488.2 L576.9,486.7 L579.7,485.3 L582.5,483.9 L585.3,482.5 L588.2,481.1 L591.0,479.8 L593.9,478.5 L596.8,477.3 L599.7,476.1 L602.6,474.9 L605.6,473.7 L608.5,472.6 L611.5,471.5 L614.5,470.5 L617.5,469.4 L620.5,468.5 L623.5,467.5 L626.5,466.6 L629.6,465.7 L632.6,464.9 L635.7,464.1 L638.8,463.3 L641.8,462.5 L644.9,461.8 L648.0,461.2 L651.2,460.5 L654.3,460.0 L657.4,459.4 L660.6,458.9 L663.7,458.4 L666.9,457.9 L670.0,457.5 L673.2,457.2 L676.4,456.8 L679.5,456.5 L682.7,456.2 L685.9,456.0 L689.1,455.8 L692.3,455.7 L695.5,455.6 L698.7,455.5 L701.9,455.4 L705.1,455.4 L708.3,455.5 L711.5,455.5 L714.7,455.6 L717.9,455.8 L721.1,456.0 L724.3,456.2 L727.5,456.4 L730.7,456.7 L733.9,457.1 L737.1,457.4 L740.3,457.8 L743.5,458.3 L746.7,458.8 L749.9,459.3 L753.1,459.8 L756.2,460.4 L759.4,461.1 L762.6,461.7 L765.7,462.4 L768.9,463.2 L772.0,463.9 L775.1,464.8 L778.2,465.6 L781.4,466.5 L784.5,467.4 L787.6,468.4 L790.6,469.4 L793.7,470.4 L796.8,471.5 L799.8,472.6 L802.9,473.7 L805.9,474.9 L808.9,476.1 L811.9,477.4 L814.9,478.7 L817.9,480.0 L820.9,481.3 L823.8,482.7 L826.7,484.2 L829.7,485.6 L832.6,487.1 L835.4,488.7 L838.3,490.2 L841.2,491.8 L844.0,493.4 L846.8,495.1 L849.6,496.8 L852.4,498.5 L855.1,500.3 L857.9,502.1 L860.6,503.9 L863.3,505.8 L866.0,507.7 L868.6,509.6 L871.3,511.6 L873.9,513.6 L876.5,515.6 L879.1,517.6 L881.6,519.7 L884.1,521.8 L886.6,524.0 L889.1,526.2 L891.6,528.4 L894.0,530.6 L896.4,532.9 L898.8,535.2 L901.1,537.5 L903.4,539.8 L905.7,542.2 L908.0,544.6 L910.2,547.0 L912.5,549.5 L914.6,552.0 L916.8,554.5 L918.9,557.0 L921.0,559.6 L923.1,562.2 L925.2,564.8 L927.2,567.4 L929.2,570.1 L931.1,572.8 L933.0,575.5 L934.9,578.2 L936.8,581.0 L938.6,583.8 L940.4,586.6 L942.2,589.4 L943.9,592.2 L945.6,595.1 L947.3,598.0 L948.9,600.9 L950.5,603.8 L952.1,606.8 L953.6,609.7 L955.1,612.7 L956.6,615.7 L958.0,618.8 L959.4,621.8 L960.8,624.9 L962.1,627.9 L963.4,631.0 L964.7,634.1 L965.9,637.3 L967.1,640.4 L968.2,643.6 L969.4,646.7 L970.4,649.9 L971.5,653.1 L972.5,656.3 L973.4,659.5 L974.4,662.8 L975.3,666.0 L976.1,669.3 L976.9,672.6 L977.7,675.8 L978.4,679.1 L979.1,682.4 L979.8,685.8 L980.4,689.1 L981.0,692.4 L981.6,695.7 L982.1,699.1 L982.6,702.4 L983.0,705.8 L983.4,709.2 L983.7,712.5 L984.1,715.9 L984.3,719.3 L984.6,722.7 L984.8,726.1 L984.9,729.5 L985.0,732.8 L985.1,736.2 L985.2,739.6 L985.2,743.1 L985.1,746.5 L985.0,749.9 L984.9,753.3 L984.8,756.7 L984.6,760.1 L984.3,763.5 L984.0,766.9 L983.7,770.3 L983.4,773.7 L983.0,777.1 L982.5,780.5 L982.1,783.8 L981.5,787.2 L981.0,790.6 L980.4,794.0 L979.8,797.3 L979.1,800.7 L978.4,804.1 L977.6,807.4 L976.8,810.7 L976.0,814.1 L975.1,817.4 L974.2,820.7 L973.3,824.0 L972.3,827.3 L971.2,830.6 L970.2,833.9 L969.1,837.1 L967.9,840.4 L966.7,843.6 L965.5,846.8 L964.3,850.1 L963.0,853.3 L961.6,856.4 L960.3,859.6 L958.9,862.8 L957.4,865.9 L955.9,869.0 L954.4,872.1 L952.9,875.2 L951.3,878.3 L949.7,881.4 L948.0,884.4 L946.3,887.4 L944.6,890.4 L942.8,893.4 L941.0,896.4 L939.1,899.3 L937.3,902.2 L935.3,905.2 L933.4,908.0 L931.4,910.9 L929.4,913.7 L927.3,916.5 L925.3,919.3 L923.2,922.1 L921.0,924.9 L918.8,927.6 L916.6,930.3 L914.4,932.9 L912.1,935.6 L909.8,938.2 L907.4,940.8 L905.1,943.4 L902.7,945.9 L900.2,948.4 L897.8,950.9 L895.3,953.4 L892.7,955.8 L890.2,958.2 L887.6,960.6 L885.0,962.9 L882.4,965.3 L879.7,967.5 L877.0,969.8 L874.3,972.0 L871.5,974.2 L868.8,976.4 L866.0,978.5 L863.1,980.6 L860.3,982.7 L857.4,984.7 L854.5,986.7 L851.6,988.7 L848.6,990.6 L845.7,992.5 L842.7,994.4 L839.6,996.2 L836.6,998.0 L833.5,999.8 L830.5,1001.5 L827.3,1003.2 L824.2,1004.9 L821.1,1006.5 L817.9,1008.1 L814.7,1009.6 L811.5,1011.1 L808.3,1012.6 L805.0,1014.1 L801.8,1015.5 L798.5,1016.8 L795.2,1018.1 L791.9,1019.4 L788.6,1020.7 L785.2,1021.9 L781.9,1023.1 L778.5,1024.2 L775.1,1025.3 L771.7,1026.4 L768.3,1027.4 L764.9,1028.4 L761.4,1029.3 L758.0,1030.2 L754.5,1031.1 L751.0,1031.9 L747.5,1032.7 L744.0,1033.4 L740.5,1034.1 L737.0,1034.7 L733.5,1035.4 L729.9,1035.9 L726.4,1036.5 L722.8,1037.0 L719.3,1037.4 L715.7,1037.8 L712.2,1038.2 L708.6,1038.5 L705.0,1038.8 L701.4,1039.1 L697.8,1039.3 L694.2,1039.4 L690.6,1039.5 L687.0,1039.6 L683.4,1039.7 L679.8,1039.7 L676.2,1039.6 L672.6,1039.5 L669.0,1039.4 L665.4,1039.2 L661.8,1039.0 L658.2,1038.7 L654.6,1038.4 L651.0,1038.1 L647.4,1037.7 L643.8,1037.3 L640.3,1036.8 L636.7,1036.3 L633.1,1035.8 L629.5,1035.2 L626.0,1034.5 L622.4,1033.9 L618.8,1033.1 L615.3,1032.4 L611.8,1031.6 L608.2,1030.7 L604.7,1029.8 L601.2,1028.9 L597.7,1027.9 L594.2,1026.9 L590.7,1025.9 L587.2,1024.8 L583.8,1023.7 L580.3,1022.5 L576.9,1021.3 L573.5,1020.0 L570.1,1018.7 L566.7,1017.4 L563.3,1016.0 L559.9,1014.6 L556.6,1013.2 L553.2,1011.7 L549.9,1010.1 L546.6,1008.6 L543.3,1007.0 L540.0,1005.3 L536.8,1003.6 L533.6,1001.9 L530.4,1000.1 L527.2,998.3 L524.0,996.5 L520.8,994.6 L517.7,992.7 L514.6,990.7 L511.5,988.7 L508.4,986.7 L505.4,984.7 L502.4,982.6 L499.4,980.4 L496.4,978.3 L493.5,976.0 L490.5,973.8 L487.6,971.5 L484.8,969.2 L481.9,966.9 L479.1,964.5 L476.3,962.1 L473.5,959.6 L470.8,957.2 L468.1,954.7 L465.4,952.1 L462.7,949.5 L460.1,946.9 L457.5,944.3 L454.9,941.6 L452.4,938.9 L449.9,936.2 L447.4,933.4 L445.0,930.6 L442.6,927.8 L440.2,925.0 L437.8,922.1 L435.5,919.2 L433.2,916.2 L431.0,913.3 L428.8,910.3 L426.6,907.3 L424.5,904.2 L422.3,901.2 L420.3,898.1 L418.2,895.0 L416.2,891.8 L414.3,888.6 L412.3,885.5 L410.4,882.2 L408.6,879.0 L406.7,875.7 L405.0,872.5 L403.2,869.2 L401.5,865.8 L399.8,862.5 L398.2,859.1 L396.6,855.7 L395.1,852.3 L393.5,848.9 L392.1,845.4 L390.6,842.0 L389.2,838.5 L387.9,835.0 L386.6,831.5 L385.3,827.9 L384.0,824.4 L382.9,820.8 L381.7,817.2 L380.6,813.7 L379.5,810.0 L378.5,806.4 L377.5,802.8 L376.6,799.1 L375.7,795.5 L374.8,791.8 L374.0,788.1 L373.2,784.4 L372.5,780.7 L371.8,777.0 L371.1,773.3 L370.5,769.6 L370.0,765.8 L369.5,762.1 L369.0,758.3 L368.6,754.6 L368.2,750.8 L367.8,747.0 L367.5,743.2 L367.3,739.5 L367.1,735.7 L366.9,731.9 L366.8,728.1 L366.7,724.3 L366.7,720.5 L366.7,716.7 L366.7,712.9 L366.8,709.1 L367.0,705.3 L367.2,701.5 L367.4,697.7 L367.7,693.9 L368.0,690.1 L368.4,686.3 L368.8,682.5 L369.2,678.7 L369.7,674.9 L370.3,671.1 L370.9,667.4 L371.5,663.6 L372.2,659.8 L372.9,656.1 L373.6,652.3 L374.5,648.6 L375.3,644.9 L376.2,641.1 L377.1,637.4 L378.1,633.7 L379.1,630.0 L380.2,626.3 L381.3,622.7 L382.5,619.0 L383.7,615.3 L384.9,611.7 L386.2,608.1 L387.5,604.5 L388.9,600.9 L390.3,597.3 L391.8,593.7 L393.3,590.2 L394.8,586.7 L396.4,583.1 L398.0,579.6 L399.7,576.2 L401.4,572.7 L403.1,569.3 L404.9,565.8 L406.7,562.4 L408.6,559.0 L410.5,555.7 L412.4,552.3 L414.4,549.0 L416.4,545.7 L418.5,542.4 L420.6,539.2 L422.7,536.0 L424.9,532.8 L427.1,529.6 L429.4,526.4 L431.7,523.3 L434.0,520.2 L436.4,517.1 L438.8,514.0 L441.2,511.0 L443.7,508.0 L446.2,505.0 L448.7,502.1 L451.3,499.2 L453.9,496.3 L456.6,493.5 L459.3,490.6 L462.0,487.8 L464.7,485.1 L467.5,482.3 L470.3,479.6 L473.2,477.0 L476.1,474.3 L479.0,471.7 L481.9,469.2 L484.9,466.6 L487.9,464.1 L490.9,461.6 L494.0,459.2 L497.1,456.8 L500.2,454.4 L503.4,452.1 L506.5,449.8 L509.8,447.6 L513.0,445.3 L516.2,443.2 L519.5,441.0 L522.8,438.9 L526.2,436.8 L529.6,434.8 L532.9,432.8 L536.4,430.9 L539.8,428.9 L543.3,427.1 L546.7,425.2 L550.2,423.4 L553.8,421.7 L557.3,420.0 L560.9,418.3 L564.5,416.7 L568.1,415.1 L571.7,413.5 L575.4,412.0 L579.0,410.5 L582.7,409.1 L586.4,407.7 L590.2,406.4 L593.9,405.1 L597.7,403.8 L601.4,402.6 L605.2,401.5 L609.0,400.3 L612.8,399.3 L616.7,398.2 L620.5,397.2 L624.3,396.3 L628.2,395.4 L632.1,394.5 L636.0,393.7 L639.9,393.0 L643.8,392.2 L647.7,391.6 L651.6,390.9 L655.6,390.4 L659.5,389.8 L663.5,389.3 L667.4,388.9 L671.4,388.5 L675.4,388.1 L679.4,387.8 L683.3,387.5 L687.3,387.3 L691.3,387.2 L695.3,387.0 L699.3,387.0 L703.3,386.9 L707.3,386.9 L711.3,387.0 L715.3,387.1 L719.3,387.3 L723.3,387.5 L727.3,387.7 L731.3,388.0 L735.3,388.4 L739.3,388.7 L743.3,389.2 L747.3,389.7 L751.2,390.2 L755.2,390.8 L759.2,391.4 L763.2,392.1 L767.1,392.8 L771.1,393.5 L775.0,394.3 L778.9,395.2 L782.9,396.1 L786.8,397.0 L790.7,398.0 L794.6,399.1 L798.5,400.1 L802.3,401.3 L806.2,402.5 L810.1,403.7 L813.9,404.9 L817.7,406.2 L821.5,407.6 L825.3,409.0 L829.1,410.4 L832.9,411.9 L836.6,413.5 L840.3,415.0 L844.1,416.7 L847.8,418.3 L851.4,420.0 L855.1,421.8 L858.7,423.6 L862.3,425.4 L865.9,427.3 L869.5,429.2 L873.1,431.2 L876.6,433.2 L880.1,435.2 L883.6,437.3 L887.1,439.5 L890.5,441.6 L893.9,443.8 L897.3,446.1 L900.7,448.4 L904.1,450.7 L907.4,453.1 L910.7,455.5 L913.9,458.0 L917.2,460.4 L920.4,463.0 L923.5,465.5 L926.7,468.1 L929.8,470.8 L932.9,473.5 L936.0,476.2 L939.0,478.9 L942.0,481.7 L945.0,484.5 L947.9,487.4 L950.8,490.3 L953.7,493.2 L956.5,496.2 L959.3,499.2 L962.1,502.2 L964.8,505.3 L967.5,508.4 L970.2,511.5 L972.8,514.7 L975.4,517.9 L977.9,521.1 L980.5,524.3 L982.9,527.6 L985.4,530.9 L987.8,534.3 L990.2,537.6 L992.5,541.0 L994.8,544.5 L997.0,547.9 L999.2,551.4 L1001.4,554.9 L1003.5,558.5 L1005.6,562.0 L1007.7,565.6 L1009.7,569.2 L1011.7,572.9 L1013.6,576.5 L1015.5,580.2 L1017.3,583.9 L1019.1,587.7 L1020.9,591.4 L1022.6,595.2 L1024.2,599.0 L1025.9,602.8 L1027.5,606.6 L1029.0,610.5 L1030.5,614.4 L1031.9,618.2 L1033.3,622.2 L1034.7,626.1 L1036.0,630.0 L1037.3,634.0 L1038.5,638.0 L1039.7,642.0 L1040.8,646.0 L1041.9,650.0 L1042.9,654.0 L1043.9,658.1 L1044.8,662.1 L1045.7,666.2 L1046.6,670.3 L1047.4,674.4 L1048.1,678.5 L1048.8,682.6 L1049.5,686.7 L1050.1,690.9 L1050.7,695.0 L1051.2,699.2 L1051.7,703.3 L1052.1,707.5 L1052.4,711.7 L1052.8,715.8 L1053.0,720.0 L1053.3,724.2 L1053.4,728.4 L1053.6,732.6 L1053.6,736.8 L1053.7,741.0 L1053.6,745.2 L1053.6,749.4 L1053.5,753.6 L1053.3,757.8 L1053.1,762.0 L1052.8,766.2 L1052.5,770.4 L1052.1,774.6 L1051.7,778.8 L1051.3,782.9 L1050.7,787.1 L1050.2,791.3 L1049.6,795.5 L1048.9,799.6 L1048.2,803.8 L1047.5,808.0 L1046.7,812.1 L1045.8,816.2 L1044.9,820.4 L1044.0,824.5 L1043.0,828.6 L1041.9,832.7 L1040.8,836.8 L1039.7,840.9 L1038.5,844.9 L1037.3,849.0 L1036.0,853.0 L1034.7,857.0 L1033.3,861.1 L1031.9,865.1 L1030.4,869.0 L1028.9,873.0 L1027.3,876.9 L1025.7,880.9 L1024.0,884.8 L1022.3,888.7 L1020.6,892.6 L1018.8,896.4 L1016.9,900.2 L1015.1,904.1 L1013.1,907.9 L1011.2,911.6 L1009.1,915.4 L1007.1,919.1 L1005.0,922.8 L1002.8,926.5 L1000.6,930.2 L998.4,933.8 L996.1,937.4 L993.8,941.0 L991.4,944.5 L989.0,948.1 L986.5,951.6 L984.1,955.1 L981.5,958.5 L978.9,961.9 L976.3,965.3 L973.7,968.7 L971.0,972.0 L968.2,975.3 L965.5,978.6 L962.7,981.8 L959.8,985.0 L956.9,988.2 L954.0,991.3 L951.0,994.4 L948.0,997.5 L945.0,1000.6 L941.9,1003.6 L938.8,1006.5 L935.7,1009.5 L932.5,1012.4 L929.3,1015.2 L926.0,1018.1 L922.7,1020.9 L919.4,1023.6 L916.1,1026.3 L912.7,1029.0 L909.3,1031.6 L905.8,1034.2 L902.4,1036.8 L898.9,1039.3 L895.3,1041.8 L891.7,1044.2 L888.2,1046.6 L884.5,1049.0 L880.9,1051.3 L877.2,1053.6 L873.5,1055.8 L869.7,1058.0 L866.0,1060.1 L862.2,1062.2 L858.4,1064.3 L854.5,1066.3 L850.7,1068.3 L846.8,1070.2 L842.9,1072.1 L838.9,1073.9 L835.0,1075.7 L831.0,1077.5 L827.0,1079.2 L823.0,1080.8 L818.9,1082.4 L814.9,1084.0 L810.8,1085.5 L806.7,1087.0 L802.6,1088.4 L798.4,1089.8 L794.3,1091.1 L790.1,1092.4 L785.9,1093.6 L781.7,1094.8 L777.5,1095.9 L773.3,1097.0 L769.1,1098.0 L764.8,1099.0 L760.5,1099.9 L756.2,1100.8 L752.0,1101.6 L747.7,1102.4 L743.3,1103.2 L739.0,1103.9 L734.7,1104.5 L730.3,1105.1 L726.0,1105.6 L721.6,1106.1 L717.3,1106.5 L712.9,1106.9 L708.5,1107.2 L704.1,1107.5 L699.8,1107.8 L695.4,1107.9 L691.0,1108.1 L686.6,1108.1 L682.2,1108.2 L677.8,1108.1 L673.4,1108.1 L669.0,1107.9 L664.6,1107.8 L660.2,1107.5 L655.8,1107.3 L651.4,1106.9 L647.0,1106.5 L642.6,1106.1 L638.2,1105.6 L633.9,1105.1 L629.5,1104.5 L625.1,1103.8 L620.8,1103.2 L616.4,1102.4 L612.1,1101.6 L607.7,1100.8 L603.4,1099.9 L599.1,1098.9 L594.7,1097.9 L590.4,1096.9 L586.1,1095.8 L581.9,1094.7 L577.6,1093.5 L573.3,1092.2 L569.1,1090.9 L564.9,1089.6 L560.7,1088.2 L556.5,1086.7 L552.3,1085.2 L548.1,1083.7 L544.0,1082.1 L539.8,1080.5 L535.7,1078.8 L531.6,1077.0 L527.6,1075.2 L523.5,1073.4 L519.5,1071.5 L515.5,1069.6 L511.5,1067.6 L507.5,1065.6 L503.5,1063.5 L499.6,1061.4 L495.7,1059.2 L491.8,1057.0 L488.0,1054.8 L484.2,1052.5 L480.4,1050.1 L476.6,1047.7 L472.8,1045.3 L469.1,1042.8 L465.4,1040.3 L461.7,1037.7 L458.1,1035.1 L454.5,1032.5 L450.9,1029.8 L447.4,1027.0 L443.9,1024.3 L440.4,1021.4 L436.9,1018.6 L433.5,1015.7 L430.1,1012.7 L426.8,1009.7 L423.5,1006.7 L420.2,1003.6 L416.9,1000.5 L413.7,997.4 L410.5,994.2 L407.4,991.0 L404.3,987.7 L401.2,984.5 L398.2,981.1 L395.2,977.8 L392.2,974.4 L389.3,970.9 L386.4,967.5 L383.6,963.9 L380.8,960.4 L378.0,956.8 L375.3,953.2 L372.6,949.6 L370.0,945.9 L367.4,942.2 L364.9,938.5 L362.4,934.7 L359.9,930.9 L357.5,927.1 L355.1,923.2 L352.8,919.4 L350.5,915.5 L348.3,911.5 L346.1,907.5 L343.9,903.6 L341.8,899.5 L339.7,895.5 L337.7,891.4 L335.8,887.3 L333.9,883.2 L332.0,879.1 L330.2,874.9 L328.4,870.7 L326.7,866.5 L325.0,862.3 L323.4,858.1 L321.8,853.8 L320.2,849.5 L318.8,845.2 L317.3,840.9 L315.9,836.5 L314.6,832.2 L313.3,827.8 L312.1,823.4 L310.9,819.0 L309.8,814.6 L308.7,810.1 L307.7,805.7 L306.7,801.2 L305.8,796.7 L304.9,792.2 L304.1,787.7 L303.3,783.2 L302.6,778.7 L302.0,774.2 L301.4,769.6 L300.8,765.1 L300.3,760.5 L299.9,756.0 L299.5,751.4 L299.1,746.8 L298.8,742.3 L298.6,737.7 L298.4,733.1 L298.3,728.5 L298.2,723.9 L298.2,719.3 L298.2,714.7 L298.3,710.1 L298.4,705.5 L298.6,700.9 L298.8,696.3 L299.1,691.7 L299.5,687.1 L299.9,682.5 L300.4,678.0 L300.9,673.4 L301.4,668.8 L302.0,664.2 L302.7,659.7 L303.4,655.1 L304.2,650.5 L305.1,646.0 L305.9,641.5 L306.9,636.9 L307.9,632.4 L308.9,627.9 L310.0,623.4 L311.2,618.9 L312.4,614.5 L313.6,610.0 L314.9,605.6 L316.3,601.1 L317.7,596.7 L319.1,592.3 L320.7,587.9 L322.2,583.6 L323.8,579.2 L325.5,574.9 L327.2,570.6 L329.0,566.3 L330.8,562.0 L332.7,557.7 L334.6,553.5 L336.6,549.3 L338.6,545.1 L340.7,540.9 L342.8,536.8 L344.9,532.7 L347.1,528.6 L349.4,524.5 L351.7,520.4 L354.1,516.4 L356.5,512.4 L358.9,508.4 L361.4,504.5 L364.0,500.6 L366.6,496.7 L369.2,492.8 L371.9,489.0 L374.6,485.2 L377.4,481.5 L380.2,477.7 L383.1,474.0 L386.0,470.3 L388.9,466.7 L391.9,463.1 L395.0,459.5 L398.0,456.0 L401.2,452.5 L404.3,449.0 L407.5,445.6 L410.8,442.2 L414.1,438.9 L417.4,435.5 L420.7,432.3 L424.1,429.0 L427.6,425.8 L431.1,422.7 L434.6,419.5 L438.1,416.4 L441.7,413.4 L445.3,410.4 L449.0,407.4 L452.7,404.5 L456.4,401.6 L460.2,398.8 L464.0,396.0 L467.8,393.3 L471.7,390.6 L475.6,387.9 L479.5,385.3 L483.5,382.7 L487.5,380.2 L491.5,377.7 L495.6,375.3 L499.7,372.9 L503.8,370.6 L507.9,368.3 L512.1,366.0 L516.3,363.9 L520.5,361.7 L524.7,359.6 L529.0,357.6 L533.3,355.6 L537.6,353.6 L542.0,351.7 L546.4,349.9 L550.7,348.1 L555.2,346.3 L559.6,344.6 L564.1,343.0 L568.5,341.4 L573.0,339.8 L577.5,338.3 L582.1,336.9 L586.6,335.5 L591.2,334.2 L595.8,332.9 L600.4,331.7 L605.0,330.5 L609.6,329.4 L614.3,328.3 L618.9,327.3 L623.6,326.3 L628.3,325.4 L633.0,324.6 L637.7,323.8 L642.4,323.0 L647.1,322.4 L651.9,321.7 L656.6,321.1 L661.4,320.6 L666.1,320.2 L670.9,319.7 L675.7,319.4 L680.5,319.1 L685.2,318.8 L690.0,318.6 L694.8,318.5 L699.6,318.4 L704.4,318.4 L709.2,318.4 L714.0,318.5 L718.8,318.7 L723.6,318.9 L728.4,319.1 L733.2,319.5 L738.0,319.8 L742.8,320.2 L747.5,320.7 L752.3,321.3 L757.1,321.9 L761.9,322.5 L766.6,323.2 L771.4,324.0 L776.1,324.8 L780.9,325.6 L785.6,326.6 L790.3,327.6 L795.0,328.6 L799.7,329.7 L804.4,330.8 L809.1,332.0 L813.8,333.3 L818.4,334.6 L823.0,336.0 L827.7,337.4 L832.3,338.8 L836.9,340.4 L841.4,342.0 L846.0,343.6 L850.5,345.3 L855.0,347.0 L859.5,348.8 L864.0,350.7 L868.5,352.6 L872.9,354.5 L877.3,356.5 L881.7,358.6 L886.1,360.7 L890.4,362.8 L894.8,365.0 L899.1,367.3 L903.3,369.6 L907.6,372.0 L911.8,374.4 L916.0,376.8 L920.2,379.4 L924.3,381.9 L928.4,384.5 L932.5,387.2 L936.5,389.9 L940.6,392.6 L944.5,395.4 L948.5,398.3 L952.4,401.2 L956.3,404.1 L960.2,407.1 L964.0,410.1 L967.8,413.2 L971.5,416.3 L975.3,419.5 L979.0,422.7 L982.6,426.0 L986.2,429.3 L989.8,432.6 L993.3,436.0 L996.8,439.4 L1000.3,442.9 L1003.7,446.4 L1007.1,449.9 L1010.4,453.5 L1013.7,457.2 L1016.9,460.8 L1020.2,464.5 L1023.3,468.3 L1026.5,472.1 L1029.5,475.9 L1032.6,479.7 L1035.6,483.6 L1038.5,487.5 L1041.4,491.5 L1044.3,495.5 L1047.1,499.5 L1049.9,503.6 L1052.6,507.7 L1055.3,511.8 L1057.9,516.0 L1060.5,520.2 L1063.0,524.4 L1065.5,528.7 L1067.9,533.0 L1070.3,537.3 L1072.6,541.6 L1074.9,546.0 L1077.2,550.4 L1079.3,554.8 L1081.5,559.3 L1083.6,563.8 L1085.6,568.3 L1087.6,572.8 L1089.5,577.3 L1091.4,581.9 L1093.2,586.5 L1095.0,591.1 L1096.7,595.8 L1098.3,600.5 L1099.9,605.1 L1101.5,609.8 L1103.0,614.6 L1104.4,619.3 L1105.8,624.1 L1107.1,628.9 L1108.4,633.6 L1109.6,638.5 L1110.8,643.3 L1111.9,648.1 L1113.0,653.0 L1114.0,657.8 L1114.9,662.7 L1115.8,667.6 L1116.6,672.5 L1117.4,677.4 L1118.1,682.4 L1118.8,687.3 L1119.4,692.2 L1119.9,697.2 L1120.4,702.2 L1120.8,707.1 L1121.2,712.1 L1121.5,717.1 L1121.7,722.0 L1121.9,727.0 L1122.1,732.0 L1122.2,737.0 L1122.2,742.0 L1122.1,747.0 L1122.0,752.0 L1121.9,757.0 L1121.7,762.0 L1121.4,767.0 L1121.1,772.0 L1120.7,777.0 L1120.2,782.0 L1119.7,786.9 L1119.2,791.9 L1118.6,796.9 L1117.9,801.8 L1117.2,806.8 L1116.4,811.8 L1115.5,816.7 L1114.6,821.6 L1113.6,826.6 L1112.6,831.5 L1111.5,836.4 L1110.4,841.3 L1109.2,846.2 L1107.9,851.0 L1106.6,855.9 L1105.3,860.7 L1103.9,865.5 L1102.4,870.4 L1100.8,875.1 L1099.2,879.9 L1097.6,884.7 L1095.9,889.4 L1094.1,894.2 L1092.3,898.9 L1090.4,903.5 L1088.5,908.2 L1086.5,912.8 L1084.5,917.5 L1082.4,922.1 L1080.3,926.6 L1078.1,931.2 L1075.8,935.7 L1073.5,940.2 L1071.2,944.7 L1068.8,949.1 L1066.3,953.5 L1063.8,957.9 L1061.2,962.3 L1058.6,966.6 L1056.0,970.9 L1053.2,975.2 L1050.5,979.5 L1047.6,983.7 L1044.8,987.9 L1041.9,992.0 L1038.9,996.1 L1035.9,1000.2 L1032.8,1004.3 L1029.7,1008.3 L1026.6,1012.3 L1023.4,1016.2 L1020.1,1020.1 L1016.8,1024.0 L1013.5,1027.8 L1010.1,1031.6 L1006.6,1035.4 L1003.2,1039.1 L999.6,1042.7 L996.1,1046.4 L992.5,1050.0 L988.8,1053.5 L985.1,1057.0 L981.4,1060.5 L977.6,1063.9 L973.8,1067.3 L969.9,1070.7 L966.0,1074.0 L962.1,1077.2 L958.1,1080.4 L954.1,1083.6 L950.1,1086.7 L946.0,1089.8 L941.8,1092.8 L937.7,1095.8 L933.5,1098.7 L929.3,1101.6 L925.0,1104.4 L920.7,1107.2 L916.4,1109.9 L912.0,1112.6 L907.6,1115.2 L903.2,1117.8 L898.7,1120.3 L894.2,1122.8 L889.7,1125.2 L885.1,1127.6 L880.6,1129.9 L876.0,1132.2 L871.3,1134.4 L866.7,1136.6 L862.0,1138.7 L857.3,1140.8 L852.5,1142.8 L847.8,1144.7 L843.0,1146.6 L838.2,1148.4 L833.3,1150.2 L828.5,1151.9 L823.6,1153.6 L818.7,1155.2 L813.8,1156.8 L808.9,1158.3 L803.9,1159.7 L798.9,1161.1 L793.9,1162.4 L788.9,1163.7 L783.9,1164.9 L778.9,1166.1 L773.8,1167.1 L768.8,1168.2 L763.7,1169.2 L758.6,1170.1 L753.5,1170.9 L748.4,1171.7 L743.3,1172.5 L738.1,1173.2 L733.0,1173.8 L727.9,1174.3 L722.7,1174.8 L717.5,1175.3 L712.4,1175.7 L707.2,1176.0 L702.0,1176.2 L696.8,1176.4 L691.6,1176.6 L686.4,1176.7 L681.2,1176.7 L676.1,1176.6 L670.9,1176.5 L665.7,1176.4 L660.5,1176.2 L655.3,1175.9 L650.1,1175.5 L644.9,1175.1 L639.7,1174.7 L634.5,1174.1 L629.4,1173.6 L624.2,1172.9 L619.0,1172.2 L613.9,1171.4 L608.7,1170.6 L603.6,1169.7 L598.4,1168.8 L593.3,1167.8 L588.2,1166.7 L583.1,1165.6 L578.0,1164.4 L573.0,1163.2 L567.9,1161.8 L562.9,1160.5 L557.8,1159.1 L552.8,1157.6 L547.8,1156.0 L542.8,1154.4 L537.9,1152.8 L532.9,1151.1 L528.0,1149.3 L523.1,1147.5 L518.2,1145.6 L513.3,1143.6 L508.5,1141.6 L503.6,1139.6 L498.8,1137.5 L494.1,1135.3 L489.3,1133.1 L484.6,1130.8 L479.9,1128.4 L475.2,1126.0 L470.6,1123.6 L465.9,1121.1 L461.3,1118.5 L456.8,1115.9 L452.2,1113.2 L447.7,1110.5 L443.3,1107.8 L438.8,1104.9 L434.4,1102.0 L430.0,1099.1 L425.7,1096.1 L421.4,1093.1 L417.1,1090.0 L412.9,1086.9 L408.7,1083.7 L404.5,1080.5 L400.3,1077.2 L396.3,1073.9 L392.2,1070.5 L388.2,1067.0 L384.2,1063.6 L380.3,1060.0 L376.3,1056.5 L372.5,1052.9 L368.7,1049.2 L364.9,1045.5 L361.2,1041.7 L357.5,1037.9 L353.8,1034.1 L350.2,1030.2 L346.7,1026.3 L343.1,1022.3 L339.7,1018.3 L336.2,1014.3 L332.9,1010.2 L329.5,1006.1 L326.3,1001.9 L323.0,997.7 L319.8,993.4 L316.7,989.1 L313.6,984.8 L310.6,980.4 L307.6,976.1 L304.6,971.6 L301.7,967.2 L298.9,962.6 L296.1,958.1 L293.4,953.5 L290.7,948.9 L288.1,944.3 L285.5,939.6 L283.0,934.9 L280.5,930.2 L278.1,925.5 L275.8,920.7 L273.5,915.9 L271.2,911.0 L269.0,906.1 L266.9,901.2 L264.8,896.3 L262.8,891.4 L260.8,886.4 L258.9,881.4 L257.1,876.4 L255.3,871.3 L253.6,866.3 L251.9,861.2 L250.3,856.1 L248.7,851.0 L247.2,845.8 L245.8,840.7 L244.4,835.5 L243.1,830.3 L241.8,825.1 L240.7,819.8 L239.5,814.6 L238.4,809.3 L237.4,804.1 L236.5,798.8 L235.6,793.5 L234.8,788.2 L234.0,782.9 L233.3,777.5 L232.7,772.2 L232.1,766.8 L231.6,761.5 L231.1,756.1 L230.7,750.7 L230.4,745.4 L230.1,740.0 L229.9,734.6 L229.7,729.2 L229.7,723.8 L229.6,718.4 L229.7,713.0 L229.8,707.7 L230.0,702.3 L230.2,696.9 L230.5,691.5 L230.9,686.1 L231.3,680.7 L231.8,675.3 L232.3,669.9 L232.9,664.6 L233.6,659.2 L234.3,653.8 L235.1,648.5 L236.0,643.1 L236.9,637.8 L237.9,632.5 L238.9,627.2 L240.0,621.9 L241.2,616.6 L242.4,611.3 L243.7,606.0 L245.1,600.8 L246.5,595.5 L248.0,590.3 L249.5,585.1 L251.1,579.9 L252.8,574.7 L254.5,569.6 L256.3,564.4 L258.1,559.3 L260.0,554.2 L262.0,549.2 L264.0,544.1 L266.1,539.1 L268.2,534.1 L270.4,529.1 L272.7,524.1 L275.0,519.2 L277.4,514.3 L279.8,509.4 L282.3,504.6 L284.8,499.7 L287.4,494.9 L290.1,490.2 L292.8,485.4 L295.6,480.7 L298.4,476.1 L301.3,471.4 L304.2,466.8 L307.2,462.2 L310.2,457.7 L313.3,453.2 L316.5,448.7 L319.7,444.3 L322.9,439.9 L326.2,435.5 L329.6,431.2 L333.0,426.9 L336.5,422.6 L340.0,418.4 L343.5,414.3 L347.1,410.1 L350.8,406.0 L354.5,402.0 L358.3,398.0 L362.1,394.0 L365.9,390.1 L369.8,386.2 L373.7,382.4 L377.7,378.6 L381.8,374.9 L385.8,371.2 L389.9,367.5 L394.1,363.9 L398.3,360.4 L402.6,356.9 L406.8,353.4 L411.2,350.0 L415.5,346.7 L420.0,343.4 L424.4,340.1 L428.9,336.9 L433.4,333.8 L438.0,330.7 L442.6,327.6 L447.2,324.6 L451.9,321.7 L456.6,318.8 L461.3,316.0 L466.1,313.2 L470.9,310.4 L475.8,307.8 L480.6,305.2 L485.5,302.6 L490.5,300.1 L495.4,297.7 L500.4,295.3 L505.5,293.0 L510.5,290.7 L515.6,288.5 L520.7,286.3 L525.8,284.2 L531.0,282.2 L536.2,280.2 L541.4,278.3 L546.6,276.5 L551.9,274.7 L557.1,272.9 L562.4,271.3 L567.7,269.6 L573.1,268.1 L578.4,266.6 L583.8,265.2 L589.2,263.8 L594.6,262.5 L600.0,261.3 L605.5,260.1 L610.9,259.0 L616.4,257.9 L621.9,257.0 L627.4,256.0 L632.9,255.2 L638.4,254.4 L643.9,253.7 L649.5,253.0 L655.0,252.4 L660.6,251.9 L666.1,251.4 L671.7,251.0 L677.3,250.6 L682.8,250.4 L688.4,250.1 L694.0,250.0 L699.6,249.9 L705.2,249.9 L710.8,249.9 L716.4,250.1 L722.0,250.2 L727.6,250.5 L733.2,250.8 L738.7,251.2 L744.3,251.6 L749.9,252.1 L755.5,252.7 L761.1,253.3 L766.6,254.0 L772.2,254.8 L777.7,255.6 L783.3,256.5 L788.8,257.4 L794.3,258.5 L799.8,259.5 L805.3,260.7 L810.8,261.9 L816.3,263.2 L821.7,264.5 L827.2,265.9 L832.6,267.4 L838.0,268.9 L843.4,270.5 L848.8,272.2 L854.2,273.9 L859.5,275.7 L864.8,277.6 L870.1,279.5 L875.4,281.4 L880.7,283.5 L885.9,285.6 L891.1,287.7 L896.3,289.9 L901.5,292.2 L906.6,294.6 L911.7,297.0 L916.8,299.4 L921.9,301.9 L926.9,304.5 L931.9,307.2 L936.9,309.9 L941.8,312.6 L946.7,315.4 L951.6,318.3 L956.4,321.2 L961.3,324.2 L966.0,327.3 L970.8,330.4 L975.5,333.5 L980.2,336.7 L984.8,340.0 L989.4,343.3 L994.0,346.7 L998.5,350.1 L1003.0,353.6 L1007.4,357.1 L1011.8,360.7 L1016.2,364.3 L1020.5,368.0 L1024.8,371.8 L1029.0,375.6 L1033.2,379.4 L1037.3,383.3 L1041.4,387.2 L1045.5,391.2 L1049.5,395.3 L1053.5,399.3 L1057.4,403.5 L1061.3,407.6 L1065.1,411.9 L1068.9,416.1 L1072.6,420.4 L1076.3,424.8 L1079.9,429.2 L1083.5,433.6 L1087.0,438.1 L1090.5,442.7 L1093.9,447.2 L1097.3,451.8 L1100.6,456.5 L1103.9,461.2 L1107.1,465.9 L1110.3,470.7 L1113.4,475.5 L1116.4,480.3 L1119.4,485.2 L1122.3,490.1 L1125.2,495.1 L1128.0,500.0 L1130.8,505.1 L1133.5,510.1 L1136.1,515.2 L1138.7,520.3 L1141.3,525.4 L1143.7,530.6 L1146.1,535.8 L1148.5,541.1 L1150.8,546.3 L1153.0,551.6 L1155.2,556.9 L1157.3,562.3 L1159.3,567.6 L1161.3,573.0 L1163.2,578.5 L1165.1,583.9 L1166.9,589.4 L1168.6,594.8 L1170.3,600.4 L1171.9,605.9 L1173.4,611.4 L1174.9,617.0 L1176.3,622.6 L1177.6,628.2 L1178.9,633.8 L1180.1,639.4 L1181.3,645.1 L1182.4,650.8 L1183.4,656.4 L1184.3,662.1 L1185.2,667.8 L1186.1,673.5 L1186.8,679.3 L1187.5,685.0 L1188.1,690.7 L1188.7,696.5 L1189.2,702.3 L1189.6,708.0 L1189.9,713.8 L1190.2,719.6 L1190.4,725.4 L1190.6,731.1 L1190.7,736.9 L1190.7,742.7 L1190.6,748.5 L1190.5,754.3 L1190.3,760.1 L1190.1,765.9 L1189.8,771.7 L1189.4,777.5 L1188.9,783.2 L1188.4,789.0 L1187.8,794.8 L1187.2,800.6 L1186.4,806.3 L1185.6,812.1 L1184.8,817.8 L1183.9,823.6 L1182.9,829.3 L1181.8,835.0 L1180.7,840.7 L1179.5,846.4 L1178.2,852.1 L1176.9,857.8 L1175.5,863.4 L1174.1,869.0 L1172.5,874.7 L1170.9,880.3 L1169.3,885.9 L1167.6,891.4 L1165.8,897.0 L1163.9,902.5 L1162.0,908.0 L1160.0,913.5 L1158.0,919.0 L1155.9,924.4 L1153.7,929.8 L1151.5,935.2 L1149.2,940.6 L1146.8,946.0 L1144.4,951.3 L1141.9,956.6 L1139.4,961.8 L1136.8,967.1 L1134.1,972.3 L1131.4,977.5 L1128.6,982.6 L1125.7,987.7 L1122.8,992.8 L1119.8,997.8 L1116.8,1002.9 L1113.7,1007.8 L1110.5,1012.8 L1107.3,1017.7 L1104.1,1022.6 L1100.8,1027.4 L1097.4,1032.2 L1093.9,1037.0 L1090.4,1041.7 L1086.9,1046.4 L1083.3,1051.0 L1079.6,1055.6 L1075.9,1060.1 L1072.2,1064.7 L1068.3,1069.1 L1064.5,1073.6 L1060.5,1077.9 L1056.6,1082.3 L1052.5,1086.6 L1048.5,1090.8 L1044.3,1095.0 L1040.2,1099.2 L1035.9,1103.3 L1031.7,1107.3 L1027.3,1111.4 L1023.0,1115.3 L1018.5,1119.2 L1014.1,1123.1 L1009.6,1126.9 L1005.0,1130.6 L1000.4,1134.3 L995.8,1138.0 L991.1,1141.6 L986.4,1145.1 L981.6,1148.6 L976.8,1152.1 L971.9,1155.4 L967.0,1158.8 L962.1,1162.0 L957.1,1165.2 L952.1,1168.4 L947.1,1171.5 L942.0,1174.5 L936.9,1177.5 L931.7,1180.4 L926.5,1183.3 L921.3,1186.1 L916.0,1188.8 L910.7,1191.5 L905.4,1194.1 L900.0,1196.6 L894.7,1199.1 L889.2,1201.6 L883.8,1203.9 L878.3,1206.2 L872.8,1208.5 L867.3,1210.7 L861.7,1212.8 L856.2,1214.8 L850.5,1216.8 L844.9,1218.7 L839.3,1220.6 L833.6,1222.4 L827.9,1224.1 L822.2,1225.8 L816.4,1227.3 L810.7,1228.9 L804.9,1230.3 L799.1,1231.7 L793.3,1233.0 L787.5,1234.3 L781.6,1235.5 L775.8,1236.6 L769.9,1237.7 L764.0,1238.6 L758.1,1239.6 L752.2,1240.4 L746.3,1241.2 L740.3,1241.9 L734.4,1242.5 L728.4,1243.1 L722.5,1243.6 L716.5,1244.1 L710.5,1244.4 L704.6,1244.7 L698.6,1244.9 L692.6,1245.1 L686.6,1245.2 L680.6,1245.2 L674.6,1245.2 L668.6,1245.0 L662.6,1244.8 L656.7,1244.6 L650.7,1244.2 L644.7,1243.8 L638.7,1243.4 L632.7,1242.8 L626.7,1242.2 L620.8,1241.5 L614.8,1240.8 L608.9,1240.0 L602.9,1239.1 L597.0,1238.1 L591.1,1237.1 L585.2,1236.0 L579.3,1234.8 L573.4,1233.6 L567.5,1232.3 L561.6,1230.9 L555.8,1229.5 L550.0,1228.0 L544.1,1226.4 L538.3,1224.8 L532.6,1223.0 L526.8,1221.3 L521.1,1219.4 L515.3,1217.5 L509.6,1215.5 L504.0,1213.5 L498.3,1211.4 L492.7,1209.2 L487.1,1206.9 L481.5,1204.6 L475.9,1202.2 L470.4,1199.8 L464.9,1197.3 L459.4,1194.7 L454.0,1192.1 L448.6,1189.4 L443.2,1186.6 L437.9,1183.8 L432.5,1180.9 L427.3,1178.0 L422.0,1175.0 L416.8,1171.9 L411.6,1168.7 L406.4,1165.5 L401.3,1162.3 L396.3,1159.0 L391.2,1155.6 L386.2,1152.2 L381.3,1148.7 L376.3,1145.1 L371.5,1141.5 L366.6,1137.8 L361.8,1134.1 L357.1,1130.3 L352.4,1126.5 L347.7,1122.6 L343.1,1118.6 L338.5,1114.6 L334.0,1110.6 L329.5,1106.5 L325.0,1102.3 L320.6,1098.1 L316.3,1093.8 L312.0,1089.5 L307.8,1085.1 L303.6,1080.7 L299.4,1076.2 L295.3,1071.7 L291.3,1067.1 L287.3,1062.5 L283.4,1057.9 L279.5,1053.2 L275.7,1048.4 L271.9,1043.6 L268.2,1038.8 L264.5,1033.9 L260.9,1028.9 L257.4,1024.0 L253.9,1018.9 L250.4,1013.9 L247.1,1008.8 L243.8,1003.6 L240.5,998.5 L237.3,993.2 L234.2,988.0 L231.1,982.7 L228.1,977.4 L225.1,972.0 L222.2,966.6 L219.4,961.2 L216.6,955.7 L213.9,950.2 L211.3,944.7 L208.7,939.1 L206.2,933.5 L203.8,927.9 L201.4,922.2 L199.1,916.5 L196.8,910.8 L194.6,905.1 L192.5,899.3 L190.5,893.5 L188.5,887.7 L186.6,881.8 L184.7,876.0 L182.9,870.1 L181.2,864.2 L179.6,858.2 L178.0,852.3 L176.5,846.3 L175.0,840.3 L173.7,834.3 L172.4,828.3 L171.2,822.3 L170.0,816.2 L168.9,810.1 L167.9,804.0 L166.9,797.9 L166.1,791.8 L165.3,785.7 L164.5,779.6 L163.9,773.4 L163.3,767.3 L162.8,761.1 L162.3,755.0 L161.9,748.8 L161.6,742.6 L161.4,736.4 L161.2,730.3 L161.1,724.1 L161.1,717.9 L161.2,711.7 L161.3,705.5 L161.5,699.3 L161.8,693.1 L162.1,686.9 L162.5,680.8 L163.0,674.6 L163.6,668.4 L164.2,662.2 L164.9,656.1 L165.7,649.9 L166.5,643.8 L167.5,637.6 L168.4,631.5 L169.5,625.4 L170.6,619.3 L171.8,613.2 L173.1,607.1 L174.5,601.0 L175.9,595.0 L177.4,588.9 L178.9,582.9 L180.6,576.9 L182.3,570.9 L184.0,564.9 L185.9,559.0 L187.8,553.1 L189.8,547.1 L191.8,541.3 L193.9,535.4 L196.1,529.6 L198.4,523.7 L200.7,518.0 L203.1,512.2 L205.5,506.4 L208.0,500.7 L210.6,495.1 L213.3,489.4 L216.0,483.8 L218.8,478.2 L221.7,472.6 L224.6,467.1 L227.6,461.6 L230.6,456.2 L233.7,450.7 L236.9,445.3 L240.1,440.0 L243.4,434.7 L246.8,429.4 L250.2,424.1 L253.7,418.9 L257.3,413.8 L260.9,408.7 L264.6,403.6 L268.3,398.5 L272.1,393.5 L275.9,388.6 L279.8,383.7 L283.8,378.8 L287.8,374.0 L291.9,369.2 L296.0,364.5 L300.2,359.8 L304.5,355.2 L308.8,350.6 L313.1,346.1 L317.5,341.6 L322.0,337.1 L326.5,332.8 L331.1,328.4 L335.7,324.1 L340.4,319.9 L345.1,315.7 L349.8,311.6 L354.7,307.6 L359.5,303.6 L364.4,299.6 L369.4,295.7 L374.4,291.9 L379.4,288.1 L384.5,284.4 L389.7,280.7 L394.8,277.1 L400.1,273.6 L405.3,270.1 L410.6,266.7 L416.0,263.3 L421.4,260.0 L426.8,256.8 L432.3,253.6 L437.8,250.5 L443.3,247.4 L448.9,244.4 L454.5,241.5 L460.2,238.7 L465.8,235.9 L471.6,233.1 L477.3,230.5 L483.1,227.9 L488.9,225.4 L494.7,222.9 L500.6,220.5 L506.5,218.2 L512.4,215.9 L518.4,213.8 L524.4,211.6 L530.4,209.6 L536.4,207.6 L542.5,205.7 L548.6,203.9 L554.7,202.1 L560.8,200.4 L566.9,198.8 L573.1,197.2 L579.3,195.7 L585.5,194.3 L591.7,193.0 L597.9,191.7 L604.2,190.5 L610.5,189.4 L616.7,188.3 L623.0,187.4 L629.3,186.5 L635.6,185.6 L642.0,184.9 L648.3,184.2 L654.7,183.6 L661.0,183.1 L667.4,182.6 L673.7,182.2 L680.1,181.9 L686.5,181.6 L692.9,181.5 L699.3,181.4 L705.7,181.4 L712.1,181.4 L718.4,181.6 L724.8,181.8 L731.2,182.0 L737.6,182.4 L744.0,182.8 L750.4,183.3 L756.7,183.9 L763.1,184.6 L769.5,185.3 L775.8,186.1 L782.2,187.0 L788.5,187.9 L794.8,188.9 L801.1,190.0 L807.5,191.2 L813.7,192.4 L820.0,193.8 L826.3,195.2 L832.5,196.6 L838.8,198.2 L845.0,199.8 L851.2,201.4 L857.4,203.2 L863.5,205.0 L869.7,206.9 L875.8,208.9 L881.9,210.9 L888.0,213.0 L894.0,215.2 L900.0,217.5 L906.0,219.8 L912.0,222.2 L918.0,224.7 L923.9,227.2 L929.8,229.8 L935.6,232.5 L941.5,235.2 L947.3,238.0 L953.0,240.9 L958.8,243.9 L964.5,246.9 L970.1,250.0 L975.8,253.1 L981.4,256.3 L986.9,259.6 L992.5,262.9 L997.9,266.3 L1003.4,269.8 L1008.8,273.3 L1014.2,276.9 L1019.5,280.6 L1024.8,284.3 L1030.0,288.1 L1035.2,292.0 L1040.4,295.9 L1045.5,299.9 L1050.6,303.9 L1055.6,308.0 L1060.5,312.1 L1065.5,316.3 L1070.4,320.6 L1075.2,324.9 L1080.0,329.3 L1084.7,333.7 L1089.4,338.2 L1094.0,342.8 L1098.6,347.4 L1103.1,352.0 L1107.6,356.8 L1112.0,361.5 L1116.3,366.3 L1120.6,371.2 L1124.9,376.1 L1129.1,381.1 L1133.2,386.1 L1137.3,391.2 L1141.3,396.3 L1145.3,401.4 L1149.1,406.6 L1153.0,411.9 L1156.8,417.2 L1160.5,422.5 L1164.1,427.9 L1167.7,433.4 L1171.3,438.8 L1174.7,444.4 L1178.1,449.9 L1181.5,455.5 L1184.8,461.2 L1188.0,466.8 L1191.1,472.6 L1194.2,478.3 L1197.2,484.1 L1200.1,489.9 L1203.0,495.8 L1205.8,501.7 L1208.6,507.6 L1211.3,513.6 L1213.9,519.6 L1216.4,525.6 L1218.9,531.6 L1221.3,537.7 L1223.6,543.8 L1225.8,550.0 L1228.0,556.2 L1230.1,562.4 L1232.2,568.6 L1234.1,574.8 L1236.0,581.1 L1237.9,587.4 L1239.6,593.7 L1241.3,600.0 L1242.9,606.4 L1244.4,612.8 L1245.9,619.2 L1247.2,625.6 L1248.6,632.0 L1249.8,638.5 L1250.9,644.9 L1252.0,651.4 L1253.0,657.9 L1254.0,664.4 L1254.8,670.9 L1255.6,677.4 L1256.3,684.0 L1256.9,690.5 L1257.5,697.1 L1258.0,703.6 L1258.4,710.2 L1258.7,716.8 L1258.9,723.4 L1259.1,729.9 L1259.2,736.5 L1259.2,743.1 L1259.2,749.7 L1259.0,756.3 L1258.8,762.9 L1258.5,769.5 L1258.2,776.0 L1257.7,782.6 L1257.2,789.2 L1256.6,795.8 L1255.9,802.3 L1255.2,808.9 L1254.4,815.5 L1253.4,822.0 L1252.5,828.5 L1251.4,835.1 L1250.3,841.6 L1249.1,848.1 L1247.8,854.6 L1246.4,861.0 L1245.0,867.5 L1243.5,873.9 L1241.9,880.4 L1240.3,886.8 L1238.5,893.2 L1236.7,899.5 L1234.8,905.9 L1232.9,912.2 L1230.8,918.5 L1228.7,924.8 L1226.6,931.1 L1224.3,937.3 L1222.0,943.5 L1219.6,949.7 L1217.1,955.9 L1214.6,962.0 L1212.0,968.1 L1209.3,974.2 L1206.5,980.2 L1203.7,986.2 L1200.8,992.2 L1197.8,998.2 L1194.8,1004.1 L1191.7,1009.9 L1188.5,1015.8 L1185.3,1021.6 L1182.0,1027.4 L1178.6,1033.1 L1175.1,1038.8 L1171.6,1044.5 L1168.0,1050.1 L1164.4,1055.6 L1160.7,1061.2 L1156.9,1066.7 L1153.1,1072.1 L1149.2,1077.5 L1145.2,1082.9 L1141.2,1088.2 L1137.1,1093.5 L1132.9,1098.7 L1128.7,1103.9 L1124.4,1109.0 L1120.1,1114.1 L1115.7,1119.1 L1111.2,1124.1 L1106.7,1129.0 L1102.1,1133.9 L1097.5,1138.7 L1092.8,1143.5 L1088.1,1148.2 L1083.3,1152.8 L1078.4,1157.4 L1073.5,1162.0 L1068.5,1166.5 L1063.5,1170.9 L1058.5,1175.3 L1053.3,1179.6 L1048.2,1183.9 L1043.0,1188.1 L1037.7,1192.2 L1032.4,1196.3 L1027.0,1200.3 L1021.6,1204.3 L1016.1,1208.2 L1010.6,1212.0 L1005.1,1215.8 L999.5,1219.5 L993.8,1223.1 L988.1,1226.7 L982.4,1230.2 L976.6,1233.6 L970.8,1237.0 L965.0,1240.3 L959.1,1243.5 L953.1,1246.7 L947.2,1249.8 L941.2,1252.9 L935.1,1255.8 L929.1,1258.7 L923.0,1261.5 L916.8,1264.3 L910.6,1267.0 L904.4,1269.6 L898.2,1272.1 L891.9,1274.6 L885.6,1277.0 L879.3,1279.3 L872.9,1281.6 L866.5,1283.8 L860.1,1285.9 L853.7,1287.9 L847.2,1289.8 L840.7,1291.7 L834.2,1293.5 L827.7,1295.2 L821.2,1296.9 L814.6,1298.5 L808.0,1300.0 L801.4,1301.4 L794.8,1302.7 L788.1,1304.0 L781.5,1305.2 L774.8,1306.3 L768.1,1307.4 L761.4,1308.3 L754.7,1309.2 L748.0,1310.0 L741.2,1310.7 L734.5,1311.4 L727.7,1311.9 L721.0,1312.4 L714.2,1312.9 L707.4,1313.2 L700.7,1313.4 L693.9,1313.6 L687.1,1313.7 L680.3,1313.7 L673.5,1313.7 L666.7,1313.5 L659.9,1313.3 L653.1,1313.0 L646.4,1312.6 L639.6,1312.2 L632.8,1311.6 L626.0,1311.0 L619.3,1310.3 L612.5,1309.6 L605.8,1308.7 L599.0,1307.8 L592.3,1306.8 L585.6,1305.7 L578.9,1304.5 L572.2,1303.3 L565.5,1302.0 L558.8,1300.6 L552.2,1299.1 L545.5,1297.5 L538.9,1295.9 L532.3,1294.2 L525.7,1292.4 L519.2,1290.5 L512.6,1288.6 L506.1,1286.6 L499.6,1284.5 L493.1,1282.3 L486.7,1280.1 L480.3,1277.8 L473.9,1275.4 L467.5,1272.9 L461.1,1270.4 L454.8,1267.7 L448.5,1265.1 L442.3,1262.3 L436.1,1259.4 L429.9,1256.5 L423.7,1253.6 L417.6,1250.5 L411.5,1247.4 L405.4,1244.2 L399.4,1240.9 L393.4,1237.6 L387.5,1234.2 L381.6,1230.7 L375.7,1227.1 L369.9,1223.5 L364.1,1219.8 L358.4,1216.1 L352.7,1212.2 L347.0,1208.4 L341.4,1204.4 L335.8,1200.4 L330.3,1196.3 L324.8,1192.1 L319.4,1187.9 L314.0,1183.6 L308.7,1179.3 L303.4,1174.9 L298.2,1170.4 L293.0,1165.9 L287.9,1161.3 L282.8,1156.7 L277.8,1151.9 L272.8,1147.2 L267.9,1142.4 L263.1,1137.5 L258.3,1132.5 L253.5,1127.5 L248.9,1122.5 L244.2,1117.4 L239.7,1112.2 L235.2,1107.0 L230.7,1101.7 L226.3,1096.4 L222.0,1091.0 L217.7,1085.6 L213.5,1080.1 L209.4,1074.6 L205.3,1069.0 L201.3,1063.4 L197.4,1057.7 L193.5,1052.0 L189.7,1046.2 L185.9,1040.4 L182.2,1034.6 L178.6,1028.7 L175.1,1022.7 L171.6,1016.7 L168.2,1010.7 L164.9,1004.6 L161.6,998.5 L158.4,992.4 L155.3,986.2 L152.2,980.0 L149.2,973.7 L146.3,967.4 L143.5,961.1 L140.7,954.8 L138.0,948.4 L135.4,941.9 L132.9,935.5 L130.4,929.0 L128.0,922.5 L125.7,915.9 L123.5,909.4 L121.3,902.8 L119.2,896.1 L117.2,889.5 L115.3,882.8 L113.4,876.1 L111.6,869.4 L109.9,862.6 L108.3,855.9 L106.8,849.1 L105.3,842.3 L103.9,835.5 L102.6,828.6 L101.4,821.8 L100.2,814.9 L99.2,808.0 L98.2,801.1 L97.3,794.2 L96.4,787.3 L95.7,780.4 L95.0,773.4 L94.4,766.5 L93.9,759.5 L93.5,752.5 L93.2,745.6 L92.9,738.6 L92.7,731.6 L92.6,724.6 L92.6,717.6 L92.7,710.7 L92.8,703.7 L93.0,696.7 L93.3,689.7 L93.7,682.7 L94.2,675.7 L94.7,668.8 L95.4,661.8 L96.1,654.8 L96.9,647.9 L97.8,640.9 L98.7,634.0 L99.7,627.1 L100.9,620.2 L102.1,613.2 L103.3,606.4 L104.7,599.5 L106.1,592.6 L107.7,585.8 L109.3,578.9 L110.9,572.1 L112.7,565.3 L114.5,558.6 L116.5,551.8 L118.4,545.1 L120.5,538.4 L122.7,531.7 L124.9,525.0 L127.2,518.4 L129.6,511.8 L132.1,505.2 L134.6,498.6 L137.2,492.1 L139.9,485.6 L142.7,479.1 L145.5,472.7 L148.5,466.3 L151.4,459.9 L154.5,453.6 L157.7,447.2 L160.9,441.0 L164.2,434.7 L167.5,428.6 L171.0,422.4 L174.5,416.3 L178.1,410.2 L181.7,404.2 L185.4,398.2 L189.2,392.2 L193.1,386.3 L197.0,380.4 L201.0,374.6 L205.1,368.9 L209.2,363.1 L213.4,357.4 L217.7,351.8 L222.1,346.2 L226.5,340.7 L230.9,335.2 L235.5,329.8 L240.1,324.4 L244.7,319.1 L249.4,313.8 L254.2,308.6 L259.1,303.4 L264.0,298.3 L268.9,293.3 L274.0,288.3 L279.0,283.3 L284.2,278.4 L289.4,273.6 L294.6,268.9 L300.0,264.2 L305.3,259.5 L310.8,254.9 L316.2,250.4 L321.8,246.0 L327.3,241.6 L333.0,237.3 L338.7,233.0 L344.4,228.8 L350.2,224.7 L356.0,220.6 L361.9,216.6 L367.8,212.7 L373.8,208.9 L379.8,205.1 L385.9,201.4 L392.0,197.7 L398.2,194.1 L404.4,190.6 L410.6,187.2 L416.9,183.8 L423.2,180.6 L429.6,177.3 L436.0,174.2 L442.4,171.1 L448.9,168.1 L455.4,165.2 L461.9,162.4 L468.5,159.6 L475.1,156.9 L481.8,154.3 L488.4,151.8 L495.1,149.3 L501.9,146.9 L508.6,144.6 L515.4,142.4 L522.2,140.2 L529.1,138.2 L535.9,136.2 L542.8,134.3 L549.7,132.4 L556.7,130.7 L563.6,129.0 L570.6,127.4 L577.6,125.9 L584.6,124.5 L591.7,123.1"/>
<path d="M535.0,514.1 L500.3,466.5" stroke-width="1.45"/>
<path d="M588.2,481.1 L565.4,426.9" stroke-width="1.45"/>
<path d="M648.1,461.2 L638.7,405.1" stroke-width="1.45"/>
<path d="M711.6,455.5 L715.3,400.7" stroke-width="1.45"/>
<path d="M775.2,464.8 L790.2,416.2" stroke-width="1.45"/>
<path d="M835.5,488.7 L857.3,451.8" stroke-width="1.45"/>
<path d="M889.2,526.3 L918.6,495.6" stroke-width="1.45"/>
<path d="M933.1,575.6 L968.8,552.6" stroke-width="1.45"/>
<path d="M964.8,634.3 L1002.9,620.8" stroke-width="1.45"/>
<path d="M982.1,699.3 L1022.4,695.0" stroke-width="1.45"/>
<path d="M984.0,767.1 L1026.3,772.5" stroke-width="1.45"/>
<path d="M970.1,834.1 L1010.0,849.1" stroke-width="1.45"/>
<path d="M940.8,896.6 L974.6,919.3" stroke-width="1.45"/>
<path d="M897.5,951.2 L923.8,979.5" stroke-width="1.45"/>
<path d="M842.4,994.6 L861.0,1027.5" stroke-width="1.45"/>
<path d="M778.1,1024.3 L788.0,1058.4" stroke-width="1.45"/>
<path d="M708.2,1038.6 L709.9,1074.5" stroke-width="1.45"/>
<path d="M636.2,1036.2 L629.3,1073.7" stroke-width="1.45"/>
<path d="M566.2,1017.2 L550.7,1052.3" stroke-width="1.45"/>
<path d="M502.0,982.3 L478.8,1012.8" stroke-width="1.45"/>
<path d="M447.1,933.0 L418.0,957.0" stroke-width="1.45"/>
<path d="M404.7,872.0 L369.8,889.1" stroke-width="1.45"/>
<path d="M377.4,802.2 L338.3,811.1" stroke-width="1.45"/>
<path d="M366.8,727.4 L322.5,727.0" stroke-width="1.45"/>
<path d="M373.8,651.7 L327.6,640.3" stroke-width="1.45"/>
<path d="M398.3,579.0 L346.7,552.5" stroke-width="1.45"/>
<path d="M439.2,513.5 L390.0,471.4" stroke-width="1.45"/>
<path d="M494.6,458.7 L452.5,401.1" stroke-width="1.45"/>
<path d="M561.6,418.0 L534.0,352.2" stroke-width="1.45"/>
<path d="M636.8,393.6 L625.3,324.4" stroke-width="1.45"/>
<path d="M716.2,387.1 L721.0,315.6" stroke-width="1.45"/>
<path d="M795.5,399.3 L816.7,330.8" stroke-width="1.45"/>
<path d="M870.4,429.7 L906.8,367.9" stroke-width="1.45"/>
<path d="M936.7,476.8 L985.0,426.5" stroke-width="1.45"/>
<path d="M990.7,538.5 L1042.0,505.4" stroke-width="1.45"/>
<path d="M1029.4,611.5 L1082.7,592.6" stroke-width="1.45"/>
<path d="M1050.3,692.0 L1105.7,686.0" stroke-width="1.45"/>
<path d="M1052.0,775.7 L1105.0,782.4" stroke-width="1.45"/>
<path d="M1034.3,858.2 L1083.9,876.7" stroke-width="1.45"/>
<path d="M997.7,934.8 L1041.4,964.1" stroke-width="1.45"/>
<path d="M944.1,1001.4 L970.1,1029.5" stroke-width="1.45"/>
<path d="M876.1,1054.2 L894.9,1087.5" stroke-width="1.45"/>
<path d="M797.2,1090.2 L807.6,1126.2" stroke-width="1.45"/>
<path d="M711.5,1107.0 L713.3,1142.5" stroke-width="1.45"/>
<path d="M623.7,1103.6 L617.3,1138.0" stroke-width="1.45"/>
<path d="M538.5,1079.9 L525.2,1109.9" stroke-width="1.45"/>
<path d="M460.5,1036.9 L440.1,1063.7" stroke-width="1.45"/>
<path d="M394.2,976.6 L368.1,998.0" stroke-width="1.45"/>
<path d="M343.2,902.2 L310.1,918.4" stroke-width="1.45"/>
<path d="M310.5,817.4 L269.5,826.7" stroke-width="1.45"/>
<path d="M298.2,726.8 L245.5,726.3" stroke-width="1.45"/>
<path d="M307.2,635.3 L249.7,621.1" stroke-width="1.45"/>
<path d="M337.3,547.7 L284.5,520.5" stroke-width="1.45"/>
<path d="M387.1,468.9 L340.3,428.9" stroke-width="1.45"/>
<path d="M454.2,403.4 L417.8,353.6" stroke-width="1.45"/>
<path d="M535.1,354.8 L511.7,299.3" stroke-width="1.45"/>
<path d="M625.5,326.0 L615.8,267.8" stroke-width="1.45"/>
<path d="M720.8,318.8 L724.4,264.5" stroke-width="1.45"/>
<path d="M815.7,333.8 L831.7,282.2" stroke-width="1.45"/>
<path d="M905.2,370.6 L930.7,327.3" stroke-width="1.45"/>
<path d="M984.2,427.4 L1013.2,397.2" stroke-width="1.45"/>
<path d="M1048.3,501.3 L1079.9,481.0" stroke-width="1.45"/>
<path d="M1094.0,588.6 L1130.1,575.8" stroke-width="1.45"/>
<path d="M1118.4,684.6 L1157.9,680.4" stroke-width="1.45"/>
<path d="M1120.0,784.3 L1163.7,789.8" stroke-width="1.45"/>
<path d="M1098.5,882.2 L1147.5,900.6" stroke-width="1.45"/>
<path d="M1054.6,973.0 L1098.2,1002.2" stroke-width="1.45"/>
<path d="M990.7,1051.7 L1028.2,1092.3" stroke-width="1.45"/>
<path d="M909.8,1113.9 L938.0,1163.8" stroke-width="1.45"/>
<path d="M816.2,1156.0 L832.2,1211.0" stroke-width="1.45"/>
<path d="M714.9,1175.5 L717.6,1230.5" stroke-width="1.45"/>
<path d="M611.2,1171.0 L602.5,1217.7" stroke-width="1.45"/>
<path d="M510.8,1142.6 L492.5,1184.0" stroke-width="1.45"/>
<path d="M419.1,1091.5 L393.1,1125.8" stroke-width="1.45"/>
<path d="M341.3,1020.2 L311.4,1044.7" stroke-width="1.45"/>
<path d="M281.6,932.4 L250.0,947.9" stroke-width="1.45"/>
<path d="M243.7,832.6 L210.6,840.1" stroke-width="1.45"/>
<path d="M229.7,726.2 L193.0,725.9" stroke-width="1.45"/>
<path d="M240.7,618.8 L202.6,609.5" stroke-width="1.45"/>
<path d="M276.4,516.4 L239.9,497.6" stroke-width="1.45"/>
<path d="M335.0,424.4 L302.6,396.7" stroke-width="1.45"/>
<path d="M413.8,348.0 L388.2,313.0" stroke-width="1.45"/>
<path d="M508.5,291.6 L491.7,251.6" stroke-width="1.45"/>
<path d="M614.2,258.4 L607.3,216.9" stroke-width="1.45"/>
<path d="M725.4,250.4 L728.1,210.0" stroke-width="1.45"/>
<path d="M836.0,268.4 L848.6,227.5" stroke-width="1.45"/>
<path d="M940.0,311.6 L964.1,270.7" stroke-width="1.45"/>
<path d="M1031.7,378.0 L1065.4,342.9" stroke-width="1.45"/>
<path d="M1106.0,464.2 L1150.4,435.5" stroke-width="1.45"/>
<path d="M1158.6,565.8 L1208.5,548.1" stroke-width="1.45"/>
<path d="M1186.6,677.3 L1236.9,671.9" stroke-width="1.45"/>
<path d="M1188.0,792.9 L1233.8,798.6" stroke-width="1.45"/>
<path d="M1162.7,906.2 L1202.5,921.1" stroke-width="1.45"/>
<path d="M1111.6,1011.2 L1141.0,1030.9" stroke-width="1.45"/>
<path d="M1037.3,1102.0 L1059.6,1126.2" stroke-width="1.45"/>
<path d="M943.5,1173.6 L958.9,1200.8" stroke-width="1.45"/>
<path d="M835.3,1221.8 L845.2,1256.0" stroke-width="1.45"/>
<path d="M718.3,1243.9 L720.0,1279.5" stroke-width="1.45"/>
<path d="M598.7,1238.4 L592.2,1273.1" stroke-width="1.45"/>
<path d="M483.0,1205.3 L469.3,1236.4" stroke-width="1.45"/>
<path d="M377.7,1146.1 L359.2,1170.5" stroke-width="1.45"/>
<path d="M288.4,1063.7 L265.0,1083.0" stroke-width="1.45"/>
<path d="M220.1,962.6 L193.0,975.8" stroke-width="1.45"/>
<path d="M176.8,847.8 L146.4,854.7" stroke-width="1.45"/>
<path d="M161.2,725.6 L126.3,725.2" stroke-width="1.45"/>
<path d="M174.1,602.4 L140.0,594.0" stroke-width="1.45"/>
<path d="M215.4,485.1 L179.7,466.7" stroke-width="1.45"/>
<path d="M282.9,379.9 L251.5,353.0" stroke-width="1.45"/>
<path d="M373.3,292.7 L348.9,259.3" stroke-width="1.45"/>
<path d="M481.9,228.4 L465.1,188.5" stroke-width="1.45"/>
<path d="M603.0,190.8 L594.6,140.6" stroke-width="1.45"/>
<path d="M730.0,182.0 L733.4,131.3" stroke-width="1.45"/>
<path d="M856.2,202.9 L868.9,161.9" stroke-width="1.45"/>
<path d="M974.8,252.5 L995.8,216.9" stroke-width="1.45"/>
<path d="M1079.2,328.6 L1105.1,301.6" stroke-width="1.45"/>
<path d="M1163.6,427.1 L1197.7,405.0" stroke-width="1.45"/>
<path d="M1223.2,542.9 L1261.5,529.4" stroke-width="1.45"/>
<path d="M1254.7,670.0 L1292.5,665.9" stroke-width="1.45"/>
<path d="M1256.0,801.4 L1288.8,805.6" stroke-width="1.45"/>
<path d="M1226.8,930.2 L1257.6,941.7" stroke-width="1.45"/>
<path d="M1168.5,1049.4 L1193.7,1066.3" stroke-width="1.45"/>
<path d="M1083.8,1152.3 L1106.9,1177.2" stroke-width="1.45"/>
<path d="M977.3,1233.2 L994.0,1262.9" stroke-width="1.45"/>
<path d="M854.3,1287.7 L865.3,1325.4" stroke-width="1.45"/>
<path d="M721.6,1312.4 L723.6,1351.9" stroke-width="1.45"/>
<path d="M586.2,1305.8 L578.4,1347.8" stroke-width="1.45"/>
<path d="M455.3,1268.0 L438.1,1307.0" stroke-width="1.45"/>
<path d="M336.2,1200.7 L311.3,1233.5" stroke-width="1.45"/>
<path d="M235.4,1107.3 L203.0,1134.0" stroke-width="1.45"/>
<path d="M158.6,992.8 L119.1,1012.2" stroke-width="1.45"/>
<path d="M110.0,863.0 L67.1,872.8" stroke-width="1.45"/>
<path d="M92.6,724.9 L55.8,724.6" stroke-width="1.45"/>
<path d="M107.6,586.0 L72.7,577.4" stroke-width="1.45"/>
<path d="M154.4,453.7 L121.7,436.9" stroke-width="1.45"/>
<path d="M230.8,335.3 L202.9,311.4" stroke-width="1.45"/>
<path d="M332.9,237.3 L310.9,207.3" stroke-width="1.45"/>
<path d="M455.3,165.2 L440.9,130.9" stroke-width="1.45"/>
<path d="M591.7,123.1 L585.8,88.1" stroke-width="1.45"/>
</g>
<g stroke="#fff" stroke-width="1.3" shape-rendering="crispEdges">
<path d="M68,602.6 L78,603"/>
<path d="M60,656.4 L67.3,656.6"/>
<path d="M57.3,696.4 L69,696.7"/>
<path d="M59,770.3 L70,770.3"/>
<path d="M63.5,819.2 L75,818.6"/>
<path d="M561.1,94.3 L561.1,101.4"/>
</g>
<g font-family="'DejaVu Sans Light','DejaVu Sans','Liberation Sans',sans-serif" font-weight="200" font-size="16.6" fill="#000" stroke="#000" stroke-width="0.45" text-anchor="middle">
<text transform="translate(697.1,469.8) rotate(0.90)" y="6" textLength="64.0" lengthAdjust="spacing">30-Nov</text>
<text transform="translate(868.1,527.2) rotate(40.74)" y="6" textLength="64.0" lengthAdjust="spacing">03-Dec</text>
<text transform="translate(965.2,685.4) rotate(80.60)" y="6" textLength="64.0" lengthAdjust="spacing">06-Dec</text>
<text transform="translate(937.3,874.1) rotate(300.46)" y="6" textLength="64.0" lengthAdjust="spacing">09-Dec</text>
<text transform="translate(791.0,1004.4) rotate(340.33)" y="6" textLength="64.0" lengthAdjust="spacing">12-Dec</text>
<text transform="translate(589.9,1010.6) rotate(380.21)" y="6" textLength="64.0" lengthAdjust="spacing">15-Dec</text>
<text transform="translate(427.6,883.1) rotate(420.09)" y="6" textLength="64.0" lengthAdjust="spacing">18-Dec</text>
<text transform="translate(384.0,676.0) rotate(279.98)" y="6" textLength="64.0" lengthAdjust="spacing">21-Dec</text>
<text transform="translate(485.9,484.7) rotate(319.87)" y="6" textLength="64.0" lengthAdjust="spacing">24-Dec</text>
<text transform="translate(691.7,401.4) rotate(359.77)" y="6" textLength="64.0" lengthAdjust="spacing">27-Dec</text>
<text transform="translate(907.9,471.4) rotate(39.67)" y="6" textLength="64.0" lengthAdjust="spacing">30-Dec</text>
<text transform="translate(1031.5,668.2) rotate(79.58)" y="6" textLength="64.0" lengthAdjust="spacing">02-Jan</text>
<text transform="translate(999.2,903.6) rotate(299.49)" y="6" textLength="64.0" lengthAdjust="spacing">05-Jan</text>
<text transform="translate(819.4,1066.8) rotate(339.41)" y="6" textLength="64.0" lengthAdjust="spacing">08-Jan</text>
<text transform="translate(571.6,1076.7) rotate(379.33)" y="6" textLength="64.0" lengthAdjust="spacing">11-Jan</text>
<text transform="translate(371.1,922.0) rotate(419.25)" y="6" textLength="64.0" lengthAdjust="spacing">14-Jan</text>
<text transform="translate(315.8,669.5) rotate(279.17)" y="6" textLength="64.0" lengthAdjust="spacing">17-Jan</text>
<text transform="translate(437.8,435.8) rotate(319.10)" y="6" textLength="64.0" lengthAdjust="spacing">20-Jan</text>
<text transform="translate(686.3,333.1) rotate(359.03)" y="6" textLength="64.0" lengthAdjust="spacing">23-Jan</text>
<text transform="translate(947.5,415.4) rotate(38.93)" y="6" textLength="64.0" lengthAdjust="spacing">26-Jan</text>
<text transform="translate(1097.8,650.5) rotate(78.83)" y="6" textLength="64.0" lengthAdjust="spacing">29-Jan</text>
<text transform="translate(1061.5,932.4) rotate(298.74)" y="6" textLength="64.0" lengthAdjust="spacing">01-Feb</text>
<text transform="translate(848.8,1128.8) rotate(338.64)" y="6" textLength="64.0" lengthAdjust="spacing">04-Feb</text>
<text transform="translate(554.5,1143.2) rotate(378.56)" y="6" textLength="64.0" lengthAdjust="spacing">07-Feb</text>
<text transform="translate(315.5,962.1) rotate(418.47)" y="6" textLength="64.0" lengthAdjust="spacing">10-Feb</text>
<text transform="translate(247.3,664.7) rotate(278.39)" y="6" textLength="64.0" lengthAdjust="spacing">13-Feb</text>
<text transform="translate(388.3,388.3) rotate(318.31)" y="6" textLength="64.0" lengthAdjust="spacing">16-Feb</text>
<text transform="translate(678.6,264.9) rotate(358.23)" y="6" textLength="64.0" lengthAdjust="spacing">19-Feb</text>
<text transform="translate(985.4,358.1) rotate(38.14)" y="6" textLength="64.0" lengthAdjust="spacing">22-Feb</text>
<text transform="translate(1163.6,630.8) rotate(78.05)" y="6" textLength="64.0" lengthAdjust="spacing">25-Feb</text>
<text transform="translate(1124.6,959.5) rotate(297.96)" y="6" textLength="64.0" lengthAdjust="spacing">28-Feb</text>
<text transform="translate(880.0,1190.0) rotate(337.87)" y="6" textLength="64.0" lengthAdjust="spacing">03-Mar</text>
<text transform="translate(539.2,1210.1) rotate(377.79)" y="6" textLength="64.0" lengthAdjust="spacing">06-Mar</text>
<text transform="translate(260.8,1003.6) rotate(417.70)" y="6" textLength="64.0" lengthAdjust="spacing">09-Mar</text>
<text transform="translate(178.7,661.6) rotate(277.62)" y="6" textLength="64.0" lengthAdjust="spacing">12-Mar</text>
<text transform="translate(337.6,341.9) rotate(317.55)" y="6" textLength="64.0" lengthAdjust="spacing">15-Mar</text>
<text transform="translate(669.5,196.8) rotate(357.47)" y="6" textLength="64.0" lengthAdjust="spacing">18-Mar</text>
<text transform="translate(1022.0,300.0) rotate(37.39)" y="6" textLength="64.0" lengthAdjust="spacing">21-Mar</text>
<text transform="translate(1229.0,609.7) rotate(77.31)" y="6" textLength="64.0" lengthAdjust="spacing">24-Mar</text>
<text transform="translate(1188.3,985.2) rotate(297.23)" y="6" textLength="64.0" lengthAdjust="spacing">27-Mar</text>
<text transform="translate(912.3,1250.7) rotate(337.15)" y="6" textLength="64.0" lengthAdjust="spacing">30-Mar</text>
<text transform="translate(525.1,1277.4) rotate(377.07)" y="6" textLength="64.0" lengthAdjust="spacing">02-Apr</text>
<text transform="translate(206.8,1046.2) rotate(417.00)" y="6" textLength="64.0" lengthAdjust="spacing">05-Apr</text>
<text transform="translate(110.0,659.6) rotate(276.93)" y="6" textLength="64.0" lengthAdjust="spacing">08-Apr</text>
</g>
<!-- legend -->
<circle cx="41.8" cy="28" r="15" fill="#ababab"/>
<circle cx="41.8" cy="84" r="14.3" fill="none" stroke="#ababab" stroke-width="1.8"/>
<text x="71.4" y="27.9" font-size="15.5" textLength="78.2" lengthAdjust="spacing">New Moon</text>
<text x="71.4" y="83.6" font-size="15.5" textLength="73.2" lengthAdjust="spacing">Full Moon</text>
<text x="1267.1" y="38.1" font-size="15.8" textLength="126" lengthAdjust="spacing">Period: 27 days</text>
<text x="5.8" y="1394.3" font-size="15" textLength="104.5" lengthAdjust="spacing">GI-UAF 2025</text>
<text x="1077" y="1394.5" font-size="15" textLength="316.7" lengthAdjust="spacing">Condegram plotted Apr 14 at 13:01 UT</text>
<!-- outer scale labels -->
<g class="k" font-size="14" text-anchor="middle">
<text class="k" x="713.2" y="49.6">250</text>
<text class="k" x="713.2" y="71.3">190</text>
<text class="k" x="713.2" y="94.3">130</text>
</g>
<!-- scale bar -->
<path d="M670.9,573.4H706.3M688,573.4V642M670.9,642H706.3" fill="none" stroke="#000" stroke-width="1.4"/>
<text x="718.9" y="579.1" font-size="17.6" textLength="75.4" lengthAdjust="spacing">250 sfu</text>
<text x="718.9" y="647.7" font-size="17.6" textLength="62.5" lengthAdjust="spacing">70 sfu</text>
<!-- title -->
<text class="ti r" transform="translate(559.1,727.1) scale(1.25,1)" font-size="33" textLength="217.8" lengthAdjust="spacing">10.7 cm Solar</text>
<text class="ti r" transform="translate(585.7,758.6) scale(1.25,1)" font-size="33" textLength="171.4" lengthAdjust="spacing">Radio Flux</text>
<text class="r" x="638" y="804.3" font-size="33" textLength="108.3" lengthAdjust="spacing">70 sfu</text>
<text class="r" x="570.9" y="884.9" font-size="28" textLength="243.4" lengthAdjust="spacing">Latest: 20:00 UT</text>
<text class="r" x="591.4" y="910.6" font-size="28" textLength="202.3" lengthAdjust="spacing">2025-Apr-13</text>
</svg>
</body></html>
